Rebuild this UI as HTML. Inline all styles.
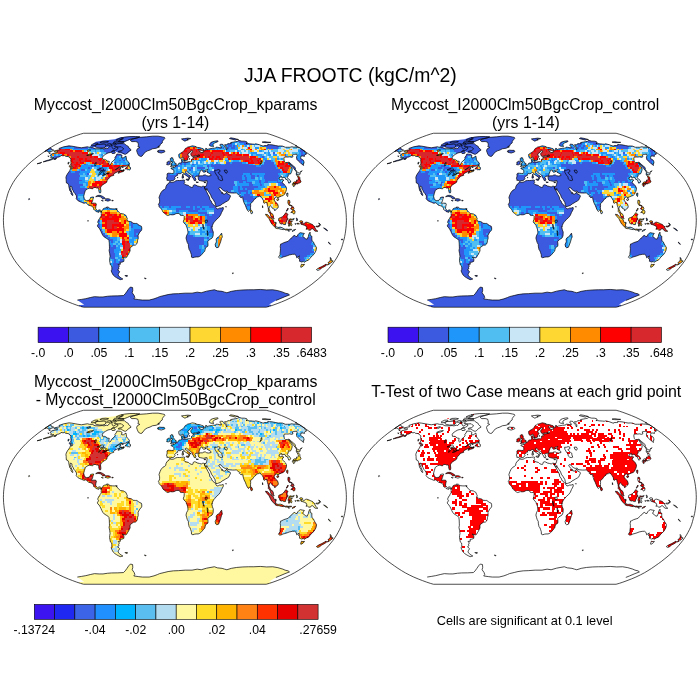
<!DOCTYPE html><html><head><meta charset="utf-8"><title>JJA FROOTC</title><style>html,body{margin:0;padding:0;background:#fff}svg{display:block}text{font-family:"Liberation Sans",Arial,Helvetica,sans-serif;fill:#000}</style></head><body><svg width="700" height="700" viewBox="0 0 700 700"><rect width="700" height="700" fill="#fff"/><defs><clipPath id="lc"><path clip-rule="nonzero" d="M-120.8,-69.3L-120.7,-68.4L-118.6,-68.3L-117.0,-68.4L-118.0,-67.6L-120.2,-67.0L-121.9,-66.8L-124.1,-65.7L-124.6,-64.7L-123.6,-63.9L-124.4,-62.9L-123.5,-62.7L-122.5,-62.6L-121.1,-62.6L-123.4,-61.4L-126.3,-60.2L-128.4,-59.7L-131.7,-58.4L-129.9,-58.7L-127.2,-59.4L-125.0,-59.9L-122.4,-60.9L-119.4,-61.9L-117.9,-62.9L-116.0,-63.2L-112.8,-65.1L-112.5,-64.4L-110.2,-64.7L-109.2,-63.9L-106.7,-63.7L-105.7,-63.2L-105.3,-62.4L-103.9,-61.4L-104.2,-59.4L-103.9,-58.4L-103.9,-56.3L-104.4,-55.1L-103.1,-54.0L-102.4,-53.0L-102.1,-52.5L-103.0,-51.1L-104.2,-52.0L-105.2,-49.5L-107.5,-46.3L-108.6,-44.2L-109.0,-42.6L-108.7,-40.8L-108.7,-39.4L-108.5,-37.3L-106.9,-36.7L-106.2,-35.1L-105.9,-32.9L-105.5,-31.3L-105.2,-29.7L-103.8,-28.0L-103.9,-26.6L-102.6,-24.8L-101.9,-25.0L-102.2,-25.9L-103.1,-28.0L-104.0,-30.2L-104.9,-32.4L-104.3,-34.2L-103.0,-33.4L-102.9,-31.3L-101.8,-29.7L-101.1,-28.0L-100.1,-27.0L-98.7,-24.8L-98.3,-23.2L-98.7,-21.6L-97.1,-19.7L-95.0,-18.6L-93.2,-17.9L-90.9,-16.9L-89.0,-17.5L-88.1,-16.7L-86.4,-15.1L-84.6,-14.6L-82.7,-14.0L-81.3,-12.1L-81.3,-10.8L-80.2,-10.2L-78.8,-8.8L-77.4,-8.3L-76.0,-7.9L-76.0,-9.2L-74.5,-9.0L-74.0,-7.8L-73.4,-9.3L-74.3,-10.0L-75.6,-10.4L-77.4,-9.6L-78.3,-10.2L-79.3,-11.9L-79.0,-14.0L-78.5,-16.1L-79.1,-17.0L-81.0,-17.1L-83.7,-17.0L-83.1,-17.8L-82.3,-19.4L-82.0,-21.0L-81.2,-23.2L-82.6,-23.2L-84.4,-22.7L-84.7,-21.4L-85.8,-20.0L-87.3,-19.8L-88.7,-19.6L-90.0,-20.5L-90.7,-21.9L-91.2,-24.1L-90.4,-27.0L-89.5,-29.9L-87.1,-31.5L-85.6,-32.0L-83.8,-31.8L-83.0,-31.5L-82.1,-31.5L-81.3,-32.7L-79.0,-32.8L-78.3,-32.1L-76.8,-32.4L-76.0,-31.3L-76.2,-30.2L-75.7,-28.0L-75.1,-27.2L-74.3,-27.5L-74.0,-29.1L-74.4,-32.4L-73.7,-34.0L-72.0,-35.6L-70.4,-36.6L-69.3,-37.2L-68.2,-38.0L-67.7,-39.9L-66.9,-41.0L-65.3,-42.6L-64.8,-43.8L-62.8,-44.4L-60.9,-45.1L-61.3,-45.9L-60.2,-47.1L-58.7,-47.7L-57.2,-48.5L-54.9,-49.0L-56.5,-47.9L-56.7,-46.9L-54.4,-47.9L-52.0,-48.7L-50.9,-49.5L-51.5,-50.6L-52.7,-49.3L-54.7,-49.7L-55.1,-51.1L-53.7,-52.2L-54.1,-52.7L-56.3,-52.5L-58.5,-50.9L-59.5,-50.6L-56.6,-52.7L-54.9,-53.9L-52.0,-53.9L-49.5,-54.0L-48.0,-54.8L-45.7,-55.6L-45.4,-56.6L-46.1,-57.9L-47.3,-58.9L-48.3,-60.4L-48.6,-62.4L-48.9,-64.2L-50.1,-63.4L-51.7,-62.3L-53.5,-62.7L-52.8,-64.9L-54.5,-65.9L-55.9,-66.1L-58.0,-66.2L-58.7,-64.4L-60.0,-62.7L-59.7,-61.9L-60.5,-60.4L-63.4,-57.9L-64.0,-56.3L-65.1,-55.1L-66.0,-55.8L-66.0,-57.3L-65.6,-58.9L-67.5,-59.2L-69.1,-60.4L-70.4,-60.9L-72.3,-60.9L-72.6,-62.9L-71.6,-64.4L-69.4,-65.9L-66.9,-67.3L-64.4,-67.8L-63.0,-68.7L-61.6,-69.7L-59.3,-70.0L-57.4,-71.1L-56.8,-72.5L-58.5,-72.9L-61.6,-71.1L-62.5,-72.3L-63.0,-73.4L-63.0,-75.0L-65.7,-73.4L-67.1,-71.7L-68.3,-72.0L-70.9,-71.4L-72.7,-71.7L-75.8,-71.4L-79.9,-71.5L-82.6,-72.9L-85.4,-72.9L-87.4,-73.5L-93.5,-72.5L-97.0,-73.0L-99.7,-73.5L-103.1,-74.1L-105.9,-74.4L-111.3,-73.4L-115.9,-71.8L-114.9,-70.5L-116.8,-70.2ZM-73.4,-9.3L-73.6,-7.0L-73.7,-5.9L-73.6,-4.3L-74.8,-2.7L-75.1,-1.6L-76.0,-1.1L-76.2,-0.3L-77.0,1.1L-77.0,2.5L-76.2,3.6L-77.4,4.9L-77.2,6.5L-75.8,7.8L-75.0,9.2L-73.9,11.3L-73.1,13.2L-72.1,15.1L-70.7,16.7L-68.7,17.9L-67.0,18.9L-66.0,20.0L-65.6,22.7L-65.5,25.9L-65.4,28.0L-65.8,30.2L-65.2,33.4L-64.8,36.1L-65.2,38.3L-65.3,40.4L-64.9,42.6L-64.5,44.7L-63.2,45.8L-63.1,47.4L-63.0,49.0L-63.7,50.6L-63.1,52.2L-61.7,54.8L-60.1,56.3L-58.6,57.3L-56.7,58.4L-54.7,59.4L-53.2,59.2L-52.0,58.7L-52.7,58.4L-55.2,56.8L-55.7,56.1L-56.8,54.8L-56.6,53.9L-56.3,53.2L-55.3,51.6L-55.5,51.1L-57.3,49.5L-55.9,48.5L-56.3,46.9L-55.4,45.8L-56.8,44.2L-54.5,44.0L-54.7,42.1L-53.0,41.9L-51.1,41.2L-50.9,39.4L-51.3,38.3L-52.6,36.7L-50.8,37.5L-49.4,37.6L-48.2,37.0L-47.5,35.6L-46.4,34.0L-45.7,32.4L-44.8,30.7L-44.9,28.6L-44.5,27.3L-42.7,25.9L-41.4,25.0L-39.4,24.8L-38.2,23.7L-37.4,21.6L-37.3,20.0L-36.7,18.3L-36.8,15.1L-36.2,13.8L-35.1,11.9L-33.2,9.7L-33.1,7.6L-33.6,5.9L-35.0,5.4L-36.6,4.3L-38.1,3.2L-39.5,3.2L-41.9,3.0L-42.9,1.9L-44.3,1.3L-46.2,1.1L-48.1,0.0L-47.6,-1.6L-48.1,-2.7L-49.0,-4.9L-50.0,-5.4L-51.4,-6.3L-52.8,-6.5L-54.7,-6.8L-55.6,-7.6L-57.0,-9.2L-57.9,-10.2L-58.8,-11.5L-60.7,-11.3L-62.6,-11.4L-64.9,-11.6L-66.3,-12.9L-67.8,-11.9L-67.6,-13.5L-69.1,-12.4L-70.3,-12.1L-71.6,-11.6L-72.1,-10.2ZM-5.4,-38.6L-6.1,-36.9L-7.7,-35.9L-8.9,-33.8L-9.2,-31.8L-10.6,-30.7L-12.0,-30.0L-13.7,-28.0L-14.9,-25.6L-15.9,-22.7L-15.3,-20.5L-15.3,-18.9L-15.5,-17.3L-16.5,-15.9L-15.9,-14.6L-15.8,-13.5L-14.2,-11.9L-13.1,-10.6L-12.5,-9.5L-11.9,-8.1L-10.9,-7.3L-10.0,-6.7L-8.6,-5.4L-7.1,-4.7L-5.7,-5.2L-4.3,-5.6L-2.7,-5.4L-1.0,-5.6L0.5,-6.3L1.9,-6.8L4.2,-6.8L4.8,-6.3L5.5,-4.9L6.7,-4.7L8.4,-4.9L9.3,-3.8L9.3,-2.2L9.1,-0.5L8.4,0.9L9.0,2.7L10.5,4.1L11.4,5.4L11.6,6.5L12.2,7.6L12.8,9.7L13.1,11.9L12.8,13.5L11.8,15.1L11.1,17.8L11.7,20.0L12.3,22.1L13.5,24.3L13.5,25.9L13.9,28.0L14.1,29.1L15.2,30.7L15.8,32.4L16.5,34.5L16.6,36.9L18.0,37.5L19.8,36.9L21.2,36.7L23.2,36.7L24.4,36.3L25.8,35.4L27.3,33.8L28.4,32.4L29.8,31.0L30.3,29.1L30.6,27.5L33.0,25.9L33.1,23.7L32.8,21.4L34.8,19.2L37.2,17.8L38.2,15.6L38.4,11.6L37.9,10.8L37.5,9.2L36.9,7.0L37.6,4.9L38.6,2.7L40.0,1.1L41.9,-1.1L43.8,-2.7L45.5,-4.9L46.6,-7.6L47.5,-9.2L48.5,-11.3L48.3,-12.8L46.4,-12.2L44.5,-12.1L43.6,-11.6L42.2,-11.3L41.0,-12.5L40.7,-13.5L39.2,-15.1L37.7,-16.2L37.0,-17.3L36.2,-19.4L35.0,-20.5L34.5,-23.2L34.0,-24.1L33.0,-25.9L31.4,-29.1L30.5,-30.5L29.7,-32.2L29.5,-33.7L28.7,-34.0L27.8,-34.0L26.4,-33.3L24.6,-33.8L22.7,-34.2L20.9,-35.2L19.5,-35.5L18.3,-34.8L18.2,-34.0L17.8,-32.9L16.4,-32.9L14.6,-33.8L13.6,-34.8L11.3,-35.4L9.9,-35.8L9.2,-36.9L9.9,-37.8L9.4,-38.8L9.8,-39.9L8.7,-40.2L6.7,-39.9L4.5,-39.7L2.7,-39.8L0.9,-39.4L-0.4,-38.6L-1.8,-38.0L-4.0,-38.0ZM-4.9,-38.8L-4.0,-39.6L-1.8,-39.7L-0.6,-40.5L0.2,-41.8L-0.3,-42.6L0.7,-44.0L2.9,-45.1L2.8,-45.8L3.4,-46.9L5.2,-46.4L6.4,-47.2L7.5,-47.8L8.8,-47.3L9.1,-46.3L10.7,-45.1L12.2,-44.1L13.6,-43.3L14.1,-42.1L13.9,-41.0L14.4,-41.0L14.6,-42.6L14.9,-43.7L16.2,-43.3L15.3,-44.2L13.7,-45.3L11.8,-46.9L10.7,-47.4L10.6,-48.8L11.7,-49.1L12.4,-48.7L13.8,-46.9L16.0,-45.8L16.9,-44.7L17.5,-42.9L18.8,-41.3L19.3,-39.8L20.5,-39.4L21.1,-41.2L20.1,-42.4L20.2,-43.4L21.0,-44.0L22.9,-44.0L24.4,-44.8L24.1,-46.0L24.6,-47.2L25.3,-48.8L26.0,-50.0L26.9,-50.2L28.4,-49.5L27.8,-48.9L28.7,-47.9L29.9,-48.2L31.1,-48.8L30.2,-48.9L29.7,-49.7L31.7,-50.4L33.0,-50.8L31.9,-49.3L32.1,-48.1L34.3,-46.9L36.0,-45.8L36.2,-44.7L33.6,-44.2L31.8,-44.5L30.6,-45.3L29.1,-45.3L27.5,-44.4L25.3,-44.4L23.6,-43.7L23.0,-43.1L23.6,-42.4L23.3,-41.3L24.3,-39.8L25.9,-39.5L27.2,-39.2L29.1,-38.9L30.8,-39.6L32.2,-39.5L32.2,-37.8L31.7,-35.4L31.1,-33.8L29.7,-33.7L29.8,-32.2L30.5,-30.8L31.5,-30.0L31.6,-30.2L31.9,-31.8L32.5,-30.2L34.4,-27.5L35.8,-25.3L36.6,-23.0L38.4,-20.5L40.0,-17.8L40.4,-16.0L41.1,-13.7L42.6,-13.8L44.0,-14.3L46.0,-15.1L47.2,-16.2L49.2,-17.3L50.8,-18.3L52.6,-19.3L54.1,-20.5L54.7,-22.0L55.7,-24.2L54.6,-25.5L52.4,-26.4L52.0,-28.3L50.1,-26.1L48.0,-26.4L47.4,-28.0L47.1,-26.6L46.6,-27.7L46.2,-28.8L44.7,-30.5L43.9,-32.1L44.6,-32.7L45.7,-32.6L46.6,-31.3L48.4,-29.8L50.3,-28.8L52.3,-29.2L53.2,-27.7L55.1,-27.4L57.5,-27.2L59.3,-27.2L61.6,-27.4L62.4,-26.6L63.7,-25.3L65.4,-24.8L64.5,-23.9L66.2,-22.4L67.5,-23.3L67.8,-22.7L68.2,-20.5L69.2,-17.3L70.4,-15.1L71.3,-12.7L72.4,-10.2L73.6,-8.7L74.2,-9.6L74.8,-9.9L75.7,-11.1L75.6,-12.7L75.8,-14.6L75.6,-16.7L77.4,-18.0L78.4,-19.4L79.6,-21.0L81.2,-22.1L81.2,-23.0L83.0,-23.5L84.1,-23.7L85.2,-24.5L85.9,-23.2L87.5,-21.6L88.6,-19.4L88.8,-17.3L90.0,-17.0L90.8,-17.8L91.9,-17.8L92.2,-16.2L92.6,-14.6L93.2,-12.9L93.5,-10.8L93.4,-8.8L94.8,-7.3L95.5,-5.9L95.5,-4.9L96.5,-3.0L98.5,-1.4L99.3,-1.5L98.6,-2.9L98.4,-4.9L97.3,-6.7L95.8,-7.3L95.1,-9.2L94.0,-11.3L94.3,-12.4L94.6,-13.5L95.4,-14.5L96.8,-13.3L97.6,-11.9L99.6,-11.0L99.9,-9.4L100.6,-10.2L101.4,-11.2L103.2,-12.4L103.4,-14.0L102.6,-16.5L100.7,-18.1L100.1,-18.9L99.1,-20.3L99.7,-21.6L100.8,-23.3L102.4,-23.2L103.2,-21.9L103.6,-23.1L105.0,-23.5L106.3,-24.1L108.4,-24.8L110.0,-26.4L110.2,-27.3L110.9,-28.6L111.6,-30.7L111.6,-32.4L111.1,-33.2L110.7,-34.3L109.6,-35.4L108.5,-36.7L107.2,-37.8L108.0,-39.4L109.0,-40.1L106.9,-40.8L105.6,-40.4L104.1,-41.5L104.0,-42.3L105.2,-42.6L106.2,-44.1L106.9,-43.7L107.0,-42.1L107.8,-42.4L109.1,-43.1L110.2,-42.6L110.8,-41.0L112.6,-40.4L113.2,-38.8L113.9,-37.1L114.7,-37.4L115.4,-37.8L115.9,-38.3L115.2,-39.9L113.7,-41.5L112.3,-42.4L112.4,-43.1L113.3,-44.2L113.4,-45.6L113.5,-46.5L115.0,-46.1L116.0,-46.7L116.5,-47.9L116.8,-48.8L117.2,-50.0L117.3,-51.1L117.2,-52.2L115.4,-54.8L114.1,-57.0L112.3,-57.9L110.6,-57.5L109.6,-58.7L109.3,-59.9L109.0,-61.4L109.2,-62.4L109.5,-63.2L111.8,-63.2L113.4,-63.2L114.7,-63.4L116.7,-62.9L118.1,-63.4L117.4,-65.4L118.3,-65.6L119.6,-65.7L121.7,-66.2L122.3,-64.4L121.6,-63.4L121.7,-61.9L122.0,-60.7L123.3,-59.4L125.0,-57.9L126.6,-56.3L128.7,-54.8L128.3,-56.7L129.2,-57.0L129.0,-58.4L128.9,-58.9L128.4,-60.1L125.8,-61.7L125.8,-62.7L126.1,-64.1L127.3,-64.3L129.7,-63.9L129.6,-64.9L130.1,-65.7L131.8,-66.3L130.9,-67.3L129.7,-68.4L130.3,-68.7L124.8,-72.4L120.9,-73.1L118.7,-73.2L116.7,-73.4L114.9,-73.0L112.8,-73.0L110.4,-73.0L107.8,-74.1L105.5,-74.3L103.3,-74.2L100.8,-74.7L97.2,-75.4L94.9,-75.6L92.8,-75.7L92.8,-74.7L91.4,-74.7L89.4,-74.7L89.2,-74.1L87.4,-74.4L84.3,-75.6L80.9,-76.4L79.5,-76.0L77.6,-76.2L74.4,-76.4L72.7,-76.7L71.1,-76.7L72.4,-77.3L71.7,-78.6L69.4,-79.1L66.9,-79.1L64.0,-79.9L62.7,-79.0L60.6,-78.6L58.5,-78.2L55.8,-77.7L56.3,-76.9L54.6,-76.6L52.7,-76.5L51.9,-75.4L49.8,-75.6L50.1,-74.7L52.0,-72.5L52.1,-71.1L51.6,-70.2L51.2,-72.0L49.6,-73.4L49.2,-74.3L48.0,-75.8L46.8,-76.0L45.5,-76.0L45.1,-75.6L45.0,-74.7L46.3,-73.8L46.5,-72.3L44.5,-72.7L42.6,-73.0L41.5,-73.2L41.0,-72.3L39.7,-72.1L37.6,-72.0L37.0,-71.8L35.0,-71.5L33.7,-71.3L32.7,-70.4L32.2,-71.5L30.7,-71.8L31.1,-70.0L30.0,-70.1L28.6,-69.7L29.0,-68.5L27.6,-68.3L27.5,-67.6L25.4,-68.1L25.2,-68.7L23.5,-70.3L24.5,-70.2L27.5,-69.8L29.1,-70.3L28.4,-71.4L26.5,-72.0L24.9,-72.6L22.8,-72.8L20.6,-73.1L21.1,-73.6L19.3,-74.1L17.4,-74.4L16.3,-74.1L15.0,-73.6L14.0,-73.4L12.7,-73.1L11.5,-72.2L10.5,-71.8L9.9,-70.9L9.3,-70.0L9.0,-69.5L8.0,-68.5L7.3,-67.8L6.2,-67.4L4.5,-66.3L3.9,-65.9L3.8,-64.9L4.2,-62.7L5.0,-62.1L6.2,-62.0L8.0,-63.2L8.6,-62.4L9.0,-61.4L9.8,-60.2L10.1,-59.4L11.3,-59.4L12.8,-60.2L12.8,-61.4L13.5,-62.7L14.3,-63.9L13.0,-64.9L13.0,-66.3L14.0,-67.1L15.3,-68.0L15.8,-69.2L17.2,-69.5L18.1,-68.7L17.2,-68.0L15.9,-66.8L15.9,-65.9L16.2,-64.7L17.4,-63.8L19.0,-64.1L20.4,-64.4L21.6,-64.5L23.0,-63.8L21.0,-63.4L19.5,-63.4L18.0,-63.1L18.8,-62.2L18.9,-61.4L18.4,-60.9L17.5,-61.6L16.6,-60.9L16.7,-59.2L15.8,-58.4L14.8,-58.6L13.2,-58.4L11.2,-57.9L10.0,-58.2L8.7,-57.9L8.0,-58.9L8.5,-60.2L8.2,-61.6L7.4,-61.1L6.4,-60.9L6.8,-59.1L7.0,-57.7L5.6,-57.3L4.0,-57.1L3.7,-56.3L2.9,-55.2L1.3,-54.6L0.2,-53.2L-0.8,-53.1L-1.5,-53.4L-1.3,-52.4L-2.5,-52.5L-3.8,-52.3L-3.9,-51.6L-1.9,-50.8L-1.0,-49.5L-1.0,-47.9L-1.6,-46.8L-3.4,-46.8L-5.2,-47.0L-6.9,-47.1L-7.9,-46.3L-7.7,-44.2L-8.4,-41.7L-7.8,-41.3L-8.0,-39.9L-6.7,-39.9L-5.6,-39.7ZM-124.8,-72.4L-130.3,-68.7L-128.5,-69.2L-127.0,-69.0L-126.5,-68.1L-125.2,-68.3L-121.5,-69.7L-121.4,-70.4L-123.3,-70.6L-123.6,-71.8ZM105.8,23.7L105.3,26.4L105.6,28.0L105.5,30.7L105.2,32.4L105.1,34.5L103.6,37.0L104.6,37.8L106.0,37.8L108.2,36.7L109.2,36.5L112.2,35.6L114.4,34.7L117.4,34.1L119.7,34.0L121.4,35.4L121.8,37.5L123.1,36.7L124.5,35.6L123.7,38.3L124.8,38.8L124.6,41.0L125.7,41.4L126.8,41.8L128.4,41.2L129.1,42.1L131.3,40.8L133.6,39.9L134.9,38.3L136.2,36.7L139.1,34.0L141.0,30.7L141.7,27.5L140.4,25.3L139.4,23.7L138.5,21.6L137.1,20.5L136.9,17.8L137.0,16.0L135.5,15.3L135.3,13.5L135.2,11.9L134.0,13.8L133.5,16.2L132.3,18.9L130.7,18.7L129.5,17.3L127.8,16.2L128.5,14.6L129.5,13.2L127.8,12.9L125.5,12.4L124.0,13.3L122.9,14.6L122.2,16.2L120.7,16.2L119.9,15.1L118.5,15.6L117.3,17.3L115.7,18.3L114.7,19.4L113.3,21.0L111.4,21.6L108.9,22.4L106.8,23.5ZM-98.1,84.9L-91.3,88.0L91.3,88.0L98.1,84.9L94.2,84.3L101.0,80.2L104.7,78.7L110.1,76.4L114.6,74.7L113.2,73.6L110.2,72.9L108.0,71.9L103.0,70.4L97.8,69.5L91.7,69.7L85.4,69.2L78.9,69.5L73.8,69.5L68.0,69.7L61.8,70.2L56.4,71.1L52.0,72.5L49.7,71.9L47.2,71.1L42.5,70.6L39.5,69.5L31.8,70.9L26.3,72.5L22.3,71.9L17.2,72.9L10.3,72.9L3.4,73.4L-1.6,73.6L-6.8,74.3L-10.0,75.1L-15.4,76.4L-17.4,77.3L-20.9,78.6L-25.7,79.8L-32.5,79.8L-36.1,79.4L-41.1,78.7L-40.1,77.3L-40.7,75.3L-42.7,72.5L-42.1,70.2L-42.3,67.3L-44.5,66.8L-46.3,68.7L-47.9,71.1L-49.7,73.6L-51.4,75.3L-57.1,75.6L-63.4,75.7L-67.3,76.0L-71.9,76.7L-75.7,76.7L-80.5,76.4L-84.6,77.3L-89.1,78.4L-93.6,79.2L-97.6,79.8L-90.7,84.6ZM-44.5,-80.3L-44.2,-79.4L-43.0,-78.6L-39.7,-78.7L-37.2,-78.1L-36.8,-76.9L-36.4,-75.1L-37.1,-73.8L-35.1,-72.9L-37.5,-71.5L-38.3,-69.7L-37.7,-67.8L-37.1,-66.3L-36.2,-64.7L-34.3,-63.8L-32.9,-64.1L-31.2,-66.3L-29.5,-68.3L-27.3,-69.4L-24.9,-70.2L-22.4,-71.5L-18.8,-72.0L-15.4,-73.4L-17.1,-73.6L-14.8,-74.7L-14.5,-76.0L-12.6,-77.3L-12.6,-78.6L-11.6,-80.2L-10.1,-81.7L-10.4,-82.8L-12.5,-83.3L-16.8,-84.1L-22.3,-84.1L-28.4,-83.4L-35.7,-82.9L-40.3,-81.7ZM-17.5,-69.2L-17.4,-68.6L-16.0,-68.6L-16.6,-67.8L-15.4,-67.6L-13.6,-67.2L-10.9,-68.1L-9.9,-68.7L-10.7,-69.9L-12.9,-69.9L-15.7,-70.1ZM-4.5,-53.7L-2.9,-54.0L-0.8,-54.4L1.1,-55.0L1.4,-56.5L0.2,-56.8L-0.2,-57.9L-1.2,-59.1L-1.7,-59.9L-1.6,-61.4L-2.7,-61.6L-2.3,-62.5L-3.9,-62.5L-4.7,-61.4L-4.3,-59.9L-4.0,-58.7L-2.6,-58.7L-2.4,-57.3L-3.6,-57.0L-3.5,-56.0L-4.2,-55.6L-2.7,-55.2L-3.7,-54.8ZM-8.2,-55.6L-6.5,-55.4L-5.1,-56.0L-4.8,-57.3L-4.5,-58.5L-5.2,-59.1L-6.5,-59.1L-6.8,-58.3L-8.0,-58.1L-7.7,-57.1L-8.1,-56.3ZM6.6,-81.3L8.6,-79.8L10.0,-79.1L11.7,-79.8L13.4,-80.4L12.0,-81.0L14.4,-81.2L16.0,-81.7L12.9,-82.1L9.5,-81.7ZM34.6,-74.7L35.9,-74.1L37.4,-73.9L39.0,-74.0L37.9,-74.9L38.3,-76.0L39.4,-77.3L42.0,-78.1L43.3,-78.9L42.9,-79.4L40.6,-79.2L37.9,-78.6L35.9,-77.7L35.2,-76.7L34.5,-75.6ZM57.2,-81.0L60.6,-80.2L62.0,-81.0L63.7,-80.6L59.0,-81.9L55.9,-82.4L54.5,-81.7ZM87.2,-78.1L90.1,-77.6L93.3,-77.6L95.9,-77.9L93.0,-78.1L89.7,-78.6ZM118.0,-36.7L119.1,-36.5L120.2,-37.0L121.5,-37.3L122.2,-36.1L123.2,-37.0L124.8,-37.3L125.7,-37.8L126.1,-38.5L125.0,-41.0L125.0,-42.6L123.4,-44.5L122.5,-44.2L123.2,-42.6L123.6,-41.2L122.5,-39.9L121.6,-40.2L121.8,-38.6L119.2,-38.3L117.9,-37.2ZM122.0,-44.7L122.2,-45.8L124.5,-45.3L125.5,-46.7L123.9,-47.4L121.0,-48.9L122.0,-46.9L121.1,-46.5ZM117.3,-35.9L117.9,-35.1L118.6,-33.7L119.3,-33.8L119.4,-35.4L118.2,-36.5ZM119.5,-36.1L120.3,-35.4L120.8,-35.6L121.5,-36.5L120.7,-37.0ZM113.6,-58.2L115.1,-56.3L117.0,-54.2L119.0,-51.6L120.3,-49.8L121.5,-49.5L120.6,-50.6L120.3,-52.7L117.2,-55.3L115.4,-57.1ZM112.1,-27.2L111.7,-26.2L111.8,-24.8L112.7,-23.7L112.9,-24.8L113.1,-27.0ZM101.8,-20.8L102.3,-19.7L103.5,-20.0L103.9,-21.2L102.9,-21.6ZM113.1,-20.0L113.0,-17.3L113.7,-15.6L114.3,-14.8L115.8,-14.6L117.3,-13.6L117.2,-14.6L115.2,-15.1L114.5,-16.7L115.1,-17.8L114.7,-19.8ZM116.0,-7.6L117.3,-8.1L117.9,-7.0L119.2,-6.1L119.8,-6.8L120.2,-8.6L119.1,-10.5L117.3,-9.2ZM115.7,-11.3L116.6,-11.3L117.2,-10.2L118.5,-10.8L119.1,-11.9L118.3,-13.5L116.5,-12.7ZM111.3,-9.2L111.9,-9.1L113.1,-10.8L113.2,-12.2ZM103.8,-1.6L103.8,0.5L104.8,1.6L104.9,3.0L106.4,3.8L107.6,3.5L109.0,4.3L110.6,4.3L110.9,2.5L111.9,0.9L112.2,-0.8L113.4,-1.1L112.4,-2.2L112.1,-3.2L112.3,-4.6L113.2,-5.7L112.0,-6.8L110.9,-7.6L109.4,-5.4L107.6,-3.6L106.0,-2.7L104.3,-2.2ZM90.6,-6.0L90.9,-5.2L92.4,-3.5L94.1,-1.6L95.3,0.9L96.2,2.7L97.3,4.3L99.4,6.3L100.6,6.3L100.9,3.2L99.5,2.2L98.9,1.1L98.6,0.0L97.0,-1.8L95.7,-2.4L94.0,-4.1L92.8,-5.6ZM100.0,7.3L101.2,8.0L102.6,8.4L104.0,8.4L106.4,9.1L108.6,9.4L108.8,8.3L107.1,7.4L105.3,6.9L103.1,7.2L101.3,6.5ZM109.2,8.8L110.1,9.6L111.0,9.8L113.0,9.6L114.9,9.6L116.6,9.5L116.8,9.0L114.4,9.0L113.2,9.2L112.1,8.8L110.6,9.0ZM117.1,11.1L117.6,11.1L118.6,10.6L120.0,9.9L120.8,9.1L118.6,9.7ZM114.1,-0.5L113.6,1.4L113.1,2.9L113.8,3.8L113.7,5.9L114.5,5.9L114.6,3.2L115.2,2.9L115.6,5.1L116.5,5.7L117.1,4.5L116.6,3.5L116.0,2.0L117.0,1.6L117.5,0.9L115.7,1.0L114.6,1.0L115.3,-0.4L117.2,-0.4L118.6,-0.4L119.3,-1.7L117.2,-1.0L115.1,-1.4ZM121.4,-2.2L121.7,-0.9L121.9,0.8L122.6,-0.3L122.4,-1.6ZM121.9,3.2L121.9,3.7L123.3,3.8L124.5,3.6L123.3,3.0ZM124.8,0.9L124.8,1.5L126.0,2.4L127.1,2.6L125.7,3.1L126.4,4.3L127.1,4.2L129.4,5.0L131.3,5.9L131.9,7.6L131.1,9.0L132.5,8.8L133.8,9.8L135.5,9.9L135.8,9.2L137.3,8.3L138.6,9.2L139.9,10.8L141.3,11.1L142.9,11.1L142.3,10.6L141.0,9.2L139.9,7.3L140.3,6.5L138.7,5.7L137.7,4.3L136.1,3.7L134.3,2.8L131.9,1.9L130.5,2.2L128.7,3.7L127.8,2.7L127.7,1.0L126.2,0.4ZM141.1,5.9L141.7,6.7L143.1,6.7L144.6,5.9L144.9,4.5L144.2,5.3L142.7,5.9ZM143.6,2.8L144.2,3.5L145.1,4.3L145.6,5.0L145.2,3.8ZM75.7,-10.5L75.7,-8.1L76.3,-6.5L77.3,-6.8L77.7,-8.1L76.7,-9.9ZM46.7,12.9L45.4,14.6L44.3,16.4L42.4,17.3L41.3,18.9L41.5,21.6L40.3,24.3L40.8,26.7L41.9,27.5L43.6,27.0L44.5,24.8L45.7,21.6L46.6,18.3L47.4,16.7ZM155.4,37.2L155.5,39.7L154.9,41.0L153.1,42.4L153.7,43.1L152.4,44.5L152.6,44.8L154.8,43.7L155.8,42.6L157.6,41.6L158.1,40.5L156.4,40.7L156.5,39.6L156.1,38.1ZM151.2,43.8L149.2,45.1L146.9,46.3L144.1,47.6L141.5,49.3L142.0,49.7L142.9,50.2L144.8,49.4L146.9,47.7L149.3,46.5L151.7,44.9ZM126.6,43.9L126.0,45.6L125.8,46.9L126.6,46.9L128.6,45.5L129.6,44.1L127.9,44.3ZM-79.2,-23.6L-77.4,-23.7L-76.0,-23.8L-73.7,-23.2L-72.9,-22.2L-72.5,-21.5L-70.7,-21.5L-69.4,-21.8L-70.5,-22.7L-72.7,-24.1L-74.9,-24.9L-77.3,-24.8ZM-69.8,-19.8L-68.1,-19.5L-67.0,-19.1L-65.2,-19.7L-64.2,-20.2L-65.5,-21.2L-66.9,-21.5L-68.6,-21.5ZM-73.5,-19.8L-72.5,-19.2L-71.6,-19.4L-72.2,-20.0ZM-63.0,-20.0L-63.1,-19.4L-61.8,-19.4L-61.6,-19.8ZM-49.8,-51.3L-48.3,-51.2L-47.3,-50.5L-46.4,-50.6L-45.2,-50.3L-44.4,-51.1L-44.5,-52.9L-45.9,-53.7L-45.6,-55.3L-47.4,-54.2ZM-105.5,-54.6L-105.6,-53.8L-104.6,-52.5L-103.5,-51.9L-103.0,-52.4L-104.0,-54.0ZM-52.6,-76.6L-55.5,-76.6L-57.6,-76.4L-59.8,-75.1L-60.6,-73.8L-58.1,-73.5L-56.1,-73.4L-53.6,-73.5L-52.6,-72.5L-51.1,-71.5L-53.0,-69.7L-56.3,-69.0L-56.5,-68.1L-53.8,-68.3L-52.6,-67.3L-50.9,-66.3L-49.6,-65.9L-48.0,-66.8L-46.3,-68.7L-43.9,-70.0L-43.9,-70.6L-46.3,-72.7L-46.6,-73.8L-48.8,-75.1L-50.4,-76.5ZM-79.8,-73.6L-78.0,-72.7L-75.1,-72.2L-72.2,-72.3L-69.9,-72.9L-69.0,-74.3L-69.4,-75.8L-71.0,-76.2L-74.8,-75.8L-77.7,-75.8L-80.0,-74.7ZM-83.8,-75.1L-83.0,-74.4L-80.7,-74.7L-76.9,-76.3L-77.1,-77.1L-80.0,-77.1L-82.4,-76.0ZM-56.4,-79.0L-53.5,-78.8L-50.4,-78.7L-47.5,-79.8L-45.1,-81.0L-41.4,-81.7L-37.1,-82.6L-35.2,-83.4L-39.4,-83.7L-45.0,-83.7L-50.4,-83.1L-53.6,-82.4L-52.5,-81.3L-55.1,-80.2ZM-61.6,-77.7L-59.4,-77.4L-55.6,-77.3L-51.5,-77.5L-50.8,-78.3L-54.5,-78.4L-57.7,-79.0L-60.2,-79.0ZM-58.8,-80.2L-56.9,-80.2L-53.4,-80.6L-51.5,-81.7L-53.0,-82.4L-56.2,-81.7ZM-75.0,-77.7L-72.4,-77.3L-68.2,-77.6L-66.3,-78.6L-69.0,-79.0L-73.0,-78.8ZM-68.5,-75.1L-67.0,-75.0L-64.8,-75.1L-63.5,-76.4L-65.6,-76.7L-67.6,-76.0ZM-63.6,-75.4L-62.1,-75.1L-58.7,-76.7L-60.3,-77.0L-62.5,-76.5ZM-62.6,-69.2L-63.6,-67.8L-62.8,-66.8L-60.6,-66.8L-59.5,-67.3L-60.6,-69.0ZM-120.5,-61.2L-120.5,-60.7L-118.8,-61.2L-118.3,-61.8ZM-106.7,-57.9L-106.9,-56.8L-106.6,-56.0L-105.7,-57.9ZM7.2,-42.1L8.6,-42.3L8.5,-44.2L7.3,-44.1ZM7.5,-44.7L8.3,-44.7L8.1,-46.3ZM11.1,-41.0L11.4,-40.4L13.5,-39.7L13.7,-41.2ZM21.1,-38.3L22.0,-37.6L23.5,-38.0ZM29.0,-37.8L30.4,-37.4L30.9,-38.4ZM8.9,-59.6L9.8,-58.9L9.9,-59.9ZM14.2,-61.1L14.7,-60.9L14.7,-61.8ZM-146.2,-20.6L-145.2,-21.1L-145.8,-21.8ZM153.4,21.8L154.4,23.5L155.7,24.1L155.3,23.5ZM166.6,18.9L166.5,19.5L167.6,19.6L167.7,18.9ZM148.7,7.6L149.6,8.6L151.8,10.2L152.7,10.6L151.5,9.0ZM-49.9,55.3L-49.2,56.0L-47.6,56.1L-47.5,55.2ZM-30.5,57.9L-29.1,58.7L-28.8,58.2ZM57.5,52.7L57.6,53.4L58.6,52.9ZM50.6,-13.6L50.9,-13.3L51.6,-13.5ZM-58.6,-11.5L-58.7,-10.9L-57.8,-10.9L-57.8,-11.6ZM-87.2,0.3L-86.9,1.1L-86.5,0.4ZM2.2,-42.6L2.8,-42.4L3.0,-43.0ZM37.3,6.3L37.4,6.9L37.6,6.7ZM100.3,1.9L100.9,3.2L101.6,2.7ZM120.0,3.5L120.4,4.1L121.1,3.6ZM112.9,10.2L113.8,11.1L114.6,10.7ZM87.6,-14.6L87.6,-12.4L88.0,-12.9ZM125.0,-47.9L126.4,-48.5L127.3,-49.5L126.4,-49.0ZM-137.8,-56.5L-134.7,-57.1L-133.2,-57.9L-135.5,-57.1ZM-126.1,-67.3L-125.6,-66.8L-124.5,-67.1ZM-127.1,-64.1L-126.5,-63.7L-125.8,-64.1ZM-54.4,-50.2L-53.5,-49.5L-52.5,-49.9ZM-53.4,-53.5L-52.8,-52.9L-51.5,-53.0ZM-52.2,-49.1L-50.8,-49.5L-50.9,-50.6ZM120.5,-74.4L121.9,-74.2L121.0,-74.7ZM-85.6,-73.4L-79.2,-72.9L-72.7,-72.5L-66.8,-72.9L-62.3,-72.5L-61.6,-70.6L-63.0,-68.7L-59.4,-68.7L-57.0,-67.8L-50.7,-65.9L-47.3,-66.8L-43.9,-70.6L-46.6,-73.4L-49.8,-75.6L-52.0,-76.9L-48.9,-79.0L-43.3,-81.0L-35.8,-82.8L-34.9,-83.7L-41.9,-84.1L-54.4,-83.1L-60.2,-81.0L-71.0,-79.8L-79.0,-78.6Z"/></clipPath><path id="cst" fill="none" stroke="#000" stroke-width="0.7" stroke-linejoin="round" d="M-120.8,-69.3L-116.8,-70.2L-114.9,-70.5L-115.9,-71.8L-111.3,-73.4L-105.9,-74.4L-103.1,-74.1L-99.7,-73.5L-97.0,-73.0L-93.5,-72.5L-87.4,-73.5L-85.4,-72.9L-82.6,-72.9L-79.9,-71.5L-75.8,-71.4L-72.7,-71.7L-70.9,-71.4L-68.3,-72.0L-67.1,-71.7L-65.7,-73.4L-63.0,-75.0L-63.0,-73.4L-62.5,-72.3L-61.6,-71.1L-58.5,-72.9L-56.8,-72.5L-57.4,-71.1L-59.3,-70.0L-61.6,-69.7L-63.0,-68.7L-64.4,-67.8L-66.9,-67.3L-69.4,-65.9L-71.6,-64.4L-72.6,-62.9L-72.3,-60.9L-70.4,-60.9L-69.1,-60.4L-67.5,-59.2L-65.6,-58.9L-66.0,-57.3L-66.0,-55.8L-65.1,-55.1L-64.0,-56.3L-63.4,-57.9L-60.5,-60.4L-59.7,-61.9L-60.0,-62.7L-58.7,-64.4L-58.0,-66.2L-55.9,-66.1L-54.5,-65.9L-52.8,-64.9L-53.5,-62.7L-51.7,-62.3L-50.1,-63.4L-48.9,-64.2L-48.6,-62.4L-48.3,-60.4L-47.3,-58.9L-46.1,-57.9L-45.4,-56.6L-45.7,-55.6L-48.0,-54.8L-49.5,-54.0L-52.0,-53.9L-54.9,-53.9L-56.6,-52.7L-59.5,-50.6L-58.5,-50.9L-56.3,-52.5L-54.1,-52.7L-53.7,-52.2L-55.1,-51.1L-54.7,-49.7L-52.7,-49.3L-51.5,-50.6L-50.9,-49.5L-52.0,-48.7L-54.4,-47.9L-56.7,-46.9L-56.5,-47.9L-54.9,-49.0L-57.2,-48.5L-58.7,-47.7L-60.2,-47.1L-61.3,-45.9L-60.9,-45.1L-62.8,-44.4L-64.8,-43.8L-65.3,-42.6L-66.9,-41.0L-67.7,-39.9L-68.2,-38.0L-69.3,-37.2L-70.4,-36.6L-72.0,-35.6L-73.7,-34.0L-74.4,-32.4L-74.0,-29.1L-74.3,-27.5L-75.1,-27.2L-75.7,-28.0L-76.2,-30.2L-76.0,-31.3L-76.8,-32.4L-78.3,-32.1L-79.0,-32.8L-81.3,-32.7L-82.1,-31.5L-83.0,-31.5L-83.8,-31.8L-85.6,-32.0L-87.1,-31.5L-89.5,-29.9L-90.4,-27.0L-91.2,-24.1L-90.7,-21.9L-90.0,-20.5L-88.7,-19.6L-87.3,-19.8L-85.8,-20.0L-84.7,-21.4L-84.4,-22.7L-82.6,-23.2L-81.2,-23.2L-82.0,-21.0L-82.3,-19.4L-83.1,-17.8L-83.7,-17.0L-81.0,-17.1L-79.1,-17.0L-78.5,-16.1L-79.0,-14.0L-79.3,-11.9L-78.3,-10.2L-77.4,-9.6L-75.6,-10.4L-74.3,-10.0L-73.4,-9.3L-74.0,-7.8L-74.5,-9.0L-76.0,-9.2L-76.0,-7.9L-77.4,-8.3L-78.8,-8.8L-80.2,-10.2L-81.3,-10.8L-81.3,-12.1L-82.7,-14.0L-84.6,-14.6L-86.4,-15.1L-88.1,-16.7L-89.0,-17.5L-90.9,-16.9L-93.2,-17.9L-95.0,-18.6L-97.1,-19.7L-98.7,-21.6L-98.3,-23.2L-98.7,-24.8L-100.1,-27.0L-101.1,-28.0L-101.8,-29.7L-102.9,-31.3L-103.0,-33.4L-104.3,-34.2L-104.9,-32.4L-104.0,-30.2L-103.1,-28.0L-102.2,-25.9L-101.9,-25.0L-102.6,-24.8L-103.9,-26.6L-103.8,-28.0L-105.2,-29.7L-105.5,-31.3L-105.9,-32.9L-106.2,-35.1L-106.9,-36.7L-108.5,-37.3L-108.7,-39.4L-108.7,-40.8L-109.0,-42.6L-108.6,-44.2L-107.5,-46.3L-105.2,-49.5L-104.2,-52.0L-103.0,-51.1L-102.1,-52.5L-102.4,-53.0L-103.1,-54.0L-104.4,-55.1L-103.9,-56.3L-103.9,-58.4L-104.2,-59.4L-103.9,-61.4L-105.3,-62.4L-105.7,-63.2L-106.7,-63.7L-109.2,-63.9L-110.2,-64.7L-112.5,-64.4L-112.8,-65.1L-116.0,-63.2L-117.9,-62.9L-119.4,-61.9L-122.4,-60.9L-125.0,-59.9L-127.2,-59.4L-129.9,-58.7L-131.7,-58.4L-128.4,-59.7L-126.3,-60.2L-123.4,-61.4L-121.1,-62.6L-122.5,-62.6L-123.5,-62.7L-124.4,-62.9L-123.6,-63.9L-124.6,-64.7L-124.1,-65.7L-121.9,-66.8L-120.2,-67.0L-118.0,-67.6L-117.0,-68.4L-118.6,-68.3L-120.7,-68.4L-120.8,-69.3ZM-73.4,-9.3L-72.1,-10.2L-71.6,-11.6L-70.3,-12.1L-69.1,-12.4L-67.6,-13.5L-67.8,-11.9L-66.3,-12.9L-64.9,-11.6L-62.6,-11.4L-60.7,-11.3L-58.8,-11.5L-57.9,-10.2L-57.0,-9.2L-55.6,-7.6L-54.7,-6.8L-52.8,-6.5L-51.4,-6.3L-50.0,-5.4L-49.0,-4.9L-48.1,-2.7L-47.6,-1.6L-48.1,0.0L-46.2,1.1L-44.3,1.3L-42.9,1.9L-41.9,3.0L-39.5,3.2L-38.1,3.2L-36.6,4.3L-35.0,5.4L-33.6,5.9L-33.1,7.6L-33.2,9.7L-35.1,11.9L-36.2,13.8L-36.8,15.1L-36.7,18.3L-37.3,20.0L-37.4,21.6L-38.2,23.7L-39.4,24.8L-41.4,25.0L-42.7,25.9L-44.5,27.3L-44.9,28.6L-44.8,30.7L-45.7,32.4L-46.4,34.0L-47.5,35.6L-48.2,37.0L-49.4,37.6L-50.8,37.5L-52.6,36.7L-51.3,38.3L-50.9,39.4L-51.1,41.2L-53.0,41.9L-54.7,42.1L-54.5,44.0L-56.8,44.2L-55.4,45.8L-56.3,46.9L-55.9,48.5L-57.3,49.5L-55.5,51.1L-55.3,51.6L-56.3,53.2L-56.6,53.9L-56.8,54.8L-55.7,56.1L-55.2,56.8L-52.7,58.4L-52.0,58.7L-53.2,59.2L-54.7,59.4L-56.7,58.4L-58.6,57.3L-60.1,56.3L-61.7,54.8L-63.1,52.2L-63.7,50.6L-63.0,49.0L-63.1,47.4L-63.2,45.8L-64.5,44.7L-64.9,42.6L-65.3,40.4L-65.2,38.3L-64.8,36.1L-65.2,33.4L-65.8,30.2L-65.4,28.0L-65.5,25.9L-65.6,22.7L-66.0,20.0L-67.0,18.9L-68.7,17.9L-70.7,16.7L-72.1,15.1L-73.1,13.2L-73.9,11.3L-75.0,9.2L-75.8,7.8L-77.2,6.5L-77.4,4.9L-76.2,3.6L-77.0,2.5L-77.0,1.1L-76.2,-0.3L-76.0,-1.1L-75.1,-1.6L-74.8,-2.7L-73.6,-4.3L-73.7,-5.9L-73.6,-7.0ZM-5.4,-38.6L-4.0,-38.0L-1.8,-38.0L-0.4,-38.6L0.9,-39.4L2.7,-39.8L4.5,-39.7L6.7,-39.9L8.7,-40.2L9.8,-39.9L9.4,-38.8L9.9,-37.8L9.2,-36.9L9.9,-35.8L11.3,-35.4L13.6,-34.8L14.6,-33.8L16.4,-32.9L17.8,-32.9L18.2,-34.0L18.3,-34.8L19.5,-35.5L20.9,-35.2L22.7,-34.2L24.6,-33.8L26.4,-33.3L27.8,-34.0L28.7,-34.0L29.5,-33.7L29.7,-32.2L30.5,-30.5L31.4,-29.1L33.0,-25.9L34.0,-24.1L34.5,-23.2L35.0,-20.5L36.2,-19.4L37.0,-17.3L37.7,-16.2L39.2,-15.1L40.7,-13.5L41.0,-12.5L42.2,-11.3L43.6,-11.6L44.5,-12.1L46.4,-12.2L48.3,-12.8L48.5,-11.3L47.5,-9.2L46.6,-7.6L45.5,-4.9L43.8,-2.7L41.9,-1.1L40.0,1.1L38.6,2.7L37.6,4.9L36.9,7.0L37.5,9.2L37.9,10.8L38.4,11.6L38.2,15.6L37.2,17.8L34.8,19.2L32.8,21.4L33.1,23.7L33.0,25.9L30.6,27.5L30.3,29.1L29.8,31.0L28.4,32.4L27.3,33.8L25.8,35.4L24.4,36.3L23.2,36.7L21.2,36.7L19.8,36.9L18.0,37.5L16.6,36.9L16.5,34.5L15.8,32.4L15.2,30.7L14.1,29.1L13.9,28.0L13.5,25.9L13.5,24.3L12.3,22.1L11.7,20.0L11.1,17.8L11.8,15.1L12.8,13.5L13.1,11.9L12.8,9.7L12.2,7.6L11.6,6.5L11.4,5.4L10.5,4.1L9.0,2.7L8.4,0.9L9.1,-0.5L9.3,-2.2L9.3,-3.8L8.4,-4.9L6.7,-4.7L5.5,-4.9L4.8,-6.3L4.2,-6.8L1.9,-6.8L0.5,-6.3L-1.0,-5.6L-2.7,-5.4L-4.3,-5.6L-5.7,-5.2L-7.1,-4.7L-8.6,-5.4L-10.0,-6.7L-10.9,-7.3L-11.9,-8.1L-12.5,-9.5L-13.1,-10.6L-14.2,-11.9L-15.8,-13.5L-15.9,-14.6L-16.5,-15.9L-15.5,-17.3L-15.3,-18.9L-15.3,-20.5L-15.9,-22.7L-14.9,-25.6L-13.7,-28.0L-12.0,-30.0L-10.6,-30.7L-9.2,-31.8L-8.9,-33.8L-7.7,-35.9L-6.1,-36.9ZM-4.9,-38.8L-5.6,-39.7L-6.7,-39.9L-8.0,-39.9L-7.8,-41.3L-8.4,-41.7L-7.7,-44.2L-7.9,-46.3L-6.9,-47.1L-5.2,-47.0L-3.4,-46.8L-1.6,-46.8L-1.0,-47.9L-1.0,-49.5L-1.9,-50.8L-3.9,-51.6L-3.8,-52.3L-2.5,-52.5L-1.3,-52.4L-1.5,-53.4L-0.8,-53.1L0.2,-53.2L1.3,-54.6L2.9,-55.2L3.7,-56.3L4.0,-57.1L5.6,-57.3L7.0,-57.7L6.8,-59.1L6.4,-60.9L7.4,-61.1L8.2,-61.6L8.5,-60.2L8.0,-58.9L8.7,-57.9L10.0,-58.2L11.2,-57.9L13.2,-58.4L14.8,-58.6L15.8,-58.4L16.7,-59.2L16.6,-60.9L17.5,-61.6L18.4,-60.9L18.9,-61.4L18.8,-62.2L18.0,-63.1L19.5,-63.4L21.0,-63.4L23.0,-63.8L21.6,-64.5L20.4,-64.4L19.0,-64.1L17.4,-63.8L16.2,-64.7L15.9,-65.9L15.9,-66.8L17.2,-68.0L18.1,-68.7L17.2,-69.5L15.8,-69.2L15.3,-68.0L14.0,-67.1L13.0,-66.3L13.0,-64.9L14.3,-63.9L13.5,-62.7L12.8,-61.4L12.8,-60.2L11.3,-59.4L10.1,-59.4L9.8,-60.2L9.0,-61.4L8.6,-62.4L8.0,-63.2L6.2,-62.0L5.0,-62.1L4.2,-62.7L3.8,-64.9L3.9,-65.9L4.5,-66.3L6.2,-67.4L7.3,-67.8L8.0,-68.5L9.0,-69.5L9.3,-70.0L9.9,-70.9L10.5,-71.8L11.5,-72.2L12.7,-73.1L14.0,-73.4L15.0,-73.6L16.3,-74.1L17.4,-74.4L19.3,-74.1L21.1,-73.6L20.6,-73.1L22.8,-72.8L24.9,-72.6L26.5,-72.0L28.4,-71.4L29.1,-70.3L27.5,-69.8L24.5,-70.2L23.5,-70.3L25.2,-68.7L25.4,-68.1L27.5,-67.6L27.6,-68.3L29.0,-68.5L28.6,-69.7L30.0,-70.1L31.1,-70.0L30.7,-71.8L32.2,-71.5L32.7,-70.4L33.7,-71.3L35.0,-71.5L37.0,-71.8L37.6,-72.0L39.7,-72.1L41.0,-72.3L41.5,-73.2L42.6,-73.0L44.5,-72.7L46.5,-72.3L46.3,-73.8L45.0,-74.7L45.1,-75.6L45.5,-76.0L46.8,-76.0L48.0,-75.8L49.2,-74.3L49.6,-73.4L51.2,-72.0L51.6,-70.2L52.1,-71.1L52.0,-72.5L50.1,-74.7L49.8,-75.6L51.9,-75.4L52.7,-76.5L54.6,-76.6L56.3,-76.9L55.8,-77.7L58.5,-78.2L60.6,-78.6L62.7,-79.0L64.0,-79.9L66.9,-79.1L69.4,-79.1L71.7,-78.6L72.4,-77.3L71.1,-76.7L72.7,-76.7L74.4,-76.4L77.6,-76.2L79.5,-76.0L80.9,-76.4L84.3,-75.6L87.4,-74.4L89.2,-74.1L89.4,-74.7L91.4,-74.7L92.8,-74.7L92.8,-75.7L94.9,-75.6L97.2,-75.4L100.8,-74.7L103.3,-74.2L105.5,-74.3L107.8,-74.1L110.4,-73.0L112.8,-73.0L114.9,-73.0L116.7,-73.4L118.7,-73.2L120.9,-73.1L124.8,-72.4L130.3,-68.7L129.7,-68.4L130.9,-67.3L131.8,-66.3L130.1,-65.7L129.6,-64.9L129.7,-63.9L127.3,-64.3L126.1,-64.1L125.8,-62.7L125.8,-61.7L128.4,-60.1L128.9,-58.9L129.0,-58.4L129.2,-57.0L128.3,-56.7L128.7,-54.8L126.6,-56.3L125.0,-57.9L123.3,-59.4L122.0,-60.7L121.7,-61.9L121.6,-63.4L122.3,-64.4L121.7,-66.2L119.6,-65.7L118.3,-65.6L117.4,-65.4L118.1,-63.4L116.7,-62.9L114.7,-63.4L113.4,-63.2L111.8,-63.2L109.5,-63.2L109.2,-62.4L109.0,-61.4L109.3,-59.9L109.6,-58.7L110.6,-57.5L112.3,-57.9L114.1,-57.0L115.4,-54.8L117.2,-52.2L117.3,-51.1L117.2,-50.0L116.8,-48.8L116.5,-47.9L116.0,-46.7L115.0,-46.1L113.5,-46.5L113.4,-45.6L113.3,-44.2L112.4,-43.1L112.3,-42.4L113.7,-41.5L115.2,-39.9L115.9,-38.3L115.4,-37.8L114.7,-37.4L113.9,-37.1L113.2,-38.8L112.6,-40.4L110.8,-41.0L110.2,-42.6L109.1,-43.1L107.8,-42.4L107.0,-42.1L106.9,-43.7L106.2,-44.1L105.2,-42.6L104.0,-42.3L104.1,-41.5L105.6,-40.4L106.9,-40.8L109.0,-40.1L108.0,-39.4L107.2,-37.8L108.5,-36.7L109.6,-35.4L110.7,-34.3L111.1,-33.2L111.6,-32.4L111.6,-30.7L110.9,-28.6L110.2,-27.3L110.0,-26.4L108.4,-24.8L106.3,-24.1L105.0,-23.5L103.6,-23.1L103.2,-21.9L102.4,-23.2L100.8,-23.3L99.7,-21.6L99.1,-20.3L100.1,-18.9L100.7,-18.1L102.6,-16.5L103.4,-14.0L103.2,-12.4L101.4,-11.2L100.6,-10.2L99.9,-9.4L99.6,-11.0L97.6,-11.9L96.8,-13.3L95.4,-14.5L94.6,-13.5L94.3,-12.4L94.0,-11.3L95.1,-9.2L95.8,-7.3L97.3,-6.7L98.4,-4.9L98.6,-2.9L99.3,-1.5L98.5,-1.4L96.5,-3.0L95.5,-4.9L95.5,-5.9L94.8,-7.3L93.4,-8.8L93.5,-10.8L93.2,-12.9L92.6,-14.6L92.2,-16.2L91.9,-17.8L90.8,-17.8L90.0,-17.0L88.8,-17.3L88.6,-19.4L87.5,-21.6L85.9,-23.2L85.2,-24.5L84.1,-23.7L83.0,-23.5L81.2,-23.0L81.2,-22.1L79.6,-21.0L78.4,-19.4L77.4,-18.0L75.6,-16.7L75.8,-14.6L75.6,-12.7L75.7,-11.1L74.8,-9.9L74.2,-9.6L73.6,-8.7L72.4,-10.2L71.3,-12.7L70.4,-15.1L69.2,-17.3L68.2,-20.5L67.8,-22.7L67.5,-23.3L66.2,-22.4L64.5,-23.9L65.4,-24.8L63.7,-25.3L62.4,-26.6L61.6,-27.4L59.3,-27.2L57.5,-27.2L55.1,-27.4L53.2,-27.7L52.3,-29.2L50.3,-28.8L48.4,-29.8L46.6,-31.3L45.7,-32.6L44.6,-32.7L43.9,-32.1L44.7,-30.5L46.2,-28.8L46.6,-27.7L47.1,-26.6L47.4,-28.0L48.0,-26.4L50.1,-26.1L52.0,-28.3L52.4,-26.4L54.6,-25.5L55.7,-24.2L54.7,-22.0L54.1,-20.5L52.6,-19.3L50.8,-18.3L49.2,-17.3L47.2,-16.2L46.0,-15.1L44.0,-14.3L42.6,-13.8L41.1,-13.7L40.4,-16.0L40.0,-17.8L38.4,-20.5L36.6,-23.0L35.8,-25.3L34.4,-27.5L32.5,-30.2L31.9,-31.8L31.6,-30.2L31.5,-30.0L30.5,-30.8L29.8,-32.2L29.7,-33.7L31.1,-33.8L31.7,-35.4L32.2,-37.8L32.2,-39.5L30.8,-39.6L29.1,-38.9L27.2,-39.2L25.9,-39.5L24.3,-39.8L23.3,-41.3L23.6,-42.4L23.0,-43.1L23.6,-43.7L25.3,-44.4L27.5,-44.4L29.1,-45.3L30.6,-45.3L31.8,-44.5L33.6,-44.2L36.2,-44.7L36.0,-45.8L34.3,-46.9L32.1,-48.1L31.9,-49.3L33.0,-50.8L31.7,-50.4L29.7,-49.7L30.2,-48.9L31.1,-48.8L29.9,-48.2L28.7,-47.9L27.8,-48.9L28.4,-49.5L26.9,-50.2L26.0,-50.0L25.3,-48.8L24.6,-47.2L24.1,-46.0L24.4,-44.8L22.9,-44.0L21.0,-44.0L20.2,-43.4L20.1,-42.4L21.1,-41.2L20.5,-39.4L19.3,-39.8L18.8,-41.3L17.5,-42.9L16.9,-44.7L16.0,-45.8L13.8,-46.9L12.4,-48.7L11.7,-49.1L10.6,-48.8L10.7,-47.4L11.8,-46.9L13.7,-45.3L15.3,-44.2L16.2,-43.3L14.9,-43.7L14.6,-42.6L14.4,-41.0L13.9,-41.0L14.1,-42.1L13.6,-43.3L12.2,-44.1L10.7,-45.1L9.1,-46.3L8.8,-47.3L7.5,-47.8L6.4,-47.2L5.2,-46.4L3.4,-46.9L2.8,-45.8L2.9,-45.1L0.7,-44.0L-0.3,-42.6L0.2,-41.8L-0.6,-40.5L-1.8,-39.7L-4.0,-39.6ZM-124.8,-72.4L-123.6,-71.8L-123.3,-70.6L-121.4,-70.4L-121.5,-69.7L-125.2,-68.3L-126.5,-68.1L-127.0,-69.0L-128.5,-69.2L-130.3,-68.7ZM105.8,23.7L105.3,26.4L105.6,28.0L105.5,30.7L105.2,32.4L105.1,34.5L103.6,37.0L104.6,37.8L106.0,37.8L108.2,36.7L109.2,36.5L112.2,35.6L114.4,34.7L117.4,34.1L119.7,34.0L121.4,35.4L121.8,37.5L123.1,36.7L124.5,35.6L123.7,38.3L124.8,38.8L124.6,41.0L125.7,41.4L126.8,41.8L128.4,41.2L129.1,42.1L131.3,40.8L133.6,39.9L134.9,38.3L136.2,36.7L139.1,34.0L141.0,30.7L141.7,27.5L140.4,25.3L139.4,23.7L138.5,21.6L137.1,20.5L136.9,17.8L137.0,16.0L135.5,15.3L135.3,13.5L135.2,11.9L134.0,13.8L133.5,16.2L132.3,18.9L130.7,18.7L129.5,17.3L127.8,16.2L128.5,14.6L129.5,13.2L127.8,12.9L125.5,12.4L124.0,13.3L122.9,14.6L122.2,16.2L120.7,16.2L119.9,15.1L118.5,15.6L117.3,17.3L115.7,18.3L114.7,19.4L113.3,21.0L111.4,21.6L108.9,22.4L106.8,23.5ZM-97.6,79.8L-93.6,79.2L-89.1,78.4L-84.6,77.3L-80.5,76.4L-75.7,76.7L-71.9,76.7L-67.3,76.0L-63.4,75.7L-57.1,75.6L-51.4,75.3L-49.7,73.6L-47.9,71.1L-46.3,68.7L-44.5,66.8L-42.3,67.3L-42.1,70.2L-42.7,72.5L-40.7,75.3L-40.1,77.3L-41.1,78.7L-36.1,79.4L-32.5,79.8L-25.7,79.8L-20.9,78.6L-17.4,77.3L-15.4,76.4L-10.0,75.1L-6.8,74.3L-1.6,73.6L3.4,73.4L10.3,72.9L17.2,72.9L22.3,71.9L26.3,72.5L31.8,70.9L39.5,69.5L42.5,70.6L47.2,71.1L49.7,71.9L52.0,72.5L56.4,71.1L61.8,70.2L68.0,69.7L73.8,69.5L78.9,69.5L85.4,69.2L91.7,69.7L97.8,69.5L103.0,70.4L108.0,71.9L110.2,72.9L113.2,73.6L114.6,74.7L110.1,76.4L104.7,78.7L101.0,80.2M-44.5,-80.3L-40.3,-81.7L-35.7,-82.9L-28.4,-83.4L-22.3,-84.1L-16.8,-84.1L-12.5,-83.3L-10.4,-82.8L-10.1,-81.7L-11.6,-80.2L-12.6,-78.6L-12.6,-77.3L-14.5,-76.0L-14.8,-74.7L-17.1,-73.6L-15.4,-73.4L-18.8,-72.0L-22.4,-71.5L-24.9,-70.2L-27.3,-69.4L-29.5,-68.3L-31.2,-66.3L-32.9,-64.1L-34.3,-63.8L-36.2,-64.7L-37.1,-66.3L-37.7,-67.8L-38.3,-69.7L-37.5,-71.5L-35.1,-72.9L-37.1,-73.8L-36.4,-75.1L-36.8,-76.9L-37.2,-78.1L-39.7,-78.7L-43.0,-78.6L-44.2,-79.4ZM-17.5,-69.2L-15.7,-70.1L-12.9,-69.9L-10.7,-69.9L-9.9,-68.7L-10.9,-68.1L-13.6,-67.2L-15.4,-67.6L-16.6,-67.8L-16.0,-68.6L-17.4,-68.6ZM-4.5,-53.7L-2.9,-54.0L-0.8,-54.4L1.1,-55.0L1.4,-56.5L0.2,-56.8L-0.2,-57.9L-1.2,-59.1L-1.7,-59.9L-1.6,-61.4L-2.7,-61.6L-2.3,-62.5L-3.9,-62.5L-4.7,-61.4L-4.3,-59.9L-4.0,-58.7L-2.6,-58.7L-2.4,-57.3L-3.6,-57.0L-3.5,-56.0L-4.2,-55.6L-2.7,-55.2L-3.7,-54.8ZM-8.2,-55.6L-6.5,-55.4L-5.1,-56.0L-4.8,-57.3L-4.5,-58.5L-5.2,-59.1L-6.5,-59.1L-6.8,-58.3L-8.0,-58.1L-7.7,-57.1L-8.1,-56.3ZM6.6,-81.3L8.6,-79.8L10.0,-79.1L11.7,-79.8L13.4,-80.4L12.0,-81.0L14.4,-81.2L16.0,-81.7L12.9,-82.1L9.5,-81.7ZM34.6,-74.7L34.5,-75.6L35.2,-76.7L35.9,-77.7L37.9,-78.6L40.6,-79.2L42.9,-79.4L43.3,-78.9L42.0,-78.1L39.4,-77.3L38.3,-76.0L37.9,-74.9L39.0,-74.0L37.4,-73.9L35.9,-74.1ZM57.2,-81.0L60.6,-80.2L62.0,-81.0L63.7,-80.6L59.0,-81.9L55.9,-82.4L54.5,-81.7ZM87.2,-78.1L89.7,-78.6L93.0,-78.1L95.9,-77.9L93.3,-77.6L90.1,-77.6ZM118.0,-36.7L119.1,-36.5L120.2,-37.0L121.5,-37.3L122.2,-36.1L123.2,-37.0L124.8,-37.3L125.7,-37.8L126.1,-38.5L125.0,-41.0L125.0,-42.6L123.4,-44.5L122.5,-44.2L123.2,-42.6L123.6,-41.2L122.5,-39.9L121.6,-40.2L121.8,-38.6L119.2,-38.3L117.9,-37.2ZM122.0,-44.7L122.2,-45.8L124.5,-45.3L125.5,-46.7L123.9,-47.4L121.0,-48.9L122.0,-46.9L121.1,-46.5ZM117.3,-35.9L118.2,-36.5L119.4,-35.4L119.3,-33.8L118.6,-33.7L117.9,-35.1ZM119.5,-36.1L120.7,-37.0L121.5,-36.5L120.8,-35.6L120.3,-35.4ZM113.6,-58.2L115.4,-57.1L117.2,-55.3L120.3,-52.7L120.6,-50.6L121.5,-49.5L120.3,-49.8L119.0,-51.6L117.0,-54.2L115.1,-56.3ZM112.1,-27.2L113.1,-27.0L112.9,-24.8L112.7,-23.7L111.8,-24.8L111.7,-26.2ZM101.8,-20.8L102.9,-21.6L103.9,-21.2L103.5,-20.0L102.3,-19.7ZM113.1,-20.0L114.7,-19.8L115.1,-17.8L114.5,-16.7L115.2,-15.1L117.2,-14.6L117.3,-13.6L115.8,-14.6L114.3,-14.8L113.7,-15.6L113.0,-17.3ZM116.0,-7.6L117.3,-9.2L119.1,-10.5L120.2,-8.6L119.8,-6.8L119.2,-6.1L117.9,-7.0L117.3,-8.1ZM115.7,-11.3L116.5,-12.7L118.3,-13.5L119.1,-11.9L118.5,-10.8L117.2,-10.2L116.6,-11.3ZM111.3,-9.2L113.2,-12.2L113.1,-10.8L111.9,-9.1ZM103.8,-1.6L104.3,-2.2L106.0,-2.7L107.6,-3.6L109.4,-5.4L110.9,-7.6L112.0,-6.8L113.2,-5.7L112.3,-4.6L112.1,-3.2L112.4,-2.2L113.4,-1.1L112.2,-0.8L111.9,0.9L110.9,2.5L110.6,4.3L109.0,4.3L107.6,3.5L106.4,3.8L104.9,3.0L104.8,1.6L103.8,0.5ZM90.6,-6.0L92.8,-5.6L94.0,-4.1L95.7,-2.4L97.0,-1.8L98.6,0.0L98.9,1.1L99.5,2.2L100.9,3.2L100.6,6.3L99.4,6.3L97.3,4.3L96.2,2.7L95.3,0.9L94.1,-1.6L92.4,-3.5L90.9,-5.2ZM100.0,7.3L101.3,6.5L103.1,7.2L105.3,6.9L107.1,7.4L108.8,8.3L108.6,9.4L106.4,9.1L104.0,8.4L102.6,8.4L101.2,8.0ZM109.2,8.8L110.6,9.0L112.1,8.8L113.2,9.2L114.4,9.0L116.8,9.0L116.6,9.5L114.9,9.6L113.0,9.6L111.0,9.8L110.1,9.6ZM117.1,11.1L118.6,9.7L120.8,9.1L120.0,9.9L118.6,10.6L117.6,11.1ZM114.1,-0.5L115.1,-1.4L117.2,-1.0L119.3,-1.7L118.6,-0.4L117.2,-0.4L115.3,-0.4L114.6,1.0L115.7,1.0L117.5,0.9L117.0,1.6L116.0,2.0L116.6,3.5L117.1,4.5L116.5,5.7L115.6,5.1L115.2,2.9L114.6,3.2L114.5,5.9L113.7,5.9L113.8,3.8L113.1,2.9L113.6,1.4ZM121.4,-2.2L122.4,-1.6L122.6,-0.3L121.9,0.8L121.7,-0.9ZM121.9,3.2L123.3,3.0L124.5,3.6L123.3,3.8L121.9,3.7ZM124.8,0.9L126.2,0.4L127.7,1.0L127.8,2.7L128.7,3.7L130.5,2.2L131.9,1.9L134.3,2.8L136.1,3.7L137.7,4.3L138.7,5.7L140.3,6.5L139.9,7.3L141.0,9.2L142.3,10.6L142.9,11.1L141.3,11.1L139.9,10.8L138.6,9.2L137.3,8.3L135.8,9.2L135.5,9.9L133.8,9.8L132.5,8.8L131.1,9.0L131.9,7.6L131.3,5.9L129.4,5.0L127.1,4.2L126.4,4.3L125.7,3.1L127.1,2.6L126.0,2.4L124.8,1.5ZM141.1,5.9L142.7,5.9L144.2,5.3L144.9,4.5L144.6,5.9L143.1,6.7L141.7,6.7ZM143.6,2.8L145.2,3.8L145.6,5.0L145.1,4.3L144.2,3.5ZM75.7,-10.5L76.7,-9.9L77.7,-8.1L77.3,-6.8L76.3,-6.5L75.7,-8.1ZM46.7,12.9L47.4,16.7L46.6,18.3L45.7,21.6L44.5,24.8L43.6,27.0L41.9,27.5L40.8,26.7L40.3,24.3L41.5,21.6L41.3,18.9L42.4,17.3L44.3,16.4L45.4,14.6ZM155.4,37.2L156.1,38.1L156.5,39.6L156.4,40.7L158.1,40.5L157.6,41.6L155.8,42.6L154.8,43.7L152.6,44.8L152.4,44.5L153.7,43.1L153.1,42.4L154.9,41.0L155.5,39.7ZM151.2,43.8L151.7,44.9L149.3,46.5L146.9,47.7L144.8,49.4L142.9,50.2L142.0,49.7L141.5,49.3L144.1,47.6L146.9,46.3L149.2,45.1ZM126.6,43.9L127.9,44.3L129.6,44.1L128.6,45.5L126.6,46.9L125.8,46.9L126.0,45.6ZM-79.2,-23.6L-77.3,-24.8L-74.9,-24.9L-72.7,-24.1L-70.5,-22.7L-69.4,-21.8L-70.7,-21.5L-72.5,-21.5L-72.9,-22.2L-73.7,-23.2L-76.0,-23.8L-77.4,-23.7ZM-69.8,-19.8L-68.6,-21.5L-66.9,-21.5L-65.5,-21.2L-64.2,-20.2L-65.2,-19.7L-67.0,-19.1L-68.1,-19.5ZM-73.5,-19.8L-72.2,-20.0L-71.6,-19.4L-72.5,-19.2ZM-63.0,-20.0L-61.6,-19.8L-61.8,-19.4L-63.1,-19.4ZM-49.8,-51.3L-47.4,-54.2L-45.6,-55.3L-45.9,-53.7L-44.5,-52.9L-44.4,-51.1L-45.2,-50.3L-46.4,-50.6L-47.3,-50.5L-48.3,-51.2ZM-105.5,-54.6L-104.0,-54.0L-103.0,-52.4L-103.5,-51.9L-104.6,-52.5L-105.6,-53.8ZM-52.6,-76.6L-50.4,-76.5L-48.8,-75.1L-46.6,-73.8L-46.3,-72.7L-43.9,-70.6L-43.9,-70.0L-46.3,-68.7L-48.0,-66.8L-49.6,-65.9L-50.9,-66.3L-52.6,-67.3L-53.8,-68.3L-56.5,-68.1L-56.3,-69.0L-53.0,-69.7L-51.1,-71.5L-52.6,-72.5L-53.6,-73.5L-56.1,-73.4L-58.1,-73.5L-60.6,-73.8L-59.8,-75.1L-57.6,-76.4L-55.5,-76.6ZM-79.8,-73.6L-78.0,-72.7L-75.1,-72.2L-72.2,-72.3L-69.9,-72.9L-69.0,-74.3L-69.4,-75.8L-71.0,-76.2L-74.8,-75.8L-77.7,-75.8L-80.0,-74.7ZM-83.8,-75.1L-83.0,-74.4L-80.7,-74.7L-76.9,-76.3L-77.1,-77.1L-80.0,-77.1L-82.4,-76.0ZM-56.4,-79.0L-53.5,-78.8L-50.4,-78.7L-47.5,-79.8L-45.1,-81.0L-41.4,-81.7L-37.1,-82.6L-35.2,-83.4L-39.4,-83.7L-45.0,-83.7L-50.4,-83.1L-53.6,-82.4L-52.5,-81.3L-55.1,-80.2ZM-61.6,-77.7L-59.4,-77.4L-55.6,-77.3L-51.5,-77.5L-50.8,-78.3L-54.5,-78.4L-57.7,-79.0L-60.2,-79.0ZM-58.8,-80.2L-56.9,-80.2L-53.4,-80.6L-51.5,-81.7L-53.0,-82.4L-56.2,-81.7ZM-75.0,-77.7L-72.4,-77.3L-68.2,-77.6L-66.3,-78.6L-69.0,-79.0L-73.0,-78.8ZM-68.5,-75.1L-67.0,-75.0L-64.8,-75.1L-63.5,-76.4L-65.6,-76.7L-67.6,-76.0ZM-63.6,-75.4L-62.1,-75.1L-58.7,-76.7L-60.3,-77.0L-62.5,-76.5ZM-62.6,-69.2L-60.6,-69.0L-59.5,-67.3L-60.6,-66.8L-62.8,-66.8L-63.6,-67.8ZM-120.5,-61.2L-118.3,-61.8L-118.8,-61.2L-120.5,-60.7ZM-106.7,-57.9L-105.7,-57.9L-106.6,-56.0L-106.9,-56.8ZM7.2,-42.1L7.3,-44.1L8.5,-44.2L8.6,-42.3ZM7.5,-44.7L8.1,-46.3L8.3,-44.7ZM11.1,-41.0L13.7,-41.2L13.5,-39.7L11.4,-40.4ZM21.1,-38.3L23.5,-38.0L22.0,-37.6ZM29.0,-37.8L30.9,-38.4L30.4,-37.4ZM8.9,-59.6L9.9,-59.9L9.8,-58.9ZM14.2,-61.1L14.7,-61.8L14.7,-60.9ZM-146.2,-20.6L-145.2,-21.1L-145.8,-21.8ZM153.4,21.8L155.3,23.5L155.7,24.1L154.4,23.5ZM166.6,18.9L167.7,18.9L167.6,19.6L166.5,19.5ZM148.7,7.6L151.5,9.0L152.7,10.6L151.8,10.2L149.6,8.6ZM-49.9,55.3L-47.5,55.2L-47.6,56.1L-49.2,56.0ZM-30.5,57.9L-28.8,58.2L-29.1,58.7ZM57.5,52.7L58.6,52.9L57.6,53.4ZM50.6,-13.6L51.6,-13.5L50.9,-13.3ZM-58.6,-11.5L-57.8,-11.6L-57.8,-10.9L-58.7,-10.9ZM-87.2,0.3L-86.5,0.4L-86.9,1.1ZM2.2,-42.6L3.0,-43.0L2.8,-42.4ZM37.3,6.3L37.6,6.7L37.4,6.9ZM100.3,1.9L101.6,2.7L100.9,3.2ZM120.0,3.5L121.1,3.6L120.4,4.1ZM112.9,10.2L114.6,10.7L113.8,11.1ZM87.6,-14.6L88.0,-12.9L87.6,-12.4ZM125.0,-47.9L126.4,-49.0L127.3,-49.5L126.4,-48.5ZM-137.8,-56.5L-135.5,-57.1L-133.2,-57.9L-134.7,-57.1ZM-126.1,-67.3L-124.5,-67.1L-125.6,-66.8ZM-127.1,-64.1L-125.8,-64.1L-126.5,-63.7ZM-54.4,-50.2L-52.5,-49.9L-53.5,-49.5ZM-53.4,-53.5L-51.5,-53.0L-52.8,-52.9ZM-52.2,-49.1L-50.9,-50.6L-50.8,-49.5ZM120.5,-74.4L121.0,-74.7L121.9,-74.2ZM39.8,-50.0L41.5,-50.0L43.4,-50.6L44.8,-50.3L45.2,-48.8L43.9,-48.0L43.1,-47.7L44.0,-46.5L45.9,-44.7L47.0,-44.0L47.1,-42.4L47.9,-40.1L46.4,-39.6L44.5,-40.3L43.4,-41.4L43.2,-43.4L41.7,-45.1L41.0,-46.3L40.1,-47.9ZM49.3,-50.0L51.6,-50.2L52.5,-48.5L51.7,-47.0L50.1,-47.9ZM84.8,-55.4L85.8,-56.1L86.9,-57.4L86.9,-59.6L86.3,-59.5L86.0,-57.7L85.4,-56.1ZM30.3,0.2L32.2,-0.3L32.4,1.6L31.4,2.9L30.3,2.2ZM27.9,3.8L28.4,4.9L29.2,9.0L28.9,9.0L27.9,6.5ZM32.3,10.4L33.0,12.4L33.0,15.3L32.7,15.3L32.4,12.9ZM-77.7,-50.4L-75.0,-51.6L-72.6,-52.4L-71.3,-51.4L-71.6,-50.0L-73.6,-50.0L-75.2,-50.4L-76.5,-50.2ZM-76.3,-44.9L-75.5,-45.1L-74.3,-46.9L-72.3,-49.2L-73.5,-49.3L-75.2,-47.9L-75.9,-46.3ZM-71.7,-49.5L-69.6,-49.5L-68.4,-48.1L-70.5,-46.5L-71.2,-46.5L-71.9,-47.4L-71.0,-48.7ZM-72.5,-44.9L-71.0,-44.8L-68.4,-46.0L-68.7,-46.2L-71.1,-45.6ZM-68.7,-46.7L-66.4,-46.7L-65.5,-47.4L-67.0,-47.4ZM-79.7,-57.3L-78.6,-57.7L-79.2,-54.8L-80.0,-54.1L-80.3,-55.8ZM-88.1,-69.7L-85.0,-70.6L-84.1,-70.2L-86.9,-68.7ZM-88.2,-64.9L-84.7,-66.3L-81.4,-66.6L-84.2,-65.2L-86.8,-64.7ZM23.2,-63.9L24.7,-64.1L24.4,-65.4L22.9,-65.2Z"/><path id="frm" fill="none" stroke="#000" stroke-width="0.7" d="M91.3,87.0L94.5,86.1L98.1,84.9L102.2,83.4L106.6,81.7L111.1,79.8L115.5,77.7L119.5,75.6L123.2,73.4L126.8,71.1L130.3,68.7L133.7,66.3L137.0,63.9L140.1,61.4L143.2,58.9L146.1,56.3L148.8,53.7L151.3,51.1L153.7,48.5L155.9,45.8L158.1,43.1L160.0,40.4L161.7,37.8L163.2,35.1L164.6,32.4L165.9,29.7L166.9,27.0L167.7,24.3L168.4,21.6L169.2,18.9L169.8,16.2L170.3,13.5L170.7,10.8L171.0,8.1L171.3,5.4L171.4,2.7L171.5,0.0L171.4,-2.7L171.3,-5.4L171.0,-8.1L170.7,-10.8L170.3,-13.5L169.8,-16.2L169.2,-18.9L168.4,-21.6L167.7,-24.3L166.9,-27.0L165.9,-29.7L164.6,-32.4L163.2,-35.1L161.7,-37.8L160.0,-40.4L158.1,-43.1L155.9,-45.8L153.7,-48.5L151.3,-51.1L148.8,-53.7L146.1,-56.3L143.2,-58.9L140.1,-61.4L137.0,-63.9L133.7,-66.3L130.3,-68.7L126.8,-71.1L123.2,-73.4L119.5,-75.6L115.5,-77.7L111.1,-79.8L106.6,-81.7L102.2,-83.4L98.1,-84.9L94.5,-86.1L91.3,-87.0L-91.3,-87.0L-94.5,-86.1L-98.1,-84.9L-102.2,-83.4L-106.6,-81.7L-111.1,-79.8L-115.5,-77.7L-119.5,-75.6L-123.2,-73.4L-126.8,-71.1L-130.3,-68.7L-133.7,-66.3L-137.0,-63.9L-140.1,-61.4L-143.2,-58.9L-146.1,-56.3L-148.8,-53.7L-151.3,-51.1L-153.7,-48.5L-155.9,-45.8L-158.1,-43.1L-160.0,-40.4L-161.7,-37.8L-163.2,-35.1L-164.6,-32.4L-165.9,-29.7L-166.9,-27.0L-167.7,-24.3L-168.4,-21.6L-169.2,-18.9L-169.8,-16.2L-170.3,-13.5L-170.7,-10.8L-171.0,-8.1L-171.3,-5.4L-171.4,-2.7L-171.5,0.0L-171.4,2.7L-171.3,5.4L-171.0,8.1L-170.7,10.8L-170.3,13.5L-169.8,16.2L-169.2,18.9L-168.4,21.6L-167.7,24.3L-166.9,27.0L-165.9,29.7L-164.6,32.4L-163.2,35.1L-161.7,37.8L-160.0,40.4L-158.1,43.1L-155.9,45.8L-153.7,48.5L-151.3,51.1L-148.8,53.7L-146.1,56.3L-143.2,58.9L-140.1,61.4L-137.0,63.9L-133.7,66.3L-130.3,68.7L-126.8,71.1L-123.2,73.4L-119.5,75.6L-115.5,77.7L-111.1,79.8L-106.6,81.7L-102.2,83.4L-98.1,84.9L-94.5,86.1L-91.3,87.0Z"/></defs><g transform="translate(174.9,220.25)"><g clip-path="url(#lc)" shape-rendering="crispEdges"><path fill="#3c5ae0" d="M-91.8,86.7H92.0V87.1H-91.8ZM-93.6,86.0H93.8V86.8H-93.6ZM-96.3,85.0H96.4V86.1H-96.3ZM-99.2,84.0H99.4V85.2H-99.2ZM-102.3,82.8H102.5V84.1H-102.3ZM-99.0,81.4H103.6V82.9H-99.0ZM-100.7,79.9H105.4V81.6H-100.7ZM-103.8,78.4H108.7V80.1H-103.8ZM-105.3,76.8H111.9V78.5H-105.3ZM-101.5,75.1H-37.0V76.9H-101.5ZM-27.2,75.1H116.5V76.9H-27.2ZM-92.1,73.5H-37.9V75.3H-92.1ZM-21.1,73.5H119.3V75.3H-21.1ZM-73.5,71.7H-37.0V73.6H-73.5ZM-16.4,71.7H122.0V73.6H-16.4ZM-55.6,70.0H-37.8V71.9H-55.6ZM-9.7,70.0H121.1V71.9H-9.7ZM-53.2,68.2H-38.6V70.1H-53.2ZM17.1,68.2H116.4V70.1H17.1ZM-52.4,66.4H-39.4V68.3H-52.4ZM30.3,66.4H48.9V68.3H30.3ZM57.9,66.4H111.4V68.3H57.9ZM-51.5,64.5H-40.1V66.5H-51.5ZM-48.7,62.6H-40.9V64.7H-48.7ZM-57.3,60.7H-49.4V62.8H-57.3ZM-60.2,58.8H-48.2V60.9H-60.2ZM-32.6,58.8H-26.5V60.9H-32.6ZM-63.2,56.9H-43.0V59.0H-63.2ZM-33.1,56.9H-26.9V59.0H-33.1ZM-64.1,54.9H-43.6V57.0H-64.1ZM-33.6,54.9H-27.3V57.0H-33.6ZM-65.0,53.0H-44.2V55.1H-65.0ZM-65.9,51.0H-53.2V53.1H-65.9ZM137.0,51.0H139.2V53.1H137.0ZM143.2,51.0H145.5V53.1H143.2ZM-66.7,49.0H-51.7V51.1H-66.7ZM147.1,49.0H149.4V51.1H147.1ZM-67.4,46.9H-65.1V49.1H-67.4ZM-63.2,46.9H-52.3V49.1H-63.2ZM121.0,46.9H123.2V49.1H121.0ZM127.4,46.9H129.7V49.1H127.4ZM-61.7,44.9H-50.7V47.1H-61.7ZM154.8,44.9H156.0V47.1H154.8ZM-62.3,42.9H-46.9V45.1H-62.3ZM121.4,42.9H123.7V45.1H121.4ZM156.4,42.9H157.6V45.1H156.4ZM-60.7,40.9H-58.4V43.1H-60.7ZM-56.3,40.9H-47.3V43.1H-56.3ZM120.3,40.9H127.1V43.1H120.3ZM-61.2,38.8H-58.9V41.0H-61.2ZM-54.6,38.8H-52.2V41.0H-54.6ZM-50.1,38.8H-45.5V41.0H-50.1ZM14.5,38.8H21.3V41.0H14.5ZM99.1,38.8H101.5V41.0H99.1ZM105.8,38.8H108.2V41.0H105.8ZM116.9,38.8H130.4V41.0H116.9ZM150.3,38.8H152.7V41.0H150.3ZM-68.5,36.8H-66.1V39.0H-68.5ZM-64.0,36.8H-59.3V39.0H-64.0ZM-46.0,36.8H-43.6V39.0H-46.0ZM12.3,36.8H28.2V39.0H12.3ZM108.9,36.8H115.8V39.0H108.9ZM117.9,36.8H129.2V39.0H117.9ZM151.5,36.8H156.2V39.0H151.5ZM-69.0,34.7H-59.8V36.9H-69.0ZM-44.1,34.7H-41.7V36.9H-44.1ZM12.4,34.7H30.7V36.9H12.4ZM107.4,34.7H132.5V36.9H107.4ZM152.7,34.7H161.9V36.9H152.7ZM-69.5,32.7H-60.2V34.9H-69.5ZM-44.4,32.7H-42.0V34.9H-44.4ZM12.5,32.7H26.3V34.9H12.5ZM28.5,32.7H30.9V34.9H28.5ZM101.3,32.7H103.8V34.9H101.3ZM105.9,32.7H135.6V34.9H105.9ZM-67.6,30.7H-60.6V32.8H-67.6ZM10.3,30.7H26.5V32.8H10.3ZM30.9,30.7H33.4V32.8H30.9ZM102.0,30.7H138.8V32.8H102.0ZM-68.0,28.6H-60.9V30.8H-68.0ZM-42.6,28.6H-40.2V30.8H-42.6ZM10.4,28.6H26.6V30.8H10.4ZM38.0,28.6H47.4V30.8H38.0ZM102.5,28.6H137.2V30.8H102.5ZM-68.3,26.6H-58.9V28.8H-68.3ZM-40.5,26.6H-35.7V28.8H-40.5ZM10.4,26.6H24.5V28.8H10.4ZM31.2,26.6H36.0V28.8H31.2ZM38.2,26.6H43.0V28.8H38.2ZM103.0,26.6H137.9V28.8H103.0ZM-68.6,24.5H-63.8V26.7H-68.6ZM-61.6,24.5H-59.1V26.7H-61.6ZM-38.3,24.5H-33.5V26.7H-38.3ZM10.5,24.5H24.6V26.7H10.5ZM29.1,24.5H31.5V26.7H29.1ZM33.7,24.5H36.2V26.7H33.7ZM38.3,24.5H40.8V26.7H38.3ZM103.4,24.5H138.4V26.7H103.4ZM149.9,24.5H157.0V26.7H149.9ZM-68.8,22.5H-66.3V24.7H-68.8ZM-36.2,22.5H-33.7V24.7H-36.2ZM8.2,22.5H29.3V24.7H8.2ZM103.8,22.5H136.6V24.7H103.8ZM143.4,22.5H145.9V24.7H143.4ZM150.4,22.5H157.6V24.7H150.4ZM-69.0,20.4H-66.5V22.6H-69.0ZM-64.3,20.4H-61.9V22.6H-64.3ZM8.2,20.4H29.4V22.6H8.2ZM38.6,20.4H41.1V22.6H38.6ZM104.1,20.4H137.0V22.6H104.1ZM150.9,20.4H158.1V22.6H150.9ZM162.6,20.4H168.6V22.6H162.6ZM-73.9,18.4H-62.1V20.6H-73.9ZM8.2,18.4H29.5V20.6H8.2ZM34.0,18.4H36.5V20.6H34.0ZM38.7,18.4H41.2V20.6H38.7ZM106.8,18.4H137.5V20.6H106.8ZM163.1,18.4H169.2V20.6H163.1ZM-74.2,16.3H-69.3V18.5H-74.2ZM-67.1,16.3H-64.6V18.5H-67.1ZM-36.5,16.3H-34.0V18.5H-36.5ZM8.2,16.3H29.6V18.5H8.2ZM31.8,16.3H34.3V18.5H31.8ZM38.8,16.3H41.4V18.5H38.8ZM111.8,16.3H137.9V18.5H111.8ZM163.6,16.3H169.7V18.5H163.6ZM-76.7,14.3H-67.1V16.5H-76.7ZM-41.3,14.3H-31.7V16.5H-41.3ZM8.3,14.3H17.9V16.5H8.3ZM38.9,14.3H41.5V16.5H38.9ZM114.5,14.3H124.1V16.5H114.5ZM135.7,14.3H140.6V16.5H135.7ZM-76.9,12.3H-69.6V14.5H-76.9ZM-41.4,12.3H-38.9V14.5H-41.4ZM-36.7,12.3H-29.4V14.5H-36.7ZM8.3,12.3H13.2V14.5H8.3ZM39.0,12.3H43.9V14.5H39.0ZM48.5,12.3H51.0V14.5H48.5ZM110.0,12.3H122.0V14.5H110.0ZM-79.4,10.2H-72.1V12.4H-79.4ZM-41.5,10.2H-29.5V12.4H-41.5ZM8.3,10.2H10.8V12.4H8.3ZM34.4,10.2H41.6V12.4H34.4ZM43.8,10.2H51.1V12.4H43.8ZM122.1,10.2H124.6V12.4H122.1ZM148.1,10.2H155.4V12.4H148.1ZM-79.5,8.2H-72.2V10.4H-79.5ZM-41.5,8.2H-34.3V10.4H-41.5ZM-32.0,8.2H-29.5V10.4H-32.0ZM8.3,8.2H10.8V10.4H8.3ZM34.4,8.2H41.7V10.4H34.4ZM96.1,8.2H98.7V10.4H96.1ZM148.4,8.2H155.6V10.4H148.4ZM-79.6,6.1H-74.7V8.3H-79.6ZM-44.0,6.1H-41.4V8.3H-44.0ZM-34.5,6.1H-29.6V8.3H-34.5ZM8.3,6.1H10.8V8.3H8.3ZM34.5,6.1H41.7V8.3H34.5ZM93.9,6.1H96.4V8.3H93.9ZM148.5,6.1H155.8V8.3H148.5ZM-79.7,4.1H-74.8V6.3H-79.7ZM-44.0,4.1H-41.5V6.3H-44.0ZM-36.9,4.1H-29.6V6.3H-36.9ZM5.9,4.1H8.5V6.3H5.9ZM32.1,4.1H41.8V6.3H32.1ZM146.3,4.1H148.8V6.3H146.3ZM-79.7,2.0H-77.2V4.2H-79.7ZM-44.0,2.0H-29.6V4.2H-44.0ZM6.0,2.0H8.5V4.2H6.0ZM32.1,2.0H44.2V4.2H32.1ZM146.4,2.0H148.9V4.2H146.4ZM-79.8,0.0H-74.9V2.2H-79.8ZM-44.1,0.0H-34.4V2.2H-44.1ZM32.2,0.0H46.6V2.2H32.2ZM-79.8,-2.0H-77.3V0.1H-79.8ZM-44.1,-2.0H-39.1V0.1H-44.1ZM32.2,-2.0H49.0V0.1H32.2ZM120.3,-2.0H122.8V0.1H120.3ZM-46.4,-4.1H-43.9V-1.9H-46.4ZM-6.0,-4.1H6.1V-1.9H-6.0ZM32.1,-4.1H49.0V-1.9H32.1ZM86.9,-4.1H89.4V-1.9H86.9ZM117.8,-4.1H125.1V-1.9H117.8ZM-48.8,-6.1H-43.9V-3.9H-48.8ZM-3.6,-6.1H3.7V-3.9H-3.6ZM29.7,-6.1H34.6V-3.9H29.7ZM36.9,-6.1H48.9V-3.9H36.9ZM77.3,-6.1H82.2V-3.9H77.3ZM120.1,-6.1H122.7V-3.9H120.1ZM-82.0,-8.2H-77.1V-6.0H-82.0ZM-51.1,-8.2H-46.2V-6.0H-51.1ZM22.6,-8.2H32.2V-6.0H22.6ZM39.2,-8.2H51.2V-6.0H39.2ZM79.6,-8.2H82.1V-6.0H79.6ZM86.7,-8.2H89.3V-6.0H86.7ZM-84.3,-10.2H-81.7V-8.0H-84.3ZM-53.4,-10.2H-48.5V-8.0H-53.4ZM1.2,-10.2H3.7V-8.0H1.2ZM13.1,-10.2H22.7V-8.0H13.1ZM39.2,-10.2H51.2V-8.0H39.2ZM67.7,-10.2H70.2V-8.0H67.7ZM79.5,-10.2H82.0V-8.0H79.5ZM-86.5,-12.3H-84.0V-10.1H-86.5ZM-58.1,-12.3H-53.2V-10.1H-58.1ZM-20.1,-12.3H-15.3V-10.1H-20.1ZM1.2,-12.3H17.9V-10.1H1.2ZM20.1,-12.3H25.0V-10.1H20.1ZM27.3,-12.3H29.8V-10.1H27.3ZM39.1,-12.3H51.1V-10.1H39.1ZM67.5,-12.3H72.4V-10.1H67.5ZM77.0,-12.3H79.5V-10.1H77.0ZM105.5,-12.3H110.4V-10.1H105.5ZM-91.1,-14.3H-86.2V-12.1H-91.1ZM-72.2,-14.3H-55.4V-12.1H-72.2ZM-20.1,-14.3H-15.2V-12.1H-20.1ZM-13.0,-14.3H-10.5V-12.1H-13.0ZM-5.9,-14.3H-3.4V-12.1H-5.9ZM5.9,-14.3H10.8V-12.1H5.9ZM15.4,-14.3H17.9V-12.1H15.4ZM20.1,-14.3H22.6V-12.1H20.1ZM24.8,-14.3H27.4V-12.1H24.8ZM34.3,-14.3H51.0V-12.1H34.3ZM67.4,-14.3H72.3V-12.1H67.4ZM74.5,-14.3H79.4V-12.1H74.5ZM107.6,-14.3H110.2V-12.1H107.6ZM-98.0,-16.3H-88.4V-14.2H-98.0ZM-72.0,-16.3H-62.4V-14.2H-72.0ZM-20.1,-16.3H53.3V-14.2H-20.1ZM67.3,-16.3H69.8V-14.2H67.3ZM72.0,-16.3H81.6V-14.2H72.0ZM-100.1,-18.4H-90.5V-16.2H-100.1ZM-74.2,-18.4H-62.2V-16.2H-74.2ZM-20.0,-18.4H55.5V-16.2H-20.0ZM64.7,-18.4H69.6V-16.2H64.7ZM76.5,-18.4H81.4V-16.2H76.5ZM-149.1,-20.4H-141.9V-18.2H-149.1ZM-102.1,-20.4H-94.9V-18.2H-102.1ZM-76.3,-20.4H-62.1V-18.2H-76.3ZM-20.0,-20.4H55.3V-18.2H-20.0ZM64.6,-20.4H69.4V-18.2H64.6ZM71.6,-20.4H85.8V-18.2H71.6ZM-148.6,-22.5H-141.4V-20.3H-148.6ZM-101.8,-22.5H-97.0V-20.3H-101.8ZM-78.4,-22.5H-61.9V-20.3H-78.4ZM-19.9,-22.5H59.8V-20.3H-19.9ZM64.3,-22.5H85.6V-20.3H64.3ZM108.8,-22.5H111.3V-20.3H108.8ZM-148.1,-24.5H-141.0V-22.3H-148.1ZM-106.1,-24.5H-96.6V-22.3H-106.1ZM-89.8,-24.5H-87.3V-22.3H-89.8ZM-80.5,-24.5H-61.7V-22.3H-80.5ZM-19.8,-24.5H55.0V-22.3H-19.8ZM64.1,-24.5H78.3V-22.3H64.1ZM113.1,-24.5H117.9V-22.3H113.1ZM-108.1,-26.6H-96.3V-24.4H-108.1ZM-89.5,-26.6H-75.4V-24.4H-89.5ZM-68.6,-26.6H-66.1V-24.4H-68.6ZM-19.8,-26.6H54.8V-24.4H-19.8ZM56.9,-26.6H59.4V-24.4H56.9ZM68.6,-26.6H75.7V-24.4H68.6ZM115.0,-26.6H117.5V-24.4H115.0ZM-109.9,-28.6H-86.6V-26.4H-109.9ZM-79.9,-28.6H-75.1V-26.4H-79.9ZM-17.4,-28.6H59.2V-26.4H-17.4ZM63.7,-28.6H66.1V-26.4H63.7ZM70.6,-28.6H73.1V-26.4H70.6ZM75.2,-28.6H77.7V-26.4H75.2ZM114.6,-28.6H117.0V-26.4H114.6ZM-109.4,-30.7H-86.2V-28.5H-109.4ZM-17.3,-30.7H56.6V-28.5H-17.3ZM63.4,-30.7H72.7V-28.5H63.4ZM114.0,-30.7H116.5V-28.5H114.0ZM-111.1,-32.7H-88.1V-30.5H-111.1ZM-14.9,-32.7H58.6V-30.5H-14.9ZM63.0,-32.7H65.4V-30.5H63.0ZM67.6,-32.7H70.0V-30.5H67.6ZM72.2,-32.7H79.2V-30.5H72.2ZM115.7,-32.7H122.7V-30.5H115.7ZM-110.4,-34.7H-94.4V-32.5H-110.4ZM-12.5,-34.7H58.2V-32.5H-12.5ZM62.6,-34.7H65.0V-32.5H62.6ZM67.2,-34.7H83.3V-32.5H67.2ZM112.7,-34.7H117.4V-32.5H112.7ZM-112.0,-36.8H-91.4V-34.6H-112.0ZM-12.4,-36.8H60.1V-34.6H-12.4ZM73.5,-36.8H78.2V-34.6H73.5ZM84.8,-36.8H87.2V-34.6H84.8ZM105.2,-36.8H114.4V-34.6H105.2ZM127.8,-36.8H130.2V-34.6H127.8ZM-113.4,-38.8H-95.3V-36.6H-113.4ZM-10.1,-38.8H59.6V-36.6H-10.1ZM64.0,-38.8H68.6V-36.6H64.0ZM70.7,-38.8H77.6V-36.6H70.7ZM84.2,-38.8H86.6V-36.6H84.2ZM88.7,-38.8H93.3V-36.6H88.7ZM102.1,-38.8H113.5V-36.6H102.1ZM-112.5,-40.9H-92.3V-38.7H-112.5ZM-12.2,-40.9H72.5V-38.7H-12.2ZM83.5,-40.9H85.9V-38.7H83.5ZM90.2,-40.9H103.7V-38.7H90.2ZM128.1,-40.9H130.4V-38.7H128.1ZM-113.7,-42.9H-95.9V-40.7H-113.7ZM-12.1,-42.9H67.5V-40.7H-12.1ZM69.5,-42.9H71.9V-40.7H69.5ZM76.2,-42.9H80.7V-40.7H76.2ZM89.4,-42.9H102.8V-40.7H89.4ZM-112.6,-44.9H-95.0V-42.8H-112.6ZM-12.0,-44.9H18.7V-42.8H-12.0ZM20.8,-44.9H66.8V-42.8H20.8ZM68.9,-44.9H71.2V-42.8H68.9ZM75.4,-44.9H80.0V-42.8H75.4ZM82.0,-44.9H84.3V-42.8H82.0ZM88.6,-44.9H104.0V-42.8H88.6ZM114.8,-44.9H119.3V-42.8H114.8ZM-111.5,-46.9H-96.2V-44.8H-111.5ZM-87.7,-46.9H-85.3V-44.8H-87.7ZM-9.7,-46.9H-5.3V-44.8H-9.7ZM1.1,-46.9H3.4V-44.8H1.1ZM9.7,-46.9H12.1V-44.8H9.7ZM24.9,-46.9H68.3V-44.8H24.9ZM74.7,-46.9H77.0V-44.8H74.7ZM89.8,-46.9H103.0V-44.8H89.8ZM115.8,-46.9H120.3V-44.8H115.8ZM-110.2,-49.0H-103.7V-46.8H-110.2ZM-99.5,-49.0H-95.1V-46.8H-99.5ZM-48.2,-49.0H-41.6V-46.8H-48.2ZM-9.6,-49.0H-7.3V-46.8H-9.6ZM-5.4,-49.0H-3.1V-46.8H-5.4ZM24.6,-49.0H29.0V-46.8H24.6ZM31.0,-49.0H33.3V-46.8H31.0ZM35.3,-49.0H106.1V-46.8H35.3ZM116.7,-49.0H119.0V-46.8H116.7ZM-109.0,-51.0H-106.7V-48.8H-109.0ZM-94.2,-51.0H-89.8V-48.8H-94.2ZM-77.2,-51.0H-68.6V-48.8H-77.2ZM-45.5,-51.0H-41.1V-48.8H-45.5ZM-5.3,-51.0H-0.9V-48.8H-5.3ZM13.8,-51.0H16.0V-48.8H13.8ZM39.2,-51.0H104.9V-48.8H39.2ZM117.5,-51.0H119.7V-48.8H117.5ZM-109.8,-53.0H-107.5V-50.8H-109.8ZM-86.8,-53.0H-84.5V-50.8H-86.8ZM-76.3,-53.0H-74.1V-50.8H-76.3ZM-42.9,-53.0H-40.6V-50.8H-42.9ZM-7.3,-53.0H-5.1V-50.8H-7.3ZM15.7,-53.0H17.9V-50.8H15.7ZM22.0,-53.0H30.5V-50.8H22.0ZM32.4,-53.0H34.7V-50.8H32.4ZM38.7,-53.0H101.6V-50.8H38.7ZM118.1,-53.0H124.6V-50.8H118.1ZM-112.5,-54.9H-108.2V-52.8H-112.5ZM-83.6,-54.9H-81.4V-52.8H-83.6ZM-44.4,-54.9H-40.1V-52.8H-44.4ZM-11.4,-54.9H-5.0V-52.8H-11.4ZM-1.0,-54.9H3.2V-52.8H-1.0ZM32.0,-54.9H34.2V-52.8H32.0ZM36.1,-54.9H81.7V-52.8H36.1ZM85.7,-54.9H100.3V-52.8H85.7ZM116.6,-54.9H123.0V-52.8H116.6ZM126.9,-54.9H133.3V-52.8H126.9ZM-139.4,-56.9H-131.1V-54.8H-139.4ZM-110.9,-56.9H-108.8V-54.8H-110.9ZM-90.6,-56.9H-88.4V-54.8H-90.6ZM-45.8,-56.9H-41.6V-54.8H-45.8ZM-11.2,-56.9H-4.9V-54.8H-11.2ZM1.0,-56.9H3.2V-54.8H1.0ZM5.1,-56.9H7.3V-54.8H5.1ZM9.2,-56.9H11.3V-54.8H9.2ZM17.3,-56.9H19.5V-54.8H17.3ZM35.6,-56.9H37.8V-54.8H35.6ZM39.7,-56.9H46.0V-54.8H39.7ZM49.9,-56.9H74.4V-54.8H49.9ZM88.5,-56.9H98.9V-54.8H88.5ZM115.0,-56.9H121.3V-54.8H115.0ZM123.2,-56.9H133.5V-54.8H123.2ZM-137.4,-58.8H-123.2V-56.7H-137.4ZM-109.3,-58.8H-107.1V-56.7H-109.3ZM-61.2,-58.8H-59.0V-56.7H-61.2ZM-45.1,-58.8H-41.0V-56.7H-45.1ZM-11.0,-58.8H-4.9V-56.7H-11.0ZM3.0,-58.8H13.2V-56.7H3.0ZM51.1,-58.8H55.3V-56.7H51.1ZM57.2,-58.8H67.3V-56.7H57.2ZM89.2,-58.8H99.4V-56.7H89.2ZM113.3,-58.8H117.5V-56.7H113.3ZM121.3,-58.8H127.5V-56.7H121.3ZM129.3,-58.8H133.5V-56.7H129.3ZM-135.2,-60.7H-117.3V-58.7H-135.2ZM-109.6,-60.7H-107.4V-58.7H-109.6ZM-56.3,-60.7H-54.1V-58.7H-56.3ZM-52.3,-60.7H-50.2V-58.7H-52.3ZM-46.4,-60.7H-42.3V-58.7H-46.4ZM-10.9,-60.7H-4.8V-58.7H-10.9ZM1.0,-60.7H7.1V-58.7H1.0ZM89.8,-60.7H95.9V-58.7H89.8ZM113.5,-60.7H115.6V-58.7H113.5ZM119.4,-60.7H131.4V-58.7H119.4ZM-129.1,-62.6H-127.0V-60.6H-129.1ZM-123.3,-62.6H-107.6V-60.6H-123.3ZM-53.4,-62.6H-51.3V-60.6H-53.4ZM-45.6,-62.6H-43.5V-60.6H-45.6ZM-37.9,-62.6H-29.9V-60.6H-37.9ZM-6.8,-62.6H-4.7V-60.6H-6.8ZM1.0,-62.6H5.0V-60.6H1.0ZM121.3,-62.6H123.4V-60.6H121.3ZM125.2,-62.6H127.3V-60.6H125.2ZM129.1,-62.6H135.1V-60.6H129.1ZM-121.2,-64.5H-115.3V-62.5H-121.2ZM-62.0,-64.5H-58.0V-62.5H-62.0ZM-41.0,-64.5H-29.4V-62.5H-41.0ZM-6.7,-64.5H3.0V-62.5H-6.7ZM86.8,-64.5H88.9V-62.5H86.8ZM126.9,-64.5H136.6V-62.5H126.9ZM-66.5,-66.4H-45.8V-64.4H-66.5ZM-40.3,-66.4H-27.0V-64.4H-40.3ZM-19.7,-66.4H-8.3V-64.4H-19.7ZM0.9,-66.4H3.0V-64.4H0.9ZM109.6,-66.4H111.6V-64.4H109.6ZM126.5,-66.4H130.4V-64.4H126.5ZM132.1,-66.4H135.0V-64.4H132.1ZM-132.4,-68.2H-129.5V-66.2H-132.4ZM-68.9,-68.2H-43.1V-66.2H-68.9ZM-41.4,-68.2H-24.7V-66.2H-41.4ZM-21.1,-68.2H-8.1V-66.2H-21.1ZM0.9,-68.2H4.7V-66.2H0.9ZM98.4,-68.2H100.3V-66.2H98.4ZM125.9,-68.2H127.9V-66.2H125.9ZM129.6,-68.2H132.5V-66.2H129.6ZM-129.8,-70.0H-126.9V-68.0H-129.8ZM-71.2,-70.0H-42.2V-68.0H-71.2ZM-40.6,-70.0H-8.0V-68.0H-40.6ZM2.7,-70.0H6.5V-68.0H2.7ZM125.3,-70.0H129.9V-68.0H125.3ZM-127.2,-71.7H-120.8V-69.8H-127.2ZM-71.5,-71.7H-41.4V-69.8H-71.5ZM-39.7,-71.7H-7.8V-69.8H-39.7ZM6.2,-71.7H8.1V-69.8H6.2ZM126.3,-71.7H127.3V-69.8H126.3ZM-124.5,-73.5H-113.1V-71.6H-124.5ZM-101.1,-73.5H-87.1V-71.6H-101.1ZM-83.8,-73.5H-12.8V-71.6H-83.8ZM26.8,-73.5H37.3V-71.6H26.8ZM44.1,-73.5H46.0V-71.6H44.1ZM47.5,-73.5H49.4V-71.6H47.5ZM51.0,-73.5H54.6V-71.6H51.0ZM56.2,-73.5H59.8V-71.6H56.2ZM92.5,-73.5H103.0V-71.6H92.5ZM123.6,-73.5H124.6V-71.6H123.6ZM-121.7,-75.1H-117.3V-73.3H-121.7ZM-114.1,-75.1H-41.3V-73.3H-114.1ZM-39.7,-75.1H-12.5V-73.3H-39.7ZM21.1,-75.1H28.0V-73.3H21.1ZM33.0,-75.1H36.5V-73.3H33.0ZM49.9,-75.1H51.7V-73.3H49.9ZM53.2,-75.1H56.8V-73.3H53.2ZM58.3,-75.1H60.1V-73.3H58.3ZM88.7,-75.1H104.1V-73.3H88.7ZM105.6,-75.1H107.5V-73.3H105.6ZM109.0,-75.1H114.2V-73.3H109.0ZM115.8,-75.1H121.8V-73.3H115.8ZM-108.1,-76.8H-94.7V-75.0H-108.1ZM-85.0,-76.8H-43.6V-75.0H-85.0ZM-40.4,-76.8H-10.6V-75.0H-40.4ZM12.4,-76.8H22.4V-75.0H12.4ZM32.2,-76.8H37.3V-75.0H32.2ZM45.4,-76.8H47.2V-75.0H45.4ZM52.0,-76.8H57.1V-75.0H52.0ZM68.5,-76.8H73.6V-75.0H68.5ZM75.1,-76.8H76.9V-75.0H75.1ZM83.3,-76.8H108.2V-75.0H83.3ZM116.3,-76.8H118.9V-75.0H116.3ZM-82.8,-78.4H-10.3V-76.6H-82.8ZM7.2,-78.4H13.8V-76.6H7.2ZM31.3,-78.4H37.9V-76.6H31.3ZM45.8,-78.4H49.2V-76.6H45.8ZM55.4,-78.4H57.2V-76.6H55.4ZM63.5,-78.4H84.5V-76.6H63.5ZM86.0,-78.4H95.8V-76.6H86.0ZM-80.4,-79.9H-8.4V-78.2H-80.4ZM5.5,-79.9H16.5V-78.2H5.5ZM32.0,-79.9H38.4V-78.2H32.0ZM41.4,-79.9H43.1V-78.2H41.4ZM55.4,-79.9H58.7V-78.2H55.4ZM61.7,-79.9H72.8V-78.2H61.7ZM83.5,-79.9H93.1V-78.2H83.5ZM-78.0,-81.4H-8.2V-79.8H-78.0ZM5.3,-81.4H17.6V-79.8H5.3ZM34.1,-81.4H43.3V-79.8H34.1ZM53.8,-81.4H70.6V-79.8H53.8ZM-66.7,-82.8H-7.9V-81.3H-66.7ZM5.1,-82.8H17.0V-81.3H5.1ZM52.1,-82.8H62.5V-81.3H52.1ZM-57.6,-84.0H-7.7V-82.6H-57.6ZM6.4,-84.0H16.5V-82.6H6.4ZM50.5,-84.0H59.1V-82.6H50.5ZM-54.4,-85.0H-8.8V-83.8H-54.4Z"/><path fill="#1e96fa" d="M139.1,51.0H143.4V53.1H139.1ZM138.6,49.0H140.9V51.1H138.6ZM145.0,49.0H147.2V51.1H145.0ZM-65.3,46.9H-63.0V49.1H-65.3ZM123.1,46.9H127.5V49.1H123.1ZM-63.8,44.9H-61.5V47.1H-63.8ZM122.3,44.9H124.6V47.1H122.3ZM128.8,44.9H131.1V47.1H128.8ZM152.6,44.9H154.9V47.1H152.6ZM-64.5,42.9H-62.2V45.1H-64.5ZM123.6,42.9H125.9V45.1H123.6ZM154.2,42.9H156.5V45.1H154.2ZM-62.9,40.9H-60.6V43.1H-62.9ZM-58.5,40.9H-56.1V43.1H-58.5ZM126.9,40.9H129.3V43.1H126.9ZM157.9,40.9H159.1V43.1H157.9ZM-67.9,38.8H-65.5V41.0H-67.9ZM-63.5,38.8H-61.1V41.0H-63.5ZM-59.0,38.8H-56.6V41.0H-59.0ZM-52.3,38.8H-50.0V41.0H-52.3ZM101.3,38.8H105.9V41.0H101.3ZM152.6,38.8H154.9V41.0H152.6ZM159.2,38.8H160.5V41.0H159.2ZM-66.2,36.8H-63.8V39.0H-66.2ZM-57.2,36.8H-52.6V39.0H-57.2ZM-48.3,36.8H-45.9V39.0H-48.3ZM99.9,36.8H102.3V39.0H99.9ZM106.6,36.8H109.0V39.0H106.6ZM129.1,36.8H131.5V39.0H129.1ZM156.0,36.8H160.7V39.0H156.0ZM-59.9,34.7H-55.3V36.9H-59.9ZM-46.4,34.7H-44.0V36.9H-46.4ZM100.6,34.7H103.1V36.9H100.6ZM105.2,34.7H107.6V36.9H105.2ZM132.3,34.7H134.7V36.9H132.3ZM-60.3,32.7H-55.6V34.9H-60.3ZM26.2,32.7H28.6V34.9H26.2ZM30.7,32.7H33.2V34.9H30.7ZM103.6,32.7H106.0V34.9H103.6ZM135.5,32.7H137.9V34.9H135.5ZM-60.7,30.7H-56.0V32.8H-60.7ZM-44.7,30.7H-42.2V32.8H-44.7ZM26.3,30.7H28.8V32.8H26.3ZM-61.0,28.6H-54.0V30.8H-61.0ZM26.5,28.6H28.9V30.8H26.5ZM31.1,28.6H33.6V30.8H31.1ZM137.1,28.6H139.5V30.8H137.1ZM-59.0,26.6H-54.2V28.8H-59.0ZM-42.8,26.6H-40.4V28.8H-42.8ZM24.3,26.6H26.8V28.8H24.3ZM28.9,26.6H31.4V28.8H28.9ZM42.8,26.6H47.6V28.8H42.8ZM142.3,26.6H144.8V28.8H142.3ZM-63.9,24.5H-61.4V26.7H-63.9ZM-56.9,24.5H-54.5V26.7H-56.9ZM-43.0,24.5H-38.2V26.7H-43.0ZM24.4,24.5H26.9V26.7H24.4ZM31.4,24.5H33.8V26.7H31.4ZM142.9,24.5H145.4V26.7H142.9ZM-66.5,22.5H-61.7V24.7H-66.5ZM-59.5,22.5H-57.0V24.7H-59.5ZM-54.8,22.5H-52.3V24.7H-54.8ZM-43.1,22.5H-40.7V24.7H-43.1ZM-38.5,22.5H-36.0V24.7H-38.5ZM29.2,22.5H36.3V24.7H29.2ZM38.5,22.5H41.0V24.7H38.5ZM136.4,22.5H138.9V24.7H136.4ZM-66.7,20.4H-64.2V22.6H-66.7ZM-62.0,20.4H-59.5V22.6H-62.0ZM-57.3,20.4H-54.8V22.6H-57.3ZM-45.6,20.4H-40.8V22.6H-45.6ZM-36.3,20.4H-33.8V22.6H-36.3ZM29.2,20.4H38.8V22.6H29.2ZM139.2,20.4H144.1V22.6H139.2ZM-62.2,18.4H-57.4V20.6H-62.2ZM-45.8,18.4H-40.9V20.6H-45.8ZM-36.4,18.4H-33.9V20.6H-36.4ZM31.7,18.4H34.2V20.6H31.7ZM48.1,18.4H50.6V20.6H48.1ZM-69.5,16.3H-67.0V18.5H-69.5ZM-64.7,16.3H-57.5V18.5H-64.7ZM-43.6,16.3H-36.3V18.5H-43.6ZM29.4,16.3H31.9V18.5H29.4ZM36.5,16.3H39.0V18.5H36.5ZM41.2,16.3H43.7V18.5H41.2ZM48.3,16.3H50.8V18.5H48.3ZM-46.0,14.3H-41.2V16.5H-46.0ZM17.7,14.3H20.2V16.5H17.7ZM34.2,14.3H39.1V16.5H34.2ZM41.3,14.3H43.8V16.5H41.3ZM48.4,14.3H50.9V16.5H48.4ZM123.9,14.3H126.4V16.5H123.9ZM128.7,14.3H135.9V16.5H128.7ZM-46.1,12.3H-41.3V14.5H-46.1ZM-39.0,12.3H-36.5V14.5H-39.0ZM13.0,12.3H15.5V14.5H13.0ZM24.8,12.3H27.4V14.5H24.8ZM29.6,12.3H39.2V14.5H29.6ZM43.8,12.3H48.6V14.5H43.8ZM121.8,12.3H133.8V14.5H121.8ZM138.4,12.3H145.6V14.5H138.4ZM-46.2,10.2H-41.3V12.4H-46.2ZM10.7,10.2H15.6V12.4H10.7ZM24.9,10.2H29.8V12.4H24.9ZM32.0,10.2H34.5V12.4H32.0ZM100.7,10.2H122.2V12.4H100.7ZM124.4,10.2H131.7V12.4H124.4ZM145.8,10.2H148.3V12.4H145.8ZM-43.9,8.2H-41.4V10.4H-43.9ZM-34.4,8.2H-31.9V10.4H-34.4ZM22.6,8.2H27.4V10.4H22.6ZM32.0,8.2H34.6V10.4H32.0ZM146.0,8.2H148.5V10.4H146.0ZM-74.9,6.1H-72.3V8.3H-74.9ZM-41.6,6.1H-34.3V8.3H-41.6ZM25.0,6.1H29.9V8.3H25.0ZM32.1,6.1H34.6V8.3H32.1ZM103.4,6.1H113.0V8.3H103.4ZM117.6,6.1H122.5V8.3H117.6ZM146.2,6.1H148.7V8.3H146.2ZM-74.9,4.1H-72.4V6.3H-74.9ZM-46.4,4.1H-43.9V6.3H-46.4ZM-41.6,4.1H-36.7V6.3H-41.6ZM8.3,4.1H10.9V6.3H8.3ZM29.7,4.1H32.3V6.3H29.7ZM103.5,4.1H110.8V6.3H103.5ZM117.8,4.1H122.7V6.3H117.8ZM-77.4,2.0H-74.8V4.2H-77.4ZM-46.4,2.0H-43.9V4.2H-46.4ZM29.8,2.0H32.3V4.2H29.8ZM91.7,2.0H94.2V4.2H91.7ZM117.8,2.0H122.7V4.2H117.8ZM144.0,2.0H146.6V4.2H144.0ZM-46.4,0.0H-43.9V2.2H-46.4ZM6.0,0.0H8.5V2.2H6.0ZM29.8,0.0H32.3V2.2H29.8ZM117.9,0.0H122.8V2.2H117.9ZM-46.4,-2.0H-43.9V0.1H-46.4ZM6.0,-2.0H8.5V0.1H6.0ZM29.8,-2.0H32.3V0.1H29.8ZM89.3,-2.0H91.8V0.1H89.3ZM117.9,-2.0H120.4V0.1H117.9ZM122.7,-2.0H129.9V0.1H122.7ZM-79.7,-4.1H-77.2V-1.9H-79.7ZM-48.8,-4.1H-46.3V-1.9H-48.8ZM-13.1,-4.1H-5.8V-1.9H-13.1ZM6.0,-4.1H8.5V-1.9H6.0ZM29.8,-4.1H32.3V-1.9H29.8ZM98.8,-4.1H103.7V-1.9H98.8ZM115.5,-4.1H118.0V-1.9H115.5ZM-51.1,-6.1H-48.6V-3.9H-51.1ZM-5.9,-6.1H-3.4V-3.9H-5.9ZM3.6,-6.1H6.1V-3.9H3.6ZM25.0,-6.1H29.9V-3.9H25.0ZM34.5,-6.1H37.0V-3.9H34.5ZM72.6,-6.1H77.5V-3.9H72.6ZM86.8,-6.1H89.4V-3.9H86.8ZM98.7,-6.1H103.6V-3.9H98.7ZM117.8,-6.1H120.3V-3.9H117.8ZM-77.2,-8.2H-74.7V-6.0H-77.2ZM-3.6,-8.2H3.7V-6.0H-3.6ZM10.7,-8.2H22.7V-6.0H10.7ZM70.1,-8.2H72.6V-6.0H70.1ZM77.2,-8.2H79.8V-6.0H77.2ZM98.6,-8.2H101.2V-6.0H98.6ZM120.0,-8.2H122.5V-6.0H120.0ZM-81.9,-10.2H-74.6V-8.0H-81.9ZM-58.2,-10.2H-53.3V-8.0H-58.2ZM-17.8,-10.2H-15.3V-8.0H-17.8ZM3.6,-10.2H13.2V-8.0H3.6ZM22.6,-10.2H32.2V-8.0H22.6ZM70.0,-10.2H72.5V-8.0H70.0ZM77.1,-10.2H79.7V-8.0H77.1ZM100.9,-10.2H105.8V-8.0H100.9ZM108.0,-10.2H110.5V-8.0H108.0ZM119.9,-10.2H122.4V-8.0H119.9ZM-74.7,-12.3H-57.9V-10.1H-74.7ZM-15.4,-12.3H-12.9V-10.1H-15.4ZM-8.3,-12.3H1.3V-10.1H-8.3ZM17.8,-12.3H20.3V-10.1H17.8ZM24.9,-12.3H27.4V-10.1H24.9ZM29.6,-12.3H39.3V-10.1H29.6ZM72.3,-12.3H77.2V-10.1H72.3ZM110.2,-12.3H112.7V-10.1H110.2ZM119.7,-12.3H122.2V-10.1H119.7ZM-74.5,-14.3H-72.0V-12.1H-74.5ZM-15.4,-14.3H-12.9V-12.1H-15.4ZM-10.6,-14.3H-5.8V-12.1H-10.6ZM-3.5,-14.3H6.1V-12.1H-3.5ZM10.6,-14.3H15.5V-12.1H10.6ZM17.7,-14.3H20.3V-12.1H17.7ZM22.5,-14.3H25.0V-12.1H22.5ZM27.2,-14.3H34.5V-12.1H27.2ZM72.2,-14.3H74.7V-12.1H72.2ZM105.3,-14.3H107.8V-12.1H105.3ZM110.0,-14.3H112.5V-12.1H110.0ZM119.5,-14.3H122.0V-12.1H119.5ZM-88.5,-16.3H-86.0V-14.2H-88.5ZM69.6,-16.3H72.1V-14.2H69.6ZM86.2,-16.3H88.7V-14.2H86.2ZM105.0,-16.3H107.6V-14.2H105.0ZM109.8,-16.3H112.3V-14.2H109.8ZM119.2,-16.3H121.7V-14.2H119.2ZM-90.6,-18.4H-88.1V-16.2H-90.6ZM-76.5,-18.4H-74.0V-16.2H-76.5ZM55.3,-18.4H57.8V-16.2H55.3ZM71.8,-18.4H76.7V-16.2H71.8ZM85.9,-18.4H88.4V-16.2H85.9ZM109.5,-18.4H112.0V-16.2H109.5ZM-95.1,-20.4H-92.6V-18.2H-95.1ZM-78.6,-20.4H-76.1V-18.2H-78.6ZM55.2,-20.4H57.7V-18.2H55.2ZM69.2,-20.4H71.7V-18.2H69.2ZM85.7,-20.4H88.2V-18.2H85.7ZM109.2,-20.4H111.7V-18.2H109.2ZM-97.1,-22.5H-94.6V-20.3H-97.1ZM-92.4,-22.5H-87.6V-20.3H-92.4ZM-80.7,-22.5H-78.2V-20.3H-80.7ZM62.0,-22.5H64.5V-20.3H62.0ZM85.4,-22.5H87.9V-20.3H85.4ZM106.5,-22.5H109.0V-20.3H106.5ZM111.1,-22.5H118.3V-20.3H111.1ZM-92.1,-24.5H-89.6V-22.3H-92.1ZM-87.5,-24.5H-80.3V-22.3H-87.5ZM54.8,-24.5H64.3V-22.3H54.8ZM78.1,-24.5H85.3V-22.3H78.1ZM108.5,-24.5H113.3V-22.3H108.5ZM-96.4,-26.6H-89.3V-24.4H-96.4ZM-75.5,-26.6H-73.1V-24.4H-75.5ZM-70.9,-26.6H-68.4V-24.4H-70.9ZM54.6,-26.6H57.1V-24.4H54.6ZM59.3,-26.6H64.1V-24.4H59.3ZM66.2,-26.6H68.7V-24.4H66.2ZM75.5,-26.6H78.0V-24.4H75.5ZM112.7,-26.6H115.2V-24.4H112.7ZM-75.2,-28.6H-72.8V-26.4H-75.2ZM59.0,-28.6H63.8V-26.4H59.0ZM66.0,-28.6H70.7V-26.4H66.0ZM72.9,-28.6H75.4V-26.4H72.9ZM112.3,-28.6H114.7V-26.4H112.3ZM-86.4,-30.7H-77.0V-28.5H-86.4ZM-72.6,-30.7H-70.1V-28.5H-72.6ZM58.7,-30.7H63.5V-28.5H58.7ZM72.6,-30.7H77.3V-28.5H72.6ZM111.7,-30.7H114.2V-28.5H111.7ZM-72.2,-32.7H-69.7V-30.5H-72.2ZM58.4,-32.7H63.2V-30.5H58.4ZM65.3,-32.7H67.7V-30.5H65.3ZM69.9,-32.7H72.3V-30.5H69.9ZM79.0,-32.7H86.1V-30.5H79.0ZM113.4,-32.7H115.9V-30.5H113.4ZM-94.5,-34.7H-89.8V-32.5H-94.5ZM58.1,-34.7H62.8V-32.5H58.1ZM64.9,-34.7H67.3V-32.5H64.9ZM83.1,-34.7H90.1V-32.5H83.1ZM105.9,-34.7H112.9V-32.5H105.9ZM117.3,-34.7H126.5V-32.5H117.3ZM-89.3,-36.8H-86.9V-34.6H-89.3ZM62.2,-36.8H73.7V-34.6H62.2ZM78.0,-36.8H85.0V-34.6H78.0ZM87.1,-36.8H89.5V-34.6H87.1ZM102.9,-36.8H105.3V-34.6H102.9ZM114.2,-36.8H116.6V-34.6H114.2ZM-95.4,-38.8H-86.3V-36.6H-95.4ZM61.7,-38.8H64.1V-36.6H61.7ZM68.5,-38.8H70.9V-36.6H68.5ZM79.7,-38.8H84.3V-36.6H79.7ZM86.4,-38.8H88.8V-36.6H86.4ZM93.2,-38.8H102.3V-36.6H93.2ZM113.4,-38.8H115.8V-36.6H113.4ZM126.8,-38.8H129.2V-36.6H126.8ZM-92.4,-40.9H-90.0V-38.7H-92.4ZM72.4,-40.9H83.7V-38.7H72.4ZM85.7,-40.9H90.3V-38.7H85.7ZM103.6,-40.9H105.9V-38.7H103.6ZM108.0,-40.9H112.6V-38.7H108.0ZM-96.0,-42.9H-89.3V-40.7H-96.0ZM67.3,-42.9H69.7V-40.7H67.3ZM71.8,-42.9H76.3V-40.7H71.8ZM82.8,-42.9H85.1V-40.7H82.8ZM87.2,-42.9H89.6V-40.7H87.2ZM102.7,-42.9H105.0V-40.7H102.7ZM-88.6,-44.9H-86.2V-42.8H-88.6ZM18.6,-44.9H20.9V-42.8H18.6ZM66.7,-44.9H69.0V-42.8H66.7ZM71.1,-44.9H75.6V-42.8H71.1ZM79.8,-44.9H82.2V-42.8H79.8ZM84.2,-44.9H88.7V-42.8H84.2ZM103.9,-44.9H106.2V-42.8H103.9ZM110.4,-44.9H115.0V-42.8H110.4ZM127.9,-44.9H130.3V-42.8H127.9ZM-96.3,-46.9H-91.8V-44.8H-96.3ZM-89.8,-46.9H-87.5V-44.8H-89.8ZM-74.7,-46.9H-70.2V-44.8H-74.7ZM-5.4,-46.9H1.2V-44.8H-5.4ZM3.2,-46.9H7.7V-44.8H3.2ZM11.9,-46.9H14.2V-44.8H11.9ZM18.4,-46.9H25.0V-44.8H18.4ZM68.2,-46.9H74.8V-44.8H68.2ZM76.8,-46.9H90.0V-44.8H76.8ZM102.8,-46.9H105.1V-44.8H102.8ZM111.5,-46.9H115.9V-44.8H111.5ZM120.1,-46.9H122.4V-44.8H120.1ZM-103.8,-49.0H-99.4V-46.8H-103.8ZM-95.3,-49.0H-84.4V-46.8H-95.3ZM-76.0,-49.0H-69.4V-46.8H-76.0ZM-7.5,-49.0H-5.2V-46.8H-7.5ZM-3.2,-49.0H-0.9V-46.8H-3.2ZM1.1,-49.0H7.6V-46.8H1.1ZM11.8,-49.0H14.1V-46.8H11.8ZM16.1,-49.0H18.3V-46.8H16.1ZM20.3,-49.0H22.6V-46.8H20.3ZM28.9,-49.0H31.2V-46.8H28.9ZM33.2,-49.0H35.5V-46.8H33.2ZM106.0,-49.0H108.3V-46.8H106.0ZM118.8,-49.0H121.1V-46.8H118.8ZM-106.9,-51.0H-104.6V-48.8H-106.9ZM-96.3,-51.0H-94.0V-48.8H-96.3ZM-87.8,-51.0H-83.4V-48.8H-87.8ZM-7.4,-51.0H-5.1V-48.8H-7.4ZM1.1,-51.0H3.3V-48.8H1.1ZM5.3,-51.0H7.6V-48.8H5.3ZM15.9,-51.0H18.1V-48.8H15.9ZM22.2,-51.0H28.7V-48.8H22.2ZM32.8,-51.0H35.1V-48.8H32.8ZM119.6,-51.0H126.1V-48.8H119.6ZM-95.1,-53.0H-86.6V-50.8H-95.1ZM-84.7,-53.0H-82.4V-50.8H-84.7ZM-78.4,-53.0H-76.2V-50.8H-78.4ZM-74.2,-53.0H-67.8V-50.8H-74.2ZM-45.0,-53.0H-42.7V-50.8H-45.0ZM-5.2,-53.0H-3.0V-50.8H-5.2ZM-1.0,-53.0H3.3V-50.8H-1.0ZM5.2,-53.0H7.5V-50.8H5.2ZM11.5,-53.0H15.8V-50.8H11.5ZM36.6,-53.0H38.8V-50.8H36.6ZM101.4,-53.0H103.7V-50.8H101.4ZM116.1,-53.0H118.3V-50.8H116.1ZM-93.9,-54.9H-83.5V-52.8H-93.9ZM-81.5,-54.9H-75.2V-52.8H-81.5ZM3.1,-54.9H7.4V-52.8H3.1ZM9.3,-54.9H11.5V-52.8H9.3ZM15.5,-54.9H19.8V-52.8H15.5ZM21.7,-54.9H28.0V-52.8H21.7ZM34.1,-54.9H36.3V-52.8H34.1ZM81.5,-54.9H85.8V-52.8H81.5ZM100.1,-54.9H102.3V-52.8H100.1ZM114.6,-54.9H116.8V-52.8H114.6ZM-108.9,-56.9H-106.7V-54.8H-108.9ZM-88.5,-56.9H-86.4V-54.8H-88.5ZM-60.1,-56.9H-57.9V-54.8H-60.1ZM-56.0,-56.9H-53.8V-54.8H-56.0ZM-51.9,-56.9H-45.7V-54.8H-51.9ZM-5.1,-56.9H1.2V-54.8H-5.1ZM7.1,-56.9H9.3V-54.8H7.1ZM11.2,-56.9H15.4V-54.8H11.2ZM19.3,-56.9H23.6V-54.8H19.3ZM27.5,-56.9H35.8V-54.8H27.5ZM37.7,-56.9H39.8V-54.8H37.7ZM45.8,-56.9H50.0V-54.8H45.8ZM74.3,-56.9H78.5V-54.8H74.3ZM86.5,-56.9H88.7V-54.8H86.5ZM98.7,-56.9H100.9V-54.8H98.7ZM113.0,-56.9H115.2V-54.8H113.0ZM-59.2,-58.8H-49.0V-56.7H-59.2ZM-47.1,-58.8H-45.0V-56.7H-47.1ZM-1.0,-58.8H3.2V-56.7H-1.0ZM13.0,-58.8H15.2V-56.7H13.0ZM21.1,-58.8H23.2V-56.7H21.1ZM25.1,-58.8H27.2V-56.7H25.1ZM37.1,-58.8H39.3V-56.7H37.1ZM41.1,-58.8H43.3V-56.7H41.1ZM55.1,-58.8H57.3V-56.7H55.1ZM67.2,-58.8H71.3V-56.7H67.2ZM111.3,-58.8H113.5V-56.7H111.3ZM127.3,-58.8H129.5V-56.7H127.3ZM-107.6,-60.7H-105.5V-58.7H-107.6ZM-66.1,-60.7H-64.0V-58.7H-66.1ZM-60.2,-60.7H-56.1V-58.7H-60.2ZM-54.3,-60.7H-52.2V-58.7H-54.3ZM-4.9,-60.7H-0.8V-58.7H-4.9ZM6.9,-60.7H11.0V-58.7H6.9ZM22.7,-60.7H30.7V-58.7H22.7ZM50.3,-60.7H54.4V-58.7H50.3ZM58.2,-60.7H64.3V-58.7H58.2ZM95.7,-60.7H97.9V-58.7H95.7ZM-127.2,-62.6H-123.1V-60.6H-127.2ZM-107.7,-62.6H-105.7V-60.6H-107.7ZM-63.1,-62.6H-53.2V-60.6H-63.1ZM-51.4,-62.6H-45.5V-60.6H-51.4ZM-4.9,-62.6H-2.8V-60.6H-4.9ZM-1.0,-62.6H1.1V-60.6H-1.0ZM26.2,-62.6H32.2V-60.6H26.2ZM88.3,-62.6H92.4V-60.6H88.3ZM101.9,-62.6H104.0V-60.6H101.9ZM105.8,-62.6H107.9V-60.6H105.8ZM117.5,-62.6H121.5V-60.6H117.5ZM123.3,-62.6H125.4V-60.6H123.3ZM127.2,-62.6H129.3V-60.6H127.2ZM-128.8,-64.5H-124.8V-62.5H-128.8ZM-115.4,-64.5H-107.6V-62.5H-115.4ZM-69.6,-64.5H-67.6V-62.5H-69.6ZM-58.2,-64.5H-56.1V-62.5H-58.2ZM-54.4,-64.5H-44.7V-62.5H-54.4ZM2.9,-64.5H4.9V-62.5H2.9ZM84.9,-64.5H87.0V-62.5H84.9ZM88.7,-64.5H90.8V-62.5H88.7ZM115.4,-64.5H117.5V-62.5H115.4ZM121.2,-64.5H127.0V-62.5H121.2ZM-124.6,-66.4H-122.6V-64.4H-124.6ZM-120.8,-66.4H-118.8V-64.4H-120.8ZM-117.1,-66.4H-115.1V-64.4H-117.1ZM-74.0,-66.4H-72.0V-64.4H-74.0ZM2.8,-66.4H4.8V-64.4H2.8ZM75.9,-66.4H77.9V-64.4H75.9ZM81.5,-66.4H87.3V-64.4H81.5ZM92.7,-66.4H96.6V-64.4H92.7ZM98.4,-66.4H102.3V-64.4H98.4ZM122.7,-66.4H126.6V-64.4H122.7ZM130.2,-66.4H132.2V-64.4H130.2ZM-129.6,-68.2H-127.6V-66.2H-129.6ZM76.3,-68.2H82.0V-66.2H76.3ZM89.2,-68.2H91.1V-66.2H89.2ZM92.8,-68.2H94.8V-66.2H92.8ZM124.1,-68.2H126.1V-66.2H124.1ZM127.8,-68.2H129.8V-66.2H127.8ZM-127.1,-70.0H-125.1V-68.0H-127.1ZM-80.2,-70.0H-78.3V-68.0H-80.2ZM-74.8,-70.0H-71.1V-68.0H-74.8ZM51.4,-70.0H55.1V-68.0H51.4ZM62.2,-70.0H64.1V-68.0H62.2ZM83.8,-70.0H87.6V-68.0H83.8ZM92.8,-70.0H94.8V-68.0H92.8ZM123.5,-70.0H125.4V-68.0H123.5ZM-121.0,-71.7H-117.3V-69.8H-121.0ZM-101.5,-71.7H-85.5V-69.8H-101.5ZM-83.9,-71.7H-78.4V-69.8H-83.9ZM-75.1,-71.7H-71.4V-69.8H-75.1ZM29.1,-71.7H39.9V-69.8H29.1ZM41.5,-71.7H43.4V-69.8H41.5ZM48.6,-71.7H50.5V-69.8H48.6ZM52.1,-71.7H62.8V-69.8H52.1ZM66.2,-71.7H68.1V-69.8H66.2ZM124.5,-71.7H126.4V-69.8H124.5ZM-113.2,-73.5H-101.0V-71.6H-113.2ZM-85.6,-73.5H-83.7V-71.6H-85.6ZM7.8,-73.5H9.7V-71.6H7.8ZM23.3,-73.5H26.9V-71.6H23.3ZM37.2,-73.5H39.0V-71.6H37.2ZM40.6,-73.5H44.2V-71.6H40.6ZM45.8,-73.5H47.7V-71.6H45.8ZM54.5,-73.5H56.3V-71.6H54.5ZM59.6,-73.5H63.2V-71.6H59.6ZM80.4,-73.5H84.0V-71.6H80.4ZM90.8,-73.5H92.6V-71.6H90.8ZM102.9,-73.5H104.7V-71.6H102.9ZM9.3,-75.1H21.3V-73.3H9.3ZM36.3,-75.1H44.9V-73.3H36.3ZM46.5,-75.1H48.3V-73.3H46.5ZM51.5,-75.1H53.4V-73.3H51.5ZM56.6,-75.1H58.5V-73.3H56.6ZM60.0,-75.1H61.8V-73.3H60.0ZM70.1,-75.1H72.0V-73.3H70.1ZM87.0,-75.1H88.9V-73.3H87.0ZM103.9,-75.1H105.8V-73.3H103.9ZM107.3,-75.1H109.2V-73.3H107.3ZM114.1,-75.1H115.9V-73.3H114.1ZM37.1,-76.8H40.6V-75.0H37.1ZM43.7,-76.8H45.5V-75.0H43.7ZM47.0,-76.8H52.1V-75.0H47.0ZM56.9,-76.8H60.4V-75.0H56.9ZM61.9,-76.8H63.7V-75.0H61.9ZM65.2,-76.8H68.6V-75.0H65.2ZM73.4,-76.8H75.2V-75.0H73.4ZM76.7,-76.8H83.5V-75.0H76.7ZM37.8,-78.4H39.5V-76.6H37.8ZM42.6,-78.4H46.0V-76.6H42.6ZM49.0,-78.4H54.0V-76.6H49.0ZM57.1,-78.4H62.0V-76.6H57.1ZM38.3,-79.9H41.5V-78.2H38.3ZM42.9,-79.9H44.7V-78.2H42.9ZM52.3,-79.9H54.0V-78.2H52.3ZM58.6,-79.9H61.8V-78.2H58.6Z"/><path fill="#50bef0" d="M148.8,46.9H151.1V49.1H148.8ZM130.1,42.9H132.5V45.1H130.1ZM145.4,42.9H147.8V45.1H145.4ZM-67.3,40.9H-65.0V43.1H-67.3ZM129.2,40.9H131.5V43.1H129.2ZM133.6,40.9H135.9V43.1H133.6ZM149.0,40.9H151.4V43.1H149.0ZM-65.7,38.8H-63.3V41.0H-65.7ZM-56.8,38.8H-54.4V41.0H-56.8ZM130.3,38.8H132.7V41.0H130.3ZM-59.5,36.8H-57.1V39.0H-59.5ZM-50.5,36.8H-48.1V39.0H-50.5ZM131.3,36.8H133.7V39.0H131.3ZM-55.4,34.7H-53.0V36.9H-55.4ZM134.6,34.7H137.0V36.9H134.6ZM-46.7,32.7H-44.3V34.9H-46.7ZM137.8,32.7H140.2V34.9H137.8ZM-56.1,30.7H-53.7V32.8H-56.1ZM28.6,30.7H31.1V32.8H28.6ZM-44.9,28.6H-42.5V30.8H-44.9ZM28.8,28.6H31.2V30.8H28.8ZM26.6,26.6H29.1V28.8H26.6ZM-59.3,24.5H-56.8V26.7H-59.3ZM-54.6,24.5H-52.1V26.7H-54.6ZM26.7,24.5H29.2V26.7H26.7ZM40.7,24.5H43.1V26.7H40.7ZM138.3,24.5H140.8V26.7H138.3ZM-61.8,22.5H-59.3V24.7H-61.8ZM-57.1,22.5H-54.7V24.7H-57.1ZM-45.5,22.5H-43.0V24.7H-45.5ZM40.8,22.5H43.3V24.7H40.8ZM138.8,22.5H143.6V24.7H138.8ZM-59.7,20.4H-57.2V22.6H-59.7ZM40.9,20.4H43.4V22.6H40.9ZM48.0,20.4H50.5V22.6H48.0ZM136.9,20.4H139.4V22.6H136.9ZM-57.5,18.4H-55.0V20.6H-57.5ZM-41.1,18.4H-38.6V20.6H-41.1ZM29.3,18.4H31.8V20.6H29.3ZM36.4,18.4H38.9V20.6H36.4ZM41.1,18.4H43.6V20.6H41.1ZM137.3,18.4H142.2V20.6H137.3ZM-57.7,16.3H-55.2V18.5H-57.7ZM-45.9,16.3H-43.4V18.5H-45.9ZM34.1,16.3H36.6V18.5H34.1ZM137.7,16.3H140.2V18.5H137.7ZM-67.3,14.3H-64.8V16.5H-67.3ZM20.1,14.3H34.4V16.5H20.1ZM126.3,14.3H128.8V16.5H126.3ZM-69.8,12.3H-67.3V14.5H-69.8ZM-48.5,12.3H-46.0V14.5H-48.5ZM15.4,12.3H20.3V14.5H15.4ZM27.2,12.3H29.7V14.5H27.2ZM133.7,12.3H138.5V14.5H133.7ZM-72.3,10.2H-69.8V12.4H-72.3ZM-48.6,10.2H-46.1V12.4H-48.6ZM15.4,10.2H25.0V12.4H15.4ZM29.6,10.2H32.1V12.4H29.6ZM131.5,10.2H134.1V12.4H131.5ZM-72.4,8.2H-69.9V10.4H-72.4ZM-46.3,8.2H-43.8V10.4H-46.3ZM10.7,8.2H13.2V10.4H10.7ZM15.4,8.2H18.0V10.4H15.4ZM27.3,8.2H32.2V10.4H27.3ZM98.5,8.2H101.0V10.4H98.5ZM-46.3,6.1H-43.8V8.3H-46.3ZM10.7,6.1H15.6V8.3H10.7ZM29.7,6.1H32.2V8.3H29.7ZM96.3,6.1H98.8V8.3H96.3ZM112.9,6.1H117.8V8.3H112.9ZM10.7,4.1H13.2V6.3H10.7ZM22.6,4.1H25.1V6.3H22.6ZM94.0,4.1H96.5V6.3H94.0ZM101.1,4.1H103.6V6.3H101.1ZM110.6,4.1H113.1V6.3H110.6ZM143.9,4.1H146.5V6.3H143.9ZM-75.0,2.0H-72.5V4.2H-75.0ZM8.3,2.0H10.9V4.2H8.3ZM101.2,2.0H103.7V4.2H101.2ZM-75.0,0.0H-72.5V2.2H-75.0ZM91.7,0.0H94.2V2.2H91.7ZM101.2,0.0H103.8V2.2H101.2ZM134.6,0.0H139.5V2.2H134.6ZM-77.4,-2.0H-74.9V0.1H-77.4ZM98.8,-2.0H103.8V0.1H98.8ZM89.3,-4.1H91.8V-1.9H89.3ZM-15.5,-6.1H-12.9V-3.9H-15.5ZM5.9,-6.1H8.5V-3.9H5.9ZM22.6,-6.1H25.1V-3.9H22.6ZM115.4,-6.1H117.9V-3.9H115.4ZM-53.5,-8.2H-50.9V-6.0H-53.5ZM-5.9,-8.2H-3.4V-6.0H-5.9ZM3.6,-8.2H8.5V-6.0H3.6ZM32.1,-8.2H34.6V-6.0H32.1ZM89.1,-8.2H91.7V-6.0H89.1ZM-3.6,-10.2H1.3V-8.0H-3.6ZM32.0,-10.2H39.3V-8.0H32.0ZM98.5,-10.2H101.0V-8.0H98.5ZM110.4,-10.2H112.9V-8.0H110.4ZM-84.1,-12.3H-81.6V-10.1H-84.1ZM-77.0,-12.3H-74.5V-10.1H-77.0ZM-13.0,-12.3H-8.1V-10.1H-13.0ZM-86.4,-14.3H-83.8V-12.1H-86.4ZM69.5,-18.4H72.0V-16.2H69.5ZM104.8,-18.4H107.3V-16.2H104.8ZM-92.7,-20.4H-90.2V-18.2H-92.7ZM-94.8,-22.5H-92.3V-20.3H-94.8ZM-96.8,-24.5H-92.0V-22.3H-96.8ZM85.1,-24.5H87.6V-22.3H85.1ZM-73.2,-26.6H-70.7V-24.4H-73.2ZM63.9,-26.6H66.4V-24.4H63.9ZM89.5,-26.6H96.6V-24.4H89.5ZM-72.9,-28.6H-70.4V-26.4H-72.9ZM89.1,-28.6H91.6V-26.4H89.1ZM-77.2,-30.7H-72.4V-28.5H-77.2ZM56.4,-30.7H58.9V-28.5H56.4ZM-88.2,-32.7H-85.8V-30.5H-88.2ZM85.9,-32.7H88.4V-30.5H85.9ZM-89.9,-34.7H-87.5V-32.5H-89.9ZM89.9,-34.7H92.4V-32.5H89.9ZM-91.6,-36.8H-89.2V-34.6H-91.6ZM59.9,-36.8H62.3V-34.6H59.9ZM89.3,-36.8H94.0V-34.6H89.3ZM125.5,-36.8H127.9V-34.6H125.5ZM59.5,-38.8H61.9V-36.6H59.5ZM77.5,-38.8H79.8V-36.6H77.5ZM115.6,-38.8H118.0V-36.6H115.6ZM-90.2,-40.9H-85.6V-38.7H-90.2ZM-81.3,-40.9H-78.9V-38.7H-81.3ZM-76.8,-40.9H-74.5V-38.7H-76.8ZM105.8,-40.9H108.2V-38.7H105.8ZM114.7,-40.9H117.1V-38.7H114.7ZM125.8,-40.9H128.2V-38.7H125.8ZM-87.2,-42.9H-84.8V-40.7H-87.2ZM-80.6,-42.9H-78.2V-40.7H-80.6ZM-74.0,-42.9H-71.6V-40.7H-74.0ZM80.6,-42.9H82.9V-40.7H80.6ZM85.0,-42.9H87.4V-40.7H85.0ZM104.9,-42.9H111.6V-40.7H104.9ZM115.9,-42.9H120.5V-40.7H115.9ZM126.9,-42.9H129.3V-40.7H126.9ZM-95.1,-44.9H-88.4V-42.8H-95.1ZM-86.4,-44.9H-84.0V-42.8H-86.4ZM-77.6,-44.9H-75.3V-42.8H-77.6ZM-73.3,-44.9H-70.9V-42.8H-73.3ZM108.2,-44.9H110.6V-42.8H108.2ZM119.2,-44.9H121.5V-42.8H119.2ZM-92.0,-46.9H-89.7V-44.8H-92.0ZM-79.0,-46.9H-74.5V-44.8H-79.0ZM-53.0,-46.9H-50.7V-44.8H-53.0ZM7.6,-46.9H9.9V-44.8H7.6ZM14.1,-46.9H18.5V-44.8H14.1ZM105.0,-46.9H111.6V-44.8H105.0ZM126.6,-46.9H128.9V-44.8H126.6ZM-80.3,-49.0H-75.8V-46.8H-80.3ZM-50.3,-49.0H-48.0V-46.8H-50.3ZM-1.1,-49.0H1.2V-46.8H-1.1ZM13.9,-49.0H16.2V-46.8H13.9ZM18.2,-49.0H20.5V-46.8H18.2ZM22.5,-49.0H24.8V-46.8H22.5ZM114.5,-49.0H116.8V-46.8H114.5ZM-104.8,-51.0H-102.5V-48.8H-104.8ZM-98.4,-51.0H-96.1V-48.8H-98.4ZM-89.9,-51.0H-87.7V-48.8H-89.9ZM-79.4,-51.0H-77.1V-48.8H-79.4ZM-68.8,-51.0H-66.5V-48.8H-68.8ZM-47.6,-51.0H-45.4V-48.8H-47.6ZM-1.1,-51.0H1.2V-48.8H-1.1ZM3.2,-51.0H5.4V-48.8H3.2ZM11.6,-51.0H13.9V-48.8H11.6ZM20.1,-51.0H22.4V-48.8H20.1ZM28.6,-51.0H33.0V-48.8H28.6ZM34.9,-51.0H37.2V-48.8H34.9ZM104.8,-51.0H107.0V-48.8H104.8ZM115.3,-51.0H117.6V-48.8H115.3ZM-107.7,-53.0H-105.4V-50.8H-107.7ZM-80.5,-53.0H-78.3V-50.8H-80.5ZM-68.0,-53.0H-65.7V-50.8H-68.0ZM-3.1,-53.0H-0.9V-50.8H-3.1ZM7.3,-53.0H9.6V-50.8H7.3ZM19.9,-53.0H22.1V-50.8H19.9ZM30.3,-53.0H32.6V-50.8H30.3ZM34.5,-53.0H36.7V-50.8H34.5ZM-108.4,-54.9H-106.2V-52.8H-108.4ZM-75.3,-54.9H-73.1V-52.8H-75.3ZM-46.4,-54.9H-44.2V-52.8H-46.4ZM-5.2,-54.9H-0.9V-52.8H-5.2ZM7.2,-54.9H9.4V-52.8H7.2ZM11.4,-54.9H15.6V-52.8H11.4ZM19.6,-54.9H21.8V-52.8H19.6ZM27.9,-54.9H32.1V-52.8H27.9ZM-92.6,-56.9H-90.4V-54.8H-92.6ZM-86.5,-56.9H-78.2V-54.8H-86.5ZM-62.1,-56.9H-59.9V-54.8H-62.1ZM-58.0,-56.9H-55.8V-54.8H-58.0ZM-53.9,-56.9H-51.8V-54.8H-53.9ZM3.1,-56.9H5.2V-54.8H3.1ZM15.3,-56.9H17.5V-54.8H15.3ZM23.4,-56.9H27.6V-54.8H23.4ZM78.4,-56.9H80.6V-54.8H78.4ZM84.5,-56.9H86.7V-54.8H84.5ZM-107.3,-58.8H-105.1V-56.7H-107.3ZM-89.2,-58.8H-85.1V-56.7H-89.2ZM-49.1,-58.8H-47.0V-56.7H-49.1ZM-5.0,-58.8H-0.9V-56.7H-5.0ZM17.0,-58.8H19.2V-56.7H17.0ZM27.1,-58.8H29.2V-56.7H27.1ZM31.1,-58.8H33.2V-56.7H31.1ZM35.1,-58.8H37.2V-56.7H35.1ZM43.1,-58.8H45.3V-56.7H43.1ZM71.2,-58.8H73.3V-56.7H71.2ZM87.2,-58.8H89.4V-56.7H87.2ZM99.3,-58.8H101.4V-56.7H99.3ZM-64.2,-60.7H-60.1V-58.7H-64.2ZM-50.3,-60.7H-46.2V-58.7H-50.3ZM-1.0,-60.7H1.1V-58.7H-1.0ZM10.9,-60.7H13.0V-58.7H10.9ZM16.8,-60.7H22.9V-58.7H16.8ZM42.4,-60.7H44.6V-58.7H42.4ZM56.3,-60.7H58.4V-58.7H56.3ZM64.2,-60.7H66.3V-58.7H64.2ZM87.8,-60.7H90.0V-58.7H87.8ZM97.7,-60.7H99.8V-58.7H97.7ZM107.6,-60.7H109.7V-58.7H107.6ZM-105.8,-62.6H-103.7V-60.6H-105.8ZM-67.0,-62.6H-64.9V-60.6H-67.0ZM-2.9,-62.6H-0.8V-60.6H-2.9ZM4.9,-62.6H6.9V-60.6H4.9ZM24.3,-62.6H26.4V-60.6H24.3ZM49.5,-62.6H53.5V-60.6H49.5ZM96.1,-62.6H100.1V-60.6H96.1ZM103.9,-62.6H106.0V-60.6H103.9ZM111.6,-62.6H113.7V-60.6H111.6ZM115.5,-62.6H117.6V-60.6H115.5ZM-125.0,-64.5H-121.0V-62.5H-125.0ZM-107.8,-64.5H-105.7V-62.5H-107.8ZM-75.4,-64.5H-69.5V-62.5H-75.4ZM-56.3,-64.5H-54.2V-62.5H-56.3ZM83.0,-64.5H85.1V-62.5H83.0ZM90.6,-64.5H92.7V-62.5H90.6ZM94.4,-64.5H98.4V-62.5H94.4ZM102.1,-64.5H104.1V-62.5H102.1ZM111.6,-64.5H115.6V-62.5H111.6ZM119.2,-64.5H121.3V-62.5H119.2ZM-119.0,-66.4H-116.9V-64.4H-119.0ZM-115.2,-66.4H-113.2V-64.4H-115.2ZM-75.9,-66.4H-73.9V-64.4H-75.9ZM-70.3,-66.4H-66.4V-64.4H-70.3ZM77.8,-66.4H81.6V-64.4H77.8ZM87.1,-66.4H89.1V-64.4H87.1ZM90.9,-66.4H92.9V-64.4H90.9ZM111.5,-66.4H113.5V-64.4H111.5ZM120.8,-66.4H122.9V-64.4H120.8ZM-127.8,-68.2H-125.8V-66.2H-127.8ZM-83.6,-68.2H-81.7V-66.2H-83.6ZM-80.0,-68.2H-78.0V-66.2H-80.0ZM-74.5,-68.2H-68.8V-66.2H-74.5ZM4.6,-68.2H6.6V-66.2H4.6ZM65.3,-68.2H67.3V-66.2H65.3ZM72.6,-68.2H76.4V-66.2H72.6ZM91.0,-68.2H93.0V-66.2H91.0ZM107.5,-68.2H109.5V-66.2H107.5ZM116.7,-68.2H124.2V-66.2H116.7ZM-125.3,-70.0H-123.3V-68.0H-125.3ZM-91.0,-70.0H-89.1V-68.0H-91.0ZM-85.6,-70.0H-80.1V-68.0H-85.6ZM-78.4,-70.0H-74.7V-68.0H-78.4ZM6.3,-70.0H8.3V-68.0H6.3ZM55.0,-70.0H60.5V-68.0H55.0ZM64.0,-70.0H65.9V-68.0H64.0ZM69.4,-70.0H71.4V-68.0H69.4ZM73.0,-70.0H75.0V-68.0H73.0ZM87.4,-70.0H89.4V-68.0H87.4ZM96.4,-70.0H103.8V-68.0H96.4ZM109.1,-70.0H111.0V-68.0H109.1ZM-117.4,-71.7H-115.5V-69.8H-117.4ZM-103.3,-71.7H-101.4V-69.8H-103.3ZM-85.7,-71.7H-83.7V-69.8H-85.7ZM-78.6,-71.7H-74.9V-69.8H-78.6ZM7.9,-71.7H9.9V-69.8H7.9ZM27.4,-71.7H29.3V-69.8H27.4ZM39.7,-71.7H41.7V-69.8H39.7ZM43.3,-71.7H48.7V-69.8H43.3ZM50.3,-71.7H52.2V-69.8H50.3ZM68.0,-71.7H69.9V-69.8H68.0ZM91.0,-71.7H92.9V-69.8H91.0ZM94.5,-71.7H96.4V-69.8H94.5ZM98.0,-71.7H103.5V-69.8H98.0ZM122.7,-71.7H124.7V-69.8H122.7ZM-87.3,-73.5H-85.4V-71.6H-87.3ZM21.6,-73.5H23.5V-71.6H21.6ZM38.9,-73.5H40.8V-71.6H38.9ZM49.3,-73.5H51.1V-71.6H49.3ZM71.7,-73.5H73.6V-71.6H71.7ZM104.6,-73.5H106.5V-71.6H104.6ZM111.5,-73.5H115.1V-71.6H111.5ZM118.4,-73.5H122.0V-71.6H118.4ZM44.8,-75.1H46.6V-73.3H44.8ZM48.2,-75.1H50.0V-73.3H48.2ZM63.4,-75.1H65.2V-73.3H63.4ZM68.4,-75.1H70.3V-73.3H68.4ZM73.5,-75.1H75.4V-73.3H73.5ZM78.6,-75.1H80.4V-73.3H78.6ZM85.4,-75.1H87.2V-73.3H85.4ZM40.4,-76.8H43.9V-75.0H40.4ZM63.5,-76.8H65.3V-75.0H63.5ZM39.4,-78.4H42.7V-76.6H39.4ZM53.8,-78.4H55.6V-76.6H53.8ZM61.9,-78.4H63.6V-76.6H61.9ZM53.9,-79.9H55.6V-78.2H53.9Z"/><path fill="#c8e6f5" d="M140.7,49.0H145.1V51.1H140.7ZM-66.0,44.9H-63.7V47.1H-66.0ZM150.4,44.9H152.7V47.1H150.4ZM-65.1,40.9H-62.8V43.1H-65.1ZM102.1,36.8H106.8V39.0H102.1ZM133.6,36.8H136.0V39.0H133.6ZM138.1,36.8H140.5V39.0H138.1ZM102.9,34.7H105.3V36.9H102.9ZM136.8,34.7H141.5V36.9H136.8ZM-55.8,32.7H-53.4V34.9H-55.8ZM138.6,30.7H141.1V32.8H138.6ZM-54.4,26.6H-51.9V28.8H-54.4ZM137.7,26.6H140.2V28.8H137.7ZM140.6,24.5H143.1V26.7H140.6ZM-40.8,22.5H-38.3V24.7H-40.8ZM-55.0,20.4H-52.5V22.6H-55.0ZM-55.2,18.4H-52.7V20.6H-55.2ZM20.1,12.3H25.0V14.5H20.1ZM13.1,8.2H15.6V10.4H13.1ZM20.2,8.2H22.7V10.4H20.2ZM103.3,8.2H110.5V10.4H103.3ZM112.8,8.2H122.4V10.4H112.8ZM15.4,6.1H18.0V8.3H15.4ZM20.2,6.1H25.1V8.3H20.2ZM101.0,6.1H103.5V8.3H101.0ZM17.8,4.1H20.4V6.3H17.8ZM25.0,4.1H29.9V6.3H25.0ZM113.1,-4.1H115.6V-1.9H113.1ZM8.3,-6.1H10.9V-3.9H8.3ZM-74.9,-8.2H-72.3V-6.0H-74.9ZM8.3,-8.2H10.8V-6.0H8.3ZM34.5,-8.2H39.4V-6.0H34.5ZM74.9,-8.2H77.4V-6.0H74.9ZM-5.9,-10.2H-3.4V-8.0H-5.9ZM72.4,-10.2H74.9V-8.0H72.4ZM98.4,-12.3H105.6V-10.1H98.4ZM93.4,-14.3H98.3V-12.1H93.4ZM102.9,-14.3H105.4V-12.1H102.9ZM95.6,-16.3H98.1V-14.2H95.6ZM87.7,-22.5H90.2V-20.3H87.7ZM99.1,-24.5H101.6V-22.3H99.1ZM106.1,-24.5H108.6V-22.3H106.1ZM77.9,-26.6H80.3V-24.4H77.9ZM110.4,-26.6H112.9V-24.4H110.4ZM105.3,-28.6H107.8V-26.4H105.3ZM111.1,-32.7H113.6V-30.5H111.1ZM93.9,-36.8H96.3V-34.6H93.9ZM100.6,-36.8H103.1V-34.6H100.6ZM-79.1,-40.9H-76.7V-38.7H-79.1ZM112.5,-40.9H114.8V-38.7H112.5ZM-89.4,-42.9H-87.1V-40.7H-89.4ZM-82.8,-42.9H-80.4V-40.7H-82.8ZM-78.4,-42.9H-73.8V-40.7H-78.4ZM111.5,-42.9H116.1V-40.7H111.5ZM-79.8,-44.9H-77.5V-42.8H-79.8ZM-75.4,-44.9H-73.1V-42.8H-75.4ZM-71.1,-44.9H-68.7V-42.8H-71.1ZM106.1,-44.9H108.4V-42.8H106.1ZM125.7,-44.9H128.1V-42.8H125.7ZM-85.5,-46.9H-83.2V-44.8H-85.5ZM-70.3,-46.9H-68.0V-44.8H-70.3ZM122.3,-46.9H126.8V-44.8H122.3ZM-69.6,-49.0H-67.3V-46.8H-69.6ZM9.6,-49.0H11.9V-46.8H9.6ZM121.0,-49.0H127.5V-46.8H121.0ZM-81.5,-51.0H-79.2V-48.8H-81.5ZM-66.7,-51.0H-64.4V-48.8H-66.7ZM18.0,-51.0H20.3V-48.8H18.0ZM37.0,-51.0H39.3V-48.8H37.0ZM-82.6,-53.0H-80.4V-50.8H-82.6ZM3.1,-53.0H5.4V-50.8H3.1ZM9.4,-53.0H11.7V-50.8H9.4ZM17.8,-53.0H20.0V-50.8H17.8ZM-67.2,-58.8H-61.0V-56.7H-67.2ZM15.0,-58.8H17.2V-56.7H15.0ZM19.1,-58.8H21.2V-56.7H19.1ZM23.1,-58.8H25.2V-56.7H23.1ZM29.1,-58.8H31.2V-56.7H29.1ZM33.1,-58.8H35.2V-56.7H33.1ZM39.1,-58.8H41.3V-56.7H39.1ZM45.1,-58.8H49.3V-56.7H45.1ZM-68.1,-60.7H-66.0V-58.7H-68.1ZM32.6,-60.7H36.7V-58.7H32.6ZM38.5,-60.7H42.6V-58.7H38.5ZM48.4,-60.7H50.5V-58.7H48.4ZM103.6,-60.7H107.7V-58.7H103.6ZM109.6,-60.7H113.7V-58.7H109.6ZM-70.9,-62.6H-66.8V-60.6H-70.9ZM-65.0,-62.6H-62.9V-60.6H-65.0ZM32.0,-62.6H34.1V-60.6H32.0ZM94.2,-62.6H96.2V-60.6H94.2ZM109.7,-62.6H111.8V-60.6H109.7ZM-77.3,-64.5H-75.2V-62.5H-77.3ZM92.5,-64.5H94.6V-62.5H92.5ZM104.0,-64.5H109.9V-62.5H104.0ZM117.3,-64.5H119.4V-62.5H117.3ZM-126.5,-66.4H-124.4V-64.4H-126.5ZM-83.4,-66.4H-75.7V-64.4H-83.4ZM-72.1,-66.4H-70.1V-64.4H-72.1ZM74.0,-66.4H76.0V-64.4H74.0ZM89.0,-66.4H91.0V-64.4H89.0ZM96.5,-66.4H98.5V-64.4H96.5ZM102.1,-66.4H104.1V-64.4H102.1ZM117.1,-66.4H121.0V-64.4H117.1ZM-125.9,-68.2H-123.9V-66.2H-125.9ZM-87.3,-68.2H-85.3V-66.2H-87.3ZM-81.8,-68.2H-79.8V-66.2H-81.8ZM-76.3,-68.2H-74.3V-66.2H-76.3ZM54.2,-68.2H56.2V-66.2H54.2ZM63.4,-68.2H65.4V-66.2H63.4ZM67.1,-68.2H72.8V-66.2H67.1ZM81.8,-68.2H89.3V-66.2H81.8ZM94.7,-68.2H98.5V-66.2H94.7ZM100.2,-68.2H102.2V-66.2H100.2ZM105.7,-68.2H107.7V-66.2H105.7ZM111.2,-68.2H113.2V-66.2H111.2ZM114.9,-68.2H116.9V-66.2H114.9ZM-123.5,-70.0H-119.7V-68.0H-123.5ZM-89.2,-70.0H-87.3V-68.0H-89.2ZM49.6,-70.0H51.5V-68.0H49.6ZM60.4,-70.0H62.3V-68.0H60.4ZM65.8,-70.0H69.5V-68.0H65.8ZM71.2,-70.0H73.2V-68.0H71.2ZM78.4,-70.0H82.2V-68.0H78.4ZM89.2,-70.0H93.0V-68.0H89.2ZM94.6,-70.0H96.6V-68.0H94.6ZM103.6,-70.0H109.2V-68.0H103.6ZM114.5,-70.0H123.6V-68.0H114.5ZM62.7,-71.7H66.4V-69.8H62.7ZM69.8,-71.7H71.7V-69.8H69.8ZM76.8,-71.7H80.5V-69.8H76.8ZM82.1,-71.7H84.0V-69.8H82.1ZM103.3,-71.7H108.8V-69.8H103.3ZM110.4,-71.7H114.1V-69.8H110.4ZM117.4,-71.7H122.9V-69.8H117.4ZM64.8,-73.5H66.7V-71.6H64.8ZM68.3,-73.5H71.9V-71.6H68.3ZM76.9,-73.5H80.5V-71.6H76.9ZM106.3,-73.5H111.6V-71.6H106.3ZM115.0,-73.5H118.6V-71.6H115.0ZM121.9,-73.5H123.7V-71.6H121.9ZM65.1,-75.1H66.9V-73.3H65.1ZM71.8,-75.1H73.7V-73.3H71.8ZM76.9,-75.1H78.7V-73.3H76.9ZM80.3,-75.1H85.5V-73.3H80.3ZM60.2,-76.8H62.0V-75.0H60.2Z"/><path fill="#ffd732" d="M146.6,46.9H148.9V49.1H146.6ZM124.5,44.9H128.9V47.1H124.5ZM141.8,44.9H144.1V47.1H141.8ZM-66.7,42.9H-64.4V45.1H-66.7ZM125.7,42.9H128.1V45.1H125.7ZM131.4,40.9H133.7V43.1H131.4ZM151.2,40.9H153.6V43.1H151.2ZM155.6,40.9H158.0V43.1H155.6ZM132.5,38.8H137.1V41.0H132.5ZM154.8,38.8H159.4V41.0H154.8ZM135.8,36.8H138.2V39.0H135.8ZM140.0,32.7H142.5V34.9H140.0ZM-54.1,28.6H-51.7V30.8H-54.1ZM139.4,28.6H144.1V30.8H139.4ZM140.0,26.6H142.5V28.8H140.0ZM-40.9,20.4H-36.1V22.6H-40.9ZM-38.7,18.4H-36.2V20.6H-38.7ZM45.8,18.4H48.3V20.6H45.8ZM-55.3,16.3H-52.8V18.5H-55.3ZM45.9,16.3H48.4V18.5H45.9ZM-64.9,14.3H-62.4V16.5H-64.9ZM-57.8,14.3H-55.3V16.5H-57.8ZM-48.4,14.3H-45.9V16.5H-48.4ZM43.7,14.3H48.5V16.5H43.7ZM-67.4,12.3H-62.5V14.5H-67.4ZM-51.0,10.2H-48.4V12.4H-51.0ZM143.4,10.2H145.9V12.4H143.4ZM-48.7,8.2H-46.1V10.4H-48.7ZM17.8,8.2H20.3V10.4H17.8ZM100.9,8.2H103.4V10.4H100.9ZM110.4,8.2H112.9V10.4H110.4ZM-72.5,6.1H-70.0V8.3H-72.5ZM17.8,6.1H20.4V8.3H17.8ZM98.6,6.1H101.2V8.3H98.6ZM-51.1,4.1H-48.6V6.3H-51.1ZM13.1,4.1H18.0V6.3H13.1ZM20.2,4.1H22.7V6.3H20.2ZM113.0,4.1H117.9V6.3H113.0ZM-48.8,2.0H-46.3V4.2H-48.8ZM10.7,2.0H13.2V4.2H10.7ZM27.4,2.0H29.9V4.2H27.4ZM-56.0,0.0H-53.4V2.2H-56.0ZM8.3,0.0H10.9V2.2H8.3ZM122.7,0.0H125.2V2.2H122.7ZM-48.8,-2.0H-46.3V0.1H-48.8ZM115.5,-2.0H118.0V0.1H115.5ZM-51.2,-4.1H-48.7V-1.9H-51.2ZM8.3,-4.1H10.9V-1.9H8.3ZM20.2,-4.1H22.8V-1.9H20.2ZM-53.5,-6.1H-51.0V-3.9H-53.5ZM-8.3,-6.1H-5.8V-3.9H-8.3ZM89.2,-6.1H91.7V-3.9H89.2ZM-58.2,-8.2H-53.3V-6.0H-58.2ZM72.5,-8.2H75.0V-6.0H72.5ZM115.3,-8.2H120.2V-6.0H115.3ZM-74.8,-10.2H-67.5V-8.0H-74.8ZM-65.3,-10.2H-58.0V-8.0H-65.3ZM-15.4,-10.2H-10.5V-8.0H-15.4ZM-8.3,-10.2H-5.8V-8.0H-8.3ZM74.8,-10.2H77.3V-8.0H74.8ZM93.8,-10.2H98.7V-8.0H93.8ZM-81.8,-12.3H-76.9V-10.1H-81.8ZM88.9,-12.3H91.4V-10.1H88.9ZM93.6,-12.3H98.5V-10.1H93.6ZM-84.0,-14.3H-81.5V-12.1H-84.0ZM-76.9,-14.3H-74.4V-12.1H-76.9ZM91.1,-14.3H93.6V-12.1H91.1ZM98.2,-14.3H103.1V-12.1H98.2ZM88.5,-16.3H91.0V-14.2H88.5ZM93.2,-16.3H95.8V-14.2H93.2ZM98.0,-16.3H100.5V-14.2H98.0ZM102.7,-16.3H105.2V-14.2H102.7ZM-88.3,-18.4H-85.8V-16.2H-88.3ZM88.3,-18.4H90.8V-16.2H88.3ZM93.0,-18.4H95.5V-16.2H93.0ZM97.7,-18.4H100.2V-16.2H97.7ZM102.4,-18.4H104.9V-16.2H102.4ZM-90.4,-20.4H-87.9V-18.2H-90.4ZM-81.0,-20.4H-78.5V-18.2H-81.0ZM90.4,-20.4H92.9V-18.2H90.4ZM97.4,-20.4H99.9V-18.2H97.4ZM104.5,-20.4H107.0V-18.2H104.5ZM116.2,-20.4H118.7V-18.2H116.2ZM-87.7,-22.5H-80.6V-20.3H-87.7ZM101.8,-22.5H106.6V-20.3H101.8ZM87.5,-24.5H94.6V-22.3H87.5ZM101.5,-24.5H103.9V-22.3H101.5ZM80.2,-26.6H82.7V-24.4H80.2ZM105.7,-26.6H110.5V-24.4H105.7ZM91.4,-28.6H93.9V-26.4H91.4ZM96.1,-28.6H98.5V-26.4H96.1ZM77.2,-30.7H79.6V-28.5H77.2ZM84.1,-30.7H88.8V-28.5H84.1ZM102.5,-30.7H105.0V-28.5H102.5ZM109.4,-30.7H111.9V-28.5H109.4ZM88.2,-32.7H90.7V-30.5H88.2ZM106.5,-32.7H111.3V-30.5H106.5ZM92.2,-34.7H94.7V-32.5H92.2ZM103.6,-34.7H106.0V-32.5H103.6ZM-84.8,-36.8H-82.4V-34.6H-84.8ZM96.1,-36.8H100.8V-34.6H96.1ZM116.5,-36.8H118.9V-34.6H116.5ZM-84.2,-38.8H-81.8V-36.6H-84.2ZM-85.7,-40.9H-81.1V-38.7H-85.7ZM-74.6,-40.9H-72.2V-38.7H-74.6ZM-85.0,-42.9H-82.6V-40.7H-85.0ZM-71.8,-42.9H-69.4V-40.7H-71.8ZM-84.2,-44.9H-79.7V-42.8H-84.2ZM121.4,-44.9H123.7V-42.8H121.4ZM-83.3,-46.9H-78.8V-44.8H-83.3ZM-84.6,-49.0H-80.1V-46.8H-84.6ZM7.5,-49.0H9.8V-46.8H7.5ZM-83.6,-51.0H-81.3V-48.8H-83.6ZM7.4,-51.0H9.7V-48.8H7.4ZM-105.6,-53.0H-103.4V-50.8H-105.6ZM-47.0,-53.0H-44.8V-50.8H-47.0ZM49.1,-58.8H51.3V-56.7H49.1ZM-70.1,-60.7H-68.0V-58.7H-70.1ZM30.6,-60.7H32.7V-58.7H30.6ZM44.4,-60.7H48.5V-58.7H44.4ZM54.3,-60.7H56.4V-58.7H54.3ZM101.7,-60.7H103.8V-58.7H101.7ZM-72.8,-62.6H-70.7V-60.6H-72.8ZM6.8,-62.6H8.9V-60.6H6.8ZM47.6,-62.6H49.7V-60.6H47.6ZM86.4,-62.6H88.5V-60.6H86.4ZM92.2,-62.6H94.3V-60.6H92.2ZM107.7,-62.6H109.8V-60.6H107.7ZM113.6,-62.6H115.7V-60.6H113.6ZM98.3,-64.5H102.2V-62.5H98.3ZM104.0,-66.4H106.0V-64.4H104.0ZM113.3,-66.4H117.2V-64.4H113.3ZM-124.1,-68.2H-122.1V-66.2H-124.1ZM-85.5,-68.2H-83.5V-66.2H-85.5ZM-78.1,-68.2H-76.1V-66.2H-78.1ZM102.0,-68.2H104.0V-66.2H102.0ZM109.4,-68.2H111.4V-66.2H109.4ZM113.1,-68.2H115.0V-66.2H113.1ZM-119.9,-70.0H-117.9V-68.0H-119.9ZM-87.4,-70.0H-85.5V-68.0H-87.4ZM76.6,-70.0H78.6V-68.0H76.6ZM82.0,-70.0H84.0V-68.0H82.0ZM110.9,-70.0H114.6V-68.0H110.9ZM83.9,-71.7H85.8V-69.8H83.9ZM92.7,-71.7H94.6V-69.8H92.7ZM108.6,-71.7H110.5V-69.8H108.6ZM113.9,-71.7H115.8V-69.8H113.9ZM63.1,-73.5H65.0V-71.6H63.1ZM66.6,-73.5H68.4V-71.6H66.6ZM75.2,-73.5H77.1V-71.6H75.2ZM83.8,-73.5H85.7V-71.6H83.8ZM87.3,-73.5H90.9V-71.6H87.3ZM75.2,-75.1H77.0V-73.3H75.2Z"/><path fill="#ff8c00" d="M140.2,46.9H144.6V49.1H140.2ZM143.9,44.9H146.2V47.1H143.9ZM127.9,42.9H130.3V45.1H127.9ZM147.6,42.9H149.9V45.1H147.6ZM152.0,42.9H154.3V45.1H152.0ZM153.4,40.9H155.8V43.1H153.4ZM-52.8,36.8H-50.4V39.0H-52.8ZM-48.6,34.7H-46.2V36.9H-48.6ZM-47.0,30.7H-44.5V32.8H-47.0ZM140.9,30.7H143.3V32.8H140.9ZM-45.1,26.6H-42.7V28.8H-45.1ZM-45.3,24.5H-42.8V26.7H-45.3ZM43.0,24.5H47.8V26.7H43.0ZM43.1,22.5H45.6V24.7H43.1ZM43.3,20.4H48.1V22.6H43.3ZM-50.5,18.4H-45.6V20.6H-50.5ZM43.4,18.4H45.9V20.6H43.4ZM-50.6,16.3H-48.1V18.5H-50.6ZM43.6,16.3H46.1V18.5H43.6ZM-62.6,14.3H-57.7V16.5H-62.6ZM-62.7,12.3H-55.4V14.5H-62.7ZM-69.9,10.2H-67.4V12.4H-69.9ZM-62.8,10.2H-57.9V12.4H-62.8ZM-55.7,10.2H-53.2V12.4H-55.7ZM141.0,10.2H143.5V12.4H141.0ZM-70.0,8.2H-67.5V10.4H-70.0ZM-51.0,8.2H-48.5V10.4H-51.0ZM127.0,8.2H129.5V10.4H127.0ZM131.7,8.2H134.3V10.4H131.7ZM143.6,8.2H146.1V10.4H143.6ZM-58.2,6.1H-55.7V8.3H-58.2ZM-53.5,6.1H-46.2V8.3H-53.5ZM-48.8,4.1H-46.2V6.3H-48.8ZM96.3,4.1H98.9V6.3H96.3ZM122.5,4.1H125.0V6.3H122.5ZM-72.6,2.0H-70.1V4.2H-72.6ZM-53.6,2.0H-51.0V4.2H-53.6ZM13.1,2.0H15.6V4.2H13.1ZM20.2,2.0H22.8V4.2H20.2ZM94.0,2.0H96.6V4.2H94.0ZM98.8,2.0H101.3V4.2H98.8ZM103.6,2.0H106.1V4.2H103.6ZM108.3,2.0H113.2V4.2H108.3ZM115.5,2.0H118.0V4.2H115.5ZM122.6,2.0H125.1V4.2H122.6ZM132.1,2.0H139.4V4.2H132.1ZM141.6,2.0H144.2V4.2H141.6ZM-53.6,0.0H-51.1V2.2H-53.6ZM-48.8,0.0H-46.3V2.2H-48.8ZM13.1,0.0H15.6V2.2H13.1ZM27.4,0.0H29.9V2.2H27.4ZM98.8,0.0H101.4V2.2H98.8ZM115.5,0.0H118.0V2.2H115.5ZM125.0,0.0H127.6V2.2H125.0ZM132.2,0.0H134.7V2.2H132.2ZM-75.0,-2.0H-72.5V0.1H-75.0ZM-56.0,-2.0H-48.7V0.1H-56.0ZM8.3,-2.0H10.9V0.1H8.3ZM17.9,-2.0H20.4V0.1H17.9ZM22.6,-2.0H25.2V0.1H22.6ZM27.4,-2.0H29.9V0.1H27.4ZM91.7,-2.0H99.0V0.1H91.7ZM103.6,-2.0H106.1V0.1H103.6ZM113.1,-2.0H115.7V0.1H113.1ZM-77.4,-4.1H-74.8V-1.9H-77.4ZM-53.6,-4.1H-51.0V-1.9H-53.6ZM17.9,-4.1H20.4V-1.9H17.9ZM22.6,-4.1H25.1V-1.9H22.6ZM27.4,-4.1H29.9V-1.9H27.4ZM91.7,-4.1H94.2V-1.9H91.7ZM103.6,-4.1H106.1V-1.9H103.6ZM-77.3,-6.1H-74.8V-3.9H-77.3ZM-70.2,-6.1H-67.6V-3.9H-70.2ZM-58.3,-6.1H-55.8V-3.9H-58.3ZM-13.1,-6.1H-8.2V-3.9H-13.1ZM13.1,-6.1H22.7V-3.9H13.1ZM91.6,-6.1H94.1V-3.9H91.6ZM96.3,-6.1H98.9V-3.9H96.3ZM103.5,-6.1H106.0V-3.9H103.5ZM113.0,-6.1H115.5V-3.9H113.0ZM-72.5,-8.2H-70.0V-6.0H-72.5ZM-65.4,-8.2H-58.1V-6.0H-65.4ZM-13.1,-8.2H-10.5V-6.0H-13.1ZM-8.3,-8.2H-5.8V-6.0H-8.3ZM91.5,-8.2H94.0V-6.0H91.5ZM96.3,-8.2H98.8V-6.0H96.3ZM108.1,-8.2H110.7V-6.0H108.1ZM-67.7,-10.2H-65.1V-8.0H-67.7ZM-10.7,-10.2H-8.2V-8.0H-10.7ZM91.4,-10.2H93.9V-8.0H91.4ZM112.8,-10.2H120.0V-8.0H112.8ZM91.2,-12.3H93.8V-10.1H91.2ZM117.3,-12.3H119.8V-10.1H117.3ZM-81.6,-14.3H-76.7V-12.1H-81.6ZM88.7,-14.3H91.2V-12.1H88.7ZM112.4,-14.3H114.9V-12.1H112.4ZM-86.2,-16.3H-81.3V-14.2H-86.2ZM-79.1,-16.3H-74.2V-14.2H-79.1ZM90.9,-16.3H93.4V-14.2H90.9ZM100.3,-16.3H102.8V-14.2H100.3ZM112.1,-16.3H119.4V-14.2H112.1ZM-85.9,-18.4H-83.4V-16.2H-85.9ZM-81.2,-18.4H-76.4V-16.2H-81.2ZM90.6,-18.4H93.1V-16.2H90.6ZM95.4,-18.4H97.9V-16.2H95.4ZM111.8,-18.4H114.3V-16.2H111.8ZM-88.0,-20.4H-85.5V-18.2H-88.0ZM-83.3,-20.4H-80.8V-18.2H-83.3ZM88.0,-20.4H90.5V-18.2H88.0ZM95.1,-20.4H97.6V-18.2H95.1ZM99.8,-20.4H104.6V-18.2H99.8ZM111.5,-20.4H116.3V-18.2H111.5ZM97.1,-22.5H99.6V-20.3H97.1ZM96.8,-24.5H99.3V-22.3H96.8ZM103.8,-24.5H106.3V-22.3H103.8ZM84.8,-26.6H89.6V-24.4H84.8ZM96.4,-26.6H98.9V-24.4H96.4ZM101.1,-26.6H105.9V-24.4H101.1ZM77.5,-28.6H89.3V-26.4H77.5ZM93.7,-28.6H96.2V-26.4H93.7ZM103.0,-28.6H105.5V-26.4H103.0ZM107.6,-28.6H112.4V-26.4H107.6ZM79.5,-30.7H84.2V-28.5H79.5ZM88.7,-30.7H93.4V-28.5H88.7ZM100.2,-30.7H102.7V-28.5H100.2ZM104.8,-30.7H109.6V-28.5H104.8ZM-85.9,-32.7H-83.5V-30.5H-85.9ZM-79.0,-32.7H-72.0V-30.5H-79.0ZM90.5,-32.7H92.9V-30.5H90.5ZM95.1,-32.7H106.7V-30.5H95.1ZM-87.7,-34.7H-85.2V-32.5H-87.7ZM-74.0,-34.7H-67.0V-32.5H-74.0ZM94.5,-34.7H99.2V-32.5H94.5ZM101.3,-34.7H103.8V-32.5H101.3ZM-87.1,-36.8H-84.7V-34.6H-87.1ZM-78.0,-36.8H-75.6V-34.6H-78.0ZM121.0,-36.8H125.7V-34.6H121.0ZM-86.4,-38.8H-84.0V-36.6H-86.4ZM-81.9,-38.8H-79.5V-36.6H-81.9ZM-66.2,-38.8H-63.8V-36.6H-66.2ZM117.9,-38.8H120.3V-36.6H117.9ZM124.6,-38.8H127.0V-36.6H124.6ZM-72.4,-40.9H-67.8V-38.7H-72.4ZM116.9,-40.9H119.3V-38.7H116.9ZM120.3,-42.9H122.7V-40.7H120.3ZM124.7,-42.9H127.1V-40.7H124.7ZM-68.9,-44.9H-66.5V-42.8H-68.9ZM123.6,-44.9H125.9V-42.8H123.6ZM-67.4,-49.0H-63.0V-46.8H-67.4ZM-52.4,-49.0H-50.2V-46.8H-52.4ZM112.4,-49.0H114.7V-46.8H112.4ZM-102.6,-51.0H-98.3V-48.8H-102.6ZM-64.5,-51.0H-62.3V-48.8H-64.5ZM-49.7,-51.0H-47.5V-48.8H-49.7ZM9.5,-51.0H11.8V-48.8H9.5ZM113.2,-51.0H115.5V-48.8H113.2ZM-103.5,-53.0H-101.3V-50.8H-103.5ZM-97.2,-53.0H-95.0V-50.8H-97.2ZM103.5,-53.0H105.7V-50.8H103.5ZM114.0,-53.0H116.2V-50.8H114.0ZM-106.3,-54.9H-104.1V-52.8H-106.3ZM-54.7,-54.9H-52.5V-52.8H-54.7ZM-48.5,-54.9H-46.3V-52.8H-48.5ZM-106.9,-56.9H-104.7V-54.8H-106.9ZM-94.7,-56.9H-92.5V-54.8H-94.7ZM-78.4,-56.9H-76.2V-54.8H-78.4ZM-74.3,-56.9H-72.1V-54.8H-74.3ZM-64.1,-56.9H-61.9V-54.8H-64.1ZM80.4,-56.9H84.6V-54.8H80.4ZM100.8,-56.9H102.9V-54.8H100.8ZM-105.3,-58.8H-103.1V-56.7H-105.3ZM-91.2,-58.8H-89.1V-56.7H-91.2ZM-85.2,-58.8H-83.1V-56.7H-85.2ZM-69.2,-58.8H-67.0V-56.7H-69.2ZM85.2,-58.8H87.4V-56.7H85.2ZM101.3,-58.8H103.4V-56.7H101.3ZM105.3,-58.8H107.4V-56.7H105.3ZM109.3,-58.8H111.4V-56.7H109.3ZM-105.6,-60.7H-103.5V-58.7H-105.6ZM12.8,-60.7H16.9V-58.7H12.8ZM36.5,-60.7H38.6V-58.7H36.5ZM66.1,-60.7H68.3V-58.7H66.1ZM85.9,-60.7H88.0V-58.7H85.9ZM99.7,-60.7H101.8V-58.7H99.7ZM18.4,-62.6H20.5V-60.6H18.4ZM22.3,-62.6H24.4V-60.6H22.3ZM100.0,-62.6H102.1V-60.6H100.0ZM-105.9,-64.5H-103.8V-62.5H-105.9ZM4.8,-64.5H6.8V-62.5H4.8ZM27.7,-64.5H29.7V-62.5H27.7ZM48.7,-64.5H52.6V-62.5H48.7ZM73.5,-64.5H75.5V-62.5H73.5ZM81.1,-64.5H83.1V-62.5H81.1ZM109.7,-64.5H111.8V-62.5H109.7ZM-122.7,-66.4H-120.7V-64.4H-122.7ZM-111.5,-66.4H-107.6V-64.4H-111.5ZM-87.1,-66.4H-85.1V-64.4H-87.1ZM4.7,-66.4H6.7V-64.4H4.7ZM66.5,-66.4H68.5V-64.4H66.5ZM105.9,-66.4H109.8V-64.4H105.9ZM-122.3,-68.2H-116.6V-66.2H-122.3ZM56.1,-68.2H58.1V-66.2H56.1ZM59.7,-68.2H61.7V-66.2H59.7ZM103.9,-68.2H105.9V-66.2H103.9ZM-101.8,-70.0H-99.9V-68.0H-101.8ZM-92.8,-70.0H-90.9V-68.0H-92.8ZM35.1,-70.0H37.1V-68.0H35.1ZM47.8,-70.0H49.7V-68.0H47.8ZM74.8,-70.0H76.8V-68.0H74.8ZM-105.1,-71.7H-103.2V-69.8H-105.1ZM25.6,-71.7H27.5V-69.8H25.6ZM71.5,-71.7H75.2V-69.8H71.5ZM80.4,-71.7H82.3V-69.8H80.4ZM85.7,-71.7H89.3V-69.8H85.7ZM96.2,-71.7H98.2V-69.8H96.2ZM115.7,-71.7H117.6V-69.8H115.7ZM14.7,-73.5H18.3V-71.6H14.7ZM19.9,-73.5H21.8V-71.6H19.9ZM85.6,-73.5H87.4V-71.6H85.6ZM61.7,-75.1H63.5V-73.3H61.7ZM66.8,-75.1H68.6V-73.3H66.8Z"/><path fill="#ff0000" d="M144.5,46.9H146.8V49.1H144.5ZM146.1,44.9H150.6V47.1H146.1ZM149.8,42.9H152.1V45.1H149.8ZM-53.2,34.7H-50.7V36.9H-53.2ZM-49.0,32.7H-46.5V34.9H-49.0ZM-53.8,30.7H-51.4V32.8H-53.8ZM-47.2,28.6H-44.8V30.8H-47.2ZM-52.1,26.6H-49.6V28.8H-52.1ZM-52.3,24.5H-49.8V26.7H-52.3ZM-52.5,22.5H-50.0V24.7H-52.5ZM45.5,22.5H48.0V24.7H45.5ZM-52.6,20.4H-50.2V22.6H-52.6ZM-48.0,20.4H-45.5V22.6H-48.0ZM-53.0,16.3H-50.5V18.5H-53.0ZM-48.3,16.3H-45.8V18.5H-48.3ZM-55.5,14.3H-48.2V16.5H-55.5ZM-55.6,12.3H-48.3V14.5H-55.6ZM-67.5,10.2H-62.7V12.4H-67.5ZM-58.1,10.2H-55.5V12.4H-58.1ZM-53.3,10.2H-50.8V12.4H-53.3ZM133.9,10.2H138.8V12.4H133.9ZM-67.7,8.2H-50.9V10.4H-67.7ZM129.4,8.2H131.9V10.4H129.4ZM-70.1,6.1H-67.6V8.3H-70.1ZM-63.0,6.1H-60.5V8.3H-63.0ZM-55.9,6.1H-53.3V8.3H-55.9ZM124.8,6.1H139.2V8.3H124.8ZM143.8,6.1H146.3V8.3H143.8ZM-72.6,4.1H-67.6V6.3H-72.6ZM-63.0,4.1H-51.0V6.3H-63.0ZM98.7,4.1H101.3V6.3H98.7ZM129.6,4.1H139.3V6.3H129.6ZM-70.2,2.0H-67.7V4.2H-70.2ZM-55.9,2.0H-53.4V4.2H-55.9ZM-51.2,2.0H-48.7V4.2H-51.2ZM15.5,2.0H20.4V4.2H15.5ZM22.6,2.0H27.5V4.2H22.6ZM96.4,2.0H98.9V4.2H96.4ZM113.1,2.0H115.6V4.2H113.1ZM129.7,2.0H132.3V4.2H129.7ZM139.3,2.0H141.8V4.2H139.3ZM-72.6,0.0H-67.7V2.2H-72.6ZM-60.7,0.0H-55.8V2.2H-60.7ZM-51.2,0.0H-48.7V2.2H-51.2ZM10.7,0.0H13.2V2.2H10.7ZM17.9,0.0H22.8V2.2H17.9ZM94.1,0.0H99.0V2.2H94.1ZM103.6,0.0H108.5V2.2H103.6ZM113.1,0.0H115.7V2.2H113.1ZM127.4,0.0H132.3V2.2H127.4ZM-72.6,-2.0H-55.8V0.1H-72.6ZM10.7,-2.0H13.2V0.1H10.7ZM20.2,-2.0H22.8V0.1H20.2ZM25.0,-2.0H27.5V0.1H25.0ZM-75.0,-4.1H-72.5V-1.9H-75.0ZM-70.2,-4.1H-65.3V-1.9H-70.2ZM-63.1,-4.1H-53.4V-1.9H-63.1ZM15.5,-4.1H18.0V-1.9H15.5ZM25.0,-4.1H27.5V-1.9H25.0ZM94.0,-4.1H98.9V-1.9H94.0ZM108.3,-4.1H113.2V-1.9H108.3ZM-72.6,-6.1H-70.0V-3.9H-72.6ZM-67.8,-6.1H-62.9V-3.9H-67.8ZM-60.7,-6.1H-58.1V-3.9H-60.7ZM-55.9,-6.1H-53.4V-3.9H-55.9ZM10.7,-6.1H13.2V-3.9H10.7ZM94.0,-6.1H96.5V-3.9H94.0ZM108.2,-6.1H110.8V-3.9H108.2ZM-70.1,-8.2H-65.2V-6.0H-70.1ZM-15.4,-8.2H-12.9V-6.0H-15.4ZM-10.7,-8.2H-8.2V-6.0H-10.7ZM93.9,-8.2H96.4V-6.0H93.9ZM105.8,-8.2H108.3V-6.0H105.8ZM110.5,-8.2H115.4V-6.0H110.5ZM112.6,-12.3H115.1V-10.1H112.6ZM114.7,-14.3H119.6V-12.1H114.7ZM-81.4,-16.3H-78.9V-14.2H-81.4ZM-83.6,-18.4H-81.1V-16.2H-83.6ZM100.1,-18.4H102.6V-16.2H100.1ZM114.2,-18.4H119.0V-16.2H114.2ZM-85.7,-20.4H-83.2V-18.2H-85.7ZM92.7,-20.4H95.2V-18.2H92.7ZM90.1,-22.5H97.3V-20.3H90.1ZM99.4,-22.5H101.9V-20.3H99.4ZM94.5,-24.5H96.9V-22.3H94.5ZM82.5,-26.6H85.0V-24.4H82.5ZM98.8,-26.6H101.2V-24.4H98.8ZM98.4,-28.6H103.1V-26.4H98.4ZM93.3,-30.7H100.4V-28.5H93.3ZM-83.6,-32.7H-78.9V-30.5H-83.6ZM92.8,-32.7H95.2V-30.5H92.8ZM-80.8,-34.7H-78.4V-32.5H-80.8ZM99.1,-34.7H101.5V-32.5H99.1ZM-82.6,-36.8H-77.9V-34.6H-82.6ZM-75.8,-36.8H-68.8V-34.6H-75.8ZM118.7,-36.8H121.2V-34.6H118.7ZM-79.7,-38.8H-72.8V-36.6H-79.7ZM-70.7,-38.8H-66.1V-36.6H-70.7ZM120.1,-38.8H122.5V-36.6H120.1ZM-65.7,-40.9H-63.3V-38.7H-65.7ZM119.1,-40.9H121.5V-38.7H119.1ZM123.6,-40.9H126.0V-38.7H123.6ZM-65.1,-42.9H-62.8V-40.7H-65.1ZM122.5,-42.9H124.9V-40.7H122.5ZM-66.7,-44.9H-62.2V-42.8H-66.7ZM-68.2,-46.9H-65.9V-44.8H-68.2ZM-55.2,-46.9H-52.9V-44.8H-55.2ZM-54.6,-49.0H-52.3V-46.8H-54.6ZM108.1,-49.0H112.5V-46.8H108.1ZM-62.4,-51.0H-60.2V-48.8H-62.4ZM-51.9,-51.0H-49.6V-48.8H-51.9ZM106.9,-51.0H109.1V-48.8H106.9ZM-101.4,-53.0H-99.2V-50.8H-101.4ZM-65.9,-53.0H-61.5V-50.8H-65.9ZM105.6,-53.0H107.8V-50.8H105.6ZM-100.1,-54.9H-97.9V-52.8H-100.1ZM-96.0,-54.9H-93.8V-52.8H-96.0ZM-73.3,-54.9H-62.8V-52.8H-73.3ZM-60.9,-54.9H-54.6V-52.8H-60.9ZM-52.6,-54.9H-50.4V-52.8H-52.6ZM102.2,-54.9H104.4V-52.8H102.2ZM110.4,-54.9H114.7V-52.8H110.4ZM-100.8,-56.9H-94.5V-54.8H-100.8ZM-76.3,-56.9H-74.1V-54.8H-76.3ZM-68.2,-56.9H-66.0V-54.8H-68.2ZM102.8,-56.9H109.1V-54.8H102.8ZM110.9,-56.9H113.1V-54.8H110.9ZM-103.3,-58.8H-101.1V-56.7H-103.3ZM-99.3,-58.8H-97.1V-56.7H-99.3ZM-95.3,-58.8H-91.1V-56.7H-95.3ZM-83.2,-58.8H-81.1V-56.7H-83.2ZM-73.2,-58.8H-71.0V-56.7H-73.2ZM73.2,-58.8H79.4V-56.7H73.2ZM83.2,-58.8H85.4V-56.7H83.2ZM103.3,-58.8H105.4V-56.7H103.3ZM107.3,-58.8H109.4V-56.7H107.3ZM-103.6,-60.7H-101.5V-58.7H-103.6ZM-95.7,-60.7H-93.6V-58.7H-95.7ZM-89.8,-60.7H-83.7V-58.7H-89.8ZM-76.0,-60.7H-73.9V-58.7H-76.0ZM-72.0,-60.7H-69.9V-58.7H-72.0ZM70.1,-60.7H74.2V-58.7H70.1ZM76.0,-60.7H78.1V-58.7H76.0ZM81.9,-60.7H84.0V-58.7H81.9ZM-103.9,-62.6H-99.8V-60.6H-103.9ZM-96.1,-62.6H-92.1V-60.6H-96.1ZM-90.3,-62.6H-88.2V-60.6H-90.3ZM-76.7,-62.6H-72.7V-60.6H-76.7ZM8.7,-62.6H12.8V-60.6H8.7ZM16.5,-62.6H18.6V-60.6H16.5ZM20.4,-62.6H22.5V-60.6H20.4ZM34.0,-62.6H38.0V-60.6H34.0ZM39.8,-62.6H41.9V-60.6H39.8ZM43.7,-62.6H45.8V-60.6H43.7ZM53.4,-62.6H55.5V-60.6H53.4ZM57.3,-62.6H65.2V-60.6H57.3ZM74.7,-62.6H76.8V-60.6H74.7ZM84.5,-62.6H86.5V-60.6H84.5ZM-98.3,-64.5H-96.2V-62.5H-98.3ZM-84.9,-64.5H-82.8V-62.5H-84.9ZM-81.1,-64.5H-77.1V-62.5H-81.1ZM10.5,-64.5H12.6V-62.5H10.5ZM23.8,-64.5H27.8V-62.5H23.8ZM29.6,-64.5H31.6V-62.5H29.6ZM33.4,-64.5H35.4V-62.5H33.4ZM37.2,-64.5H39.3V-62.5H37.2ZM41.0,-64.5H45.0V-62.5H41.0ZM75.4,-64.5H81.2V-62.5H75.4ZM-113.3,-66.4H-111.3V-64.4H-113.3ZM-107.7,-66.4H-105.7V-64.4H-107.7ZM-85.2,-66.4H-83.2V-64.4H-85.2ZM14.1,-66.4H16.1V-64.4H14.1ZM19.7,-66.4H21.7V-64.4H19.7ZM25.3,-66.4H29.2V-64.4H25.3ZM34.7,-66.4H36.7V-64.4H34.7ZM47.8,-66.4H49.8V-64.4H47.8ZM53.4,-66.4H57.3V-64.4H53.4ZM60.9,-66.4H66.7V-64.4H60.9ZM68.4,-66.4H74.2V-64.4H68.4ZM-114.9,-68.2H-109.2V-66.2H-114.9ZM-92.8,-68.2H-87.2V-66.2H-92.8ZM6.4,-68.2H8.4V-66.2H6.4ZM13.8,-68.2H15.8V-66.2H13.8ZM35.8,-68.2H37.8V-66.2H35.8ZM46.9,-68.2H48.9V-66.2H46.9ZM50.6,-68.2H54.4V-66.2H50.6ZM57.9,-68.2H59.9V-66.2H57.9ZM61.6,-68.2H63.6V-66.2H61.6ZM-105.4,-70.0H-101.7V-68.0H-105.4ZM-100.0,-70.0H-92.7V-68.0H-100.0ZM8.1,-70.0H11.9V-68.0H8.1ZM20.7,-70.0H22.7V-68.0H20.7ZM27.9,-70.0H35.3V-68.0H27.9ZM37.0,-70.0H47.9V-68.0H37.0ZM-115.7,-71.7H-113.8V-69.8H-115.7ZM-110.4,-71.7H-104.9V-69.8H-110.4ZM9.7,-71.7H11.6V-69.8H9.7ZM15.0,-71.7H16.9V-69.8H15.0ZM22.1,-71.7H25.8V-69.8H22.1ZM75.1,-71.7H77.0V-69.8H75.1ZM89.2,-71.7H91.1V-69.8H89.2ZM9.5,-73.5H14.8V-71.6H9.5ZM18.2,-73.5H20.0V-71.6H18.2ZM73.5,-73.5H75.3V-71.6H73.5Z"/><path fill="#d7282d" d="M-50.9,34.7H-48.5V36.9H-50.9ZM-53.5,32.7H-48.8V34.9H-53.5ZM-51.6,30.7H-46.8V32.8H-51.6ZM-51.8,28.6H-47.1V30.8H-51.8ZM-49.8,26.6H-45.0V28.8H-49.8ZM-50.0,24.5H-45.2V26.7H-50.0ZM-50.1,22.5H-45.3V24.7H-50.1ZM-50.3,20.4H-47.8V22.6H-50.3ZM-52.8,18.4H-50.3V20.6H-52.8ZM138.7,10.2H141.2V12.4H138.7ZM134.1,8.2H143.8V10.4H134.1ZM-67.7,6.1H-62.8V8.3H-67.7ZM-60.6,6.1H-58.1V8.3H-60.6ZM139.0,6.1H143.9V8.3H139.0ZM-67.8,4.1H-62.9V6.3H-67.8ZM124.9,4.1H129.8V6.3H124.9ZM139.2,4.1H144.1V6.3H139.2ZM-67.8,2.0H-55.8V4.2H-67.8ZM105.9,2.0H108.5V4.2H105.9ZM125.0,2.0H129.9V4.2H125.0ZM-67.9,0.0H-60.6V2.2H-67.9ZM15.5,0.0H18.0V2.2H15.5ZM22.6,0.0H27.5V2.2H22.6ZM108.4,0.0H113.3V2.2H108.4ZM13.1,-2.0H18.0V0.1H13.1ZM106.0,-2.0H113.3V0.1H106.0ZM-72.6,-4.1H-70.1V-1.9H-72.6ZM-65.5,-4.1H-62.9V-1.9H-65.5ZM10.7,-4.1H15.6V-1.9H10.7ZM105.9,-4.1H108.5V-1.9H105.9ZM-74.9,-6.1H-72.4V-3.9H-74.9ZM-63.0,-6.1H-60.5V-3.9H-63.0ZM105.9,-6.1H108.4V-3.9H105.9ZM110.6,-6.1H113.1V-3.9H110.6ZM115.0,-12.3H117.5V-10.1H115.0ZM-85.4,-34.7H-80.7V-32.5H-85.4ZM-78.6,-34.7H-73.9V-32.5H-78.6ZM-69.0,-36.8H-66.6V-34.6H-69.0ZM-73.0,-38.8H-70.6V-36.6H-73.0ZM122.4,-38.8H124.7V-36.6H122.4ZM-67.9,-40.9H-65.5V-38.7H-67.9ZM121.4,-40.9H123.8V-38.7H121.4ZM-69.5,-42.9H-65.0V-40.7H-69.5ZM-62.9,-42.9H-60.6V-40.7H-62.9ZM-62.3,-44.9H-57.8V-42.8H-62.3ZM-66.0,-46.9H-55.0V-44.8H-66.0ZM-63.2,-49.0H-54.4V-46.8H-63.2ZM-60.3,-51.0H-51.7V-48.8H-60.3ZM109.0,-51.0H113.4V-48.8H109.0ZM-99.3,-53.0H-97.1V-50.8H-99.3ZM-61.7,-53.0H-46.9V-50.8H-61.7ZM107.7,-53.0H114.1V-50.8H107.7ZM-104.2,-54.9H-100.0V-52.8H-104.2ZM-98.1,-54.9H-95.8V-52.8H-98.1ZM-63.0,-54.9H-60.7V-52.8H-63.0ZM-50.6,-54.9H-48.4V-52.8H-50.6ZM104.2,-54.9H110.6V-52.8H104.2ZM-104.8,-56.9H-100.6V-54.8H-104.8ZM-72.3,-56.9H-68.0V-54.8H-72.3ZM-66.2,-56.9H-64.0V-54.8H-66.2ZM108.9,-56.9H111.1V-54.8H108.9ZM-101.3,-58.8H-99.1V-56.7H-101.3ZM-97.3,-58.8H-95.1V-56.7H-97.3ZM-81.2,-58.8H-73.0V-56.7H-81.2ZM-71.2,-58.8H-69.0V-56.7H-71.2ZM79.2,-58.8H83.4V-56.7H79.2ZM-101.7,-60.7H-95.6V-58.7H-101.7ZM-93.8,-60.7H-89.7V-58.7H-93.8ZM-83.9,-60.7H-75.8V-58.7H-83.9ZM-74.0,-60.7H-71.9V-58.7H-74.0ZM68.1,-60.7H70.2V-58.7H68.1ZM74.0,-60.7H76.1V-58.7H74.0ZM78.0,-60.7H82.1V-58.7H78.0ZM83.9,-60.7H86.0V-58.7H83.9ZM-100.0,-62.6H-95.9V-60.6H-100.0ZM-92.2,-62.6H-90.1V-60.6H-92.2ZM-88.3,-62.6H-76.5V-60.6H-88.3ZM12.6,-62.6H16.7V-60.6H12.6ZM37.9,-62.6H39.9V-60.6H37.9ZM41.7,-62.6H43.8V-60.6H41.7ZM45.6,-62.6H47.7V-60.6H45.6ZM55.3,-62.6H57.4V-60.6H55.3ZM65.0,-62.6H74.9V-60.6H65.0ZM76.7,-62.6H84.6V-60.6H76.7ZM-104.0,-64.5H-98.1V-62.5H-104.0ZM-96.3,-64.5H-84.8V-62.5H-96.3ZM-83.0,-64.5H-80.9V-62.5H-83.0ZM6.7,-64.5H10.6V-62.5H6.7ZM12.4,-64.5H24.0V-62.5H12.4ZM31.5,-64.5H33.5V-62.5H31.5ZM35.3,-64.5H37.4V-62.5H35.3ZM39.1,-64.5H41.2V-62.5H39.1ZM44.8,-64.5H48.8V-62.5H44.8ZM52.5,-64.5H73.6V-62.5H52.5ZM-105.9,-66.4H-87.0V-64.4H-105.9ZM6.6,-66.4H14.2V-64.4H6.6ZM15.9,-66.4H19.8V-64.4H15.9ZM21.5,-66.4H25.4V-64.4H21.5ZM29.0,-66.4H34.8V-64.4H29.0ZM36.5,-66.4H47.9V-64.4H36.5ZM49.6,-66.4H53.5V-64.4H49.6ZM57.1,-66.4H61.0V-64.4H57.1ZM-116.7,-68.2H-114.7V-66.2H-116.7ZM-109.4,-68.2H-92.7V-66.2H-109.4ZM8.3,-68.2H13.9V-66.2H8.3ZM15.6,-68.2H36.0V-66.2H15.6ZM37.7,-68.2H47.0V-66.2H37.7ZM48.7,-68.2H50.7V-66.2H48.7ZM-118.1,-70.0H-105.3V-68.0H-118.1ZM11.7,-70.0H20.9V-68.0H11.7ZM22.5,-70.0H28.1V-68.0H22.5ZM-113.9,-71.7H-110.2V-69.8H-113.9ZM11.5,-71.7H15.2V-69.8H11.5ZM16.8,-71.7H22.2V-69.8H16.8Z"/></g><use href="#cst"/><use href="#frm"/></g><g transform="translate(524.8,220.25)"><g clip-path="url(#lc)" shape-rendering="crispEdges"><path fill="#3c5ae0" d="M-91.8,86.7H92.0V87.1H-91.8ZM-93.6,86.0H93.8V86.8H-93.6ZM-96.3,85.0H96.4V86.1H-96.3ZM-99.2,84.0H99.4V85.2H-99.2ZM-102.3,82.8H102.5V84.1H-102.3ZM-99.0,81.4H103.6V82.9H-99.0ZM-100.7,79.9H105.4V81.6H-100.7ZM-103.8,78.4H108.7V80.1H-103.8ZM-105.3,76.8H111.9V78.5H-105.3ZM-101.5,75.1H-37.0V76.9H-101.5ZM-27.2,75.1H116.5V76.9H-27.2ZM-92.1,73.5H-37.9V75.3H-92.1ZM-21.1,73.5H119.3V75.3H-21.1ZM-73.5,71.7H-37.0V73.6H-73.5ZM-16.4,71.7H122.0V73.6H-16.4ZM-55.6,70.0H-37.8V71.9H-55.6ZM-9.7,70.0H121.1V71.9H-9.7ZM-53.2,68.2H-38.6V70.1H-53.2ZM17.1,68.2H116.4V70.1H17.1ZM-52.4,66.4H-39.4V68.3H-52.4ZM30.3,66.4H48.9V68.3H30.3ZM57.9,66.4H111.4V68.3H57.9ZM-51.5,64.5H-40.1V66.5H-51.5ZM-48.7,62.6H-40.9V64.7H-48.7ZM-57.3,60.7H-49.4V62.8H-57.3ZM-60.2,58.8H-48.2V60.9H-60.2ZM-32.6,58.8H-26.5V60.9H-32.6ZM-63.2,56.9H-43.0V59.0H-63.2ZM-33.1,56.9H-26.9V59.0H-33.1ZM-64.1,54.9H-43.6V57.0H-64.1ZM-33.6,54.9H-27.3V57.0H-33.6ZM-65.0,53.0H-44.2V55.1H-65.0ZM-65.9,51.0H-53.2V53.1H-65.9ZM137.0,51.0H139.2V53.1H137.0ZM143.2,51.0H145.5V53.1H143.2ZM-66.7,49.0H-51.7V51.1H-66.7ZM147.1,49.0H149.4V51.1H147.1ZM-67.4,46.9H-65.1V49.1H-67.4ZM-63.2,46.9H-52.3V49.1H-63.2ZM121.0,46.9H123.2V49.1H121.0ZM127.4,46.9H129.7V49.1H127.4ZM-61.7,44.9H-50.7V47.1H-61.7ZM154.8,44.9H156.0V47.1H154.8ZM-62.3,42.9H-46.9V45.1H-62.3ZM121.4,42.9H123.7V45.1H121.4ZM156.4,42.9H157.6V45.1H156.4ZM-60.7,40.9H-58.4V43.1H-60.7ZM-56.3,40.9H-47.3V43.1H-56.3ZM120.3,40.9H127.1V43.1H120.3ZM-61.2,38.8H-58.9V41.0H-61.2ZM-54.6,38.8H-45.5V41.0H-54.6ZM14.5,38.8H21.3V41.0H14.5ZM99.1,38.8H101.5V41.0H99.1ZM105.8,38.8H108.2V41.0H105.8ZM116.9,38.8H130.4V41.0H116.9ZM150.3,38.8H152.7V41.0H150.3ZM-68.5,36.8H-66.1V39.0H-68.5ZM-64.0,36.8H-59.3V39.0H-64.0ZM-57.2,36.8H-54.9V39.0H-57.2ZM-50.5,36.8H-43.6V39.0H-50.5ZM12.3,36.8H28.2V39.0H12.3ZM108.9,36.8H115.8V39.0H108.9ZM117.9,36.8H129.2V39.0H117.9ZM151.5,36.8H156.2V39.0H151.5ZM-69.0,34.7H-59.8V36.9H-69.0ZM-46.4,34.7H-41.7V36.9H-46.4ZM12.4,34.7H30.7V36.9H12.4ZM107.4,34.7H132.5V36.9H107.4ZM152.7,34.7H161.9V36.9H152.7ZM-69.5,32.7H-60.2V34.9H-69.5ZM-44.4,32.7H-42.0V34.9H-44.4ZM12.5,32.7H26.3V34.9H12.5ZM28.5,32.7H30.9V34.9H28.5ZM101.3,32.7H103.8V34.9H101.3ZM105.9,32.7H135.6V34.9H105.9ZM-67.6,30.7H-60.6V32.8H-67.6ZM10.3,30.7H26.5V32.8H10.3ZM30.9,30.7H33.4V32.8H30.9ZM102.0,30.7H138.8V32.8H102.0ZM-68.0,28.6H-60.9V30.8H-68.0ZM-42.6,28.6H-40.2V30.8H-42.6ZM10.4,28.6H26.6V30.8H10.4ZM38.0,28.6H47.4V30.8H38.0ZM102.5,28.6H137.2V30.8H102.5ZM-68.3,26.6H-58.9V28.8H-68.3ZM-40.5,26.6H-35.7V28.8H-40.5ZM10.4,26.6H24.5V28.8H10.4ZM31.2,26.6H36.0V28.8H31.2ZM38.2,26.6H47.6V28.8H38.2ZM103.0,26.6H137.9V28.8H103.0ZM-68.6,24.5H-63.8V26.7H-68.6ZM-61.6,24.5H-59.1V26.7H-61.6ZM-40.7,24.5H-33.5V26.7H-40.7ZM10.5,24.5H24.6V26.7H10.5ZM29.1,24.5H31.5V26.7H29.1ZM33.7,24.5H36.2V26.7H33.7ZM38.3,24.5H40.8V26.7H38.3ZM103.4,24.5H138.4V26.7H103.4ZM149.9,24.5H157.0V26.7H149.9ZM-68.8,22.5H-66.3V24.7H-68.8ZM-43.1,22.5H-40.7V24.7H-43.1ZM-36.2,22.5H-33.7V24.7H-36.2ZM8.2,22.5H36.3V24.7H8.2ZM38.5,22.5H41.0V24.7H38.5ZM103.8,22.5H136.6V24.7H103.8ZM143.4,22.5H145.9V24.7H143.4ZM150.4,22.5H157.6V24.7H150.4ZM-69.0,20.4H-66.5V22.6H-69.0ZM-64.3,20.4H-61.9V22.6H-64.3ZM-45.6,20.4H-40.8V22.6H-45.6ZM-36.3,20.4H-33.8V22.6H-36.3ZM8.2,20.4H41.1V22.6H8.2ZM104.1,20.4H137.0V22.6H104.1ZM150.9,20.4H158.1V22.6H150.9ZM162.6,20.4H168.6V22.6H162.6ZM-73.9,18.4H-62.1V20.6H-73.9ZM8.2,18.4H29.5V20.6H8.2ZM31.7,18.4H36.5V20.6H31.7ZM38.7,18.4H41.2V20.6H38.7ZM48.1,18.4H50.6V20.6H48.1ZM106.8,18.4H137.5V20.6H106.8ZM163.1,18.4H169.2V20.6H163.1ZM-74.2,16.3H-69.3V18.5H-74.2ZM-67.1,16.3H-64.6V18.5H-67.1ZM-36.5,16.3H-34.0V18.5H-36.5ZM8.2,16.3H34.3V18.5H8.2ZM38.8,16.3H41.4V18.5H38.8ZM111.8,16.3H137.9V18.5H111.8ZM163.6,16.3H169.7V18.5H163.6ZM-76.7,14.3H-67.1V16.5H-76.7ZM-41.3,14.3H-31.7V16.5H-41.3ZM8.3,14.3H17.9V16.5H8.3ZM36.6,14.3H41.5V16.5H36.6ZM48.4,14.3H50.9V16.5H48.4ZM114.5,14.3H124.1V16.5H114.5ZM135.7,14.3H140.6V16.5H135.7ZM-76.9,12.3H-69.6V14.5H-76.9ZM-41.4,12.3H-38.9V14.5H-41.4ZM-36.7,12.3H-29.4V14.5H-36.7ZM8.3,12.3H13.2V14.5H8.3ZM34.3,12.3H51.0V14.5H34.3ZM110.0,12.3H122.0V14.5H110.0ZM-79.4,10.2H-72.1V12.4H-79.4ZM-41.5,10.2H-29.5V12.4H-41.5ZM8.3,10.2H10.8V12.4H8.3ZM34.4,10.2H41.6V12.4H34.4ZM43.8,10.2H51.1V12.4H43.8ZM122.1,10.2H124.6V12.4H122.1ZM148.1,10.2H155.4V12.4H148.1ZM-79.5,8.2H-72.2V10.4H-79.5ZM-41.5,8.2H-34.3V10.4H-41.5ZM-32.0,8.2H-29.5V10.4H-32.0ZM8.3,8.2H10.8V10.4H8.3ZM34.4,8.2H41.7V10.4H34.4ZM96.1,8.2H98.7V10.4H96.1ZM148.4,8.2H155.6V10.4H148.4ZM-79.6,6.1H-74.7V8.3H-79.6ZM-44.0,6.1H-41.4V8.3H-44.0ZM-34.5,6.1H-29.6V8.3H-34.5ZM8.3,6.1H10.8V8.3H8.3ZM34.5,6.1H41.7V8.3H34.5ZM93.9,6.1H96.4V8.3H93.9ZM148.5,6.1H155.8V8.3H148.5ZM-79.7,4.1H-74.8V6.3H-79.7ZM-44.0,4.1H-41.5V6.3H-44.0ZM-36.9,4.1H-29.6V6.3H-36.9ZM5.9,4.1H8.5V6.3H5.9ZM32.1,4.1H41.8V6.3H32.1ZM146.3,4.1H148.8V6.3H146.3ZM-79.7,2.0H-77.2V4.2H-79.7ZM-44.0,2.0H-29.6V4.2H-44.0ZM6.0,2.0H8.5V4.2H6.0ZM32.1,2.0H44.2V4.2H32.1ZM146.4,2.0H148.9V4.2H146.4ZM-79.8,0.0H-74.9V2.2H-79.8ZM-44.1,0.0H-34.4V2.2H-44.1ZM32.2,0.0H46.6V2.2H32.2ZM-79.8,-2.0H-77.3V0.1H-79.8ZM-44.1,-2.0H-39.1V0.1H-44.1ZM32.2,-2.0H49.0V0.1H32.2ZM120.3,-2.0H122.8V0.1H120.3ZM-46.4,-4.1H-43.9V-1.9H-46.4ZM-6.0,-4.1H6.1V-1.9H-6.0ZM32.1,-4.1H49.0V-1.9H32.1ZM86.9,-4.1H89.4V-1.9H86.9ZM117.8,-4.1H125.1V-1.9H117.8ZM-48.8,-6.1H-43.9V-3.9H-48.8ZM-3.6,-6.1H6.1V-3.9H-3.6ZM29.7,-6.1H34.6V-3.9H29.7ZM36.9,-6.1H48.9V-3.9H36.9ZM77.3,-6.1H82.2V-3.9H77.3ZM120.1,-6.1H122.7V-3.9H120.1ZM-82.0,-8.2H-77.1V-6.0H-82.0ZM-51.1,-8.2H-46.2V-6.0H-51.1ZM-3.6,-8.2H-1.0V-6.0H-3.6ZM1.2,-8.2H3.7V-6.0H1.2ZM22.6,-8.2H32.2V-6.0H22.6ZM39.2,-8.2H51.2V-6.0H39.2ZM79.6,-8.2H82.1V-6.0H79.6ZM86.7,-8.2H89.3V-6.0H86.7ZM-84.3,-10.2H-77.0V-8.0H-84.3ZM-53.4,-10.2H-48.5V-8.0H-53.4ZM1.2,-10.2H3.7V-8.0H1.2ZM13.1,-10.2H22.7V-8.0H13.1ZM39.2,-10.2H51.2V-8.0H39.2ZM67.7,-10.2H70.2V-8.0H67.7ZM79.5,-10.2H82.0V-8.0H79.5ZM-86.5,-12.3H-84.0V-10.1H-86.5ZM-58.1,-12.3H-53.2V-10.1H-58.1ZM-20.1,-12.3H-15.3V-10.1H-20.1ZM1.2,-12.3H17.9V-10.1H1.2ZM20.1,-12.3H25.0V-10.1H20.1ZM27.3,-12.3H29.8V-10.1H27.3ZM39.1,-12.3H51.1V-10.1H39.1ZM67.5,-12.3H72.4V-10.1H67.5ZM77.0,-12.3H79.5V-10.1H77.0ZM105.5,-12.3H110.4V-10.1H105.5ZM-91.1,-14.3H-86.2V-12.1H-91.1ZM-74.5,-14.3H-55.4V-12.1H-74.5ZM-20.1,-14.3H-15.2V-12.1H-20.1ZM-13.0,-14.3H-10.5V-12.1H-13.0ZM-5.9,-14.3H-3.4V-12.1H-5.9ZM5.9,-14.3H10.8V-12.1H5.9ZM15.4,-14.3H17.9V-12.1H15.4ZM20.1,-14.3H22.6V-12.1H20.1ZM24.8,-14.3H27.4V-12.1H24.8ZM34.3,-14.3H51.0V-12.1H34.3ZM67.4,-14.3H72.3V-12.1H67.4ZM74.5,-14.3H79.4V-12.1H74.5ZM105.3,-14.3H110.2V-12.1H105.3ZM-98.0,-16.3H-88.4V-14.2H-98.0ZM-72.0,-16.3H-62.4V-14.2H-72.0ZM-20.1,-16.3H53.3V-14.2H-20.1ZM67.3,-16.3H69.8V-14.2H67.3ZM72.0,-16.3H81.6V-14.2H72.0ZM-100.1,-18.4H-90.5V-16.2H-100.1ZM-74.2,-18.4H-62.2V-16.2H-74.2ZM-20.0,-18.4H55.5V-16.2H-20.0ZM64.7,-18.4H69.6V-16.2H64.7ZM76.5,-18.4H81.4V-16.2H76.5ZM-149.1,-20.4H-141.9V-18.2H-149.1ZM-102.1,-20.4H-94.9V-18.2H-102.1ZM-76.3,-20.4H-62.1V-18.2H-76.3ZM-20.0,-20.4H55.3V-18.2H-20.0ZM64.6,-20.4H69.4V-18.2H64.6ZM71.6,-20.4H85.8V-18.2H71.6ZM-148.6,-22.5H-141.4V-20.3H-148.6ZM-101.8,-22.5H-97.0V-20.3H-101.8ZM-78.4,-22.5H-61.9V-20.3H-78.4ZM-19.9,-22.5H59.8V-20.3H-19.9ZM64.3,-22.5H85.6V-20.3H64.3ZM108.8,-22.5H111.3V-20.3H108.8ZM-148.1,-24.5H-141.0V-22.3H-148.1ZM-106.1,-24.5H-96.6V-22.3H-106.1ZM-89.8,-24.5H-87.3V-22.3H-89.8ZM-82.8,-24.5H-61.7V-22.3H-82.8ZM-19.8,-24.5H55.0V-22.3H-19.8ZM64.1,-24.5H78.3V-22.3H64.1ZM113.1,-24.5H117.9V-22.3H113.1ZM-108.1,-26.6H-96.3V-24.4H-108.1ZM-89.5,-26.6H-75.4V-24.4H-89.5ZM-68.6,-26.6H-66.1V-24.4H-68.6ZM-19.8,-26.6H54.8V-24.4H-19.8ZM56.9,-26.6H59.4V-24.4H56.9ZM68.6,-26.6H78.0V-24.4H68.6ZM115.0,-26.6H117.5V-24.4H115.0ZM-109.9,-28.6H-86.6V-26.4H-109.9ZM-79.9,-28.6H-75.1V-26.4H-79.9ZM-17.4,-28.6H59.2V-26.4H-17.4ZM63.7,-28.6H66.1V-26.4H63.7ZM70.6,-28.6H73.1V-26.4H70.6ZM75.2,-28.6H77.7V-26.4H75.2ZM114.6,-28.6H117.0V-26.4H114.6ZM-109.4,-30.7H-81.6V-28.5H-109.4ZM-17.3,-30.7H56.6V-28.5H-17.3ZM63.4,-30.7H72.7V-28.5H63.4ZM114.0,-30.7H116.5V-28.5H114.0ZM-111.1,-32.7H-83.5V-30.5H-111.1ZM-14.9,-32.7H58.6V-30.5H-14.9ZM63.0,-32.7H65.4V-30.5H63.0ZM67.6,-32.7H70.0V-30.5H67.6ZM72.2,-32.7H79.2V-30.5H72.2ZM115.7,-32.7H122.7V-30.5H115.7ZM-110.4,-34.7H-94.4V-32.5H-110.4ZM-12.5,-34.7H58.2V-32.5H-12.5ZM62.6,-34.7H65.0V-32.5H62.6ZM67.2,-34.7H83.3V-32.5H67.2ZM110.4,-34.7H117.4V-32.5H110.4ZM-112.0,-36.8H-91.4V-34.6H-112.0ZM-84.8,-36.8H-82.4V-34.6H-84.8ZM-12.4,-36.8H60.1V-34.6H-12.4ZM73.5,-36.8H78.2V-34.6H73.5ZM84.8,-36.8H87.2V-34.6H84.8ZM105.2,-36.8H114.4V-34.6H105.2ZM127.8,-36.8H130.2V-34.6H127.8ZM-113.4,-38.8H-95.3V-36.6H-113.4ZM-88.7,-38.8H-86.3V-36.6H-88.7ZM-84.2,-38.8H-81.8V-36.6H-84.2ZM-10.1,-38.8H59.6V-36.6H-10.1ZM64.0,-38.8H68.6V-36.6H64.0ZM70.7,-38.8H77.6V-36.6H70.7ZM84.2,-38.8H86.6V-36.6H84.2ZM88.7,-38.8H93.3V-36.6H88.7ZM95.4,-38.8H97.8V-36.6H95.4ZM99.9,-38.8H113.5V-36.6H99.9ZM-112.5,-40.9H-92.3V-38.7H-112.5ZM-12.2,-40.9H72.5V-38.7H-12.2ZM83.5,-40.9H85.9V-38.7H83.5ZM90.2,-40.9H103.7V-38.7H90.2ZM128.1,-40.9H130.4V-38.7H128.1ZM-113.7,-42.9H-95.9V-40.7H-113.7ZM-12.1,-42.9H67.5V-40.7H-12.1ZM69.5,-42.9H71.9V-40.7H69.5ZM76.2,-42.9H80.7V-40.7H76.2ZM89.4,-42.9H102.8V-40.7H89.4ZM-112.6,-44.9H-95.0V-42.8H-112.6ZM-12.0,-44.9H18.7V-42.8H-12.0ZM20.8,-44.9H66.8V-42.8H20.8ZM68.9,-44.9H71.2V-42.8H68.9ZM75.4,-44.9H80.0V-42.8H75.4ZM82.0,-44.9H84.3V-42.8H82.0ZM88.6,-44.9H104.0V-42.8H88.6ZM114.8,-44.9H119.3V-42.8H114.8ZM-111.5,-46.9H-96.2V-44.8H-111.5ZM-87.7,-46.9H-85.3V-44.8H-87.7ZM-9.7,-46.9H-5.3V-44.8H-9.7ZM24.9,-46.9H68.3V-44.8H24.9ZM74.7,-46.9H77.0V-44.8H74.7ZM89.8,-46.9H103.0V-44.8H89.8ZM115.8,-46.9H120.3V-44.8H115.8ZM-110.2,-49.0H-103.7V-46.8H-110.2ZM-99.5,-49.0H-95.1V-46.8H-99.5ZM-80.3,-49.0H-78.0V-46.8H-80.3ZM-48.2,-49.0H-41.6V-46.8H-48.2ZM-9.6,-49.0H-7.3V-46.8H-9.6ZM-5.4,-49.0H-3.1V-46.8H-5.4ZM24.6,-49.0H26.9V-46.8H24.6ZM37.5,-49.0H106.1V-46.8H37.5ZM116.7,-49.0H119.0V-46.8H116.7ZM-109.0,-51.0H-106.7V-48.8H-109.0ZM-94.2,-51.0H-89.8V-48.8H-94.2ZM-81.5,-51.0H-79.2V-48.8H-81.5ZM-77.2,-51.0H-68.6V-48.8H-77.2ZM-45.5,-51.0H-41.1V-48.8H-45.5ZM39.2,-51.0H104.9V-48.8H39.2ZM117.5,-51.0H119.7V-48.8H117.5ZM-109.8,-53.0H-107.5V-50.8H-109.8ZM-86.8,-53.0H-82.4V-50.8H-86.8ZM-80.5,-53.0H-74.1V-50.8H-80.5ZM-42.9,-53.0H-40.6V-50.8H-42.9ZM-7.3,-53.0H-5.1V-50.8H-7.3ZM28.2,-53.0H30.5V-50.8H28.2ZM40.8,-53.0H101.6V-50.8H40.8ZM118.1,-53.0H124.6V-50.8H118.1ZM-112.5,-54.9H-108.2V-52.8H-112.5ZM-83.6,-54.9H-79.3V-52.8H-83.6ZM-44.4,-54.9H-40.1V-52.8H-44.4ZM-11.4,-54.9H-5.0V-52.8H-11.4ZM36.1,-54.9H81.7V-52.8H36.1ZM85.7,-54.9H100.3V-52.8H85.7ZM116.6,-54.9H123.0V-52.8H116.6ZM126.9,-54.9H133.3V-52.8H126.9ZM-139.4,-56.9H-131.1V-54.8H-139.4ZM-110.9,-56.9H-108.8V-54.8H-110.9ZM-90.6,-56.9H-88.4V-54.8H-90.6ZM-45.8,-56.9H-41.6V-54.8H-45.8ZM-11.2,-56.9H-4.9V-54.8H-11.2ZM9.2,-56.9H11.3V-54.8H9.2ZM35.6,-56.9H46.0V-54.8H35.6ZM47.8,-56.9H74.4V-54.8H47.8ZM88.5,-56.9H98.9V-54.8H88.5ZM115.0,-56.9H121.3V-54.8H115.0ZM123.2,-56.9H133.5V-54.8H123.2ZM-137.4,-58.8H-123.2V-56.7H-137.4ZM-109.3,-58.8H-107.1V-56.7H-109.3ZM-61.2,-58.8H-59.0V-56.7H-61.2ZM-45.1,-58.8H-41.0V-56.7H-45.1ZM-11.0,-58.8H-4.9V-56.7H-11.0ZM3.0,-58.8H13.2V-56.7H3.0ZM41.1,-58.8H43.3V-56.7H41.1ZM51.1,-58.8H55.3V-56.7H51.1ZM57.2,-58.8H67.3V-56.7H57.2ZM89.2,-58.8H99.4V-56.7H89.2ZM113.3,-58.8H117.5V-56.7H113.3ZM121.3,-58.8H127.5V-56.7H121.3ZM129.3,-58.8H133.5V-56.7H129.3ZM-135.2,-60.7H-117.3V-58.7H-135.2ZM-109.6,-60.7H-107.4V-58.7H-109.6ZM-56.3,-60.7H-54.1V-58.7H-56.3ZM-52.3,-60.7H-50.2V-58.7H-52.3ZM-46.4,-60.7H-42.3V-58.7H-46.4ZM-10.9,-60.7H-4.8V-58.7H-10.9ZM1.0,-60.7H7.1V-58.7H1.0ZM26.6,-60.7H28.8V-58.7H26.6ZM89.8,-60.7H95.9V-58.7H89.8ZM113.5,-60.7H115.6V-58.7H113.5ZM119.4,-60.7H131.4V-58.7H119.4ZM-129.1,-62.6H-127.0V-60.6H-129.1ZM-123.3,-62.6H-107.6V-60.6H-123.3ZM-53.4,-62.6H-51.3V-60.6H-53.4ZM-45.6,-62.6H-43.5V-60.6H-45.6ZM-37.9,-62.6H-29.9V-60.6H-37.9ZM-6.8,-62.6H-4.7V-60.6H-6.8ZM1.0,-62.6H5.0V-60.6H1.0ZM121.3,-62.6H123.4V-60.6H121.3ZM125.2,-62.6H127.3V-60.6H125.2ZM129.1,-62.6H135.1V-60.6H129.1ZM-121.2,-64.5H-115.3V-62.5H-121.2ZM-62.0,-64.5H-58.0V-62.5H-62.0ZM-41.0,-64.5H-29.4V-62.5H-41.0ZM-6.7,-64.5H3.0V-62.5H-6.7ZM86.8,-64.5H88.9V-62.5H86.8ZM126.9,-64.5H136.6V-62.5H126.9ZM-66.5,-66.4H-45.8V-64.4H-66.5ZM-40.3,-66.4H-27.0V-64.4H-40.3ZM-19.7,-66.4H-8.3V-64.4H-19.7ZM0.9,-66.4H3.0V-64.4H0.9ZM109.6,-66.4H111.6V-64.4H109.6ZM126.5,-66.4H130.4V-64.4H126.5ZM132.1,-66.4H135.0V-64.4H132.1ZM-132.4,-68.2H-129.5V-66.2H-132.4ZM-68.9,-68.2H-43.1V-66.2H-68.9ZM-41.4,-68.2H-24.7V-66.2H-41.4ZM-21.1,-68.2H-8.1V-66.2H-21.1ZM0.9,-68.2H4.7V-66.2H0.9ZM98.4,-68.2H100.3V-66.2H98.4ZM125.9,-68.2H127.9V-66.2H125.9ZM129.6,-68.2H132.5V-66.2H129.6ZM-129.8,-70.0H-126.9V-68.0H-129.8ZM-71.2,-70.0H-42.2V-68.0H-71.2ZM-40.6,-70.0H-8.0V-68.0H-40.6ZM2.7,-70.0H6.5V-68.0H2.7ZM125.3,-70.0H129.9V-68.0H125.3ZM-127.2,-71.7H-120.8V-69.8H-127.2ZM-71.5,-71.7H-41.4V-69.8H-71.5ZM-39.7,-71.7H-7.8V-69.8H-39.7ZM6.2,-71.7H8.1V-69.8H6.2ZM126.3,-71.7H127.3V-69.8H126.3ZM-124.5,-73.5H-113.1V-71.6H-124.5ZM-101.1,-73.5H-87.1V-71.6H-101.1ZM-83.8,-73.5H-12.8V-71.6H-83.8ZM26.8,-73.5H37.3V-71.6H26.8ZM44.1,-73.5H46.0V-71.6H44.1ZM47.5,-73.5H49.4V-71.6H47.5ZM51.0,-73.5H54.6V-71.6H51.0ZM56.2,-73.5H59.8V-71.6H56.2ZM92.5,-73.5H103.0V-71.6H92.5ZM123.6,-73.5H124.6V-71.6H123.6ZM-121.7,-75.1H-117.3V-73.3H-121.7ZM-114.1,-75.1H-41.3V-73.3H-114.1ZM-39.7,-75.1H-12.5V-73.3H-39.7ZM21.1,-75.1H28.0V-73.3H21.1ZM33.0,-75.1H36.5V-73.3H33.0ZM49.9,-75.1H51.7V-73.3H49.9ZM53.2,-75.1H56.8V-73.3H53.2ZM58.3,-75.1H60.1V-73.3H58.3ZM88.7,-75.1H104.1V-73.3H88.7ZM105.6,-75.1H107.5V-73.3H105.6ZM109.0,-75.1H114.2V-73.3H109.0ZM115.8,-75.1H121.8V-73.3H115.8ZM-108.1,-76.8H-94.7V-75.0H-108.1ZM-85.0,-76.8H-43.6V-75.0H-85.0ZM-40.4,-76.8H-10.6V-75.0H-40.4ZM12.4,-76.8H22.4V-75.0H12.4ZM32.2,-76.8H37.3V-75.0H32.2ZM45.4,-76.8H47.2V-75.0H45.4ZM52.0,-76.8H57.1V-75.0H52.0ZM68.5,-76.8H73.6V-75.0H68.5ZM75.1,-76.8H76.9V-75.0H75.1ZM83.3,-76.8H108.2V-75.0H83.3ZM116.3,-76.8H118.9V-75.0H116.3ZM-82.8,-78.4H-10.3V-76.6H-82.8ZM7.2,-78.4H13.8V-76.6H7.2ZM31.3,-78.4H37.9V-76.6H31.3ZM45.8,-78.4H49.2V-76.6H45.8ZM55.4,-78.4H57.2V-76.6H55.4ZM63.5,-78.4H84.5V-76.6H63.5ZM86.0,-78.4H95.8V-76.6H86.0ZM-80.4,-79.9H-8.4V-78.2H-80.4ZM5.5,-79.9H16.5V-78.2H5.5ZM32.0,-79.9H38.4V-78.2H32.0ZM41.4,-79.9H43.1V-78.2H41.4ZM55.4,-79.9H58.7V-78.2H55.4ZM61.7,-79.9H72.8V-78.2H61.7ZM83.5,-79.9H93.1V-78.2H83.5ZM-78.0,-81.4H-8.2V-79.8H-78.0ZM5.3,-81.4H17.6V-79.8H5.3ZM34.1,-81.4H43.3V-79.8H34.1ZM53.8,-81.4H70.6V-79.8H53.8ZM-66.7,-82.8H-7.9V-81.3H-66.7ZM5.1,-82.8H17.0V-81.3H5.1ZM52.1,-82.8H62.5V-81.3H52.1ZM-57.6,-84.0H-7.7V-82.6H-57.6ZM6.4,-84.0H16.5V-82.6H6.4ZM50.5,-84.0H59.1V-82.6H50.5ZM-54.4,-85.0H-8.8V-83.8H-54.4Z"/><path fill="#1e96fa" d="M139.1,51.0H143.4V53.1H139.1ZM138.6,49.0H140.9V51.1H138.6ZM145.0,49.0H147.2V51.1H145.0ZM-65.3,46.9H-63.0V49.1H-65.3ZM123.1,46.9H127.5V49.1H123.1ZM-63.8,44.9H-61.5V47.1H-63.8ZM122.3,44.9H124.6V47.1H122.3ZM128.8,44.9H131.1V47.1H128.8ZM152.6,44.9H154.9V47.1H152.6ZM-64.5,42.9H-62.2V45.1H-64.5ZM123.6,42.9H125.9V45.1H123.6ZM154.2,42.9H156.5V45.1H154.2ZM-62.9,40.9H-60.6V43.1H-62.9ZM-58.5,40.9H-56.1V43.1H-58.5ZM126.9,40.9H129.3V43.1H126.9ZM157.9,40.9H159.1V43.1H157.9ZM-67.9,38.8H-65.5V41.0H-67.9ZM-63.5,38.8H-61.1V41.0H-63.5ZM-59.0,38.8H-56.6V41.0H-59.0ZM101.3,38.8H105.9V41.0H101.3ZM152.6,38.8H154.9V41.0H152.6ZM159.2,38.8H160.5V41.0H159.2ZM-66.2,36.8H-63.8V39.0H-66.2ZM-55.0,36.8H-52.6V39.0H-55.0ZM99.9,36.8H102.3V39.0H99.9ZM106.6,36.8H109.0V39.0H106.6ZM129.1,36.8H131.5V39.0H129.1ZM156.0,36.8H160.7V39.0H156.0ZM-59.9,34.7H-53.0V36.9H-59.9ZM-48.6,34.7H-46.2V36.9H-48.6ZM100.6,34.7H103.1V36.9H100.6ZM105.2,34.7H107.6V36.9H105.2ZM132.3,34.7H134.7V36.9H132.3ZM-60.3,32.7H-55.6V34.9H-60.3ZM-46.7,32.7H-44.3V34.9H-46.7ZM26.2,32.7H28.6V34.9H26.2ZM30.7,32.7H33.2V34.9H30.7ZM103.6,32.7H106.0V34.9H103.6ZM135.5,32.7H137.9V34.9H135.5ZM-60.7,30.7H-56.0V32.8H-60.7ZM-44.7,30.7H-42.2V32.8H-44.7ZM26.3,30.7H28.8V32.8H26.3ZM-61.0,28.6H-51.7V30.8H-61.0ZM26.5,28.6H28.9V30.8H26.5ZM31.1,28.6H33.6V30.8H31.1ZM137.1,28.6H139.5V30.8H137.1ZM-59.0,26.6H-54.2V28.8H-59.0ZM-52.1,26.6H-49.6V28.8H-52.1ZM-42.8,26.6H-40.4V28.8H-42.8ZM24.3,26.6H26.8V28.8H24.3ZM28.9,26.6H31.4V28.8H28.9ZM142.3,26.6H144.8V28.8H142.3ZM-63.9,24.5H-61.4V26.7H-63.9ZM-56.9,24.5H-52.1V26.7H-56.9ZM-43.0,24.5H-40.5V26.7H-43.0ZM24.4,24.5H26.9V26.7H24.4ZM31.4,24.5H33.8V26.7H31.4ZM40.7,24.5H43.1V26.7H40.7ZM142.9,24.5H145.4V26.7H142.9ZM-66.5,22.5H-61.7V24.7H-66.5ZM-59.5,22.5H-57.0V24.7H-59.5ZM-54.8,22.5H-52.3V24.7H-54.8ZM-45.5,22.5H-43.0V24.7H-45.5ZM-40.8,22.5H-36.0V24.7H-40.8ZM40.8,22.5H43.3V24.7H40.8ZM136.4,22.5H138.9V24.7H136.4ZM-66.7,20.4H-64.2V22.6H-66.7ZM-62.0,20.4H-59.5V22.6H-62.0ZM-57.3,20.4H-54.8V22.6H-57.3ZM40.9,20.4H43.4V22.6H40.9ZM48.0,20.4H50.5V22.6H48.0ZM139.2,20.4H144.1V22.6H139.2ZM-62.2,18.4H-57.4V20.6H-62.2ZM-50.5,18.4H-48.0V20.6H-50.5ZM-45.8,18.4H-40.9V20.6H-45.8ZM-36.4,18.4H-33.9V20.6H-36.4ZM29.3,18.4H31.8V20.6H29.3ZM36.4,18.4H38.9V20.6H36.4ZM41.1,18.4H43.6V20.6H41.1ZM45.8,18.4H48.3V20.6H45.8ZM-69.5,16.3H-67.0V18.5H-69.5ZM-64.7,16.3H-57.5V18.5H-64.7ZM-45.9,16.3H-36.3V18.5H-45.9ZM34.1,16.3H39.0V18.5H34.1ZM41.2,16.3H43.7V18.5H41.2ZM45.9,16.3H50.8V18.5H45.9ZM-46.0,14.3H-41.2V16.5H-46.0ZM17.7,14.3H20.2V16.5H17.7ZM29.5,14.3H36.7V16.5H29.5ZM41.3,14.3H48.5V16.5H41.3ZM123.9,14.3H126.4V16.5H123.9ZM128.7,14.3H135.9V16.5H128.7ZM-46.1,12.3H-41.3V14.5H-46.1ZM-39.0,12.3H-36.5V14.5H-39.0ZM13.0,12.3H15.5V14.5H13.0ZM24.8,12.3H27.4V14.5H24.8ZM29.6,12.3H34.5V14.5H29.6ZM121.8,12.3H133.8V14.5H121.8ZM138.4,12.3H145.6V14.5H138.4ZM-46.2,10.2H-41.3V12.4H-46.2ZM10.7,10.2H15.6V12.4H10.7ZM24.9,10.2H29.8V12.4H24.9ZM32.0,10.2H34.5V12.4H32.0ZM100.7,10.2H122.2V12.4H100.7ZM124.4,10.2H131.7V12.4H124.4ZM145.8,10.2H148.3V12.4H145.8ZM-43.9,8.2H-41.4V10.4H-43.9ZM-34.4,8.2H-31.9V10.4H-34.4ZM22.6,8.2H27.4V10.4H22.6ZM32.0,8.2H34.6V10.4H32.0ZM98.5,8.2H101.0V10.4H98.5ZM146.0,8.2H148.5V10.4H146.0ZM-74.9,6.1H-72.3V8.3H-74.9ZM-41.6,6.1H-34.3V8.3H-41.6ZM25.0,6.1H29.9V8.3H25.0ZM32.1,6.1H34.6V8.3H32.1ZM103.4,6.1H113.0V8.3H103.4ZM117.6,6.1H122.5V8.3H117.6ZM146.2,6.1H148.7V8.3H146.2ZM-74.9,4.1H-72.4V6.3H-74.9ZM-46.4,4.1H-43.9V6.3H-46.4ZM-41.6,4.1H-36.7V6.3H-41.6ZM8.3,4.1H10.9V6.3H8.3ZM29.7,4.1H32.3V6.3H29.7ZM101.1,4.1H110.8V6.3H101.1ZM117.8,4.1H122.7V6.3H117.8ZM-77.4,2.0H-74.8V4.2H-77.4ZM-46.4,2.0H-43.9V4.2H-46.4ZM29.8,2.0H32.3V4.2H29.8ZM91.7,2.0H94.2V4.2H91.7ZM117.8,2.0H122.7V4.2H117.8ZM144.0,2.0H146.6V4.2H144.0ZM-46.4,0.0H-43.9V2.2H-46.4ZM6.0,0.0H8.5V2.2H6.0ZM29.8,0.0H32.3V2.2H29.8ZM117.9,0.0H122.8V2.2H117.9ZM-46.4,-2.0H-43.9V0.1H-46.4ZM6.0,-2.0H8.5V0.1H6.0ZM29.8,-2.0H32.3V0.1H29.8ZM89.3,-2.0H91.8V0.1H89.3ZM101.2,-2.0H103.8V0.1H101.2ZM117.9,-2.0H120.4V0.1H117.9ZM122.7,-2.0H129.9V0.1H122.7ZM-79.7,-4.1H-77.2V-1.9H-79.7ZM-48.8,-4.1H-46.3V-1.9H-48.8ZM-13.1,-4.1H-5.8V-1.9H-13.1ZM6.0,-4.1H8.5V-1.9H6.0ZM29.8,-4.1H32.3V-1.9H29.8ZM98.8,-4.1H103.7V-1.9H98.8ZM115.5,-4.1H118.0V-1.9H115.5ZM-51.1,-6.1H-48.6V-3.9H-51.1ZM-5.9,-6.1H-3.4V-3.9H-5.9ZM5.9,-6.1H8.5V-3.9H5.9ZM25.0,-6.1H29.9V-3.9H25.0ZM34.5,-6.1H37.0V-3.9H34.5ZM72.6,-6.1H77.5V-3.9H72.6ZM86.8,-6.1H89.4V-3.9H86.8ZM98.7,-6.1H103.6V-3.9H98.7ZM117.8,-6.1H120.3V-3.9H117.8ZM-77.2,-8.2H-74.7V-6.0H-77.2ZM-5.9,-8.2H-3.4V-6.0H-5.9ZM-1.2,-8.2H1.3V-6.0H-1.2ZM3.6,-8.2H8.5V-6.0H3.6ZM10.7,-8.2H22.7V-6.0H10.7ZM70.1,-8.2H72.6V-6.0H70.1ZM77.2,-8.2H79.8V-6.0H77.2ZM98.6,-8.2H101.2V-6.0H98.6ZM120.0,-8.2H122.5V-6.0H120.0ZM-77.1,-10.2H-74.6V-8.0H-77.1ZM-58.2,-10.2H-53.3V-8.0H-58.2ZM-17.8,-10.2H-15.3V-8.0H-17.8ZM-3.6,-10.2H1.3V-8.0H-3.6ZM3.6,-10.2H13.2V-8.0H3.6ZM22.6,-10.2H32.2V-8.0H22.6ZM70.0,-10.2H72.5V-8.0H70.0ZM77.1,-10.2H79.7V-8.0H77.1ZM98.5,-10.2H105.8V-8.0H98.5ZM108.0,-10.2H112.9V-8.0H108.0ZM119.9,-10.2H122.4V-8.0H119.9ZM-84.1,-12.3H-81.6V-10.1H-84.1ZM-77.0,-12.3H-57.9V-10.1H-77.0ZM-15.4,-12.3H-10.5V-10.1H-15.4ZM-8.3,-12.3H1.3V-10.1H-8.3ZM17.8,-12.3H20.3V-10.1H17.8ZM24.9,-12.3H27.4V-10.1H24.9ZM29.6,-12.3H39.3V-10.1H29.6ZM72.3,-12.3H77.2V-10.1H72.3ZM110.2,-12.3H112.7V-10.1H110.2ZM119.7,-12.3H122.2V-10.1H119.7ZM-86.4,-14.3H-83.8V-12.1H-86.4ZM-15.4,-14.3H-12.9V-12.1H-15.4ZM-10.6,-14.3H-5.8V-12.1H-10.6ZM-3.5,-14.3H6.1V-12.1H-3.5ZM10.6,-14.3H15.5V-12.1H10.6ZM17.7,-14.3H20.3V-12.1H17.7ZM22.5,-14.3H25.0V-12.1H22.5ZM27.2,-14.3H34.5V-12.1H27.2ZM72.2,-14.3H74.7V-12.1H72.2ZM110.0,-14.3H112.5V-12.1H110.0ZM119.5,-14.3H122.0V-12.1H119.5ZM-88.5,-16.3H-86.0V-14.2H-88.5ZM69.6,-16.3H72.1V-14.2H69.6ZM86.2,-16.3H88.7V-14.2H86.2ZM105.0,-16.3H107.6V-14.2H105.0ZM109.8,-16.3H112.3V-14.2H109.8ZM119.2,-16.3H121.7V-14.2H119.2ZM-90.6,-18.4H-88.1V-16.2H-90.6ZM-76.5,-18.4H-74.0V-16.2H-76.5ZM55.3,-18.4H57.8V-16.2H55.3ZM71.8,-18.4H76.7V-16.2H71.8ZM85.9,-18.4H88.4V-16.2H85.9ZM104.8,-18.4H107.3V-16.2H104.8ZM109.5,-18.4H112.0V-16.2H109.5ZM-95.1,-20.4H-92.6V-18.2H-95.1ZM-78.6,-20.4H-76.1V-18.2H-78.6ZM55.2,-20.4H57.7V-18.2H55.2ZM69.2,-20.4H71.7V-18.2H69.2ZM85.7,-20.4H88.2V-18.2H85.7ZM109.2,-20.4H111.7V-18.2H109.2ZM-97.1,-22.5H-94.6V-20.3H-97.1ZM-92.4,-22.5H-87.6V-20.3H-92.4ZM-80.7,-22.5H-78.2V-20.3H-80.7ZM62.0,-22.5H64.5V-20.3H62.0ZM85.4,-22.5H87.9V-20.3H85.4ZM106.5,-22.5H109.0V-20.3H106.5ZM111.1,-22.5H118.3V-20.3H111.1ZM-92.1,-24.5H-89.6V-22.3H-92.1ZM-87.5,-24.5H-82.6V-22.3H-87.5ZM54.8,-24.5H64.3V-22.3H54.8ZM78.1,-24.5H87.6V-22.3H78.1ZM108.5,-24.5H113.3V-22.3H108.5ZM-96.4,-26.6H-89.3V-24.4H-96.4ZM-75.5,-26.6H-73.1V-24.4H-75.5ZM-70.9,-26.6H-68.4V-24.4H-70.9ZM54.6,-26.6H57.1V-24.4H54.6ZM59.3,-26.6H64.1V-24.4H59.3ZM66.2,-26.6H68.7V-24.4H66.2ZM91.8,-26.6H94.3V-24.4H91.8ZM112.7,-26.6H115.2V-24.4H112.7ZM-75.2,-28.6H-72.8V-26.4H-75.2ZM59.0,-28.6H63.8V-26.4H59.0ZM66.0,-28.6H70.7V-26.4H66.0ZM72.9,-28.6H75.4V-26.4H72.9ZM89.1,-28.6H91.6V-26.4H89.1ZM105.3,-28.6H107.8V-26.4H105.3ZM112.3,-28.6H114.7V-26.4H112.3ZM-81.8,-30.7H-74.7V-28.5H-81.8ZM-72.6,-30.7H-70.1V-28.5H-72.6ZM58.7,-30.7H63.5V-28.5H58.7ZM72.6,-30.7H77.3V-28.5H72.6ZM102.5,-30.7H105.0V-28.5H102.5ZM111.7,-30.7H114.2V-28.5H111.7ZM-72.2,-32.7H-69.7V-30.5H-72.2ZM58.4,-32.7H63.2V-30.5H58.4ZM65.3,-32.7H67.7V-30.5H65.3ZM69.9,-32.7H72.3V-30.5H69.9ZM79.0,-32.7H88.4V-30.5H79.0ZM113.4,-32.7H115.9V-30.5H113.4ZM-94.5,-34.7H-83.0V-32.5H-94.5ZM58.1,-34.7H62.8V-32.5H58.1ZM64.9,-34.7H67.3V-32.5H64.9ZM83.1,-34.7H90.1V-32.5H83.1ZM105.9,-34.7H110.6V-32.5H105.9ZM117.3,-34.7H126.5V-32.5H117.3ZM-89.3,-36.8H-84.7V-34.6H-89.3ZM62.2,-36.8H73.7V-34.6H62.2ZM78.0,-36.8H85.0V-34.6H78.0ZM87.1,-36.8H89.5V-34.6H87.1ZM102.9,-36.8H105.3V-34.6H102.9ZM114.2,-36.8H116.6V-34.6H114.2ZM-95.4,-38.8H-88.5V-36.6H-95.4ZM-81.9,-38.8H-79.5V-36.6H-81.9ZM61.7,-38.8H64.1V-36.6H61.7ZM68.5,-38.8H70.9V-36.6H68.5ZM79.7,-38.8H84.3V-36.6H79.7ZM86.4,-38.8H88.8V-36.6H86.4ZM93.2,-38.8H95.6V-36.6H93.2ZM97.7,-38.8H100.1V-36.6H97.7ZM113.4,-38.8H115.8V-36.6H113.4ZM126.8,-38.8H129.2V-36.6H126.8ZM-92.4,-40.9H-90.0V-38.7H-92.4ZM-85.7,-40.9H-78.9V-38.7H-85.7ZM72.4,-40.9H83.7V-38.7H72.4ZM85.7,-40.9H90.3V-38.7H85.7ZM103.6,-40.9H105.9V-38.7H103.6ZM108.0,-40.9H112.6V-38.7H108.0ZM-96.0,-42.9H-89.3V-40.7H-96.0ZM-87.2,-42.9H-78.2V-40.7H-87.2ZM-71.8,-42.9H-69.4V-40.7H-71.8ZM67.3,-42.9H69.7V-40.7H67.3ZM71.8,-42.9H76.3V-40.7H71.8ZM82.8,-42.9H85.1V-40.7H82.8ZM87.2,-42.9H89.6V-40.7H87.2ZM102.7,-42.9H105.0V-40.7H102.7ZM-88.6,-44.9H-79.7V-42.8H-88.6ZM-77.6,-44.9H-75.3V-42.8H-77.6ZM-73.3,-44.9H-70.9V-42.8H-73.3ZM18.6,-44.9H20.9V-42.8H18.6ZM66.7,-44.9H69.0V-42.8H66.7ZM71.1,-44.9H75.6V-42.8H71.1ZM79.8,-44.9H82.2V-42.8H79.8ZM84.2,-44.9H88.7V-42.8H84.2ZM103.9,-44.9H106.2V-42.8H103.9ZM110.4,-44.9H115.0V-42.8H110.4ZM127.9,-44.9H130.3V-42.8H127.9ZM-96.3,-46.9H-91.8V-44.8H-96.3ZM-89.8,-46.9H-87.5V-44.8H-89.8ZM-79.0,-46.9H-76.7V-44.8H-79.0ZM-74.7,-46.9H-70.2V-44.8H-74.7ZM-53.0,-46.9H-50.7V-44.8H-53.0ZM-1.1,-46.9H3.4V-44.8H-1.1ZM9.7,-46.9H12.1V-44.8H9.7ZM20.6,-46.9H25.0V-44.8H20.6ZM68.2,-46.9H74.8V-44.8H68.2ZM76.8,-46.9H90.0V-44.8H76.8ZM102.8,-46.9H105.1V-44.8H102.8ZM111.5,-46.9H115.9V-44.8H111.5ZM120.1,-46.9H122.4V-44.8H120.1ZM-103.8,-49.0H-99.4V-46.8H-103.8ZM-95.3,-49.0H-84.4V-46.8H-95.3ZM-82.4,-49.0H-80.1V-46.8H-82.4ZM-78.1,-49.0H-69.4V-46.8H-78.1ZM-3.2,-49.0H-0.9V-46.8H-3.2ZM1.1,-49.0H3.4V-46.8H1.1ZM26.8,-49.0H29.0V-46.8H26.8ZM31.0,-49.0H37.6V-46.8H31.0ZM106.0,-49.0H108.3V-46.8H106.0ZM118.8,-49.0H121.1V-46.8H118.8ZM-106.9,-51.0H-104.6V-48.8H-106.9ZM-96.3,-51.0H-94.0V-48.8H-96.3ZM-87.8,-51.0H-83.4V-48.8H-87.8ZM-79.4,-51.0H-77.1V-48.8H-79.4ZM-68.8,-51.0H-64.4V-48.8H-68.8ZM-47.6,-51.0H-45.4V-48.8H-47.6ZM-5.3,-51.0H-0.9V-48.8H-5.3ZM13.8,-51.0H18.1V-48.8H13.8ZM24.3,-51.0H26.6V-48.8H24.3ZM32.8,-51.0H35.1V-48.8H32.8ZM119.6,-51.0H126.1V-48.8H119.6ZM-95.1,-53.0H-86.6V-50.8H-95.1ZM-82.6,-53.0H-80.4V-50.8H-82.6ZM-74.2,-53.0H-67.8V-50.8H-74.2ZM-45.0,-53.0H-42.7V-50.8H-45.0ZM-5.2,-53.0H-3.0V-50.8H-5.2ZM-1.0,-53.0H3.3V-50.8H-1.0ZM5.2,-53.0H7.5V-50.8H5.2ZM11.5,-53.0H13.7V-50.8H11.5ZM15.7,-53.0H17.9V-50.8H15.7ZM22.0,-53.0H28.4V-50.8H22.0ZM32.4,-53.0H34.7V-50.8H32.4ZM36.6,-53.0H40.9V-50.8H36.6ZM101.4,-53.0H103.7V-50.8H101.4ZM116.1,-53.0H118.3V-50.8H116.1ZM-93.9,-54.9H-83.5V-52.8H-93.9ZM-79.5,-54.9H-75.2V-52.8H-79.5ZM-1.0,-54.9H3.2V-52.8H-1.0ZM15.5,-54.9H17.7V-52.8H15.5ZM32.0,-54.9H36.3V-52.8H32.0ZM81.5,-54.9H85.8V-52.8H81.5ZM100.1,-54.9H102.3V-52.8H100.1ZM114.6,-54.9H116.8V-52.8H114.6ZM-108.9,-56.9H-106.7V-54.8H-108.9ZM-88.5,-56.9H-86.4V-54.8H-88.5ZM-60.1,-56.9H-57.9V-54.8H-60.1ZM-56.0,-56.9H-53.8V-54.8H-56.0ZM-51.9,-56.9H-45.7V-54.8H-51.9ZM-5.1,-56.9H3.2V-54.8H-5.1ZM5.1,-56.9H9.3V-54.8H5.1ZM13.2,-56.9H15.4V-54.8H13.2ZM17.3,-56.9H19.5V-54.8H17.3ZM21.4,-56.9H23.6V-54.8H21.4ZM27.5,-56.9H35.8V-54.8H27.5ZM45.8,-56.9H48.0V-54.8H45.8ZM74.3,-56.9H78.5V-54.8H74.3ZM86.5,-56.9H88.7V-54.8H86.5ZM98.7,-56.9H100.9V-54.8H98.7ZM113.0,-56.9H115.2V-54.8H113.0ZM-59.2,-58.8H-49.0V-56.7H-59.2ZM-47.1,-58.8H-45.0V-56.7H-47.1ZM-1.0,-58.8H3.2V-56.7H-1.0ZM13.0,-58.8H15.2V-56.7H13.0ZM21.1,-58.8H23.2V-56.7H21.1ZM25.1,-58.8H29.2V-56.7H25.1ZM35.1,-58.8H39.3V-56.7H35.1ZM55.1,-58.8H57.3V-56.7H55.1ZM67.2,-58.8H71.3V-56.7H67.2ZM111.3,-58.8H113.5V-56.7H111.3ZM127.3,-58.8H129.5V-56.7H127.3ZM-107.6,-60.7H-105.5V-58.7H-107.6ZM-66.1,-60.7H-64.0V-58.7H-66.1ZM-60.2,-60.7H-56.1V-58.7H-60.2ZM-54.3,-60.7H-52.2V-58.7H-54.3ZM-4.9,-60.7H-0.8V-58.7H-4.9ZM6.9,-60.7H11.0V-58.7H6.9ZM18.8,-60.7H20.9V-58.7H18.8ZM22.7,-60.7H26.8V-58.7H22.7ZM28.6,-60.7H30.7V-58.7H28.6ZM42.4,-60.7H44.6V-58.7H42.4ZM50.3,-60.7H54.4V-58.7H50.3ZM58.2,-60.7H64.3V-58.7H58.2ZM95.7,-60.7H97.9V-58.7H95.7ZM-127.2,-62.6H-123.1V-60.6H-127.2ZM-107.7,-62.6H-105.7V-60.6H-107.7ZM-63.1,-62.6H-53.2V-60.6H-63.1ZM-51.4,-62.6H-45.5V-60.6H-51.4ZM-4.9,-62.6H-2.8V-60.6H-4.9ZM-1.0,-62.6H1.1V-60.6H-1.0ZM26.2,-62.6H32.2V-60.6H26.2ZM88.3,-62.6H92.4V-60.6H88.3ZM101.9,-62.6H104.0V-60.6H101.9ZM105.8,-62.6H107.9V-60.6H105.8ZM117.5,-62.6H121.5V-60.6H117.5ZM123.3,-62.6H125.4V-60.6H123.3ZM127.2,-62.6H129.3V-60.6H127.2ZM-128.8,-64.5H-124.8V-62.5H-128.8ZM-115.4,-64.5H-107.6V-62.5H-115.4ZM-69.6,-64.5H-67.6V-62.5H-69.6ZM-58.2,-64.5H-56.1V-62.5H-58.2ZM-54.4,-64.5H-44.7V-62.5H-54.4ZM2.9,-64.5H4.9V-62.5H2.9ZM84.9,-64.5H87.0V-62.5H84.9ZM88.7,-64.5H90.8V-62.5H88.7ZM115.4,-64.5H117.5V-62.5H115.4ZM121.2,-64.5H127.0V-62.5H121.2ZM-124.6,-66.4H-122.6V-64.4H-124.6ZM-120.8,-66.4H-118.8V-64.4H-120.8ZM-117.1,-66.4H-115.1V-64.4H-117.1ZM-74.0,-66.4H-72.0V-64.4H-74.0ZM2.8,-66.4H4.8V-64.4H2.8ZM75.9,-66.4H77.9V-64.4H75.9ZM81.5,-66.4H87.3V-64.4H81.5ZM92.7,-66.4H96.6V-64.4H92.7ZM98.4,-66.4H102.3V-64.4H98.4ZM122.7,-66.4H126.6V-64.4H122.7ZM130.2,-66.4H132.2V-64.4H130.2ZM-129.6,-68.2H-127.6V-66.2H-129.6ZM76.3,-68.2H82.0V-66.2H76.3ZM89.2,-68.2H91.1V-66.2H89.2ZM92.8,-68.2H94.8V-66.2H92.8ZM124.1,-68.2H126.1V-66.2H124.1ZM127.8,-68.2H129.8V-66.2H127.8ZM-127.1,-70.0H-125.1V-68.0H-127.1ZM-80.2,-70.0H-78.3V-68.0H-80.2ZM-74.8,-70.0H-71.1V-68.0H-74.8ZM51.4,-70.0H55.1V-68.0H51.4ZM62.2,-70.0H64.1V-68.0H62.2ZM83.8,-70.0H87.6V-68.0H83.8ZM92.8,-70.0H94.8V-68.0H92.8ZM123.5,-70.0H125.4V-68.0H123.5ZM-121.0,-71.7H-117.3V-69.8H-121.0ZM-101.5,-71.7H-85.5V-69.8H-101.5ZM-83.9,-71.7H-78.4V-69.8H-83.9ZM-75.1,-71.7H-71.4V-69.8H-75.1ZM29.1,-71.7H39.9V-69.8H29.1ZM41.5,-71.7H43.4V-69.8H41.5ZM48.6,-71.7H50.5V-69.8H48.6ZM52.1,-71.7H62.8V-69.8H52.1ZM66.2,-71.7H68.1V-69.8H66.2ZM124.5,-71.7H126.4V-69.8H124.5ZM-113.2,-73.5H-101.0V-71.6H-113.2ZM-85.6,-73.5H-83.7V-71.6H-85.6ZM7.8,-73.5H9.7V-71.6H7.8ZM23.3,-73.5H26.9V-71.6H23.3ZM37.2,-73.5H39.0V-71.6H37.2ZM40.6,-73.5H44.2V-71.6H40.6ZM45.8,-73.5H47.7V-71.6H45.8ZM54.5,-73.5H56.3V-71.6H54.5ZM59.6,-73.5H63.2V-71.6H59.6ZM80.4,-73.5H84.0V-71.6H80.4ZM90.8,-73.5H92.6V-71.6H90.8ZM102.9,-73.5H104.7V-71.6H102.9ZM9.3,-75.1H21.3V-73.3H9.3ZM36.3,-75.1H44.9V-73.3H36.3ZM46.5,-75.1H48.3V-73.3H46.5ZM51.5,-75.1H53.4V-73.3H51.5ZM56.6,-75.1H58.5V-73.3H56.6ZM60.0,-75.1H61.8V-73.3H60.0ZM70.1,-75.1H72.0V-73.3H70.1ZM87.0,-75.1H88.9V-73.3H87.0ZM103.9,-75.1H105.8V-73.3H103.9ZM107.3,-75.1H109.2V-73.3H107.3ZM114.1,-75.1H115.9V-73.3H114.1ZM37.1,-76.8H40.6V-75.0H37.1ZM43.7,-76.8H45.5V-75.0H43.7ZM47.0,-76.8H52.1V-75.0H47.0ZM56.9,-76.8H60.4V-75.0H56.9ZM61.9,-76.8H63.7V-75.0H61.9ZM65.2,-76.8H68.6V-75.0H65.2ZM73.4,-76.8H75.2V-75.0H73.4ZM76.7,-76.8H83.5V-75.0H76.7ZM37.8,-78.4H39.5V-76.6H37.8ZM42.6,-78.4H46.0V-76.6H42.6ZM49.0,-78.4H54.0V-76.6H49.0ZM57.1,-78.4H62.0V-76.6H57.1ZM38.3,-79.9H41.5V-78.2H38.3ZM42.9,-79.9H44.7V-78.2H42.9ZM52.3,-79.9H54.0V-78.2H52.3ZM58.6,-79.9H61.8V-78.2H58.6Z"/><path fill="#50bef0" d="M148.8,46.9H151.1V49.1H148.8ZM130.1,42.9H132.5V45.1H130.1ZM145.4,42.9H147.8V45.1H145.4ZM-67.3,40.9H-65.0V43.1H-67.3ZM129.2,40.9H131.5V43.1H129.2ZM133.6,40.9H135.9V43.1H133.6ZM149.0,40.9H151.4V43.1H149.0ZM-65.7,38.8H-63.3V41.0H-65.7ZM-56.8,38.8H-54.4V41.0H-56.8ZM130.3,38.8H132.7V41.0H130.3ZM-59.5,36.8H-57.1V39.0H-59.5ZM-52.8,36.8H-50.4V39.0H-52.8ZM131.3,36.8H133.7V39.0H131.3ZM-53.2,34.7H-50.7V36.9H-53.2ZM134.6,34.7H137.0V36.9H134.6ZM-55.8,32.7H-53.4V34.9H-55.8ZM-51.2,32.7H-46.5V34.9H-51.2ZM137.8,32.7H140.2V34.9H137.8ZM-56.1,30.7H-46.8V32.8H-56.1ZM28.6,30.7H31.1V32.8H28.6ZM-44.9,28.6H-42.5V30.8H-44.9ZM28.8,28.6H31.2V30.8H28.8ZM-54.4,26.6H-51.9V28.8H-54.4ZM-49.8,26.6H-47.3V28.8H-49.8ZM26.6,26.6H29.1V28.8H26.6ZM-59.3,24.5H-56.8V26.7H-59.3ZM-52.3,24.5H-47.5V26.7H-52.3ZM-45.3,24.5H-42.8V26.7H-45.3ZM26.7,24.5H29.2V26.7H26.7ZM43.0,24.5H47.8V26.7H43.0ZM138.3,24.5H140.8V26.7H138.3ZM-61.8,22.5H-59.3V24.7H-61.8ZM-57.1,22.5H-54.7V24.7H-57.1ZM-52.5,22.5H-45.3V24.7H-52.5ZM43.1,22.5H45.6V24.7H43.1ZM138.8,22.5H143.6V24.7H138.8ZM-59.7,20.4H-57.2V22.6H-59.7ZM-55.0,20.4H-45.5V22.6H-55.0ZM-40.9,20.4H-36.1V22.6H-40.9ZM43.3,20.4H48.1V22.6H43.3ZM136.9,20.4H139.4V22.6H136.9ZM-57.5,18.4H-52.7V20.6H-57.5ZM-48.1,18.4H-45.6V20.6H-48.1ZM-41.1,18.4H-36.2V20.6H-41.1ZM43.4,18.4H45.9V20.6H43.4ZM137.3,18.4H142.2V20.6H137.3ZM-57.7,16.3H-55.2V18.5H-57.7ZM-50.6,16.3H-48.1V18.5H-50.6ZM43.6,16.3H46.1V18.5H43.6ZM137.7,16.3H140.2V18.5H137.7ZM-67.3,14.3H-64.8V16.5H-67.3ZM-48.4,14.3H-45.9V16.5H-48.4ZM20.1,14.3H29.7V16.5H20.1ZM126.3,14.3H128.8V16.5H126.3ZM-69.8,12.3H-67.3V14.5H-69.8ZM-48.5,12.3H-46.0V14.5H-48.5ZM15.4,12.3H20.3V14.5H15.4ZM27.2,12.3H29.7V14.5H27.2ZM133.7,12.3H138.5V14.5H133.7ZM-72.3,10.2H-69.8V12.4H-72.3ZM-48.6,10.2H-46.1V12.4H-48.6ZM15.4,10.2H25.0V12.4H15.4ZM29.6,10.2H32.1V12.4H29.6ZM131.5,10.2H134.1V12.4H131.5ZM-72.4,8.2H-69.9V10.4H-72.4ZM-46.3,8.2H-43.8V10.4H-46.3ZM10.7,8.2H13.2V10.4H10.7ZM15.4,8.2H18.0V10.4H15.4ZM27.3,8.2H32.2V10.4H27.3ZM-46.3,6.1H-43.8V8.3H-46.3ZM10.7,6.1H15.6V8.3H10.7ZM29.7,6.1H32.2V8.3H29.7ZM96.3,6.1H98.8V8.3H96.3ZM112.9,6.1H117.8V8.3H112.9ZM10.7,4.1H13.2V6.3H10.7ZM22.6,4.1H25.1V6.3H22.6ZM94.0,4.1H96.5V6.3H94.0ZM110.6,4.1H113.1V6.3H110.6ZM143.9,4.1H146.5V6.3H143.9ZM-75.0,2.0H-72.5V4.2H-75.0ZM8.3,2.0H10.9V4.2H8.3ZM101.2,2.0H103.7V4.2H101.2ZM-75.0,0.0H-72.5V2.2H-75.0ZM91.7,0.0H94.2V2.2H91.7ZM101.2,0.0H103.8V2.2H101.2ZM134.6,0.0H139.5V2.2H134.6ZM-77.4,-2.0H-74.9V0.1H-77.4ZM98.8,-2.0H101.4V0.1H98.8ZM89.3,-4.1H91.8V-1.9H89.3ZM-15.5,-6.1H-12.9V-3.9H-15.5ZM-8.3,-6.1H-5.8V-3.9H-8.3ZM22.6,-6.1H25.1V-3.9H22.6ZM115.4,-6.1H117.9V-3.9H115.4ZM-53.5,-8.2H-50.9V-6.0H-53.5ZM8.3,-8.2H10.8V-6.0H8.3ZM32.1,-8.2H34.6V-6.0H32.1ZM89.1,-8.2H91.7V-6.0H89.1ZM-15.4,-10.2H-10.5V-8.0H-15.4ZM-5.9,-10.2H-3.4V-8.0H-5.9ZM32.0,-10.2H39.3V-8.0H32.0ZM-79.4,-12.3H-76.9V-10.1H-79.4ZM-10.7,-12.3H-8.1V-10.1H-10.7ZM-84.0,-14.3H-79.1V-12.1H-84.0ZM95.8,-14.3H98.3V-12.1H95.8ZM-83.8,-16.3H-81.3V-14.2H-83.8ZM-88.3,-18.4H-83.4V-16.2H-88.3ZM-81.2,-18.4H-78.7V-16.2H-81.2ZM69.5,-18.4H72.0V-16.2H69.5ZM-92.7,-20.4H-85.5V-18.2H-92.7ZM-81.0,-20.4H-78.5V-18.2H-81.0ZM-94.8,-22.5H-92.3V-20.3H-94.8ZM-87.7,-22.5H-82.9V-20.3H-87.7ZM87.7,-22.5H90.2V-20.3H87.7ZM-96.8,-24.5H-92.0V-22.3H-96.8ZM99.1,-24.5H101.6V-22.3H99.1ZM106.1,-24.5H108.6V-22.3H106.1ZM-73.2,-26.6H-70.7V-24.4H-73.2ZM63.9,-26.6H66.4V-24.4H63.9ZM77.9,-26.6H80.3V-24.4H77.9ZM89.5,-26.6H91.9V-24.4H89.5ZM94.1,-26.6H96.6V-24.4H94.1ZM105.7,-26.6H108.2V-24.4H105.7ZM110.4,-26.6H112.9V-24.4H110.4ZM-72.9,-28.6H-70.4V-26.4H-72.9ZM-74.9,-30.7H-72.4V-28.5H-74.9ZM56.4,-30.7H58.9V-28.5H56.4ZM109.4,-30.7H111.9V-28.5H109.4ZM-83.6,-32.7H-81.2V-30.5H-83.6ZM108.8,-32.7H113.6V-30.5H108.8ZM-69.5,-34.7H-67.0V-32.5H-69.5ZM89.9,-34.7H92.4V-32.5H89.9ZM-91.6,-36.8H-89.2V-34.6H-91.6ZM-82.6,-36.8H-80.1V-34.6H-82.6ZM59.9,-36.8H62.3V-34.6H59.9ZM89.3,-36.8H94.0V-34.6H89.3ZM96.1,-36.8H98.5V-34.6H96.1ZM125.5,-36.8H127.9V-34.6H125.5ZM-86.4,-38.8H-84.0V-36.6H-86.4ZM59.5,-38.8H61.9V-36.6H59.5ZM77.5,-38.8H79.8V-36.6H77.5ZM115.6,-38.8H118.0V-36.6H115.6ZM-90.2,-40.9H-85.6V-38.7H-90.2ZM-79.1,-40.9H-74.5V-38.7H-79.1ZM105.8,-40.9H108.2V-38.7H105.8ZM114.7,-40.9H117.1V-38.7H114.7ZM125.8,-40.9H128.2V-38.7H125.8ZM-76.2,-42.9H-71.6V-40.7H-76.2ZM80.6,-42.9H82.9V-40.7H80.6ZM85.0,-42.9H87.4V-40.7H85.0ZM104.9,-42.9H111.6V-40.7H104.9ZM115.9,-42.9H120.5V-40.7H115.9ZM126.9,-42.9H129.3V-40.7H126.9ZM-95.1,-44.9H-88.4V-42.8H-95.1ZM-79.8,-44.9H-77.5V-42.8H-79.8ZM-75.4,-44.9H-73.1V-42.8H-75.4ZM-71.1,-44.9H-68.7V-42.8H-71.1ZM108.2,-44.9H110.6V-42.8H108.2ZM119.2,-44.9H121.5V-42.8H119.2ZM-92.0,-46.9H-89.7V-44.8H-92.0ZM-83.3,-46.9H-78.8V-44.8H-83.3ZM-76.8,-46.9H-74.5V-44.8H-76.8ZM-70.3,-46.9H-68.0V-44.8H-70.3ZM-55.2,-46.9H-52.9V-44.8H-55.2ZM-5.4,-46.9H-0.9V-44.8H-5.4ZM3.2,-46.9H7.7V-44.8H3.2ZM11.9,-46.9H14.2V-44.8H11.9ZM16.2,-46.9H20.7V-44.8H16.2ZM105.0,-46.9H111.6V-44.8H105.0ZM126.6,-46.9H128.9V-44.8H126.6ZM-84.6,-49.0H-82.3V-46.8H-84.6ZM-69.6,-49.0H-65.1V-46.8H-69.6ZM-50.3,-49.0H-48.0V-46.8H-50.3ZM-7.5,-49.0H-5.2V-46.8H-7.5ZM-1.1,-49.0H1.2V-46.8H-1.1ZM3.2,-49.0H7.6V-46.8H3.2ZM11.8,-49.0H14.1V-46.8H11.8ZM16.1,-49.0H24.8V-46.8H16.1ZM28.9,-49.0H31.2V-46.8H28.9ZM114.5,-49.0H116.8V-46.8H114.5ZM-104.8,-51.0H-102.5V-48.8H-104.8ZM-98.4,-51.0H-96.1V-48.8H-98.4ZM-89.9,-51.0H-87.7V-48.8H-89.9ZM-83.6,-51.0H-81.3V-48.8H-83.6ZM-7.4,-51.0H-5.1V-48.8H-7.4ZM-1.1,-51.0H7.6V-48.8H-1.1ZM11.6,-51.0H13.9V-48.8H11.6ZM20.1,-51.0H24.5V-48.8H20.1ZM26.5,-51.0H30.8V-48.8H26.5ZM104.8,-51.0H107.0V-48.8H104.8ZM115.3,-51.0H117.6V-48.8H115.3ZM-107.7,-53.0H-105.4V-50.8H-107.7ZM-68.0,-53.0H-65.7V-50.8H-68.0ZM-3.1,-53.0H-0.9V-50.8H-3.1ZM7.3,-53.0H9.6V-50.8H7.3ZM13.6,-53.0H15.8V-50.8H13.6ZM19.9,-53.0H22.1V-50.8H19.9ZM30.3,-53.0H32.6V-50.8H30.3ZM-108.4,-54.9H-106.2V-52.8H-108.4ZM-75.3,-54.9H-73.1V-52.8H-75.3ZM-46.4,-54.9H-44.2V-52.8H-46.4ZM-5.2,-54.9H-0.9V-52.8H-5.2ZM3.1,-54.9H11.5V-52.8H3.1ZM13.4,-54.9H15.6V-52.8H13.4ZM17.5,-54.9H19.8V-52.8H17.5ZM21.7,-54.9H32.1V-52.8H21.7ZM-92.6,-56.9H-90.4V-54.8H-92.6ZM-86.5,-56.9H-78.2V-54.8H-86.5ZM-62.1,-56.9H-59.9V-54.8H-62.1ZM-58.0,-56.9H-55.8V-54.8H-58.0ZM-53.9,-56.9H-51.8V-54.8H-53.9ZM3.1,-56.9H5.2V-54.8H3.1ZM11.2,-56.9H13.4V-54.8H11.2ZM15.3,-56.9H17.5V-54.8H15.3ZM19.3,-56.9H21.5V-54.8H19.3ZM25.4,-56.9H27.6V-54.8H25.4ZM78.4,-56.9H80.6V-54.8H78.4ZM84.5,-56.9H86.7V-54.8H84.5ZM-107.3,-58.8H-105.1V-56.7H-107.3ZM-89.2,-58.8H-85.1V-56.7H-89.2ZM-49.1,-58.8H-47.0V-56.7H-49.1ZM-5.0,-58.8H-0.9V-56.7H-5.0ZM15.0,-58.8H21.2V-56.7H15.0ZM31.1,-58.8H35.2V-56.7H31.1ZM39.1,-58.8H41.3V-56.7H39.1ZM43.1,-58.8H47.3V-56.7H43.1ZM71.2,-58.8H73.3V-56.7H71.2ZM87.2,-58.8H89.4V-56.7H87.2ZM99.3,-58.8H101.4V-56.7H99.3ZM-64.2,-60.7H-60.1V-58.7H-64.2ZM-50.3,-60.7H-46.2V-58.7H-50.3ZM-1.0,-60.7H1.1V-58.7H-1.0ZM10.9,-60.7H13.0V-58.7H10.9ZM16.8,-60.7H18.9V-58.7H16.8ZM20.7,-60.7H22.9V-58.7H20.7ZM32.6,-60.7H34.7V-58.7H32.6ZM38.5,-60.7H42.6V-58.7H38.5ZM56.3,-60.7H58.4V-58.7H56.3ZM64.2,-60.7H66.3V-58.7H64.2ZM87.8,-60.7H90.0V-58.7H87.8ZM97.7,-60.7H99.8V-58.7H97.7ZM107.6,-60.7H109.7V-58.7H107.6ZM-105.8,-62.6H-103.7V-60.6H-105.8ZM-67.0,-62.6H-64.9V-60.6H-67.0ZM-2.9,-62.6H-0.8V-60.6H-2.9ZM4.9,-62.6H6.9V-60.6H4.9ZM24.3,-62.6H26.4V-60.6H24.3ZM49.5,-62.6H53.5V-60.6H49.5ZM96.1,-62.6H100.1V-60.6H96.1ZM103.9,-62.6H106.0V-60.6H103.9ZM111.6,-62.6H113.7V-60.6H111.6ZM115.5,-62.6H117.6V-60.6H115.5ZM-125.0,-64.5H-121.0V-62.5H-125.0ZM-107.8,-64.5H-105.7V-62.5H-107.8ZM-75.4,-64.5H-69.5V-62.5H-75.4ZM-56.3,-64.5H-54.2V-62.5H-56.3ZM83.0,-64.5H85.1V-62.5H83.0ZM90.6,-64.5H92.7V-62.5H90.6ZM94.4,-64.5H98.4V-62.5H94.4ZM102.1,-64.5H104.1V-62.5H102.1ZM111.6,-64.5H115.6V-62.5H111.6ZM119.2,-64.5H121.3V-62.5H119.2ZM-119.0,-66.4H-116.9V-64.4H-119.0ZM-115.2,-66.4H-113.2V-64.4H-115.2ZM-75.9,-66.4H-73.9V-64.4H-75.9ZM-70.3,-66.4H-66.4V-64.4H-70.3ZM77.8,-66.4H81.6V-64.4H77.8ZM87.1,-66.4H89.1V-64.4H87.1ZM90.9,-66.4H92.9V-64.4H90.9ZM111.5,-66.4H113.5V-64.4H111.5ZM120.8,-66.4H122.9V-64.4H120.8ZM-127.8,-68.2H-125.8V-66.2H-127.8ZM-83.6,-68.2H-81.7V-66.2H-83.6ZM-80.0,-68.2H-78.0V-66.2H-80.0ZM-74.5,-68.2H-68.8V-66.2H-74.5ZM4.6,-68.2H6.6V-66.2H4.6ZM65.3,-68.2H67.3V-66.2H65.3ZM72.6,-68.2H76.4V-66.2H72.6ZM91.0,-68.2H93.0V-66.2H91.0ZM107.5,-68.2H109.5V-66.2H107.5ZM116.7,-68.2H124.2V-66.2H116.7ZM-125.3,-70.0H-123.3V-68.0H-125.3ZM-91.0,-70.0H-89.1V-68.0H-91.0ZM-85.6,-70.0H-80.1V-68.0H-85.6ZM-78.4,-70.0H-74.7V-68.0H-78.4ZM6.3,-70.0H8.3V-68.0H6.3ZM55.0,-70.0H60.5V-68.0H55.0ZM64.0,-70.0H65.9V-68.0H64.0ZM69.4,-70.0H71.4V-68.0H69.4ZM73.0,-70.0H75.0V-68.0H73.0ZM87.4,-70.0H89.4V-68.0H87.4ZM96.4,-70.0H103.8V-68.0H96.4ZM109.1,-70.0H111.0V-68.0H109.1ZM-117.4,-71.7H-115.5V-69.8H-117.4ZM-103.3,-71.7H-101.4V-69.8H-103.3ZM-85.7,-71.7H-83.7V-69.8H-85.7ZM-78.6,-71.7H-74.9V-69.8H-78.6ZM7.9,-71.7H9.9V-69.8H7.9ZM27.4,-71.7H29.3V-69.8H27.4ZM39.7,-71.7H41.7V-69.8H39.7ZM43.3,-71.7H48.7V-69.8H43.3ZM50.3,-71.7H52.2V-69.8H50.3ZM68.0,-71.7H69.9V-69.8H68.0ZM91.0,-71.7H92.9V-69.8H91.0ZM94.5,-71.7H96.4V-69.8H94.5ZM98.0,-71.7H103.5V-69.8H98.0ZM122.7,-71.7H124.7V-69.8H122.7ZM-87.3,-73.5H-85.4V-71.6H-87.3ZM21.6,-73.5H23.5V-71.6H21.6ZM38.9,-73.5H40.8V-71.6H38.9ZM49.3,-73.5H51.1V-71.6H49.3ZM71.7,-73.5H73.6V-71.6H71.7ZM104.6,-73.5H106.5V-71.6H104.6ZM111.5,-73.5H115.1V-71.6H111.5ZM118.4,-73.5H122.0V-71.6H118.4ZM44.8,-75.1H46.6V-73.3H44.8ZM48.2,-75.1H50.0V-73.3H48.2ZM63.4,-75.1H65.2V-73.3H63.4ZM68.4,-75.1H70.3V-73.3H68.4ZM73.5,-75.1H75.4V-73.3H73.5ZM78.6,-75.1H80.4V-73.3H78.6ZM85.4,-75.1H87.2V-73.3H85.4ZM40.4,-76.8H43.9V-75.0H40.4ZM63.5,-76.8H65.3V-75.0H63.5ZM39.4,-78.4H42.7V-76.6H39.4ZM53.8,-78.4H55.6V-76.6H53.8ZM61.9,-78.4H63.6V-76.6H61.9ZM53.9,-79.9H55.6V-78.2H53.9Z"/><path fill="#c8e6f5" d="M140.7,49.0H145.1V51.1H140.7ZM-66.0,44.9H-63.7V47.1H-66.0ZM150.4,44.9H152.7V47.1H150.4ZM-65.1,40.9H-62.8V43.1H-65.1ZM102.1,36.8H106.8V39.0H102.1ZM133.6,36.8H136.0V39.0H133.6ZM138.1,36.8H140.5V39.0H138.1ZM-50.9,34.7H-48.5V36.9H-50.9ZM102.9,34.7H105.3V36.9H102.9ZM136.8,34.7H141.5V36.9H136.8ZM-53.5,32.7H-51.1V34.9H-53.5ZM-47.0,30.7H-44.5V32.8H-47.0ZM138.6,30.7H141.1V32.8H138.6ZM-51.8,28.6H-47.1V30.8H-51.8ZM-45.1,26.6H-42.7V28.8H-45.1ZM137.7,26.6H140.2V28.8H137.7ZM-47.6,24.5H-45.2V26.7H-47.6ZM140.6,24.5H143.1V26.7H140.6ZM45.5,22.5H48.0V24.7H45.5ZM-53.0,16.3H-50.5V18.5H-53.0ZM-48.3,16.3H-45.8V18.5H-48.3ZM-53.1,14.3H-48.2V16.5H-53.1ZM20.1,12.3H25.0V14.5H20.1ZM13.1,8.2H15.6V10.4H13.1ZM20.2,8.2H22.7V10.4H20.2ZM103.3,8.2H110.5V10.4H103.3ZM112.8,8.2H122.4V10.4H112.8ZM15.4,6.1H18.0V8.3H15.4ZM20.2,6.1H25.1V8.3H20.2ZM101.0,6.1H103.5V8.3H101.0ZM17.8,4.1H20.4V6.3H17.8ZM25.0,4.1H29.9V6.3H25.0ZM113.1,-4.1H115.6V-1.9H113.1ZM-10.7,-6.1H-8.2V-3.9H-10.7ZM8.3,-6.1H10.9V-3.9H8.3ZM89.2,-6.1H91.7V-3.9H89.2ZM-74.9,-8.2H-72.3V-6.0H-74.9ZM-13.1,-8.2H-10.5V-6.0H-13.1ZM-8.3,-8.2H-5.8V-6.0H-8.3ZM34.5,-8.2H39.4V-6.0H34.5ZM74.9,-8.2H77.4V-6.0H74.9ZM-10.7,-10.2H-5.8V-8.0H-10.7ZM72.4,-10.2H74.9V-8.0H72.4ZM-81.8,-12.3H-79.2V-10.1H-81.8ZM98.4,-12.3H105.6V-10.1H98.4ZM-79.3,-14.3H-74.4V-12.1H-79.3ZM93.4,-14.3H96.0V-12.1H93.4ZM98.2,-14.3H105.4V-12.1H98.2ZM-86.2,-16.3H-83.7V-14.2H-86.2ZM-81.4,-16.3H-74.2V-14.2H-81.4ZM88.5,-16.3H91.0V-14.2H88.5ZM95.6,-16.3H100.5V-14.2H95.6ZM102.7,-16.3H105.2V-14.2H102.7ZM-83.6,-18.4H-81.1V-16.2H-83.6ZM-78.9,-18.4H-76.4V-16.2H-78.9ZM93.0,-18.4H95.5V-16.2H93.0ZM97.7,-18.4H100.2V-16.2H97.7ZM-85.7,-20.4H-80.8V-18.2H-85.7ZM97.4,-20.4H99.9V-18.2H97.4ZM104.5,-20.4H107.0V-18.2H104.5ZM-83.1,-22.5H-80.6V-20.3H-83.1ZM101.8,-22.5H106.6V-20.3H101.8ZM87.5,-24.5H92.3V-22.3H87.5ZM80.2,-26.6H82.7V-24.4H80.2ZM108.1,-26.6H110.5V-24.4H108.1ZM96.1,-28.6H98.5V-26.4H96.1ZM103.0,-28.6H105.5V-26.4H103.0ZM77.2,-30.7H79.6V-28.5H77.2ZM84.1,-30.7H88.8V-28.5H84.1ZM104.8,-30.7H107.3V-28.5H104.8ZM99.7,-32.7H102.1V-30.5H99.7ZM106.5,-32.7H109.0V-30.5H106.5ZM94.5,-34.7H96.9V-32.5H94.5ZM103.6,-34.7H106.0V-32.5H103.6ZM93.9,-36.8H96.3V-34.6H93.9ZM98.4,-36.8H103.1V-34.6H98.4ZM112.5,-40.9H114.8V-38.7H112.5ZM-89.4,-42.9H-87.1V-40.7H-89.4ZM-78.4,-42.9H-76.0V-40.7H-78.4ZM111.5,-42.9H116.1V-40.7H111.5ZM106.1,-44.9H108.4V-42.8H106.1ZM125.7,-44.9H128.1V-42.8H125.7ZM-85.5,-46.9H-83.2V-44.8H-85.5ZM-68.2,-46.9H-65.9V-44.8H-68.2ZM7.6,-46.9H9.9V-44.8H7.6ZM14.1,-46.9H16.4V-44.8H14.1ZM122.3,-46.9H126.8V-44.8H122.3ZM9.6,-49.0H11.9V-46.8H9.6ZM13.9,-49.0H16.2V-46.8H13.9ZM121.0,-49.0H127.5V-46.8H121.0ZM-64.5,-51.0H-62.3V-48.8H-64.5ZM30.7,-51.0H33.0V-48.8H30.7ZM34.9,-51.0H39.3V-48.8H34.9ZM3.1,-53.0H5.4V-50.8H3.1ZM17.8,-53.0H20.0V-50.8H17.8ZM34.5,-53.0H36.7V-50.8H34.5ZM11.4,-54.9H13.6V-52.8H11.4ZM19.6,-54.9H21.8V-52.8H19.6ZM23.4,-56.9H25.6V-54.8H23.4ZM-67.2,-58.8H-61.0V-56.7H-67.2ZM23.1,-58.8H25.2V-56.7H23.1ZM29.1,-58.8H31.2V-56.7H29.1ZM47.1,-58.8H51.3V-56.7H47.1ZM-68.1,-60.7H-66.0V-58.7H-68.1ZM30.6,-60.7H32.7V-58.7H30.6ZM34.5,-60.7H36.7V-58.7H34.5ZM44.4,-60.7H50.5V-58.7H44.4ZM103.6,-60.7H107.7V-58.7H103.6ZM109.6,-60.7H113.7V-58.7H109.6ZM-70.9,-62.6H-66.8V-60.6H-70.9ZM-65.0,-62.6H-62.9V-60.6H-65.0ZM32.0,-62.6H34.1V-60.6H32.0ZM94.2,-62.6H96.2V-60.6H94.2ZM109.7,-62.6H111.8V-60.6H109.7ZM-77.3,-64.5H-75.2V-62.5H-77.3ZM92.5,-64.5H94.6V-62.5H92.5ZM104.0,-64.5H109.9V-62.5H104.0ZM117.3,-64.5H119.4V-62.5H117.3ZM-126.5,-66.4H-124.4V-64.4H-126.5ZM-83.4,-66.4H-75.7V-64.4H-83.4ZM-72.1,-66.4H-70.1V-64.4H-72.1ZM74.0,-66.4H76.0V-64.4H74.0ZM89.0,-66.4H91.0V-64.4H89.0ZM96.5,-66.4H98.5V-64.4H96.5ZM102.1,-66.4H104.1V-64.4H102.1ZM117.1,-66.4H121.0V-64.4H117.1ZM-125.9,-68.2H-123.9V-66.2H-125.9ZM-87.3,-68.2H-85.3V-66.2H-87.3ZM-81.8,-68.2H-79.8V-66.2H-81.8ZM-76.3,-68.2H-74.3V-66.2H-76.3ZM54.2,-68.2H56.2V-66.2H54.2ZM63.4,-68.2H65.4V-66.2H63.4ZM67.1,-68.2H72.8V-66.2H67.1ZM81.8,-68.2H89.3V-66.2H81.8ZM94.7,-68.2H98.5V-66.2H94.7ZM100.2,-68.2H102.2V-66.2H100.2ZM105.7,-68.2H107.7V-66.2H105.7ZM111.2,-68.2H113.2V-66.2H111.2ZM114.9,-68.2H116.9V-66.2H114.9ZM-123.5,-70.0H-119.7V-68.0H-123.5ZM-89.2,-70.0H-87.3V-68.0H-89.2ZM49.6,-70.0H51.5V-68.0H49.6ZM60.4,-70.0H62.3V-68.0H60.4ZM65.8,-70.0H69.5V-68.0H65.8ZM71.2,-70.0H73.2V-68.0H71.2ZM78.4,-70.0H82.2V-68.0H78.4ZM89.2,-70.0H93.0V-68.0H89.2ZM94.6,-70.0H96.6V-68.0H94.6ZM103.6,-70.0H109.2V-68.0H103.6ZM114.5,-70.0H123.6V-68.0H114.5ZM62.7,-71.7H66.4V-69.8H62.7ZM69.8,-71.7H71.7V-69.8H69.8ZM76.8,-71.7H80.5V-69.8H76.8ZM82.1,-71.7H84.0V-69.8H82.1ZM103.3,-71.7H108.8V-69.8H103.3ZM110.4,-71.7H114.1V-69.8H110.4ZM117.4,-71.7H122.9V-69.8H117.4ZM64.8,-73.5H66.7V-71.6H64.8ZM68.3,-73.5H71.9V-71.6H68.3ZM76.9,-73.5H80.5V-71.6H76.9ZM106.3,-73.5H111.6V-71.6H106.3ZM115.0,-73.5H118.6V-71.6H115.0ZM121.9,-73.5H123.7V-71.6H121.9ZM65.1,-75.1H66.9V-73.3H65.1ZM71.8,-75.1H73.7V-73.3H71.8ZM76.9,-75.1H78.7V-73.3H76.9ZM80.3,-75.1H85.5V-73.3H80.3ZM60.2,-76.8H62.0V-75.0H60.2Z"/><path fill="#ffd732" d="M146.6,46.9H148.9V49.1H146.6ZM124.5,44.9H128.9V47.1H124.5ZM141.8,44.9H144.1V47.1H141.8ZM-66.7,42.9H-64.4V45.1H-66.7ZM125.7,42.9H128.1V45.1H125.7ZM131.4,40.9H133.7V43.1H131.4ZM151.2,40.9H153.6V43.1H151.2ZM155.6,40.9H158.0V43.1H155.6ZM132.5,38.8H137.1V41.0H132.5ZM154.8,38.8H159.4V41.0H154.8ZM135.8,36.8H138.2V39.0H135.8ZM140.0,32.7H142.5V34.9H140.0ZM-47.2,28.6H-44.8V30.8H-47.2ZM139.4,28.6H144.1V30.8H139.4ZM140.0,26.6H142.5V28.8H140.0ZM-52.8,18.4H-50.3V20.6H-52.8ZM-55.3,16.3H-52.8V18.5H-55.3ZM-64.9,14.3H-62.4V16.5H-64.9ZM-57.8,14.3H-55.3V16.5H-57.8ZM-67.4,12.3H-62.5V14.5H-67.4ZM-51.0,10.2H-48.4V12.4H-51.0ZM143.4,10.2H145.9V12.4H143.4ZM-48.7,8.2H-46.1V10.4H-48.7ZM17.8,8.2H20.3V10.4H17.8ZM100.9,8.2H103.4V10.4H100.9ZM110.4,8.2H112.9V10.4H110.4ZM-72.5,6.1H-70.0V8.3H-72.5ZM17.8,6.1H20.4V8.3H17.8ZM98.6,6.1H101.2V8.3H98.6ZM-51.1,4.1H-48.6V6.3H-51.1ZM13.1,4.1H18.0V6.3H13.1ZM20.2,4.1H22.7V6.3H20.2ZM96.3,4.1H98.9V6.3H96.3ZM113.0,4.1H117.9V6.3H113.0ZM-48.8,2.0H-46.3V4.2H-48.8ZM10.7,2.0H13.2V4.2H10.7ZM27.4,2.0H29.9V4.2H27.4ZM94.0,2.0H96.6V4.2H94.0ZM98.8,2.0H101.3V4.2H98.8ZM103.6,2.0H106.1V4.2H103.6ZM108.3,2.0H113.2V4.2H108.3ZM-56.0,0.0H-53.4V2.2H-56.0ZM8.3,0.0H10.9V2.2H8.3ZM98.8,0.0H101.4V2.2H98.8ZM122.7,0.0H125.2V2.2H122.7ZM-48.8,-2.0H-46.3V0.1H-48.8ZM91.7,-2.0H99.0V0.1H91.7ZM103.6,-2.0H106.1V0.1H103.6ZM115.5,-2.0H118.0V0.1H115.5ZM-51.2,-4.1H-48.7V-1.9H-51.2ZM8.3,-4.1H10.9V-1.9H8.3ZM20.2,-4.1H22.8V-1.9H20.2ZM91.7,-4.1H94.2V-1.9H91.7ZM-53.5,-6.1H-51.0V-3.9H-53.5ZM-13.1,-6.1H-10.6V-3.9H-13.1ZM96.3,-6.1H98.9V-3.9H96.3ZM103.5,-6.1H106.0V-3.9H103.5ZM113.0,-6.1H115.5V-3.9H113.0ZM-58.2,-8.2H-53.3V-6.0H-58.2ZM-15.4,-8.2H-12.9V-6.0H-15.4ZM-10.7,-8.2H-8.2V-6.0H-10.7ZM72.5,-8.2H75.0V-6.0H72.5ZM91.5,-8.2H94.0V-6.0H91.5ZM96.3,-8.2H98.8V-6.0H96.3ZM108.1,-8.2H110.7V-6.0H108.1ZM115.3,-8.2H120.2V-6.0H115.3ZM-74.8,-10.2H-67.5V-8.0H-74.8ZM-65.3,-10.2H-58.0V-8.0H-65.3ZM74.8,-10.2H77.3V-8.0H74.8ZM91.4,-10.2H98.7V-8.0H91.4ZM112.8,-10.2H120.0V-8.0H112.8ZM88.9,-12.3H98.5V-10.1H88.9ZM117.3,-12.3H119.8V-10.1H117.3ZM88.7,-14.3H93.6V-12.1H88.7ZM112.4,-14.3H114.9V-12.1H112.4ZM90.9,-16.3H95.8V-14.2H90.9ZM100.3,-16.3H102.8V-14.2H100.3ZM112.1,-16.3H114.6V-14.2H112.1ZM116.8,-16.3H119.4V-14.2H116.8ZM88.3,-18.4H90.8V-16.2H88.3ZM95.4,-18.4H97.9V-16.2H95.4ZM102.4,-18.4H104.9V-16.2H102.4ZM111.8,-18.4H114.3V-16.2H111.8ZM90.4,-20.4H92.9V-18.2H90.4ZM95.1,-20.4H97.6V-18.2H95.1ZM99.8,-20.4H104.6V-18.2H99.8ZM111.5,-20.4H118.7V-18.2H111.5ZM97.1,-22.5H99.6V-20.3H97.1ZM92.1,-24.5H94.6V-22.3H92.1ZM96.8,-24.5H99.3V-22.3H96.8ZM101.5,-24.5H106.3V-22.3H101.5ZM84.8,-26.6H89.6V-24.4H84.8ZM96.4,-26.6H98.9V-24.4H96.4ZM101.1,-26.6H105.9V-24.4H101.1ZM77.5,-28.6H89.3V-26.4H77.5ZM91.4,-28.6H93.9V-26.4H91.4ZM109.9,-28.6H112.4V-26.4H109.9ZM79.5,-30.7H84.2V-28.5H79.5ZM88.7,-30.7H93.4V-28.5H88.7ZM100.2,-30.7H102.7V-28.5H100.2ZM107.1,-30.7H109.6V-28.5H107.1ZM-81.3,-32.7H-78.9V-30.5H-81.3ZM-76.8,-32.7H-74.3V-30.5H-76.8ZM88.2,-32.7H92.9V-30.5H88.2ZM97.4,-32.7H99.8V-30.5H97.4ZM-83.1,-34.7H-80.7V-32.5H-83.1ZM-74.0,-34.7H-69.3V-32.5H-74.0ZM92.2,-34.7H94.7V-32.5H92.2ZM101.3,-34.7H103.8V-32.5H101.3ZM-78.0,-36.8H-75.6V-34.6H-78.0ZM116.5,-36.8H118.9V-34.6H116.5ZM-79.7,-38.8H-77.3V-36.6H-79.7ZM-72.4,-40.9H-70.0V-38.7H-72.4ZM-68.9,-44.9H-66.5V-42.8H-68.9ZM121.4,-44.9H123.7V-42.8H121.4ZM-65.3,-49.0H-63.0V-46.8H-65.3ZM-52.4,-49.0H-50.2V-46.8H-52.4ZM7.5,-49.0H9.8V-46.8H7.5ZM7.4,-51.0H9.7V-48.8H7.4ZM18.0,-51.0H20.3V-48.8H18.0ZM-105.6,-53.0H-103.4V-50.8H-105.6ZM-47.0,-53.0H-44.8V-50.8H-47.0ZM9.4,-53.0H11.7V-50.8H9.4ZM-70.1,-60.7H-68.0V-58.7H-70.1ZM36.5,-60.7H38.6V-58.7H36.5ZM54.3,-60.7H56.4V-58.7H54.3ZM101.7,-60.7H103.8V-58.7H101.7ZM-72.8,-62.6H-70.7V-60.6H-72.8ZM6.8,-62.6H8.9V-60.6H6.8ZM47.6,-62.6H49.7V-60.6H47.6ZM86.4,-62.6H88.5V-60.6H86.4ZM92.2,-62.6H94.3V-60.6H92.2ZM107.7,-62.6H109.8V-60.6H107.7ZM113.6,-62.6H115.7V-60.6H113.6ZM98.3,-64.5H102.2V-62.5H98.3ZM104.0,-66.4H106.0V-64.4H104.0ZM113.3,-66.4H117.2V-64.4H113.3ZM-124.1,-68.2H-122.1V-66.2H-124.1ZM-85.5,-68.2H-83.5V-66.2H-85.5ZM-78.1,-68.2H-76.1V-66.2H-78.1ZM102.0,-68.2H104.0V-66.2H102.0ZM109.4,-68.2H111.4V-66.2H109.4ZM113.1,-68.2H115.0V-66.2H113.1ZM-119.9,-70.0H-117.9V-68.0H-119.9ZM-87.4,-70.0H-85.5V-68.0H-87.4ZM76.6,-70.0H78.6V-68.0H76.6ZM82.0,-70.0H84.0V-68.0H82.0ZM110.9,-70.0H114.6V-68.0H110.9ZM83.9,-71.7H85.8V-69.8H83.9ZM92.7,-71.7H94.6V-69.8H92.7ZM108.6,-71.7H110.5V-69.8H108.6ZM113.9,-71.7H115.8V-69.8H113.9ZM63.1,-73.5H65.0V-71.6H63.1ZM66.6,-73.5H68.4V-71.6H66.6ZM75.2,-73.5H77.1V-71.6H75.2ZM83.8,-73.5H85.7V-71.6H83.8ZM87.3,-73.5H90.9V-71.6H87.3ZM75.2,-75.1H77.0V-73.3H75.2Z"/><path fill="#ff8c00" d="M140.2,46.9H144.6V49.1H140.2ZM143.9,44.9H146.2V47.1H143.9ZM127.9,42.9H130.3V45.1H127.9ZM147.6,42.9H149.9V45.1H147.6ZM152.0,42.9H154.3V45.1H152.0ZM153.4,40.9H155.8V43.1H153.4ZM140.9,30.7H143.3V32.8H140.9ZM-47.4,26.6H-45.0V28.8H-47.4ZM-62.6,14.3H-57.7V16.5H-62.6ZM-62.7,12.3H-55.4V14.5H-62.7ZM-53.2,12.3H-48.3V14.5H-53.2ZM-69.9,10.2H-67.4V12.4H-69.9ZM-62.8,10.2H-57.9V12.4H-62.8ZM-55.7,10.2H-53.2V12.4H-55.7ZM141.0,10.2H143.5V12.4H141.0ZM-70.0,8.2H-67.5V10.4H-70.0ZM-51.0,8.2H-48.5V10.4H-51.0ZM127.0,8.2H129.5V10.4H127.0ZM131.7,8.2H134.3V10.4H131.7ZM143.6,8.2H146.1V10.4H143.6ZM-58.2,6.1H-55.7V8.3H-58.2ZM-53.5,6.1H-46.2V8.3H-53.5ZM-48.8,4.1H-46.2V6.3H-48.8ZM98.7,4.1H101.3V6.3H98.7ZM122.5,4.1H125.0V6.3H122.5ZM-72.6,2.0H-70.1V4.2H-72.6ZM-53.6,2.0H-51.0V4.2H-53.6ZM13.1,2.0H15.6V4.2H13.1ZM20.2,2.0H22.8V4.2H20.2ZM96.4,2.0H98.9V4.2H96.4ZM115.5,2.0H118.0V4.2H115.5ZM122.6,2.0H125.1V4.2H122.6ZM132.1,2.0H139.4V4.2H132.1ZM141.6,2.0H144.2V4.2H141.6ZM-53.6,0.0H-51.1V2.2H-53.6ZM-48.8,0.0H-46.3V2.2H-48.8ZM13.1,0.0H15.6V2.2H13.1ZM27.4,0.0H29.9V2.2H27.4ZM94.1,0.0H99.0V2.2H94.1ZM103.6,0.0H108.5V2.2H103.6ZM115.5,0.0H118.0V2.2H115.5ZM125.0,0.0H127.6V2.2H125.0ZM132.2,0.0H134.7V2.2H132.2ZM-75.0,-2.0H-72.5V0.1H-75.0ZM-56.0,-2.0H-48.7V0.1H-56.0ZM8.3,-2.0H10.9V0.1H8.3ZM17.9,-2.0H20.4V0.1H17.9ZM22.6,-2.0H25.2V0.1H22.6ZM27.4,-2.0H29.9V0.1H27.4ZM113.1,-2.0H115.7V0.1H113.1ZM-77.4,-4.1H-74.8V-1.9H-77.4ZM-53.6,-4.1H-51.0V-1.9H-53.6ZM17.9,-4.1H20.4V-1.9H17.9ZM22.6,-4.1H25.1V-1.9H22.6ZM27.4,-4.1H29.9V-1.9H27.4ZM94.0,-4.1H96.6V-1.9H94.0ZM103.6,-4.1H106.1V-1.9H103.6ZM108.3,-4.1H113.2V-1.9H108.3ZM-77.3,-6.1H-74.8V-3.9H-77.3ZM-70.2,-6.1H-67.6V-3.9H-70.2ZM-58.3,-6.1H-55.8V-3.9H-58.3ZM13.1,-6.1H22.7V-3.9H13.1ZM91.6,-6.1H94.1V-3.9H91.6ZM108.2,-6.1H110.8V-3.9H108.2ZM-72.5,-8.2H-70.0V-6.0H-72.5ZM-65.4,-8.2H-58.1V-6.0H-65.4ZM93.9,-8.2H96.4V-6.0H93.9ZM105.8,-8.2H108.3V-6.0H105.8ZM110.5,-8.2H115.4V-6.0H110.5ZM-67.7,-10.2H-65.1V-8.0H-67.7ZM112.6,-12.3H115.1V-10.1H112.6ZM117.1,-14.3H119.6V-12.1H117.1ZM114.5,-16.3H117.0V-14.2H114.5ZM90.6,-18.4H93.1V-16.2H90.6ZM114.2,-18.4H119.0V-16.2H114.2ZM88.0,-20.4H90.5V-18.2H88.0ZM90.1,-22.5H92.6V-20.3H90.1ZM94.8,-22.5H97.3V-20.3H94.8ZM94.5,-24.5H96.9V-22.3H94.5ZM82.5,-26.6H85.0V-24.4H82.5ZM93.7,-28.6H96.2V-26.4H93.7ZM98.4,-28.6H103.1V-26.4H98.4ZM107.6,-28.6H110.1V-26.4H107.6ZM97.9,-30.7H100.4V-28.5H97.9ZM-79.0,-32.7H-76.6V-30.5H-79.0ZM-74.5,-32.7H-72.0V-30.5H-74.5ZM95.1,-32.7H97.5V-30.5H95.1ZM102.0,-32.7H106.7V-30.5H102.0ZM-80.8,-34.7H-78.4V-32.5H-80.8ZM96.8,-34.7H99.2V-32.5H96.8ZM-80.3,-36.8H-77.9V-34.6H-80.3ZM-75.8,-36.8H-73.4V-34.6H-75.8ZM-71.2,-36.8H-68.8V-34.6H-71.2ZM121.0,-36.8H125.7V-34.6H121.0ZM-66.2,-38.8H-63.8V-36.6H-66.2ZM117.9,-38.8H120.3V-36.6H117.9ZM124.6,-38.8H127.0V-36.6H124.6ZM-74.6,-40.9H-72.2V-38.7H-74.6ZM-70.2,-40.9H-67.8V-38.7H-70.2ZM-65.7,-40.9H-63.3V-38.7H-65.7ZM116.9,-40.9H119.3V-38.7H116.9ZM-69.5,-42.9H-67.2V-40.7H-69.5ZM120.3,-42.9H122.7V-40.7H120.3ZM124.7,-42.9H127.1V-40.7H124.7ZM123.6,-44.9H125.9V-42.8H123.6ZM-57.4,-46.9H-55.0V-44.8H-57.4ZM-54.6,-49.0H-52.3V-46.8H-54.6ZM112.4,-49.0H114.7V-46.8H112.4ZM-102.6,-51.0H-98.3V-48.8H-102.6ZM-62.4,-51.0H-60.2V-48.8H-62.4ZM-51.9,-51.0H-47.5V-48.8H-51.9ZM9.5,-51.0H11.8V-48.8H9.5ZM113.2,-51.0H115.5V-48.8H113.2ZM-103.5,-53.0H-101.3V-50.8H-103.5ZM-97.2,-53.0H-95.0V-50.8H-97.2ZM-65.9,-53.0H-61.5V-50.8H-65.9ZM103.5,-53.0H105.7V-50.8H103.5ZM114.0,-53.0H116.2V-50.8H114.0ZM-106.3,-54.9H-104.1V-52.8H-106.3ZM-54.7,-54.9H-52.5V-52.8H-54.7ZM-48.5,-54.9H-46.3V-52.8H-48.5ZM-106.9,-56.9H-104.7V-54.8H-106.9ZM-94.7,-56.9H-92.5V-54.8H-94.7ZM-78.4,-56.9H-76.2V-54.8H-78.4ZM-74.3,-56.9H-72.1V-54.8H-74.3ZM-64.1,-56.9H-61.9V-54.8H-64.1ZM80.4,-56.9H84.6V-54.8H80.4ZM100.8,-56.9H102.9V-54.8H100.8ZM-105.3,-58.8H-103.1V-56.7H-105.3ZM-91.2,-58.8H-89.1V-56.7H-91.2ZM-85.2,-58.8H-83.1V-56.7H-85.2ZM-69.2,-58.8H-67.0V-56.7H-69.2ZM85.2,-58.8H87.4V-56.7H85.2ZM101.3,-58.8H103.4V-56.7H101.3ZM105.3,-58.8H107.4V-56.7H105.3ZM109.3,-58.8H111.4V-56.7H109.3ZM-105.6,-60.7H-103.5V-58.7H-105.6ZM12.8,-60.7H16.9V-58.7H12.8ZM66.1,-60.7H68.3V-58.7H66.1ZM85.9,-60.7H88.0V-58.7H85.9ZM99.7,-60.7H101.8V-58.7H99.7ZM18.4,-62.6H20.5V-60.6H18.4ZM22.3,-62.6H24.4V-60.6H22.3ZM34.0,-62.6H36.1V-60.6H34.0ZM100.0,-62.6H102.1V-60.6H100.0ZM-105.9,-64.5H-103.8V-62.5H-105.9ZM4.8,-64.5H6.8V-62.5H4.8ZM27.7,-64.5H29.7V-62.5H27.7ZM48.7,-64.5H52.6V-62.5H48.7ZM73.5,-64.5H75.5V-62.5H73.5ZM81.1,-64.5H83.1V-62.5H81.1ZM109.7,-64.5H111.8V-62.5H109.7ZM-122.7,-66.4H-120.7V-64.4H-122.7ZM-111.5,-66.4H-107.6V-64.4H-111.5ZM-87.1,-66.4H-85.1V-64.4H-87.1ZM4.7,-66.4H6.7V-64.4H4.7ZM66.5,-66.4H68.5V-64.4H66.5ZM105.9,-66.4H109.8V-64.4H105.9ZM-122.3,-68.2H-116.6V-66.2H-122.3ZM56.1,-68.2H58.1V-66.2H56.1ZM59.7,-68.2H61.7V-66.2H59.7ZM103.9,-68.2H105.9V-66.2H103.9ZM-101.8,-70.0H-99.9V-68.0H-101.8ZM-92.8,-70.0H-90.9V-68.0H-92.8ZM35.1,-70.0H37.1V-68.0H35.1ZM47.8,-70.0H49.7V-68.0H47.8ZM74.8,-70.0H76.8V-68.0H74.8ZM-105.1,-71.7H-103.2V-69.8H-105.1ZM25.6,-71.7H27.5V-69.8H25.6ZM71.5,-71.7H75.2V-69.8H71.5ZM80.4,-71.7H82.3V-69.8H80.4ZM85.7,-71.7H89.3V-69.8H85.7ZM96.2,-71.7H98.2V-69.8H96.2ZM115.7,-71.7H117.6V-69.8H115.7ZM14.7,-73.5H18.3V-71.6H14.7ZM19.9,-73.5H21.8V-71.6H19.9ZM85.6,-73.5H87.4V-71.6H85.6ZM61.7,-75.1H63.5V-73.3H61.7ZM66.8,-75.1H68.6V-73.3H66.8Z"/><path fill="#ff0000" d="M144.5,46.9H146.8V49.1H144.5ZM146.1,44.9H150.6V47.1H146.1ZM149.8,42.9H152.1V45.1H149.8ZM-55.5,14.3H-53.0V16.5H-55.5ZM-55.6,12.3H-53.1V14.5H-55.6ZM-67.5,10.2H-62.7V12.4H-67.5ZM-58.1,10.2H-55.5V12.4H-58.1ZM-53.3,10.2H-50.8V12.4H-53.3ZM133.9,10.2H138.8V12.4H133.9ZM-67.7,8.2H-50.9V10.4H-67.7ZM129.4,8.2H131.9V10.4H129.4ZM-70.1,6.1H-67.6V8.3H-70.1ZM-63.0,6.1H-60.5V8.3H-63.0ZM-55.9,6.1H-53.3V8.3H-55.9ZM124.8,6.1H139.2V8.3H124.8ZM143.8,6.1H146.3V8.3H143.8ZM-72.6,4.1H-67.6V6.3H-72.6ZM-63.0,4.1H-51.0V6.3H-63.0ZM129.6,4.1H139.3V6.3H129.6ZM-70.2,2.0H-67.7V4.2H-70.2ZM-55.9,2.0H-53.4V4.2H-55.9ZM-51.2,2.0H-48.7V4.2H-51.2ZM15.5,2.0H20.4V4.2H15.5ZM22.6,2.0H27.5V4.2H22.6ZM105.9,2.0H108.5V4.2H105.9ZM113.1,2.0H115.6V4.2H113.1ZM129.7,2.0H132.3V4.2H129.7ZM139.3,2.0H141.8V4.2H139.3ZM-72.6,0.0H-67.7V2.2H-72.6ZM-60.7,0.0H-55.8V2.2H-60.7ZM-51.2,0.0H-48.7V2.2H-51.2ZM10.7,0.0H13.2V2.2H10.7ZM17.9,0.0H22.8V2.2H17.9ZM108.4,0.0H115.7V2.2H108.4ZM127.4,0.0H132.3V2.2H127.4ZM-72.6,-2.0H-55.8V0.1H-72.6ZM10.7,-2.0H13.2V0.1H10.7ZM20.2,-2.0H22.8V0.1H20.2ZM25.0,-2.0H27.5V0.1H25.0ZM106.0,-2.0H113.3V0.1H106.0ZM-75.0,-4.1H-72.5V-1.9H-75.0ZM-70.2,-4.1H-65.3V-1.9H-70.2ZM-63.1,-4.1H-53.4V-1.9H-63.1ZM15.5,-4.1H18.0V-1.9H15.5ZM25.0,-4.1H27.5V-1.9H25.0ZM96.4,-4.1H98.9V-1.9H96.4ZM105.9,-4.1H108.5V-1.9H105.9ZM-72.6,-6.1H-70.0V-3.9H-72.6ZM-67.8,-6.1H-62.9V-3.9H-67.8ZM-60.7,-6.1H-58.1V-3.9H-60.7ZM-55.9,-6.1H-53.4V-3.9H-55.9ZM10.7,-6.1H13.2V-3.9H10.7ZM94.0,-6.1H96.5V-3.9H94.0ZM110.6,-6.1H113.1V-3.9H110.6ZM-70.1,-8.2H-65.2V-6.0H-70.1ZM115.0,-12.3H117.5V-10.1H115.0ZM114.7,-14.3H117.3V-12.1H114.7ZM100.1,-18.4H102.6V-16.2H100.1ZM92.7,-20.4H95.2V-18.2H92.7ZM92.4,-22.5H94.9V-20.3H92.4ZM99.4,-22.5H101.9V-20.3H99.4ZM98.8,-26.6H101.2V-24.4H98.8ZM93.3,-30.7H98.1V-28.5H93.3ZM92.8,-32.7H95.2V-30.5H92.8ZM-78.6,-34.7H-73.9V-32.5H-78.6ZM99.1,-34.7H101.5V-32.5H99.1ZM-73.5,-36.8H-71.1V-34.6H-73.5ZM-69.0,-36.8H-66.6V-34.6H-69.0ZM118.7,-36.8H121.2V-34.6H118.7ZM-77.5,-38.8H-66.1V-36.6H-77.5ZM120.1,-38.8H122.5V-36.6H120.1ZM119.1,-40.9H121.5V-38.7H119.1ZM123.6,-40.9H126.0V-38.7H123.6ZM-65.1,-42.9H-60.6V-40.7H-65.1ZM122.5,-42.9H124.9V-40.7H122.5ZM-66.7,-44.9H-62.2V-42.8H-66.7ZM-60.1,-44.9H-57.8V-42.8H-60.1ZM-66.0,-46.9H-63.7V-44.8H-66.0ZM-61.7,-46.9H-57.2V-44.8H-61.7ZM-63.2,-49.0H-56.6V-46.8H-63.2ZM108.1,-49.0H112.5V-46.8H108.1ZM-56.1,-51.0H-53.8V-48.8H-56.1ZM106.9,-51.0H109.1V-48.8H106.9ZM-101.4,-53.0H-99.2V-50.8H-101.4ZM105.6,-53.0H107.8V-50.8H105.6ZM-100.1,-54.9H-97.9V-52.8H-100.1ZM-96.0,-54.9H-93.8V-52.8H-96.0ZM-73.3,-54.9H-62.8V-52.8H-73.3ZM-60.9,-54.9H-54.6V-52.8H-60.9ZM-52.6,-54.9H-50.4V-52.8H-52.6ZM102.2,-54.9H104.4V-52.8H102.2ZM110.4,-54.9H114.7V-52.8H110.4ZM-100.8,-56.9H-94.5V-54.8H-100.8ZM-76.3,-56.9H-74.1V-54.8H-76.3ZM-68.2,-56.9H-66.0V-54.8H-68.2ZM102.8,-56.9H109.1V-54.8H102.8ZM110.9,-56.9H113.1V-54.8H110.9ZM-103.3,-58.8H-101.1V-56.7H-103.3ZM-99.3,-58.8H-97.1V-56.7H-99.3ZM-95.3,-58.8H-91.1V-56.7H-95.3ZM-83.2,-58.8H-81.1V-56.7H-83.2ZM-73.2,-58.8H-71.0V-56.7H-73.2ZM73.2,-58.8H79.4V-56.7H73.2ZM83.2,-58.8H85.4V-56.7H83.2ZM103.3,-58.8H105.4V-56.7H103.3ZM107.3,-58.8H109.4V-56.7H107.3ZM-103.6,-60.7H-101.5V-58.7H-103.6ZM-95.7,-60.7H-93.6V-58.7H-95.7ZM-89.8,-60.7H-83.7V-58.7H-89.8ZM-76.0,-60.7H-73.9V-58.7H-76.0ZM-72.0,-60.7H-69.9V-58.7H-72.0ZM70.1,-60.7H74.2V-58.7H70.1ZM76.0,-60.7H78.1V-58.7H76.0ZM81.9,-60.7H84.0V-58.7H81.9ZM-103.9,-62.6H-99.8V-60.6H-103.9ZM-96.1,-62.6H-92.1V-60.6H-96.1ZM-90.3,-62.6H-88.2V-60.6H-90.3ZM-76.7,-62.6H-72.7V-60.6H-76.7ZM8.7,-62.6H12.8V-60.6H8.7ZM16.5,-62.6H18.6V-60.6H16.5ZM20.4,-62.6H22.5V-60.6H20.4ZM35.9,-62.6H38.0V-60.6H35.9ZM39.8,-62.6H41.9V-60.6H39.8ZM43.7,-62.6H45.8V-60.6H43.7ZM53.4,-62.6H55.5V-60.6H53.4ZM57.3,-62.6H65.2V-60.6H57.3ZM74.7,-62.6H76.8V-60.6H74.7ZM84.5,-62.6H86.5V-60.6H84.5ZM-98.3,-64.5H-96.2V-62.5H-98.3ZM-84.9,-64.5H-82.8V-62.5H-84.9ZM-81.1,-64.5H-77.1V-62.5H-81.1ZM10.5,-64.5H12.6V-62.5H10.5ZM23.8,-64.5H27.8V-62.5H23.8ZM29.6,-64.5H31.6V-62.5H29.6ZM33.4,-64.5H35.4V-62.5H33.4ZM37.2,-64.5H39.3V-62.5H37.2ZM41.0,-64.5H45.0V-62.5H41.0ZM75.4,-64.5H81.2V-62.5H75.4ZM-113.3,-66.4H-111.3V-64.4H-113.3ZM-107.7,-66.4H-105.7V-64.4H-107.7ZM-85.2,-66.4H-83.2V-64.4H-85.2ZM14.1,-66.4H16.1V-64.4H14.1ZM19.7,-66.4H21.7V-64.4H19.7ZM25.3,-66.4H29.2V-64.4H25.3ZM34.7,-66.4H36.7V-64.4H34.7ZM47.8,-66.4H49.8V-64.4H47.8ZM53.4,-66.4H57.3V-64.4H53.4ZM60.9,-66.4H66.7V-64.4H60.9ZM68.4,-66.4H74.2V-64.4H68.4ZM-114.9,-68.2H-109.2V-66.2H-114.9ZM-92.8,-68.2H-87.2V-66.2H-92.8ZM6.4,-68.2H8.4V-66.2H6.4ZM13.8,-68.2H15.8V-66.2H13.8ZM35.8,-68.2H37.8V-66.2H35.8ZM46.9,-68.2H48.9V-66.2H46.9ZM50.6,-68.2H54.4V-66.2H50.6ZM57.9,-68.2H59.9V-66.2H57.9ZM61.6,-68.2H63.6V-66.2H61.6ZM-105.4,-70.0H-101.7V-68.0H-105.4ZM-100.0,-70.0H-92.7V-68.0H-100.0ZM8.1,-70.0H11.9V-68.0H8.1ZM20.7,-70.0H22.7V-68.0H20.7ZM27.9,-70.0H35.3V-68.0H27.9ZM37.0,-70.0H47.9V-68.0H37.0ZM-115.7,-71.7H-113.8V-69.8H-115.7ZM-110.4,-71.7H-104.9V-69.8H-110.4ZM9.7,-71.7H11.6V-69.8H9.7ZM15.0,-71.7H16.9V-69.8H15.0ZM22.1,-71.7H25.8V-69.8H22.1ZM75.1,-71.7H77.0V-69.8H75.1ZM89.2,-71.7H91.1V-69.8H89.2ZM9.5,-73.5H14.8V-71.6H9.5ZM18.2,-73.5H20.0V-71.6H18.2ZM73.5,-73.5H75.3V-71.6H73.5Z"/><path fill="#d7282d" d="M138.7,10.2H141.2V12.4H138.7ZM134.1,8.2H143.8V10.4H134.1ZM-67.7,6.1H-62.8V8.3H-67.7ZM-60.6,6.1H-58.1V8.3H-60.6ZM139.0,6.1H143.9V8.3H139.0ZM-67.8,4.1H-62.9V6.3H-67.8ZM124.9,4.1H129.8V6.3H124.9ZM139.2,4.1H144.1V6.3H139.2ZM-67.8,2.0H-55.8V4.2H-67.8ZM125.0,2.0H129.9V4.2H125.0ZM-67.9,0.0H-60.6V2.2H-67.9ZM15.5,0.0H18.0V2.2H15.5ZM22.6,0.0H27.5V2.2H22.6ZM13.1,-2.0H18.0V0.1H13.1ZM-72.6,-4.1H-70.1V-1.9H-72.6ZM-65.5,-4.1H-62.9V-1.9H-65.5ZM10.7,-4.1H15.6V-1.9H10.7ZM-74.9,-6.1H-72.4V-3.9H-74.9ZM-63.0,-6.1H-60.5V-3.9H-63.0ZM105.9,-6.1H108.4V-3.9H105.9ZM122.4,-38.8H124.7V-36.6H122.4ZM-67.9,-40.9H-65.5V-38.7H-67.9ZM121.4,-40.9H123.8V-38.7H121.4ZM-67.3,-42.9H-65.0V-40.7H-67.3ZM-62.3,-44.9H-60.0V-42.8H-62.3ZM-63.8,-46.9H-61.5V-44.8H-63.8ZM-56.7,-49.0H-54.4V-46.8H-56.7ZM-60.3,-51.0H-55.9V-48.8H-60.3ZM-54.0,-51.0H-51.7V-48.8H-54.0ZM109.0,-51.0H113.4V-48.8H109.0ZM-99.3,-53.0H-97.1V-50.8H-99.3ZM-61.7,-53.0H-46.9V-50.8H-61.7ZM107.7,-53.0H114.1V-50.8H107.7ZM-104.2,-54.9H-100.0V-52.8H-104.2ZM-98.1,-54.9H-95.8V-52.8H-98.1ZM-63.0,-54.9H-60.7V-52.8H-63.0ZM-50.6,-54.9H-48.4V-52.8H-50.6ZM104.2,-54.9H110.6V-52.8H104.2ZM-104.8,-56.9H-100.6V-54.8H-104.8ZM-72.3,-56.9H-68.0V-54.8H-72.3ZM-66.2,-56.9H-64.0V-54.8H-66.2ZM108.9,-56.9H111.1V-54.8H108.9ZM-101.3,-58.8H-99.1V-56.7H-101.3ZM-97.3,-58.8H-95.1V-56.7H-97.3ZM-81.2,-58.8H-73.0V-56.7H-81.2ZM-71.2,-58.8H-69.0V-56.7H-71.2ZM79.2,-58.8H83.4V-56.7H79.2ZM-101.7,-60.7H-95.6V-58.7H-101.7ZM-93.8,-60.7H-89.7V-58.7H-93.8ZM-83.9,-60.7H-75.8V-58.7H-83.9ZM-74.0,-60.7H-71.9V-58.7H-74.0ZM68.1,-60.7H70.2V-58.7H68.1ZM74.0,-60.7H76.1V-58.7H74.0ZM78.0,-60.7H82.1V-58.7H78.0ZM83.9,-60.7H86.0V-58.7H83.9ZM-100.0,-62.6H-95.9V-60.6H-100.0ZM-92.2,-62.6H-90.1V-60.6H-92.2ZM-88.3,-62.6H-76.5V-60.6H-88.3ZM12.6,-62.6H16.7V-60.6H12.6ZM37.9,-62.6H39.9V-60.6H37.9ZM41.7,-62.6H43.8V-60.6H41.7ZM45.6,-62.6H47.7V-60.6H45.6ZM55.3,-62.6H57.4V-60.6H55.3ZM65.0,-62.6H74.9V-60.6H65.0ZM76.7,-62.6H84.6V-60.6H76.7ZM-104.0,-64.5H-98.1V-62.5H-104.0ZM-96.3,-64.5H-84.8V-62.5H-96.3ZM-83.0,-64.5H-80.9V-62.5H-83.0ZM6.7,-64.5H10.6V-62.5H6.7ZM12.4,-64.5H24.0V-62.5H12.4ZM31.5,-64.5H33.5V-62.5H31.5ZM35.3,-64.5H37.4V-62.5H35.3ZM39.1,-64.5H41.2V-62.5H39.1ZM44.8,-64.5H48.8V-62.5H44.8ZM52.5,-64.5H73.6V-62.5H52.5ZM-105.9,-66.4H-87.0V-64.4H-105.9ZM6.6,-66.4H14.2V-64.4H6.6ZM15.9,-66.4H19.8V-64.4H15.9ZM21.5,-66.4H25.4V-64.4H21.5ZM29.0,-66.4H34.8V-64.4H29.0ZM36.5,-66.4H47.9V-64.4H36.5ZM49.6,-66.4H53.5V-64.4H49.6ZM57.1,-66.4H61.0V-64.4H57.1ZM-116.7,-68.2H-114.7V-66.2H-116.7ZM-109.4,-68.2H-92.7V-66.2H-109.4ZM8.3,-68.2H13.9V-66.2H8.3ZM15.6,-68.2H36.0V-66.2H15.6ZM37.7,-68.2H47.0V-66.2H37.7ZM48.7,-68.2H50.7V-66.2H48.7ZM-118.1,-70.0H-105.3V-68.0H-118.1ZM11.7,-70.0H20.9V-68.0H11.7ZM22.5,-70.0H28.1V-68.0H22.5ZM-113.9,-71.7H-110.2V-69.8H-113.9ZM11.5,-71.7H15.2V-69.8H11.5ZM16.8,-71.7H22.2V-69.8H16.8Z"/></g><use href="#cst"/><use href="#frm"/></g><g transform="translate(174.9,497.25)"><g clip-path="url(#lc)" shape-rendering="crispEdges"><path fill="#3c64e6" d="M1.1,-51.0H5.4V-48.8H1.1ZM3.1,-53.0H7.5V-50.8H3.1ZM-106.3,-54.9H-104.1V-52.8H-106.3ZM1.0,-54.9H3.2V-52.8H1.0ZM5.2,-54.9H7.4V-52.8H5.2ZM-105.3,-58.8H-103.1V-56.7H-105.3ZM7.0,-58.8H9.2V-56.7H7.0ZM18.9,-70.0H22.7V-68.0H18.9Z"/><path fill="#2090ff" d="M-63.2,-49.0H-58.7V-46.8H-63.2ZM3.2,-49.0H5.5V-46.8H3.2ZM5.3,-51.0H7.6V-48.8H5.3ZM-107.7,-53.0H-103.4V-50.8H-107.7ZM-3.1,-54.9H-0.9V-52.8H-3.1ZM3.1,-54.9H5.3V-52.8H3.1ZM-104.8,-56.9H-102.6V-54.8H-104.8ZM-3.1,-56.9H-0.9V-54.8H-3.1ZM7.1,-56.9H11.3V-54.8H7.1ZM-107.3,-58.8H-105.1V-56.7H-107.3ZM-5.0,-58.8H-2.9V-56.7H-5.0ZM9.0,-58.8H11.2V-56.7H9.0ZM-107.6,-60.7H-103.5V-58.7H-107.6ZM8.9,-60.7H13.0V-58.7H8.9ZM-107.7,-62.6H-103.7V-60.6H-107.7ZM-88.3,-62.6H-86.2V-60.6H-88.3ZM8.7,-62.6H12.8V-60.6H8.7ZM123.3,-62.6H125.4V-60.6H123.3ZM12.4,-64.5H14.5V-62.5H12.4ZM16.2,-64.5H18.3V-62.5H16.2ZM21.5,-66.4H25.4V-64.4H21.5ZM6.4,-68.2H12.1V-66.2H6.4ZM19.3,-68.2H23.1V-66.2H19.3ZM-15.3,-70.0H-11.6V-68.0H-15.3ZM17.1,-70.0H19.1V-68.0H17.1ZM37.0,-70.0H38.9V-68.0H37.0ZM9.7,-71.7H11.6V-69.8H9.7ZM16.8,-71.7H22.2V-69.8H16.8ZM27.4,-71.7H29.3V-69.8H27.4Z"/><path fill="#00b4ff" d="M-63.8,-46.9H-61.5V-44.8H-63.8ZM-65.3,-49.0H-63.0V-46.8H-65.3ZM1.1,-49.0H3.4V-46.8H1.1ZM5.4,-49.0H7.6V-46.8H5.4ZM-62.4,-51.0H-60.2V-48.8H-62.4ZM-1.1,-51.0H1.2V-48.8H-1.1ZM-55.4,-53.0H-53.2V-50.8H-55.4ZM-49.1,-53.0H-46.9V-50.8H-49.1ZM-3.1,-53.0H3.3V-50.8H-3.1ZM7.3,-53.0H9.6V-50.8H7.3ZM-104.2,-54.9H-102.0V-52.8H-104.2ZM-54.7,-54.9H-52.5V-52.8H-54.7ZM-48.5,-54.9H-46.3V-52.8H-48.5ZM-7.2,-54.9H-5.0V-52.8H-7.2ZM-1.0,-54.9H1.2V-52.8H-1.0ZM7.2,-54.9H9.4V-52.8H7.2ZM-106.9,-56.9H-104.7V-54.8H-106.9ZM-9.2,-56.9H-7.0V-54.8H-9.2ZM-5.1,-56.9H-2.9V-54.8H-5.1ZM-1.0,-56.9H7.3V-54.8H-1.0ZM11.2,-56.9H13.4V-54.8H11.2ZM-9.0,-58.8H-4.9V-56.7H-9.0ZM-3.0,-58.8H-0.9V-56.7H-3.0ZM3.0,-58.8H7.2V-56.7H3.0ZM11.0,-58.8H13.2V-56.7H11.0ZM-103.6,-60.7H-101.5V-58.7H-103.6ZM-8.9,-60.7H-2.8V-58.7H-8.9ZM4.9,-60.7H9.0V-58.7H4.9ZM14.8,-60.7H16.9V-58.7H14.8ZM-103.9,-62.6H-101.8V-60.6H-103.9ZM-92.2,-62.6H-90.1V-60.6H-92.2ZM-86.4,-62.6H-84.3V-60.6H-86.4ZM-68.9,-62.6H-66.8V-60.6H-68.9ZM-6.8,-62.6H-4.7V-60.6H-6.8ZM-2.9,-62.6H-0.8V-60.6H-2.9ZM4.9,-62.6H8.9V-60.6H4.9ZM12.6,-62.6H16.7V-60.6H12.6ZM109.7,-62.6H111.8V-60.6H109.7ZM-102.1,-64.5H-98.1V-62.5H-102.1ZM-83.0,-64.5H-79.0V-62.5H-83.0ZM8.6,-64.5H10.6V-62.5H8.6ZM14.3,-64.5H16.4V-62.5H14.3ZM18.1,-64.5H20.2V-62.5H18.1ZM21.9,-64.5H24.0V-62.5H21.9ZM84.9,-64.5H87.0V-62.5H84.9ZM121.2,-64.5H123.2V-62.5H121.2ZM128.8,-64.5H130.8V-62.5H128.8ZM-100.2,-66.4H-98.2V-64.4H-100.2ZM-81.5,-66.4H-75.7V-64.4H-81.5ZM8.4,-66.4H21.7V-64.4H8.4ZM25.3,-66.4H27.3V-64.4H25.3ZM40.3,-66.4H42.3V-64.4H40.3ZM94.6,-66.4H96.6V-64.4H94.6ZM-107.5,-68.2H-105.6V-66.2H-107.5ZM11.9,-68.2H19.5V-66.2H11.9ZM23.0,-68.2H26.8V-66.2H23.0ZM34.0,-68.2H37.8V-66.2H34.0ZM41.4,-68.2H45.2V-66.2H41.4ZM59.7,-68.2H61.7V-66.2H59.7ZM98.4,-68.2H100.3V-66.2H98.4ZM-92.8,-70.0H-90.9V-68.0H-92.8ZM-89.2,-70.0H-87.3V-68.0H-89.2ZM-17.1,-70.0H-15.2V-68.0H-17.1ZM-11.7,-70.0H-8.0V-68.0H-11.7ZM6.3,-70.0H10.1V-68.0H6.3ZM11.7,-70.0H15.5V-68.0H11.7ZM24.3,-70.0H28.1V-68.0H24.3ZM29.7,-70.0H31.7V-68.0H29.7ZM105.4,-70.0H107.4V-68.0H105.4ZM-108.6,-71.7H-106.7V-69.8H-108.6ZM7.9,-71.7H9.9V-69.8H7.9ZM11.5,-71.7H16.9V-69.8H11.5ZM22.1,-71.7H27.5V-69.8H22.1ZM29.1,-71.7H31.1V-69.8H29.1ZM34.4,-71.7H38.1V-69.8H34.4ZM108.6,-71.7H110.5V-69.8H108.6ZM-116.7,-73.5H-114.8V-71.6H-116.7ZM11.2,-73.5H16.6V-71.6H11.2ZM21.6,-73.5H25.2V-71.6H21.6ZM38.9,-73.5H40.8V-71.6H38.9ZM104.6,-73.5H106.5V-71.6H104.6ZM113.2,-73.5H115.1V-71.6H113.2ZM82.0,-75.1H83.8V-73.3H82.0ZM90.4,-75.1H92.3V-73.3H90.4ZM98.9,-75.1H100.7V-73.3H98.9ZM102.3,-75.1H107.5V-73.3H102.3ZM115.8,-75.1H117.6V-73.3H115.8ZM101.5,-76.8H104.9V-75.0H101.5ZM76.3,-78.4H78.1V-76.6H76.3Z"/><path fill="#5abef0" d="M109.7,34.7H112.1V36.9H109.7ZM117.3,32.7H122.0V34.9H117.3ZM122.6,30.7H125.0V32.8H122.6ZM123.2,28.6H125.7V30.8H123.2ZM110.8,22.5H113.3V24.7H110.8ZM113.8,18.4H116.3V20.6H113.8ZM137.7,16.3H140.2V18.5H137.7ZM-39.1,10.2H-36.6V12.4H-39.1ZM27.4,4.1H29.9V6.3H27.4ZM32.1,-6.1H34.6V-3.9H32.1ZM50.0,-26.6H54.8V-24.4H50.0ZM78.6,-34.7H83.3V-32.5H78.6ZM85.4,-34.7H87.8V-32.5H85.4ZM80.3,-36.8H91.7V-34.6H80.3ZM46.0,-38.8H48.4V-36.6H46.0ZM75.2,-38.8H77.6V-36.6H75.2ZM79.7,-38.8H86.6V-36.6H79.7ZM88.7,-38.8H93.3V-36.6H88.7ZM-101.3,-40.9H-99.0V-38.7H-101.3ZM61.2,-40.9H63.6V-38.7H61.2ZM83.5,-40.9H85.9V-38.7H83.5ZM-103.9,-44.9H-97.2V-42.8H-103.9ZM47.0,-44.9H49.4V-42.8H47.0ZM66.7,-44.9H69.0V-42.8H66.7ZM-66.0,-46.9H-63.7V-44.8H-66.0ZM-67.4,-49.0H-65.1V-46.8H-67.4ZM-56.7,-49.0H-52.3V-46.8H-56.7ZM-1.1,-49.0H1.2V-46.8H-1.1ZM48.2,-49.0H50.5V-46.8H48.2ZM101.7,-49.0H104.0V-46.8H101.7ZM-64.5,-51.0H-62.3V-48.8H-64.5ZM-60.3,-51.0H-58.0V-48.8H-60.3ZM-56.1,-51.0H-53.8V-48.8H-56.1ZM-49.7,-51.0H-47.5V-48.8H-49.7ZM-3.2,-51.0H-0.9V-48.8H-3.2ZM37.0,-51.0H41.4V-48.8H37.0ZM62.4,-51.0H64.7V-48.8H62.4ZM100.5,-51.0H102.8V-48.8H100.5ZM-72.1,-53.0H-69.9V-50.8H-72.1ZM-63.8,-53.0H-55.3V-50.8H-63.8ZM-51.2,-53.0H-49.0V-50.8H-51.2ZM49.1,-53.0H51.4V-50.8H49.1ZM65.9,-53.0H70.2V-50.8H65.9ZM-46.4,-54.9H-44.2V-52.8H-46.4ZM-9.3,-54.9H-7.1V-52.8H-9.3ZM-5.2,-54.9H-2.9V-52.8H-5.2ZM9.3,-54.9H11.5V-52.8H9.3ZM87.7,-54.9H89.9V-52.8H87.7ZM-102.8,-56.9H-100.6V-54.8H-102.8ZM-76.3,-56.9H-74.1V-54.8H-76.3ZM-70.2,-56.9H-66.0V-54.8H-70.2ZM-51.9,-56.9H-49.7V-54.8H-51.9ZM-47.8,-56.9H-45.7V-54.8H-47.8ZM-7.1,-56.9H-4.9V-54.8H-7.1ZM-103.3,-58.8H-101.1V-56.7H-103.3ZM-99.3,-58.8H-95.1V-56.7H-99.3ZM-75.2,-58.8H-71.0V-56.7H-75.2ZM-69.2,-58.8H-67.0V-56.7H-69.2ZM-63.2,-58.8H-61.0V-56.7H-63.2ZM-59.2,-58.8H-57.0V-56.7H-59.2ZM-53.1,-58.8H-49.0V-56.7H-53.1ZM-1.0,-58.8H1.2V-56.7H-1.0ZM121.3,-58.8H123.5V-56.7H121.3ZM-109.6,-60.7H-107.4V-58.7H-109.6ZM-97.7,-60.7H-95.6V-58.7H-97.7ZM-76.0,-60.7H-73.9V-58.7H-76.0ZM-72.0,-60.7H-66.0V-58.7H-72.0ZM-62.2,-60.7H-58.1V-58.7H-62.2ZM-50.3,-60.7H-48.2V-58.7H-50.3ZM-3.0,-60.7H-0.8V-58.7H-3.0ZM12.8,-60.7H15.0V-58.7H12.8ZM91.8,-60.7H93.9V-58.7H91.8ZM125.3,-60.7H131.4V-58.7H125.3ZM-109.7,-62.6H-107.6V-60.6H-109.7ZM-100.0,-62.6H-97.9V-60.6H-100.0ZM-96.1,-62.6H-92.1V-60.6H-96.1ZM-90.3,-62.6H-88.2V-60.6H-90.3ZM-84.5,-62.6H-78.5V-60.6H-84.5ZM-76.7,-62.6H-74.6V-60.6H-76.7ZM-70.9,-62.6H-68.8V-60.6H-70.9ZM-65.0,-62.6H-62.9V-60.6H-65.0ZM-61.2,-62.6H-59.1V-60.6H-61.2ZM-4.9,-62.6H-2.8V-60.6H-4.9ZM16.5,-62.6H20.5V-60.6H16.5ZM84.5,-62.6H90.4V-60.6H84.5ZM94.2,-62.6H96.2V-60.6H94.2ZM107.7,-62.6H109.8V-60.6H107.7ZM121.3,-62.6H123.4V-60.6H121.3ZM125.2,-62.6H133.1V-60.6H125.2ZM-98.3,-64.5H-96.2V-62.5H-98.3ZM-92.5,-64.5H-90.5V-62.5H-92.5ZM-88.7,-64.5H-84.8V-62.5H-88.7ZM-79.2,-64.5H-75.2V-62.5H-79.2ZM-73.5,-64.5H-71.4V-62.5H-73.5ZM4.8,-64.5H8.7V-62.5H4.8ZM10.5,-64.5H12.6V-62.5H10.5ZM20.0,-64.5H22.1V-62.5H20.0ZM23.8,-64.5H25.9V-62.5H23.8ZM39.1,-64.5H43.1V-62.5H39.1ZM77.3,-64.5H79.3V-62.5H77.3ZM81.1,-64.5H83.1V-62.5H81.1ZM86.8,-64.5H88.9V-62.5H86.8ZM100.2,-64.5H102.2V-62.5H100.2ZM117.3,-64.5H119.4V-62.5H117.3ZM123.1,-64.5H127.0V-62.5H123.1ZM-111.5,-66.4H-109.5V-64.4H-111.5ZM-102.1,-66.4H-100.1V-64.4H-102.1ZM-96.5,-66.4H-90.7V-64.4H-96.5ZM-75.9,-66.4H-72.0V-64.4H-75.9ZM4.7,-66.4H8.6V-64.4H4.7ZM27.2,-66.4H29.2V-64.4H27.2ZM42.2,-66.4H44.2V-64.4H42.2ZM59.0,-66.4H61.0V-64.4H59.0ZM66.5,-66.4H70.4V-64.4H66.5ZM74.0,-66.4H77.9V-64.4H74.0ZM83.4,-66.4H85.4V-64.4H83.4ZM100.2,-66.4H102.3V-64.4H100.2ZM105.9,-66.4H109.8V-64.4H105.9ZM111.5,-66.4H113.5V-64.4H111.5ZM115.2,-66.4H117.2V-64.4H115.2ZM124.6,-66.4H128.5V-64.4H124.6ZM-124.1,-68.2H-120.3V-66.2H-124.1ZM-118.6,-68.2H-116.6V-66.2H-118.6ZM-111.2,-68.2H-109.2V-66.2H-111.2ZM-105.7,-68.2H-103.7V-66.2H-105.7ZM-96.5,-68.2H-94.5V-66.2H-96.5ZM-92.8,-68.2H-89.0V-66.2H-92.8ZM-81.8,-68.2H-78.0V-66.2H-81.8ZM4.6,-68.2H6.6V-66.2H4.6ZM26.7,-68.2H34.2V-66.2H26.7ZM37.7,-68.2H41.5V-66.2H37.7ZM45.0,-68.2H47.0V-66.2H45.0ZM48.7,-68.2H50.7V-66.2H48.7ZM61.6,-68.2H67.3V-66.2H61.6ZM68.9,-68.2H70.9V-66.2H68.9ZM72.6,-68.2H76.4V-66.2H72.6ZM83.6,-68.2H85.6V-66.2H83.6ZM91.0,-68.2H93.0V-66.2H91.0ZM94.7,-68.2H96.7V-66.2H94.7ZM100.2,-68.2H102.2V-66.2H100.2ZM105.7,-68.2H107.7V-66.2H105.7ZM111.2,-68.2H113.2V-66.2H111.2ZM122.3,-68.2H124.2V-66.2H122.3ZM-127.1,-70.0H-125.1V-68.0H-127.1ZM-119.9,-70.0H-117.9V-68.0H-119.9ZM-109.1,-70.0H-107.1V-68.0H-109.1ZM-105.4,-70.0H-103.5V-68.0H-105.4ZM-100.0,-70.0H-98.1V-68.0H-100.0ZM-94.6,-70.0H-92.7V-68.0H-94.6ZM-91.0,-70.0H-89.1V-68.0H-91.0ZM-87.4,-70.0H-80.1V-68.0H-87.4ZM-18.9,-70.0H-17.0V-68.0H-18.9ZM9.9,-70.0H11.9V-68.0H9.9ZM15.3,-70.0H17.3V-68.0H15.3ZM22.5,-70.0H24.5V-68.0H22.5ZM27.9,-70.0H29.9V-68.0H27.9ZM31.5,-70.0H37.1V-68.0H31.5ZM40.6,-70.0H46.1V-68.0H40.6ZM60.4,-70.0H64.1V-68.0H60.4ZM73.0,-70.0H82.2V-68.0H73.0ZM85.6,-70.0H87.6V-68.0H85.6ZM89.2,-70.0H91.2V-68.0H89.2ZM100.0,-70.0H102.0V-68.0H100.0ZM107.3,-70.0H111.0V-68.0H107.3ZM119.9,-70.0H121.8V-68.0H119.9ZM-127.2,-71.7H-126.1V-69.8H-127.2ZM-117.4,-71.7H-115.5V-69.8H-117.4ZM-112.1,-71.7H-110.2V-69.8H-112.1ZM-106.8,-71.7H-103.2V-69.8H-106.8ZM-92.7,-71.7H-90.8V-69.8H-92.7ZM-85.7,-71.7H-83.7V-69.8H-85.7ZM30.9,-71.7H34.6V-69.8H30.9ZM60.9,-71.7H62.8V-69.8H60.9ZM66.2,-71.7H68.1V-69.8H66.2ZM71.5,-71.7H75.2V-69.8H71.5ZM78.6,-71.7H82.3V-69.8H78.6ZM83.9,-71.7H87.6V-69.8H83.9ZM96.2,-71.7H98.2V-69.8H96.2ZM101.5,-71.7H103.5V-69.8H101.5ZM105.1,-71.7H107.0V-69.8H105.1ZM119.2,-71.7H126.4V-69.8H119.2ZM-124.5,-73.5H-123.4V-71.6H-124.5ZM-120.1,-73.5H-116.5V-71.6H-120.1ZM-115.0,-73.5H-111.3V-71.6H-115.0ZM-104.6,-73.5H-101.0V-71.6H-104.6ZM7.8,-73.5H11.4V-71.6H7.8ZM16.4,-73.5H21.8V-71.6H16.4ZM52.7,-73.5H54.6V-71.6H52.7ZM56.2,-73.5H58.1V-71.6H56.2ZM61.4,-73.5H63.2V-71.6H61.4ZM68.3,-73.5H70.2V-71.6H68.3ZM80.4,-73.5H82.3V-71.6H80.4ZM85.6,-73.5H87.4V-71.6H85.6ZM95.9,-73.5H97.8V-71.6H95.9ZM101.1,-73.5H104.7V-71.6H101.1ZM106.3,-73.5H108.2V-71.6H106.3ZM118.4,-73.5H120.3V-71.6H118.4ZM123.6,-73.5H124.6V-71.6H123.6ZM66.8,-75.1H68.6V-73.3H66.8ZM78.6,-75.1H80.4V-73.3H78.6ZM85.4,-75.1H87.2V-73.3H85.4ZM88.7,-75.1H90.6V-73.3H88.7ZM92.1,-75.1H94.0V-73.3H92.1ZM95.5,-75.1H99.0V-73.3H95.5ZM100.6,-75.1H102.4V-73.3H100.6ZM107.3,-75.1H109.2V-73.3H107.3ZM110.7,-75.1H112.5V-73.3H110.7ZM56.9,-76.8H58.7V-75.0H56.9ZM60.2,-76.8H62.0V-75.0H60.2ZM73.4,-76.8H80.2V-75.0H73.4ZM88.3,-76.8H91.7V-75.0H88.3ZM94.9,-76.8H101.6V-75.0H94.9ZM63.5,-78.4H65.2V-76.6H63.5ZM66.7,-78.4H68.5V-76.6H66.7ZM73.1,-78.4H76.5V-76.6H73.1ZM82.8,-78.4H84.5V-76.6H82.8ZM94.0,-78.4H95.8V-76.6H94.0ZM71.0,-79.9H72.8V-78.2H71.0Z"/><path fill="#b4dcf0" d="M-65.0,53.0H-62.8V55.1H-65.0ZM-60.9,53.0H-56.6V55.1H-60.9ZM-65.9,51.0H-57.4V53.1H-65.9ZM-60.3,49.0H-53.8V51.1H-60.3ZM-61.7,44.9H-57.2V47.1H-61.7ZM-62.3,42.9H-57.8V45.1H-62.3ZM120.3,40.9H122.7V43.1H120.3ZM105.8,38.8H108.2V41.0H105.8ZM116.9,38.8H123.8V41.0H116.9ZM106.6,36.8H115.8V39.0H106.6ZM117.9,36.8H120.3V39.0H117.9ZM122.4,36.8H124.7V39.0H122.4ZM107.4,34.7H109.8V36.9H107.4ZM112.0,34.7H123.4V36.9H112.0ZM17.1,32.7H19.5V34.9H17.1ZM110.4,32.7H117.4V34.9H110.4ZM121.8,32.7H124.3V34.9H121.8ZM17.2,30.7H21.9V32.8H17.2ZM111.1,30.7H122.7V32.8H111.1ZM102.5,28.6H105.0V30.8H102.5ZM114.0,28.6H123.4V30.8H114.0ZM125.5,28.6H128.0V30.8H125.5ZM15.0,26.6H22.1V28.8H15.0ZM103.0,26.6H117.0V28.8H103.0ZM119.2,26.6H126.3V28.8H119.2ZM-61.6,24.5H-59.1V26.7H-61.6ZM15.1,24.5H24.6V26.7H15.1ZM103.4,24.5H124.5V26.7H103.4ZM-64.1,22.5H-61.7V24.7H-64.1ZM12.8,22.5H15.3V24.7H12.8ZM22.2,22.5H24.6V24.7H22.2ZM103.8,22.5H110.9V24.7H103.8ZM113.1,22.5H124.9V24.7H113.1ZM-62.0,20.4H-59.5V22.6H-62.0ZM12.9,20.4H15.4V22.6H12.9ZM22.2,20.4H24.7V22.6H22.2ZM104.1,20.4H120.7V22.6H104.1ZM122.8,20.4H125.3V22.6H122.8ZM141.6,20.4H144.1V22.6H141.6ZM-62.2,18.4H-59.7V20.6H-62.2ZM12.9,18.4H17.8V20.6H12.9ZM106.8,18.4H114.0V20.6H106.8ZM116.2,18.4H121.0V20.6H116.2ZM123.2,18.4H125.7V20.6H123.2ZM127.9,18.4H132.8V20.6H127.9ZM135.0,18.4H137.5V20.6H135.0ZM139.7,18.4H142.2V20.6H139.7ZM-62.4,16.3H-59.9V18.5H-62.4ZM15.3,16.3H20.2V18.5H15.3ZM111.8,16.3H123.8V18.5H111.8ZM135.4,16.3H137.9V18.5H135.4ZM-41.3,14.3H-38.8V16.5H-41.3ZM-36.6,14.3H-34.1V16.5H-36.6ZM17.7,14.3H20.2V16.5H17.7ZM121.6,14.3H126.4V16.5H121.6ZM133.4,14.3H135.9V16.5H133.4ZM138.1,14.3H140.6V16.5H138.1ZM-41.4,12.3H-38.9V14.5H-41.4ZM22.5,12.3H27.4V14.5H22.5ZM110.0,12.3H114.9V14.5H110.0ZM138.4,12.3H140.9V14.5H138.4ZM15.4,10.2H17.9V12.4H15.4ZM138.7,10.2H141.2V12.4H138.7ZM-41.5,8.2H-39.0V10.4H-41.5ZM-65.4,6.1H-62.8V8.3H-65.4ZM-39.2,6.1H-36.7V8.3H-39.2ZM-34.5,6.1H-31.9V8.3H-34.5ZM29.7,6.1H32.2V8.3H29.7ZM-72.6,4.1H-70.0V6.3H-72.6ZM-67.8,4.1H-62.9V6.3H-67.8ZM-39.3,4.1H-36.7V6.3H-39.3ZM-75.0,2.0H-72.5V4.2H-75.0ZM-70.2,2.0H-60.6V4.2H-70.2ZM39.3,0.0H41.8V2.2H39.3ZM-72.6,-2.0H-70.1V0.1H-72.6ZM-67.9,-2.0H-63.0V0.1H-67.9ZM36.9,-2.0H41.8V0.1H36.9ZM34.5,-4.1H37.0V-1.9H34.5ZM39.3,-4.1H46.6V-1.9H39.3ZM-63.0,-6.1H-60.5V-3.9H-63.0ZM39.3,-6.1H46.5V-3.9H39.3ZM34.5,-8.2H46.5V-6.0H34.5ZM39.2,-10.2H48.8V-8.0H39.2ZM12.9,-18.4H15.5V-16.2H12.9ZM34.1,-18.4H36.6V-16.2H34.1ZM38.8,-18.4H41.4V-16.2H38.8ZM43.4,-20.4H45.9V-18.2H43.4ZM3.5,-22.5H6.0V-20.3H3.5ZM8.2,-22.5H10.7V-20.3H8.2ZM12.9,-22.5H15.4V-20.3H12.9ZM33.9,-22.5H36.4V-20.3H33.9ZM38.6,-22.5H41.1V-20.3H38.6ZM43.3,-22.5H48.1V-20.3H43.3ZM-1.2,-24.5H6.0V-22.3H-1.2ZM22.2,-24.5H24.6V-22.3H22.2ZM40.8,-24.5H45.6V-22.3H40.8ZM50.1,-24.5H52.6V-22.3H50.1ZM54.8,-24.5H57.3V-22.3H54.8ZM24.4,-26.6H26.9V-24.4H24.4ZM38.3,-26.6H45.5V-24.4H38.3ZM54.6,-26.6H57.1V-24.4H54.6ZM-1.2,-28.6H1.3V-26.4H-1.2ZM3.5,-28.6H10.6V-26.4H3.5ZM19.7,-28.6H22.1V-26.4H19.7ZM40.5,-28.6H45.3V-26.4H40.5ZM54.4,-28.6H56.9V-26.4H54.4ZM-93.3,-30.7H-90.8V-28.5H-93.3ZM-5.8,-30.7H-3.3V-28.5H-5.8ZM-1.2,-30.7H8.2V-28.5H-1.2ZM35.7,-30.7H40.5V-28.5H35.7ZM47.2,-30.7H49.7V-28.5H47.2ZM-99.7,-32.7H-97.2V-30.5H-99.7ZM-12.6,-32.7H-10.2V-30.5H-12.6ZM1.1,-32.7H3.6V-30.5H1.1ZM12.6,-32.7H15.0V-30.5H12.6ZM24.1,-32.7H26.5V-30.5H24.1ZM33.2,-32.7H38.0V-30.5H33.2ZM40.1,-32.7H54.0V-30.5H40.1ZM56.1,-32.7H60.9V-30.5H56.1ZM-96.8,-34.7H-94.4V-32.5H-96.8ZM5.7,-34.7H8.1V-32.5H5.7ZM30.7,-34.7H33.2V-32.5H30.7ZM35.3,-34.7H40.0V-32.5H35.3ZM44.4,-34.7H49.1V-32.5H44.4ZM51.2,-34.7H58.2V-32.5H51.2ZM60.3,-34.7H65.0V-32.5H60.3ZM67.2,-34.7H69.6V-32.5H67.2ZM74.0,-34.7H76.4V-32.5H74.0ZM83.1,-34.7H85.5V-32.5H83.1ZM87.7,-34.7H94.7V-32.5H87.7ZM-98.4,-36.8H-96.0V-34.6H-98.4ZM21.5,-36.8H23.9V-34.6H21.5ZM30.5,-36.8H35.2V-34.6H30.5ZM37.3,-36.8H39.7V-34.6H37.3ZM41.8,-36.8H48.8V-34.6H41.8ZM75.8,-36.8H80.4V-34.6H75.8ZM91.6,-36.8H94.0V-34.6H91.6ZM-102.1,-38.8H-99.8V-36.6H-102.1ZM-97.7,-38.8H-93.0V-36.6H-97.7ZM32.6,-38.8H34.9V-36.6H32.6ZM39.3,-38.8H43.9V-36.6H39.3ZM57.2,-38.8H64.1V-36.6H57.2ZM66.2,-38.8H68.6V-36.6H66.2ZM70.7,-38.8H73.1V-36.6H70.7ZM77.5,-38.8H79.8V-36.6H77.5ZM86.4,-38.8H88.8V-36.6H86.4ZM93.2,-38.8H95.6V-36.6H93.2ZM-99.1,-40.9H-96.7V-38.7H-99.1ZM39.0,-40.9H41.4V-38.7H39.0ZM45.7,-40.9H48.0V-38.7H45.7ZM52.3,-40.9H54.7V-38.7H52.3ZM56.8,-40.9H59.2V-38.7H56.8ZM81.3,-40.9H83.7V-38.7H81.3ZM85.7,-40.9H90.3V-38.7H85.7ZM94.7,-40.9H97.0V-38.7H94.7ZM99.1,-40.9H101.5V-38.7H99.1ZM112.5,-40.9H114.8V-38.7H112.5ZM-104.9,-42.9H-100.3V-40.7H-104.9ZM-98.2,-42.9H-95.9V-40.7H-98.2ZM38.6,-42.9H41.0V-40.7H38.6ZM43.1,-42.9H49.8V-40.7H43.1ZM51.9,-42.9H56.4V-40.7H51.9ZM67.3,-42.9H74.1V-40.7H67.3ZM76.2,-42.9H82.9V-40.7H76.2ZM85.0,-42.9H87.4V-40.7H85.0ZM89.4,-42.9H91.8V-40.7H89.4ZM96.0,-42.9H100.6V-40.7H96.0ZM38.3,-44.9H42.8V-42.8H38.3ZM55.8,-44.9H64.7V-42.8H55.8ZM68.9,-44.9H71.2V-42.8H68.9ZM79.8,-44.9H84.3V-42.8H79.8ZM90.8,-44.9H104.0V-42.8H90.8ZM-102.8,-46.9H-98.3V-44.8H-102.8ZM-61.7,-46.9H-59.4V-44.8H-61.7ZM1.1,-46.9H7.7V-44.8H1.1ZM37.9,-46.9H40.2V-44.8H37.9ZM44.4,-46.9H48.8V-44.8H44.4ZM57.4,-46.9H66.2V-44.8H57.4ZM68.2,-46.9H70.5V-44.8H68.2ZM72.5,-46.9H74.8V-44.8H72.5ZM76.8,-46.9H81.3V-44.8H76.8ZM85.5,-46.9H87.8V-44.8H85.5ZM92.0,-46.9H103.0V-44.8H92.0ZM-97.4,-49.0H-95.1V-46.8H-97.4ZM-58.9,-49.0H-56.6V-46.8H-58.9ZM7.5,-49.0H9.8V-46.8H7.5ZM35.3,-49.0H39.8V-46.8H35.3ZM41.7,-49.0H48.3V-46.8H41.7ZM54.6,-49.0H56.9V-46.8H54.6ZM63.2,-49.0H69.7V-46.8H63.2ZM76.0,-49.0H78.3V-46.8H76.0ZM91.0,-49.0H93.3V-46.8H91.0ZM95.3,-49.0H97.6V-46.8H95.3ZM-106.9,-51.0H-104.6V-48.8H-106.9ZM-75.1,-51.0H-68.6V-48.8H-75.1ZM-66.7,-51.0H-64.4V-48.8H-66.7ZM-58.2,-51.0H-55.9V-48.8H-58.2ZM-51.9,-51.0H-49.6V-48.8H-51.9ZM-47.6,-51.0H-43.2V-48.8H-47.6ZM-5.3,-51.0H-3.0V-48.8H-5.3ZM7.4,-51.0H9.7V-48.8H7.4ZM32.8,-51.0H35.1V-48.8H32.8ZM41.3,-51.0H43.5V-48.8H41.3ZM51.9,-51.0H56.2V-48.8H51.9ZM60.3,-51.0H62.6V-48.8H60.3ZM68.8,-51.0H71.0V-48.8H68.8ZM75.1,-51.0H79.5V-48.8H75.1ZM81.5,-51.0H83.7V-48.8H81.5ZM85.7,-51.0H88.0V-48.8H85.7ZM89.9,-51.0H100.7V-48.8H89.9ZM-109.8,-53.0H-107.5V-50.8H-109.8ZM-103.5,-53.0H-101.3V-50.8H-103.5ZM-74.2,-53.0H-72.0V-50.8H-74.2ZM-70.0,-53.0H-67.8V-50.8H-70.0ZM-65.9,-53.0H-63.6V-50.8H-65.9ZM-53.3,-53.0H-51.1V-50.8H-53.3ZM-47.0,-53.0H-42.7V-50.8H-47.0ZM-7.3,-53.0H-3.0V-50.8H-7.3ZM9.4,-53.0H11.7V-50.8H9.4ZM34.5,-53.0H43.0V-50.8H34.5ZM45.0,-53.0H47.2V-50.8H45.0ZM53.3,-53.0H55.6V-50.8H53.3ZM61.7,-53.0H63.9V-50.8H61.7ZM70.0,-53.0H76.5V-50.8H70.0ZM78.4,-53.0H80.7V-50.8H78.4ZM88.9,-53.0H95.3V-50.8H88.9ZM97.2,-53.0H103.7V-50.8H97.2ZM-108.4,-54.9H-106.2V-52.8H-108.4ZM-102.2,-54.9H-100.0V-52.8H-102.2ZM-75.3,-54.9H-71.1V-52.8H-75.3ZM-69.2,-54.9H-66.9V-52.8H-69.2ZM-63.0,-54.9H-54.6V-52.8H-63.0ZM-52.6,-54.9H-48.4V-52.8H-52.6ZM-44.4,-54.9H-42.2V-52.8H-44.4ZM-11.4,-54.9H-9.1V-52.8H-11.4ZM38.2,-54.9H40.4V-52.8H38.2ZM50.6,-54.9H54.9V-52.8H50.6ZM56.8,-54.9H59.0V-52.8H56.8ZM65.0,-54.9H69.3V-52.8H65.0ZM71.2,-54.9H75.5V-52.8H71.2ZM85.7,-54.9H87.9V-52.8H85.7ZM91.9,-54.9H100.3V-52.8H91.9ZM-108.9,-56.9H-106.7V-54.8H-108.9ZM-74.3,-56.9H-70.1V-54.8H-74.3ZM-66.2,-56.9H-64.0V-54.8H-66.2ZM-60.1,-56.9H-55.8V-54.8H-60.1ZM-49.9,-56.9H-47.7V-54.8H-49.9ZM-45.8,-56.9H-43.6V-54.8H-45.8ZM72.3,-56.9H74.4V-54.8H72.3ZM78.4,-56.9H80.6V-54.8H78.4ZM82.4,-56.9H84.6V-54.8H82.4ZM86.5,-56.9H90.7V-54.8H86.5ZM92.6,-56.9H94.8V-54.8H92.6ZM96.7,-56.9H98.9V-54.8H96.7ZM125.2,-56.9H131.4V-54.8H125.2ZM-109.3,-58.8H-107.1V-56.7H-109.3ZM-71.2,-58.8H-69.0V-56.7H-71.2ZM-67.2,-58.8H-63.0V-56.7H-67.2ZM-61.2,-58.8H-59.0V-56.7H-61.2ZM-47.1,-58.8H-43.0V-56.7H-47.1ZM-11.0,-58.8H-8.9V-56.7H-11.0ZM1.0,-58.8H3.2V-56.7H1.0ZM13.0,-58.8H15.2V-56.7H13.0ZM89.2,-58.8H95.4V-56.7H89.2ZM99.3,-58.8H101.4V-56.7H99.3ZM103.3,-58.8H109.4V-56.7H103.3ZM123.3,-58.8H131.5V-56.7H123.3ZM-101.7,-60.7H-97.6V-58.7H-101.7ZM-95.7,-60.7H-85.7V-58.7H-95.7ZM-83.9,-60.7H-79.8V-58.7H-83.9ZM-66.1,-60.7H-62.0V-58.7H-66.1ZM-58.2,-60.7H-50.2V-58.7H-58.2ZM-48.4,-60.7H-44.3V-58.7H-48.4ZM-10.9,-60.7H-8.7V-58.7H-10.9ZM-1.0,-60.7H1.1V-58.7H-1.0ZM3.0,-60.7H5.1V-58.7H3.0ZM85.9,-60.7H88.0V-58.7H85.9ZM89.8,-60.7H91.9V-58.7H89.8ZM93.8,-60.7H97.9V-58.7H93.8ZM99.7,-60.7H105.8V-58.7H99.7ZM107.6,-60.7H109.7V-58.7H107.6ZM111.5,-60.7H115.6V-58.7H111.5ZM121.4,-60.7H125.5V-58.7H121.4ZM-98.0,-62.6H-95.9V-60.6H-98.0ZM-78.6,-62.6H-76.5V-60.6H-78.6ZM-74.7,-62.6H-72.7V-60.6H-74.7ZM-67.0,-62.6H-64.9V-60.6H-67.0ZM-63.1,-62.6H-61.0V-60.6H-63.1ZM-59.2,-62.6H-57.1V-60.6H-59.2ZM-55.3,-62.6H-53.2V-60.6H-55.3ZM-51.4,-62.6H-49.4V-60.6H-51.4ZM-1.0,-62.6H1.1V-60.6H-1.0ZM78.6,-62.6H84.6V-60.6H78.6ZM92.2,-62.6H94.3V-60.6H92.2ZM96.1,-62.6H107.9V-60.6H96.1ZM111.6,-62.6H115.7V-60.6H111.6ZM119.4,-62.6H121.5V-60.6H119.4ZM133.0,-62.6H135.1V-60.6H133.0ZM-111.6,-64.5H-109.6V-62.5H-111.6ZM-107.8,-64.5H-101.9V-62.5H-107.8ZM-96.3,-64.5H-94.3V-62.5H-96.3ZM-90.6,-64.5H-88.6V-62.5H-90.6ZM-84.9,-64.5H-82.8V-62.5H-84.9ZM-75.4,-64.5H-73.3V-62.5H-75.4ZM-71.5,-64.5H-69.5V-62.5H-71.5ZM-6.7,-64.5H-2.7V-62.5H-6.7ZM2.9,-64.5H4.9V-62.5H2.9ZM25.8,-64.5H27.8V-62.5H25.8ZM37.2,-64.5H39.3V-62.5H37.2ZM67.7,-64.5H77.4V-62.5H67.7ZM79.2,-64.5H81.2V-62.5H79.2ZM83.0,-64.5H85.1V-62.5H83.0ZM90.6,-64.5H92.7V-62.5H90.6ZM96.3,-64.5H100.3V-62.5H96.3ZM102.1,-64.5H107.9V-62.5H102.1ZM113.5,-64.5H117.5V-62.5H113.5ZM126.9,-64.5H128.9V-62.5H126.9ZM130.7,-64.5H134.7V-62.5H130.7ZM-126.5,-66.4H-120.7V-64.4H-126.5ZM-119.0,-66.4H-116.9V-64.4H-119.0ZM-105.9,-66.4H-102.0V-64.4H-105.9ZM-98.4,-66.4H-96.3V-64.4H-98.4ZM-90.9,-66.4H-87.0V-64.4H-90.9ZM-85.2,-66.4H-81.3V-64.4H-85.2ZM-72.1,-66.4H-70.1V-64.4H-72.1ZM2.8,-66.4H4.8V-64.4H2.8ZM29.0,-66.4H38.6V-64.4H29.0ZM44.0,-66.4H46.1V-64.4H44.0ZM47.8,-66.4H59.2V-64.4H47.8ZM60.9,-66.4H62.9V-64.4H60.9ZM64.6,-66.4H66.7V-64.4H64.6ZM72.1,-66.4H74.2V-64.4H72.1ZM77.8,-66.4H83.5V-64.4H77.8ZM85.2,-66.4H89.1V-64.4H85.2ZM98.4,-66.4H100.4V-64.4H98.4ZM102.1,-66.4H106.0V-64.4H102.1ZM109.6,-66.4H111.6V-64.4H109.6ZM117.1,-66.4H124.7V-64.4H117.1ZM128.3,-66.4H130.4V-64.4H128.3ZM-127.8,-68.2H-123.9V-66.2H-127.8ZM-120.4,-68.2H-118.4V-66.2H-120.4ZM-116.7,-68.2H-114.7V-66.2H-116.7ZM-113.1,-68.2H-111.1V-66.2H-113.1ZM-109.4,-68.2H-107.4V-66.2H-109.4ZM-103.9,-68.2H-100.0V-66.2H-103.9ZM-98.4,-68.2H-96.4V-66.2H-98.4ZM-94.7,-68.2H-92.7V-66.2H-94.7ZM-89.2,-68.2H-87.2V-66.2H-89.2ZM-78.1,-68.2H-72.5V-66.2H-78.1ZM-19.3,-68.2H-8.1V-66.2H-19.3ZM46.9,-68.2H48.9V-66.2H46.9ZM52.4,-68.2H56.2V-66.2H52.4ZM67.1,-68.2H69.1V-66.2H67.1ZM70.8,-68.2H72.8V-66.2H70.8ZM76.3,-68.2H83.8V-66.2H76.3ZM85.5,-68.2H91.1V-66.2H85.5ZM92.8,-68.2H94.8V-66.2H92.8ZM96.5,-68.2H98.5V-66.2H96.5ZM103.9,-68.2H105.9V-66.2H103.9ZM109.4,-68.2H111.4V-66.2H109.4ZM118.6,-68.2H120.6V-66.2H118.6ZM125.9,-68.2H131.6V-66.2H125.9ZM-125.3,-70.0H-119.7V-68.0H-125.3ZM-118.1,-70.0H-116.1V-68.0H-118.1ZM-112.7,-70.0H-110.7V-68.0H-112.7ZM-107.3,-70.0H-105.3V-68.0H-107.3ZM-103.6,-70.0H-99.9V-68.0H-103.6ZM-80.2,-70.0H-76.5V-68.0H-80.2ZM-20.7,-70.0H-18.8V-68.0H-20.7ZM4.5,-70.0H6.5V-68.0H4.5ZM38.8,-70.0H40.7V-68.0H38.8ZM51.4,-70.0H53.3V-68.0H51.4ZM56.8,-70.0H60.5V-68.0H56.8ZM65.8,-70.0H73.2V-68.0H65.8ZM82.0,-70.0H84.0V-68.0H82.0ZM87.4,-70.0H89.4V-68.0H87.4ZM91.0,-70.0H96.6V-68.0H91.0ZM101.8,-70.0H103.8V-68.0H101.8ZM110.9,-70.0H114.6V-68.0H110.9ZM123.5,-70.0H129.9V-68.0H123.5ZM-126.3,-71.7H-122.6V-69.8H-126.3ZM-119.2,-71.7H-117.3V-69.8H-119.2ZM-115.7,-71.7H-112.0V-69.8H-115.7ZM-110.4,-71.7H-108.5V-69.8H-110.4ZM-99.8,-71.7H-92.6V-69.8H-99.8ZM-91.0,-71.7H-85.5V-69.8H-91.0ZM-18.5,-71.7H-7.8V-69.8H-18.5ZM6.2,-71.7H8.1V-69.8H6.2ZM39.7,-71.7H46.9V-69.8H39.7ZM55.6,-71.7H61.1V-69.8H55.6ZM62.7,-71.7H66.4V-69.8H62.7ZM68.0,-71.7H71.7V-69.8H68.0ZM75.1,-71.7H78.7V-69.8H75.1ZM82.1,-71.7H84.0V-69.8H82.1ZM87.4,-71.7H91.1V-69.8H87.4ZM92.7,-71.7H96.4V-69.8H92.7ZM99.8,-71.7H101.7V-69.8H99.8ZM103.3,-71.7H105.2V-69.8H103.3ZM106.8,-71.7H108.8V-69.8H106.8ZM110.4,-71.7H114.1V-69.8H110.4ZM115.7,-71.7H117.6V-69.8H115.7ZM126.3,-71.7H127.3V-69.8H126.3ZM-123.6,-73.5H-120.0V-71.6H-123.6ZM-108.0,-73.5H-106.2V-71.6H-108.0ZM25.1,-73.5H26.9V-71.6H25.1ZM28.5,-73.5H30.4V-71.6H28.5ZM40.6,-73.5H44.2V-71.6H40.6ZM45.8,-73.5H47.7V-71.6H45.8ZM51.0,-73.5H52.9V-71.6H51.0ZM54.5,-73.5H56.3V-71.6H54.5ZM57.9,-73.5H61.5V-71.6H57.9ZM64.8,-73.5H66.7V-71.6H64.8ZM71.7,-73.5H77.1V-71.6H71.7ZM89.0,-73.5H90.9V-71.6H89.0ZM92.5,-73.5H96.1V-71.6H92.5ZM97.7,-73.5H99.5V-71.6H97.7ZM108.0,-73.5H113.4V-71.6H108.0ZM115.0,-73.5H118.6V-71.6H115.0ZM120.1,-73.5H123.7V-71.6H120.1ZM-112.4,-75.1H-110.6V-73.3H-112.4ZM9.3,-75.1H16.2V-73.3H9.3ZM21.1,-75.1H23.0V-73.3H21.1ZM34.6,-75.1H36.5V-73.3H34.6ZM38.0,-75.1H41.6V-73.3H38.0ZM43.1,-75.1H44.9V-73.3H43.1ZM48.2,-75.1H50.0V-73.3H48.2ZM51.5,-75.1H53.4V-73.3H51.5ZM54.9,-75.1H61.8V-73.3H54.9ZM65.1,-75.1H66.9V-73.3H65.1ZM68.4,-75.1H70.3V-73.3H68.4ZM73.5,-75.1H75.4V-73.3H73.5ZM76.9,-75.1H78.7V-73.3H76.9ZM80.3,-75.1H82.1V-73.3H80.3ZM83.7,-75.1H85.5V-73.3H83.7ZM87.0,-75.1H88.9V-73.3H87.0ZM93.8,-75.1H95.6V-73.3H93.8ZM109.0,-75.1H110.9V-73.3H109.0ZM114.1,-75.1H115.9V-73.3H114.1ZM119.2,-75.1H121.8V-73.3H119.2ZM55.3,-76.8H57.1V-75.0H55.3ZM58.6,-76.8H60.4V-75.0H58.6ZM63.5,-76.8H65.3V-75.0H63.5ZM66.8,-76.8H70.3V-75.0H66.8ZM80.0,-76.8H81.8V-75.0H80.0ZM85.0,-76.8H86.8V-75.0H85.0ZM91.6,-76.8H95.0V-75.0H91.6ZM104.8,-76.8H106.6V-75.0H104.8ZM116.3,-76.8H118.1V-75.0H116.3ZM57.1,-78.4H62.0V-76.6H57.1ZM68.3,-78.4H71.7V-76.6H68.3ZM78.0,-78.4H79.7V-76.6H78.0ZM81.2,-78.4H82.9V-76.6H81.2ZM86.0,-78.4H89.4V-76.6H86.0ZM90.8,-78.4H94.2V-76.6H90.8ZM57.0,-79.9H61.8V-78.2H57.0ZM63.2,-79.9H71.2V-78.2H63.2ZM86.7,-79.9H88.4V-78.2H86.7ZM89.8,-79.9H91.5V-78.2H89.8Z"/><path fill="#fff8a0" d="M-91.8,86.7H92.0V87.1H-91.8ZM-93.6,86.0H93.8V86.8H-93.6ZM-96.3,85.0H96.4V86.1H-96.3ZM-99.2,84.0H99.4V85.2H-99.2ZM-102.3,82.8H102.5V84.1H-102.3ZM-99.0,81.4H103.6V82.9H-99.0ZM-100.7,79.9H105.4V81.6H-100.7ZM-103.8,78.4H108.7V80.1H-103.8ZM-105.3,76.8H111.9V78.5H-105.3ZM-101.5,75.1H-37.0V76.9H-101.5ZM-27.2,75.1H116.5V76.9H-27.2ZM-92.1,73.5H-37.9V75.3H-92.1ZM-21.1,73.5H119.3V75.3H-21.1ZM-73.5,71.7H-37.0V73.6H-73.5ZM-16.4,71.7H122.0V73.6H-16.4ZM-55.6,70.0H-37.8V71.9H-55.6ZM-9.7,70.0H121.1V71.9H-9.7ZM-53.2,68.2H-38.6V70.1H-53.2ZM17.1,68.2H116.4V70.1H17.1ZM-52.4,66.4H-39.4V68.3H-52.4ZM30.3,66.4H48.9V68.3H30.3ZM57.9,66.4H111.4V68.3H57.9ZM-51.5,64.5H-40.1V66.5H-51.5ZM-48.7,62.6H-40.9V64.7H-48.7ZM-57.3,60.7H-49.4V62.8H-57.3ZM-60.2,58.8H-48.2V60.9H-60.2ZM-32.6,58.8H-26.5V60.9H-32.6ZM-63.2,56.9H-43.0V59.0H-63.2ZM-33.1,56.9H-26.9V59.0H-33.1ZM-64.1,54.9H-43.6V57.0H-64.1ZM-33.6,54.9H-27.3V57.0H-33.6ZM-63.0,53.0H-60.7V55.1H-63.0ZM-56.8,53.0H-44.2V55.1H-56.8ZM-57.5,51.0H-53.2V53.1H-57.5ZM137.0,51.0H139.2V53.1H137.0ZM143.2,51.0H145.5V53.1H143.2ZM-66.7,49.0H-64.4V51.1H-66.7ZM-62.4,49.0H-60.2V51.1H-62.4ZM-54.0,49.0H-51.7V51.1H-54.0ZM147.1,49.0H149.4V51.1H147.1ZM-58.9,46.9H-52.3V49.1H-58.9ZM121.0,46.9H125.4V49.1H121.0ZM127.4,46.9H129.7V49.1H127.4ZM-57.4,44.9H-50.7V47.1H-57.4ZM128.8,44.9H131.1V47.1H128.8ZM154.8,44.9H156.0V47.1H154.8ZM-58.0,42.9H-55.6V45.1H-58.0ZM-51.4,42.9H-46.9V45.1H-51.4ZM121.4,42.9H125.9V45.1H121.4ZM156.4,42.9H157.6V45.1H156.4ZM-62.9,40.9H-58.4V43.1H-62.9ZM-49.7,40.9H-47.3V43.1H-49.7ZM122.5,40.9H124.9V43.1H122.5ZM-67.9,38.8H-63.3V41.0H-67.9ZM-47.9,38.8H-45.5V41.0H-47.9ZM14.5,38.8H21.3V41.0H14.5ZM99.1,38.8H101.5V41.0H99.1ZM103.6,38.8H105.9V41.0H103.6ZM150.3,38.8H152.7V41.0H150.3ZM-68.5,36.8H-61.6V39.0H-68.5ZM-46.0,36.8H-43.6V39.0H-46.0ZM12.3,36.8H28.2V39.0H12.3ZM120.1,36.8H122.5V39.0H120.1ZM151.5,36.8H156.2V39.0H151.5ZM-69.0,34.7H-62.0V36.9H-69.0ZM-46.4,34.7H-41.7V36.9H-46.4ZM12.4,34.7H28.4V36.9H12.4ZM123.3,34.7H125.7V36.9H123.3ZM152.7,34.7H161.9V36.9H152.7ZM-69.5,32.7H-64.7V34.9H-69.5ZM-44.4,32.7H-42.0V34.9H-44.4ZM12.5,32.7H17.2V34.9H12.5ZM19.4,32.7H24.1V34.9H19.4ZM30.7,32.7H33.2V34.9H30.7ZM108.2,32.7H110.6V34.9H108.2ZM126.4,32.7H133.4V34.9H126.4ZM-67.6,30.7H-65.1V32.8H-67.6ZM10.3,30.7H17.3V32.8H10.3ZM21.8,30.7H24.2V32.8H21.8ZM108.8,30.7H111.3V32.8H108.8ZM124.9,30.7H136.5V32.8H124.9ZM-68.0,28.6H-65.5V30.8H-68.0ZM-63.4,28.6H-56.3V30.8H-63.4ZM10.4,28.6H26.6V30.8H10.4ZM38.0,28.6H47.4V30.8H38.0ZM104.8,28.6H114.2V30.8H104.8ZM127.9,28.6H137.2V30.8H127.9ZM-68.3,26.6H-65.8V28.8H-68.3ZM-63.7,26.6H-58.9V28.8H-63.7ZM-56.7,26.6H-54.2V28.8H-56.7ZM-40.5,26.6H-35.7V28.8H-40.5ZM10.4,26.6H15.2V28.8H10.4ZM22.0,26.6H26.8V28.8H22.0ZM38.2,26.6H40.7V28.8H38.2ZM116.9,26.6H119.4V28.8H116.9ZM126.1,26.6H137.9V28.8H126.1ZM142.3,26.6H144.8V28.8H142.3ZM-68.6,24.5H-63.8V26.7H-68.6ZM-38.3,24.5H-33.5V26.7H-38.3ZM10.5,24.5H15.3V26.7H10.5ZM24.4,24.5H26.9V26.7H24.4ZM124.3,24.5H129.1V26.7H124.3ZM136.0,24.5H138.4V26.7H136.0ZM142.9,24.5H145.4V26.7H142.9ZM149.9,24.5H157.0V26.7H149.9ZM-68.8,22.5H-66.3V24.7H-68.8ZM-61.8,22.5H-54.7V24.7H-61.8ZM-36.2,22.5H-33.7V24.7H-36.2ZM8.2,22.5H13.0V24.7H8.2ZM15.2,22.5H22.3V24.7H15.2ZM124.8,22.5H138.9V24.7H124.8ZM141.1,22.5H145.9V24.7H141.1ZM150.4,22.5H157.6V24.7H150.4ZM-69.0,20.4H-61.9V22.6H-69.0ZM-59.7,20.4H-54.8V22.6H-59.7ZM-36.3,20.4H-33.8V22.6H-36.3ZM8.2,20.4H13.0V22.6H8.2ZM15.2,20.4H22.4V22.6H15.2ZM120.5,20.4H123.0V22.6H120.5ZM125.2,20.4H137.0V22.6H125.2ZM139.2,20.4H141.7V22.6H139.2ZM150.9,20.4H158.1V22.6H150.9ZM162.6,20.4H168.6V22.6H162.6ZM-73.9,18.4H-62.1V20.6H-73.9ZM-59.9,18.4H-55.0V20.6H-59.9ZM-36.4,18.4H-33.9V20.6H-36.4ZM8.2,18.4H13.1V20.6H8.2ZM17.6,18.4H24.8V20.6H17.6ZM120.9,18.4H123.4V20.6H120.9ZM125.6,18.4H128.1V20.6H125.6ZM132.6,18.4H135.1V20.6H132.6ZM137.3,18.4H139.8V20.6H137.3ZM163.1,18.4H169.2V20.6H163.1ZM-74.2,16.3H-62.2V18.5H-74.2ZM-60.0,16.3H-57.5V18.5H-60.0ZM-38.8,16.3H-34.0V18.5H-38.8ZM8.2,16.3H15.5V18.5H8.2ZM20.0,16.3H22.5V18.5H20.0ZM123.6,16.3H135.5V18.5H123.6ZM163.6,16.3H169.7V18.5H163.6ZM-76.7,14.3H-64.8V16.5H-76.7ZM-38.9,14.3H-36.4V16.5H-38.9ZM-34.2,14.3H-31.7V16.5H-34.2ZM8.3,14.3H17.9V16.5H8.3ZM20.1,14.3H22.6V16.5H20.1ZM24.8,14.3H27.3V16.5H24.8ZM114.5,14.3H121.7V16.5H114.5ZM131.0,14.3H133.5V16.5H131.0ZM135.7,14.3H138.2V16.5H135.7ZM-76.9,12.3H-69.6V14.5H-76.9ZM-67.4,12.3H-64.9V14.5H-67.4ZM-62.7,12.3H-60.2V14.5H-62.7ZM-39.0,12.3H-29.4V14.5H-39.0ZM8.3,12.3H22.6V14.5H8.3ZM114.7,12.3H138.5V14.5H114.7ZM140.8,12.3H145.6V14.5H140.8ZM-79.4,10.2H-65.0V12.4H-79.4ZM-62.8,10.2H-60.3V12.4H-62.8ZM-41.5,10.2H-39.0V12.4H-41.5ZM-36.7,10.2H-29.5V12.4H-36.7ZM8.3,10.2H13.2V12.4H8.3ZM17.8,10.2H20.3V12.4H17.8ZM22.5,10.2H27.4V12.4H22.5ZM34.4,10.2H41.6V12.4H34.4ZM48.6,10.2H51.1V12.4H48.6ZM115.0,10.2H117.5V12.4H115.0ZM124.4,10.2H134.1V12.4H124.4ZM136.3,10.2H138.8V12.4H136.3ZM141.0,10.2H155.4V12.4H141.0ZM-79.5,8.2H-72.2V10.4H-79.5ZM-70.0,8.2H-58.0V10.4H-70.0ZM-53.4,8.2H-46.1V10.4H-53.4ZM-39.2,8.2H-29.5V10.4H-39.2ZM17.8,8.2H20.3V10.4H17.8ZM36.8,8.2H41.7V10.4H36.8ZM127.0,8.2H155.6V10.4H127.0ZM-79.6,6.1H-74.7V8.3H-79.6ZM-72.5,6.1H-65.2V8.3H-72.5ZM-63.0,6.1H-58.1V8.3H-63.0ZM-51.1,6.1H-48.6V8.3H-51.1ZM-41.6,6.1H-39.1V8.3H-41.6ZM-36.8,6.1H-34.3V8.3H-36.8ZM-32.1,6.1H-29.6V8.3H-32.1ZM8.3,6.1H10.8V8.3H8.3ZM17.8,6.1H20.4V8.3H17.8ZM27.3,6.1H29.9V8.3H27.3ZM124.8,6.1H155.8V8.3H124.8ZM-79.7,4.1H-74.8V6.3H-79.7ZM-70.2,4.1H-67.6V6.3H-70.2ZM-63.0,4.1H-53.4V6.3H-63.0ZM-51.1,4.1H-48.6V6.3H-51.1ZM-41.6,4.1H-39.1V6.3H-41.6ZM-36.9,4.1H-29.6V6.3H-36.9ZM5.9,4.1H8.5V6.3H5.9ZM117.8,4.1H122.7V6.3H117.8ZM127.3,4.1H136.9V6.3H127.3ZM139.2,4.1H148.8V6.3H139.2ZM-79.7,2.0H-74.8V4.2H-79.7ZM-72.6,2.0H-70.1V4.2H-72.6ZM-60.7,2.0H-48.7V4.2H-60.7ZM-41.7,2.0H-29.6V4.2H-41.7ZM6.0,2.0H8.5V4.2H6.0ZM20.2,2.0H22.8V4.2H20.2ZM39.3,2.0H44.2V4.2H39.3ZM117.8,2.0H122.7V4.2H117.8ZM127.4,2.0H132.3V4.2H127.4ZM134.5,2.0H148.9V4.2H134.5ZM-79.8,0.0H-58.2V2.2H-79.8ZM-56.0,0.0H-51.1V2.2H-56.0ZM-41.7,0.0H-34.4V2.2H-41.7ZM6.0,0.0H10.9V2.2H6.0ZM15.5,0.0H20.4V2.2H15.5ZM34.5,0.0H39.4V2.2H34.5ZM41.7,0.0H46.6V2.2H41.7ZM117.9,0.0H125.2V2.2H117.9ZM127.4,0.0H129.9V2.2H127.4ZM134.6,0.0H139.5V2.2H134.6ZM-79.8,-2.0H-77.3V0.1H-79.8ZM-75.0,-2.0H-72.5V0.1H-75.0ZM-70.3,-2.0H-67.7V0.1H-70.3ZM-63.1,-2.0H-60.6V0.1H-63.1ZM-58.3,-2.0H-55.8V0.1H-58.3ZM-53.6,-2.0H-46.3V0.1H-53.6ZM-41.7,-2.0H-39.1V0.1H-41.7ZM6.0,-2.0H10.9V0.1H6.0ZM15.5,-2.0H18.0V0.1H15.5ZM22.6,-2.0H25.2V0.1H22.6ZM34.5,-2.0H37.1V0.1H34.5ZM41.7,-2.0H49.0V0.1H41.7ZM117.9,-2.0H129.9V0.1H117.9ZM-79.7,-4.1H-72.5V-1.9H-79.7ZM-65.5,-4.1H-60.6V-1.9H-65.5ZM-58.3,-4.1H-55.8V-1.9H-58.3ZM-53.6,-4.1H-43.9V-1.9H-53.6ZM-13.1,-4.1H-8.2V-1.9H-13.1ZM8.3,-4.1H13.2V-1.9H8.3ZM20.2,-4.1H25.1V-1.9H20.2ZM36.9,-4.1H39.4V-1.9H36.9ZM46.4,-4.1H49.0V-1.9H46.4ZM117.8,-4.1H125.1V-1.9H117.8ZM-65.4,-6.1H-62.9V-3.9H-65.4ZM-60.7,-6.1H-53.4V-3.9H-60.7ZM-51.1,-6.1H-43.9V-3.9H-51.1ZM-15.5,-6.1H-12.9V-3.9H-15.5ZM17.8,-6.1H20.4V-3.9H17.8ZM29.7,-6.1H32.3V-3.9H29.7ZM36.9,-6.1H39.4V-3.9H36.9ZM46.4,-6.1H48.9V-3.9H46.4ZM77.3,-6.1H82.2V-3.9H77.3ZM120.1,-6.1H122.7V-3.9H120.1ZM-82.0,-8.2H-74.7V-6.0H-82.0ZM-67.7,-8.2H-65.2V-6.0H-67.7ZM-63.0,-8.2H-46.2V-6.0H-63.0ZM10.7,-8.2H13.2V-6.0H10.7ZM17.8,-8.2H20.4V-6.0H17.8ZM22.6,-8.2H25.1V-6.0H22.6ZM32.1,-8.2H34.6V-6.0H32.1ZM46.3,-8.2H51.2V-6.0H46.3ZM79.6,-8.2H82.1V-6.0H79.6ZM-84.3,-10.2H-81.7V-8.0H-84.3ZM-77.1,-10.2H-74.6V-8.0H-77.1ZM-62.9,-10.2H-48.5V-8.0H-62.9ZM15.4,-10.2H39.3V-8.0H15.4ZM48.7,-10.2H51.2V-8.0H48.7ZM67.7,-10.2H70.2V-8.0H67.7ZM79.5,-10.2H82.0V-8.0H79.5ZM-86.5,-12.3H-84.0V-10.1H-86.5ZM-74.7,-12.3H-72.1V-10.1H-74.7ZM-62.8,-12.3H-53.2V-10.1H-62.8ZM-20.1,-12.3H-17.6V-10.1H-20.1ZM13.0,-12.3H51.1V-10.1H13.0ZM69.9,-12.3H72.4V-10.1H69.9ZM-91.1,-14.3H-86.2V-12.1H-91.1ZM-72.2,-14.3H-67.3V-12.1H-72.2ZM-65.1,-14.3H-55.4V-12.1H-65.1ZM-20.1,-14.3H-15.2V-12.1H-20.1ZM15.4,-14.3H51.0V-12.1H15.4ZM-98.0,-16.3H-90.7V-14.2H-98.0ZM-72.0,-16.3H-62.4V-14.2H-72.0ZM-20.1,-16.3H-12.8V-14.2H-20.1ZM15.3,-16.3H53.3V-14.2H15.3ZM-100.1,-18.4H-92.8V-16.2H-100.1ZM-74.2,-18.4H-64.6V-16.2H-74.2ZM-20.0,-18.4H-5.7V-16.2H-20.0ZM-3.5,-18.4H13.1V-16.2H-3.5ZM15.3,-18.4H24.9V-16.2H15.3ZM27.1,-18.4H34.3V-16.2H27.1ZM36.5,-18.4H39.0V-16.2H36.5ZM41.2,-18.4H57.8V-16.2H41.2ZM64.7,-18.4H69.6V-16.2H64.7ZM-149.1,-20.4H-141.9V-18.2H-149.1ZM-102.1,-20.4H-94.9V-18.2H-102.1ZM-20.0,-20.4H-5.7V-18.2H-20.0ZM-3.5,-20.4H-1.0V-18.2H-3.5ZM1.2,-20.4H20.1V-18.2H1.2ZM22.3,-20.4H41.2V-18.2H22.3ZM45.8,-20.4H57.7V-18.2H45.8ZM83.3,-20.4H85.8V-18.2H83.3ZM-148.6,-22.5H-141.4V-20.3H-148.6ZM-101.8,-22.5H-97.0V-20.3H-101.8ZM-19.9,-22.5H-5.7V-20.3H-19.9ZM-1.2,-22.5H3.7V-20.3H-1.2ZM5.8,-22.5H8.3V-20.3H5.8ZM15.2,-22.5H34.1V-20.3H15.2ZM36.3,-22.5H38.8V-20.3H36.3ZM40.9,-22.5H43.4V-20.3H40.9ZM48.0,-22.5H59.8V-20.3H48.0ZM69.0,-22.5H76.2V-20.3H69.0ZM83.1,-22.5H85.6V-20.3H83.1ZM-148.1,-24.5H-141.0V-22.3H-148.1ZM-106.1,-24.5H-94.3V-22.3H-106.1ZM-19.8,-24.5H-1.0V-22.3H-19.8ZM5.8,-24.5H8.3V-22.3H5.8ZM10.5,-24.5H22.3V-22.3H10.5ZM24.5,-24.5H41.0V-22.3H24.5ZM45.5,-24.5H50.3V-22.3H45.5ZM52.5,-24.5H55.0V-22.3H52.5ZM57.1,-24.5H62.0V-22.3H57.1ZM64.1,-24.5H66.6V-22.3H64.1ZM-108.1,-26.6H-98.6V-24.4H-108.1ZM-87.2,-26.6H-82.4V-24.4H-87.2ZM-19.8,-26.6H12.9V-24.4H-19.8ZM15.1,-26.6H24.6V-24.4H15.1ZM26.7,-26.6H38.5V-24.4H26.7ZM45.3,-26.6H50.1V-24.4H45.3ZM56.9,-26.6H61.7V-24.4H56.9ZM63.9,-26.6H66.4V-24.4H63.9ZM87.2,-26.6H89.6V-24.4H87.2ZM115.0,-26.6H117.5V-24.4H115.0ZM-109.9,-28.6H-98.2V-26.4H-109.9ZM-17.4,-28.6H-1.0V-26.4H-17.4ZM1.2,-28.6H3.6V-26.4H1.2ZM12.7,-28.6H19.8V-26.4H12.7ZM22.0,-28.6H40.7V-26.4H22.0ZM45.1,-28.6H54.5V-26.4H45.1ZM56.7,-28.6H61.5V-26.4H56.7ZM89.1,-28.6H93.9V-26.4H89.1ZM114.6,-28.6H117.0V-26.4H114.6ZM-109.4,-30.7H-97.8V-28.5H-109.4ZM-95.6,-30.7H-93.1V-28.5H-95.6ZM-88.7,-30.7H-79.3V-28.5H-88.7ZM-17.3,-30.7H-5.6V-28.5H-17.3ZM-3.5,-30.7H-1.0V-28.5H-3.5ZM8.1,-30.7H19.7V-28.5H8.1ZM21.9,-30.7H26.6V-28.5H21.9ZM31.1,-30.7H35.9V-28.5H31.1ZM40.3,-30.7H47.4V-28.5H40.3ZM49.5,-30.7H65.8V-28.5H49.5ZM114.0,-30.7H116.5V-28.5H114.0ZM-111.1,-32.7H-99.5V-30.5H-111.1ZM-97.4,-32.7H-92.6V-30.5H-97.4ZM-90.5,-32.7H-88.1V-30.5H-90.5ZM-14.9,-32.7H-12.5V-30.5H-14.9ZM-10.3,-32.7H1.3V-30.5H-10.3ZM3.4,-32.7H12.8V-30.5H3.4ZM14.9,-32.7H24.2V-30.5H14.9ZM26.3,-32.7H33.4V-30.5H26.3ZM37.8,-32.7H40.2V-30.5H37.8ZM53.8,-32.7H56.3V-30.5H53.8ZM60.7,-32.7H65.4V-30.5H60.7ZM115.7,-32.7H122.7V-30.5H115.7ZM-110.4,-34.7H-96.6V-32.5H-110.4ZM-12.5,-34.7H1.3V-32.5H-12.5ZM3.4,-34.7H5.8V-32.5H3.4ZM8.0,-34.7H30.9V-32.5H8.0ZM33.0,-34.7H35.4V-32.5H33.0ZM39.9,-34.7H44.6V-32.5H39.9ZM49.0,-34.7H51.4V-32.5H49.0ZM58.1,-34.7H60.5V-32.5H58.1ZM110.4,-34.7H126.5V-32.5H110.4ZM-112.0,-36.8H-98.2V-34.6H-112.0ZM-96.1,-36.8H-91.4V-34.6H-96.1ZM-69.0,-36.8H-66.6V-34.6H-69.0ZM-12.4,-36.8H-10.0V-34.6H-12.4ZM-7.9,-36.8H10.3V-34.6H-7.9ZM12.4,-36.8H14.9V-34.6H12.4ZM17.0,-36.8H21.6V-34.6H17.0ZM23.7,-36.8H30.7V-34.6H23.7ZM35.1,-36.8H37.5V-34.6H35.1ZM39.6,-36.8H42.0V-34.6H39.6ZM48.6,-36.8H73.7V-34.6H48.6ZM107.4,-36.8H130.2V-34.6H107.4ZM-113.4,-38.8H-102.0V-36.6H-113.4ZM-99.9,-38.8H-97.5V-36.6H-99.9ZM-93.2,-38.8H-90.8V-36.6H-93.2ZM-68.5,-38.8H-63.8V-36.6H-68.5ZM-10.1,-38.8H-7.7V-36.6H-10.1ZM-5.6,-38.8H5.8V-36.6H-5.6ZM10.1,-38.8H12.5V-36.6H10.1ZM14.6,-38.8H32.7V-36.6H14.6ZM34.8,-38.8H39.4V-36.6H34.8ZM43.8,-38.8H46.2V-36.6H43.8ZM48.3,-38.8H57.4V-36.6H48.3ZM64.0,-38.8H66.4V-36.6H64.0ZM68.5,-38.8H70.9V-36.6H68.5ZM73.0,-38.8H75.4V-36.6H73.0ZM95.4,-38.8H102.3V-36.6H95.4ZM104.4,-38.8H118.0V-36.6H104.4ZM124.6,-38.8H129.2V-36.6H124.6ZM-112.5,-40.9H-101.2V-38.7H-112.5ZM-94.7,-40.9H-90.0V-38.7H-94.7ZM-65.7,-40.9H-63.3V-38.7H-65.7ZM-12.2,-40.9H-5.4V-38.7H-12.2ZM-3.3,-40.9H34.7V-38.7H-3.3ZM36.7,-40.9H39.1V-38.7H36.7ZM41.2,-40.9H45.8V-38.7H41.2ZM47.9,-40.9H52.5V-38.7H47.9ZM59.0,-40.9H61.4V-38.7H59.0ZM63.5,-40.9H65.8V-38.7H63.5ZM70.2,-40.9H72.5V-38.7H70.2ZM74.6,-40.9H81.4V-38.7H74.6ZM90.2,-40.9H94.8V-38.7H90.2ZM96.9,-40.9H99.3V-38.7H96.9ZM101.3,-40.9H103.7V-38.7H101.3ZM108.0,-40.9H110.4V-38.7H108.0ZM114.7,-40.9H119.3V-38.7H114.7ZM121.4,-40.9H123.8V-38.7H121.4ZM125.8,-40.9H130.4V-38.7H125.8ZM-113.7,-42.9H-104.7V-40.7H-113.7ZM-100.5,-42.9H-98.1V-40.7H-100.5ZM-96.0,-42.9H-93.7V-40.7H-96.0ZM-65.1,-42.9H-60.6V-40.7H-65.1ZM-12.1,-42.9H12.3V-40.7H-12.1ZM25.4,-42.9H38.8V-40.7H25.4ZM40.8,-42.9H43.2V-40.7H40.8ZM49.7,-42.9H52.0V-40.7H49.7ZM56.3,-42.9H65.3V-40.7H56.3ZM82.8,-42.9H85.1V-40.7H82.8ZM87.2,-42.9H89.6V-40.7H87.2ZM91.6,-42.9H96.2V-40.7H91.6ZM100.5,-42.9H105.0V-40.7H100.5ZM109.3,-42.9H118.3V-40.7H109.3ZM122.5,-42.9H129.3V-40.7H122.5ZM-112.6,-44.9H-105.9V-42.8H-112.6ZM-64.5,-44.9H-57.8V-42.8H-64.5ZM-12.0,-44.9H-7.5V-42.8H-12.0ZM-1.1,-44.9H12.2V-42.8H-1.1ZM25.1,-44.9H38.4V-42.8H25.1ZM42.6,-44.9H47.2V-42.8H42.6ZM49.2,-44.9H51.5V-42.8H49.2ZM64.5,-44.9H66.8V-42.8H64.5ZM73.3,-44.9H75.6V-42.8H73.3ZM77.6,-44.9H80.0V-42.8H77.6ZM84.2,-44.9H90.9V-42.8H84.2ZM106.1,-44.9H110.6V-42.8H106.1ZM112.6,-44.9H121.5V-42.8H112.6ZM123.6,-44.9H130.3V-42.8H123.6ZM-111.5,-46.9H-102.7V-44.8H-111.5ZM-98.5,-46.9H-89.7V-44.8H-98.5ZM-68.2,-46.9H-65.9V-44.8H-68.2ZM-59.5,-46.9H-50.7V-44.8H-59.5ZM-9.7,-46.9H-7.4V-44.8H-9.7ZM7.6,-46.9H12.1V-44.8H7.6ZM24.9,-46.9H38.0V-44.8H24.9ZM40.0,-46.9H42.4V-44.8H40.0ZM48.7,-46.9H57.5V-44.8H48.7ZM66.0,-46.9H68.3V-44.8H66.0ZM70.3,-46.9H72.7V-44.8H70.3ZM74.7,-46.9H77.0V-44.8H74.7ZM81.2,-46.9H85.6V-44.8H81.2ZM87.7,-46.9H92.1V-44.8H87.7ZM102.8,-46.9H105.1V-44.8H102.8ZM111.5,-46.9H113.8V-44.8H111.5ZM115.8,-46.9H128.9V-44.8H115.8ZM-110.2,-49.0H-105.8V-46.8H-110.2ZM-101.7,-49.0H-97.3V-46.8H-101.7ZM-95.3,-49.0H-93.0V-46.8H-95.3ZM-88.8,-49.0H-86.5V-46.8H-88.8ZM-76.0,-49.0H-73.7V-46.8H-76.0ZM-71.7,-49.0H-69.4V-46.8H-71.7ZM-52.4,-49.0H-41.6V-46.8H-52.4ZM-9.6,-49.0H-7.3V-46.8H-9.6ZM-5.4,-49.0H-0.9V-46.8H-5.4ZM9.6,-49.0H11.9V-46.8H9.6ZM24.6,-49.0H33.3V-46.8H24.6ZM39.6,-49.0H41.9V-46.8H39.6ZM50.3,-49.0H54.7V-46.8H50.3ZM56.7,-49.0H63.3V-46.8H56.7ZM69.6,-49.0H71.9V-46.8H69.6ZM73.9,-49.0H76.1V-46.8H73.9ZM78.1,-49.0H84.7V-46.8H78.1ZM86.7,-49.0H91.1V-46.8H86.7ZM93.1,-49.0H95.4V-46.8H93.1ZM97.4,-49.0H101.8V-46.8H97.4ZM103.8,-49.0H106.1V-46.8H103.8ZM116.7,-49.0H127.5V-46.8H116.7ZM-109.0,-51.0H-106.7V-48.8H-109.0ZM-104.8,-51.0H-96.1V-48.8H-104.8ZM-68.8,-51.0H-66.5V-48.8H-68.8ZM-43.4,-51.0H-41.1V-48.8H-43.4ZM-7.4,-51.0H-5.1V-48.8H-7.4ZM9.5,-51.0H13.9V-48.8H9.5ZM28.6,-51.0H33.0V-48.8H28.6ZM34.9,-51.0H37.2V-48.8H34.9ZM43.4,-51.0H52.0V-48.8H43.4ZM56.1,-51.0H60.5V-48.8H56.1ZM64.5,-51.0H68.9V-48.8H64.5ZM70.9,-51.0H73.2V-48.8H70.9ZM79.4,-51.0H81.6V-48.8H79.4ZM83.6,-51.0H85.9V-48.8H83.6ZM87.8,-51.0H90.1V-48.8H87.8ZM117.5,-51.0H126.1V-48.8H117.5ZM-101.4,-53.0H-95.0V-50.8H-101.4ZM-68.0,-53.0H-65.7V-50.8H-68.0ZM-42.9,-53.0H-40.6V-50.8H-42.9ZM11.5,-53.0H13.7V-50.8H11.5ZM28.2,-53.0H30.5V-50.8H28.2ZM32.4,-53.0H34.7V-50.8H32.4ZM42.9,-53.0H45.1V-50.8H42.9ZM47.0,-53.0H49.3V-50.8H47.0ZM51.2,-53.0H53.5V-50.8H51.2ZM57.5,-53.0H61.8V-50.8H57.5ZM63.8,-53.0H66.0V-50.8H63.8ZM76.3,-53.0H78.6V-50.8H76.3ZM80.5,-53.0H89.0V-50.8H80.5ZM95.1,-53.0H97.4V-50.8H95.1ZM116.1,-53.0H124.6V-50.8H116.1ZM-112.5,-54.9H-108.2V-52.8H-112.5ZM-100.1,-54.9H-93.8V-52.8H-100.1ZM-71.2,-54.9H-69.0V-52.8H-71.2ZM-67.1,-54.9H-62.8V-52.8H-67.1ZM-42.3,-54.9H-40.1V-52.8H-42.3ZM11.4,-54.9H13.6V-52.8H11.4ZM34.1,-54.9H38.3V-52.8H34.1ZM40.3,-54.9H44.5V-52.8H40.3ZM48.5,-54.9H50.7V-52.8H48.5ZM54.7,-54.9H56.9V-52.8H54.7ZM58.8,-54.9H63.1V-52.8H58.8ZM69.2,-54.9H71.4V-52.8H69.2ZM75.3,-54.9H85.8V-52.8H75.3ZM89.8,-54.9H92.0V-52.8H89.8ZM100.1,-54.9H104.4V-52.8H100.1ZM116.6,-54.9H123.0V-52.8H116.6ZM126.9,-54.9H133.3V-52.8H126.9ZM-139.4,-56.9H-131.1V-54.8H-139.4ZM-110.9,-56.9H-108.8V-54.8H-110.9ZM-100.8,-56.9H-94.5V-54.8H-100.8ZM-64.1,-56.9H-59.9V-54.8H-64.1ZM-56.0,-56.9H-51.8V-54.8H-56.0ZM-43.8,-56.9H-41.6V-54.8H-43.8ZM-11.2,-56.9H-9.0V-54.8H-11.2ZM37.7,-56.9H39.8V-54.8H37.7ZM47.8,-56.9H62.2V-54.8H47.8ZM66.2,-56.9H68.3V-54.8H66.2ZM76.3,-56.9H78.5V-54.8H76.3ZM80.4,-56.9H82.6V-54.8H80.4ZM84.5,-56.9H86.7V-54.8H84.5ZM90.6,-56.9H92.8V-54.8H90.6ZM94.7,-56.9H96.8V-54.8H94.7ZM98.7,-56.9H100.9V-54.8H98.7ZM115.0,-56.9H121.3V-54.8H115.0ZM123.2,-56.9H125.3V-54.8H123.2ZM131.3,-56.9H133.5V-54.8H131.3ZM-137.4,-58.8H-123.2V-56.7H-137.4ZM-101.3,-58.8H-99.1V-56.7H-101.3ZM-95.3,-58.8H-93.1V-56.7H-95.3ZM-81.2,-58.8H-75.1V-56.7H-81.2ZM-57.2,-58.8H-53.0V-56.7H-57.2ZM-49.1,-58.8H-47.0V-56.7H-49.1ZM-43.1,-58.8H-41.0V-56.7H-43.1ZM15.0,-58.8H17.2V-56.7H15.0ZM51.1,-58.8H53.3V-56.7H51.1ZM77.2,-58.8H89.4V-56.7H77.2ZM95.3,-58.8H99.4V-56.7H95.3ZM101.3,-58.8H103.4V-56.7H101.3ZM109.3,-58.8H117.5V-56.7H109.3ZM131.4,-58.8H133.5V-56.7H131.4ZM-135.2,-60.7H-117.3V-58.7H-135.2ZM-85.9,-60.7H-83.7V-58.7H-85.9ZM-79.9,-60.7H-77.8V-58.7H-79.9ZM-74.0,-60.7H-71.9V-58.7H-74.0ZM-44.4,-60.7H-42.3V-58.7H-44.4ZM1.0,-60.7H3.1V-58.7H1.0ZM46.4,-60.7H48.5V-58.7H46.4ZM78.0,-60.7H86.0V-58.7H78.0ZM87.8,-60.7H90.0V-58.7H87.8ZM97.7,-60.7H99.8V-58.7H97.7ZM105.6,-60.7H107.7V-58.7H105.6ZM109.6,-60.7H111.7V-58.7H109.6ZM119.4,-60.7H121.5V-58.7H119.4ZM-129.1,-62.6H-109.5V-60.6H-129.1ZM-101.9,-62.6H-99.8V-60.6H-101.9ZM-72.8,-62.6H-70.7V-60.6H-72.8ZM-57.3,-62.6H-55.2V-60.6H-57.3ZM-53.4,-62.6H-51.3V-60.6H-53.4ZM-49.5,-62.6H-43.5V-60.6H-49.5ZM-37.9,-62.6H-29.9V-60.6H-37.9ZM1.0,-62.6H5.0V-60.6H1.0ZM20.4,-62.6H22.5V-60.6H20.4ZM72.8,-62.6H74.9V-60.6H72.8ZM76.7,-62.6H78.8V-60.6H76.7ZM115.5,-62.6H119.5V-60.6H115.5ZM-128.8,-64.5H-111.5V-62.5H-128.8ZM-109.7,-64.5H-107.6V-62.5H-109.7ZM-69.6,-64.5H-67.6V-62.5H-69.6ZM-62.0,-64.5H-44.7V-62.5H-62.0ZM-41.0,-64.5H-29.4V-62.5H-41.0ZM-2.9,-64.5H3.0V-62.5H-2.9ZM27.7,-64.5H29.7V-62.5H27.7ZM42.9,-64.5H56.4V-62.5H42.9ZM60.1,-64.5H64.1V-62.5H60.1ZM65.8,-64.5H67.9V-62.5H65.8ZM88.7,-64.5H90.8V-62.5H88.7ZM92.5,-64.5H96.5V-62.5H92.5ZM107.8,-64.5H113.7V-62.5H107.8ZM119.2,-64.5H121.3V-62.5H119.2ZM134.5,-64.5H136.6V-62.5H134.5ZM-120.8,-66.4H-118.8V-64.4H-120.8ZM-117.1,-66.4H-111.3V-64.4H-117.1ZM-107.7,-66.4H-105.7V-64.4H-107.7ZM-70.3,-66.4H-45.8V-64.4H-70.3ZM-40.3,-66.4H-27.0V-64.4H-40.3ZM-19.7,-66.4H-8.3V-64.4H-19.7ZM0.9,-66.4H3.0V-64.4H0.9ZM38.4,-66.4H40.4V-64.4H38.4ZM45.9,-66.4H47.9V-64.4H45.9ZM62.8,-66.4H64.8V-64.4H62.8ZM89.0,-66.4H91.0V-64.4H89.0ZM92.7,-66.4H94.8V-64.4H92.7ZM96.5,-66.4H98.5V-64.4H96.5ZM113.3,-66.4H115.4V-64.4H113.3ZM130.2,-66.4H135.0V-64.4H130.2ZM-132.4,-68.2H-127.6V-66.2H-132.4ZM-100.2,-68.2H-98.2V-66.2H-100.2ZM-87.3,-68.2H-81.7V-66.2H-87.3ZM-72.6,-68.2H-43.1V-66.2H-72.6ZM-41.4,-68.2H-24.7V-66.2H-41.4ZM-21.1,-68.2H-19.2V-66.2H-21.1ZM0.9,-68.2H4.7V-66.2H0.9ZM50.6,-68.2H52.5V-66.2H50.6ZM56.1,-68.2H59.9V-66.2H56.1ZM102.0,-68.2H104.0V-66.2H102.0ZM107.5,-68.2H109.5V-66.2H107.5ZM113.1,-68.2H115.0V-66.2H113.1ZM116.7,-68.2H118.7V-66.2H116.7ZM120.4,-68.2H122.4V-66.2H120.4ZM124.1,-68.2H126.1V-66.2H124.1ZM131.4,-68.2H132.5V-66.2H131.4ZM-129.8,-70.0H-126.9V-68.0H-129.8ZM-116.3,-70.0H-112.5V-68.0H-116.3ZM-110.9,-70.0H-108.9V-68.0H-110.9ZM-98.2,-70.0H-94.5V-68.0H-98.2ZM-76.6,-70.0H-42.2V-68.0H-76.6ZM-40.6,-70.0H-20.6V-68.0H-40.6ZM2.7,-70.0H4.7V-68.0H2.7ZM46.0,-70.0H49.7V-68.0H46.0ZM53.2,-70.0H55.1V-68.0H53.2ZM64.0,-70.0H65.9V-68.0H64.0ZM83.8,-70.0H85.8V-68.0H83.8ZM96.4,-70.0H98.4V-68.0H96.4ZM103.6,-70.0H105.6V-68.0H103.6ZM114.5,-70.0H120.0V-68.0H114.5ZM121.7,-70.0H123.6V-68.0H121.7ZM-122.7,-71.7H-119.1V-69.8H-122.7ZM-103.3,-71.7H-99.6V-69.8H-103.3ZM-83.9,-71.7H-41.4V-69.8H-83.9ZM-39.7,-71.7H-18.4V-69.8H-39.7ZM38.0,-71.7H39.9V-69.8H38.0ZM48.6,-71.7H52.2V-69.8H48.6ZM91.0,-71.7H92.9V-69.8H91.0ZM98.0,-71.7H99.9V-69.8H98.0ZM113.9,-71.7H115.8V-69.8H113.9ZM117.4,-71.7H119.4V-69.8H117.4ZM-111.5,-73.5H-109.6V-71.6H-111.5ZM-106.3,-73.5H-104.4V-71.6H-106.3ZM-101.1,-73.5H-12.8V-71.6H-101.1ZM26.8,-73.5H28.7V-71.6H26.8ZM30.3,-73.5H39.0V-71.6H30.3ZM49.3,-73.5H51.1V-71.6H49.3ZM63.1,-73.5H65.0V-71.6H63.1ZM66.6,-73.5H68.4V-71.6H66.6ZM70.0,-73.5H71.9V-71.6H70.0ZM78.7,-73.5H80.5V-71.6H78.7ZM82.1,-73.5H85.7V-71.6H82.1ZM87.3,-73.5H89.2V-71.6H87.3ZM90.8,-73.5H92.6V-71.6H90.8ZM99.4,-73.5H101.3V-71.6H99.4ZM-121.7,-75.1H-117.3V-73.3H-121.7ZM-114.1,-75.1H-112.2V-73.3H-114.1ZM-110.7,-75.1H-41.3V-73.3H-110.7ZM-39.7,-75.1H-12.5V-73.3H-39.7ZM16.1,-75.1H21.3V-73.3H16.1ZM22.8,-75.1H28.0V-73.3H22.8ZM33.0,-75.1H34.8V-73.3H33.0ZM36.3,-75.1H38.2V-73.3H36.3ZM41.4,-75.1H43.2V-73.3H41.4ZM44.8,-75.1H48.3V-73.3H44.8ZM49.9,-75.1H51.7V-73.3H49.9ZM53.2,-75.1H55.1V-73.3H53.2ZM61.7,-75.1H65.2V-73.3H61.7ZM70.1,-75.1H73.7V-73.3H70.1ZM75.2,-75.1H77.0V-73.3H75.2ZM112.4,-75.1H114.2V-73.3H112.4ZM117.5,-75.1H119.3V-73.3H117.5ZM-108.1,-76.8H-94.7V-75.0H-108.1ZM-85.0,-76.8H-43.6V-75.0H-85.0ZM-40.4,-76.8H-10.6V-75.0H-40.4ZM12.4,-76.8H22.4V-75.0H12.4ZM32.2,-76.8H55.4V-75.0H32.2ZM65.2,-76.8H67.0V-75.0H65.2ZM70.1,-76.8H73.6V-75.0H70.1ZM81.7,-76.8H85.1V-75.0H81.7ZM86.6,-76.8H88.4V-75.0H86.6ZM106.4,-76.8H108.2V-75.0H106.4ZM118.0,-76.8H118.9V-75.0H118.0ZM-82.8,-78.4H-10.3V-76.6H-82.8ZM7.2,-78.4H13.8V-76.6H7.2ZM31.3,-78.4H57.2V-76.6H31.3ZM61.9,-78.4H63.6V-76.6H61.9ZM65.1,-78.4H66.8V-76.6H65.1ZM71.5,-78.4H73.3V-76.6H71.5ZM79.6,-78.4H81.3V-76.6H79.6ZM89.2,-78.4H91.0V-76.6H89.2ZM-80.4,-79.9H-8.4V-78.2H-80.4ZM5.5,-79.9H16.5V-78.2H5.5ZM32.0,-79.9H44.7V-78.2H32.0ZM52.3,-79.9H57.1V-78.2H52.3ZM61.7,-79.9H63.4V-78.2H61.7ZM83.5,-79.9H86.8V-78.2H83.5ZM88.2,-79.9H89.9V-78.2H88.2ZM91.3,-79.9H93.1V-78.2H91.3ZM-78.0,-81.4H-8.2V-79.8H-78.0ZM5.3,-81.4H17.6V-79.8H5.3ZM34.1,-81.4H43.3V-79.8H34.1ZM53.8,-81.4H70.6V-79.8H53.8ZM-66.7,-82.8H-7.9V-81.3H-66.7ZM5.1,-82.8H17.0V-81.3H5.1ZM52.1,-82.8H62.5V-81.3H52.1ZM-57.6,-84.0H-7.7V-82.6H-57.6ZM6.4,-84.0H16.5V-82.6H6.4ZM50.5,-84.0H59.1V-82.6H50.5ZM-54.4,-85.0H-8.8V-83.8H-54.4Z"/><path fill="#ffdc28" d="M139.1,51.0H143.4V53.1H139.1ZM138.6,49.0H140.9V51.1H138.6ZM145.0,49.0H147.2V51.1H145.0ZM-67.4,46.9H-65.1V49.1H-67.4ZM-63.2,46.9H-58.7V49.1H-63.2ZM125.2,46.9H127.5V49.1H125.2ZM-63.8,44.9H-61.5V47.1H-63.8ZM122.3,44.9H124.6V47.1H122.3ZM152.6,44.9H154.9V47.1H152.6ZM-64.5,42.9H-62.2V45.1H-64.5ZM-55.8,42.9H-51.2V45.1H-55.8ZM130.1,42.9H132.5V45.1H130.1ZM154.2,42.9H156.5V45.1H154.2ZM-67.3,40.9H-62.8V43.1H-67.3ZM-54.1,40.9H-49.5V43.1H-54.1ZM124.7,40.9H127.1V43.1H124.7ZM149.0,40.9H151.4V43.1H149.0ZM157.9,40.9H159.1V43.1H157.9ZM-63.5,38.8H-61.1V41.0H-63.5ZM101.3,38.8H103.7V41.0H101.3ZM123.6,38.8H126.0V41.0H123.6ZM152.6,38.8H154.9V41.0H152.6ZM159.2,38.8H160.5V41.0H159.2ZM-61.7,36.8H-59.3V39.0H-61.7ZM-48.3,36.8H-45.9V39.0H-48.3ZM99.9,36.8H102.3V39.0H99.9ZM156.0,36.8H160.7V39.0H156.0ZM-62.2,34.7H-59.8V36.9H-62.2ZM28.3,34.7H30.7V36.9H28.3ZM125.5,34.7H132.5V36.9H125.5ZM-64.9,32.7H-60.2V34.9H-64.9ZM23.9,32.7H28.6V34.9H23.9ZM124.1,32.7H126.5V34.9H124.1ZM-65.3,30.7H-56.0V32.8H-65.3ZM24.1,30.7H26.5V32.8H24.1ZM30.9,30.7H33.4V32.8H30.9ZM-65.7,28.6H-63.2V30.8H-65.7ZM-56.4,28.6H-54.0V30.8H-56.4ZM-42.6,28.6H-40.2V30.8H-42.6ZM141.7,28.6H144.1V30.8H141.7ZM-66.0,26.6H-63.5V28.8H-66.0ZM-59.0,26.6H-56.6V28.8H-59.0ZM31.2,26.6H36.0V28.8H31.2ZM40.5,26.6H47.6V28.8H40.5ZM-63.9,24.5H-61.4V26.7H-63.9ZM-59.3,24.5H-54.5V26.7H-59.3ZM-40.7,24.5H-38.2V26.7H-40.7ZM33.7,24.5H36.2V26.7H33.7ZM38.3,24.5H40.8V26.7H38.3ZM129.0,24.5H136.1V26.7H129.0ZM140.6,24.5H143.1V26.7H140.6ZM-66.5,22.5H-64.0V24.7H-66.5ZM-38.5,22.5H-36.0V24.7H-38.5ZM24.5,22.5H27.0V24.7H24.5ZM31.5,22.5H36.3V24.7H31.5ZM38.5,22.5H41.0V24.7H38.5ZM138.8,22.5H141.3V24.7H138.8ZM-38.6,20.4H-36.1V22.6H-38.6ZM24.6,20.4H27.1V22.6H24.6ZM36.3,20.4H38.8V22.6H36.3ZM48.0,20.4H50.5V22.6H48.0ZM136.9,20.4H139.4V22.6H136.9ZM-38.7,18.4H-36.2V20.6H-38.7ZM24.6,18.4H27.1V20.6H24.6ZM36.4,18.4H38.9V20.6H36.4ZM48.1,18.4H50.6V20.6H48.1ZM-41.2,16.3H-38.7V18.5H-41.2ZM22.4,16.3H24.9V18.5H22.4ZM34.1,16.3H36.6V18.5H34.1ZM38.8,16.3H41.4V18.5H38.8ZM48.3,16.3H50.8V18.5H48.3ZM-60.2,14.3H-57.7V16.5H-60.2ZM27.1,14.3H29.7V16.5H27.1ZM36.6,14.3H41.5V16.5H36.6ZM48.4,14.3H50.9V16.5H48.4ZM126.3,14.3H131.2V16.5H126.3ZM-69.8,12.3H-67.3V14.5H-69.8ZM-43.8,12.3H-41.3V14.5H-43.8ZM29.6,12.3H41.6V14.5H29.6ZM48.5,12.3H51.0V14.5H48.5ZM-58.1,10.2H-55.5V12.4H-58.1ZM-48.6,10.2H-46.1V12.4H-48.6ZM-43.8,10.2H-41.3V12.4H-43.8ZM13.0,10.2H15.6V12.4H13.0ZM20.1,10.2H22.7V12.4H20.1ZM27.3,10.2H34.5V12.4H27.3ZM43.8,10.2H48.7V12.4H43.8ZM100.7,10.2H115.1V12.4H100.7ZM117.3,10.2H119.8V12.4H117.3ZM122.1,10.2H124.6V12.4H122.1ZM133.9,10.2H136.4V12.4H133.9ZM-72.4,8.2H-69.9V10.4H-72.4ZM-58.2,8.2H-53.3V10.4H-58.2ZM-43.9,8.2H-41.4V10.4H-43.9ZM8.3,8.2H10.8V10.4H8.3ZM15.4,8.2H18.0V10.4H15.4ZM20.2,8.2H22.7V10.4H20.2ZM24.9,8.2H27.4V10.4H24.9ZM29.7,8.2H36.9V10.4H29.7ZM96.1,8.2H98.7V10.4H96.1ZM-74.9,6.1H-72.3V8.3H-74.9ZM-58.2,6.1H-50.9V8.3H-58.2ZM-48.7,6.1H-46.2V8.3H-48.7ZM-44.0,6.1H-41.4V8.3H-44.0ZM15.4,6.1H18.0V8.3H15.4ZM20.2,6.1H22.7V8.3H20.2ZM25.0,6.1H27.5V8.3H25.0ZM32.1,6.1H41.7V8.3H32.1ZM103.4,6.1H122.5V8.3H103.4ZM-74.9,4.1H-72.4V6.3H-74.9ZM-53.5,4.1H-51.0V6.3H-53.5ZM-48.8,4.1H-46.2V6.3H-48.8ZM-44.0,4.1H-41.5V6.3H-44.0ZM15.5,4.1H22.7V6.3H15.5ZM25.0,4.1H27.5V6.3H25.0ZM29.7,4.1H32.3V6.3H29.7ZM34.5,4.1H37.0V6.3H34.5ZM39.3,4.1H41.8V6.3H39.3ZM105.9,4.1H113.1V6.3H105.9ZM115.4,4.1H117.9V6.3H115.4ZM122.5,4.1H127.4V6.3H122.5ZM136.8,4.1H139.3V6.3H136.8ZM-44.0,2.0H-41.5V4.2H-44.0ZM8.3,2.0H10.9V4.2H8.3ZM15.5,2.0H20.4V4.2H15.5ZM32.1,2.0H39.4V4.2H32.1ZM122.6,2.0H127.5V4.2H122.6ZM132.1,2.0H134.7V4.2H132.1ZM-58.3,0.0H-55.8V2.2H-58.3ZM-51.2,0.0H-48.7V2.2H-51.2ZM-44.1,0.0H-41.5V2.2H-44.1ZM10.7,0.0H13.2V2.2H10.7ZM20.2,0.0H25.2V2.2H20.2ZM125.0,0.0H127.6V2.2H125.0ZM129.8,0.0H134.7V2.2H129.8ZM-77.4,-2.0H-74.9V0.1H-77.4ZM-60.7,-2.0H-58.2V0.1H-60.7ZM-56.0,-2.0H-53.4V0.1H-56.0ZM-46.4,-2.0H-41.5V0.1H-46.4ZM10.7,-2.0H13.2V0.1H10.7ZM17.9,-2.0H22.8V0.1H17.9ZM27.4,-2.0H29.9V0.1H27.4ZM115.5,-2.0H118.0V0.1H115.5ZM-72.6,-4.1H-70.1V-1.9H-72.6ZM-67.8,-4.1H-65.3V-1.9H-67.8ZM-60.7,-4.1H-58.2V-1.9H-60.7ZM-55.9,-4.1H-53.4V-1.9H-55.9ZM-8.3,-4.1H8.5V-1.9H-8.3ZM13.1,-4.1H20.4V-1.9H13.1ZM29.8,-4.1H34.7V-1.9H29.8ZM86.9,-4.1H89.4V-1.9H86.9ZM115.5,-4.1H118.0V-1.9H115.5ZM-77.3,-6.1H-74.8V-3.9H-77.3ZM-53.5,-6.1H-51.0V-3.9H-53.5ZM-13.1,-6.1H-10.6V-3.9H-13.1ZM13.1,-6.1H18.0V-3.9H13.1ZM20.2,-6.1H22.7V-3.9H20.2ZM25.0,-6.1H27.5V-3.9H25.0ZM72.6,-6.1H77.5V-3.9H72.6ZM86.8,-6.1H89.4V-3.9H86.8ZM117.8,-6.1H120.3V-3.9H117.8ZM-74.9,-8.2H-72.3V-6.0H-74.9ZM-65.4,-8.2H-62.8V-6.0H-65.4ZM-15.4,-8.2H-12.9V-6.0H-15.4ZM13.1,-8.2H18.0V-6.0H13.1ZM20.2,-8.2H22.7V-6.0H20.2ZM25.0,-8.2H32.2V-6.0H25.0ZM70.1,-8.2H72.6V-6.0H70.1ZM86.7,-8.2H89.3V-6.0H86.7ZM-81.9,-10.2H-77.0V-8.0H-81.9ZM-74.8,-10.2H-72.2V-8.0H-74.8ZM-65.3,-10.2H-62.8V-8.0H-65.3ZM-17.8,-10.2H-15.3V-8.0H-17.8ZM13.1,-10.2H15.6V-8.0H13.1ZM70.0,-10.2H72.5V-8.0H70.0ZM77.1,-10.2H79.7V-8.0H77.1ZM103.3,-10.2H105.8V-8.0H103.3ZM-84.1,-12.3H-81.6V-10.1H-84.1ZM-77.0,-12.3H-74.5V-10.1H-77.0ZM-72.3,-12.3H-67.4V-10.1H-72.3ZM-65.2,-12.3H-62.7V-10.1H-65.2ZM-17.8,-12.3H-15.3V-10.1H-17.8ZM67.5,-12.3H70.1V-10.1H67.5ZM72.3,-12.3H79.5V-10.1H72.3ZM105.5,-12.3H110.4V-10.1H105.5ZM-74.5,-14.3H-72.0V-12.1H-74.5ZM-67.4,-14.3H-64.9V-12.1H-67.4ZM-15.4,-14.3H-12.9V-12.1H-15.4ZM13.0,-14.3H15.5V-12.1H13.0ZM67.4,-14.3H79.4V-12.1H67.4ZM105.3,-14.3H110.2V-12.1H105.3ZM-90.9,-16.3H-86.0V-14.2H-90.9ZM-13.0,-16.3H1.3V-14.2H-13.0ZM3.5,-16.3H6.1V-14.2H3.5ZM13.0,-16.3H15.5V-14.2H13.0ZM67.3,-16.3H79.2V-14.2H67.3ZM86.2,-16.3H88.7V-14.2H86.2ZM105.0,-16.3H107.6V-14.2H105.0ZM-64.7,-18.4H-62.2V-16.2H-64.7ZM-5.9,-18.4H-3.4V-16.2H-5.9ZM24.7,-18.4H27.2V-16.2H24.7ZM69.5,-18.4H74.3V-16.2H69.5ZM76.5,-18.4H79.0V-16.2H76.5ZM85.9,-18.4H88.4V-16.2H85.9ZM104.8,-18.4H107.3V-16.2H104.8ZM-95.1,-20.4H-92.6V-18.2H-95.1ZM-76.3,-20.4H-64.4V-18.2H-76.3ZM-5.9,-20.4H-3.4V-18.2H-5.9ZM-1.2,-20.4H1.3V-18.2H-1.2ZM20.0,-20.4H22.5V-18.2H20.0ZM41.1,-20.4H43.6V-18.2H41.1ZM64.6,-20.4H78.8V-18.2H64.6ZM81.0,-20.4H83.5V-18.2H81.0ZM85.7,-20.4H88.2V-18.2H85.7ZM109.2,-20.4H111.7V-18.2H109.2ZM-97.1,-22.5H-94.6V-20.3H-97.1ZM-5.8,-22.5H-1.0V-20.3H-5.8ZM10.5,-22.5H13.0V-20.3H10.5ZM62.0,-22.5H69.2V-20.3H62.0ZM78.4,-22.5H80.9V-20.3H78.4ZM85.4,-22.5H87.9V-20.3H85.4ZM106.5,-22.5H111.3V-20.3H106.5ZM-87.5,-24.5H-82.6V-22.3H-87.5ZM8.2,-24.5H10.6V-22.3H8.2ZM61.8,-24.5H64.3V-22.3H61.8ZM66.5,-24.5H75.9V-22.3H66.5ZM82.8,-24.5H87.6V-22.3H82.8ZM108.5,-24.5H110.9V-22.3H108.5ZM113.1,-24.5H117.9V-22.3H113.1ZM-98.8,-26.6H-96.3V-24.4H-98.8ZM-82.5,-26.6H-80.0V-24.4H-82.5ZM12.8,-26.6H15.3V-24.4H12.8ZM61.6,-26.6H64.1V-24.4H61.6ZM70.9,-26.6H73.4V-24.4H70.9ZM84.8,-26.6H87.3V-24.4H84.8ZM89.5,-26.6H96.6V-24.4H89.5ZM112.7,-26.6H115.2V-24.4H112.7ZM-98.4,-28.6H-91.3V-26.4H-98.4ZM-89.1,-28.6H-86.6V-26.4H-89.1ZM10.4,-28.6H12.9V-26.4H10.4ZM61.3,-28.6H68.4V-26.4H61.3ZM70.6,-28.6H75.4V-26.4H70.6ZM84.5,-28.6H89.3V-26.4H84.5ZM93.7,-28.6H96.2V-26.4H93.7ZM112.3,-28.6H114.7V-26.4H112.3ZM-97.9,-30.7H-95.5V-28.5H-97.9ZM-91.0,-30.7H-88.5V-28.5H-91.0ZM-79.5,-30.7H-77.0V-28.5H-79.5ZM19.6,-30.7H22.0V-28.5H19.6ZM26.5,-30.7H31.2V-28.5H26.5ZM79.5,-30.7H81.9V-28.5H79.5ZM93.3,-30.7H95.8V-28.5H93.3ZM111.7,-30.7H114.2V-28.5H111.7ZM-92.8,-32.7H-90.4V-30.5H-92.8ZM-88.2,-32.7H-78.9V-30.5H-88.2ZM76.8,-32.7H79.2V-30.5H76.8ZM92.8,-32.7H95.2V-30.5H92.8ZM113.4,-32.7H115.9V-30.5H113.4ZM-94.5,-34.7H-89.8V-32.5H-94.5ZM-87.7,-34.7H-85.2V-32.5H-87.7ZM-69.5,-34.7H-67.0V-32.5H-69.5ZM1.1,-34.7H3.6V-32.5H1.1ZM64.9,-34.7H67.3V-32.5H64.9ZM69.5,-34.7H74.2V-32.5H69.5ZM76.3,-34.7H78.7V-32.5H76.3ZM108.2,-34.7H110.6V-32.5H108.2ZM-71.2,-36.8H-68.8V-34.6H-71.2ZM-10.2,-36.8H-7.8V-34.6H-10.2ZM10.2,-36.8H12.6V-34.6H10.2ZM14.7,-36.8H17.1V-34.6H14.7ZM73.5,-36.8H75.9V-34.6H73.5ZM105.2,-36.8H107.6V-34.6H105.2ZM-90.9,-38.8H-88.5V-36.6H-90.9ZM-70.7,-38.8H-68.3V-36.6H-70.7ZM-7.9,-38.8H-5.5V-36.6H-7.9ZM5.6,-38.8H10.3V-36.6H5.6ZM12.3,-38.8H14.7V-36.6H12.3ZM102.1,-38.8H104.5V-36.6H102.1ZM117.9,-38.8H124.7V-36.6H117.9ZM-96.9,-40.9H-94.5V-38.7H-96.9ZM-90.2,-40.9H-87.8V-38.7H-90.2ZM-67.9,-40.9H-65.5V-38.7H-67.9ZM-5.6,-40.9H-3.2V-38.7H-5.6ZM34.5,-40.9H36.9V-38.7H34.5ZM54.6,-40.9H56.9V-38.7H54.6ZM65.7,-40.9H70.3V-38.7H65.7ZM72.4,-40.9H74.8V-38.7H72.4ZM103.6,-40.9H108.2V-38.7H103.6ZM110.2,-40.9H112.6V-38.7H110.2ZM119.1,-40.9H121.5V-38.7H119.1ZM123.6,-40.9H126.0V-38.7H123.6ZM-93.8,-42.9H-89.3V-40.7H-93.8ZM-87.2,-42.9H-84.8V-40.7H-87.2ZM18.8,-42.9H25.5V-40.7H18.8ZM65.1,-42.9H67.5V-40.7H65.1ZM74.0,-42.9H76.3V-40.7H74.0ZM104.9,-42.9H107.2V-40.7H104.9ZM118.1,-42.9H122.7V-40.7H118.1ZM-106.1,-44.9H-103.7V-42.8H-106.1ZM-97.3,-44.9H-92.8V-42.8H-97.3ZM-88.6,-44.9H-84.0V-42.8H-88.6ZM-7.7,-44.9H-0.9V-42.8H-7.7ZM18.6,-44.9H20.9V-42.8H18.6ZM51.4,-44.9H55.9V-42.8H51.4ZM71.1,-44.9H73.4V-42.8H71.1ZM75.4,-44.9H77.8V-42.8H75.4ZM103.9,-44.9H106.2V-42.8H103.9ZM110.4,-44.9H112.8V-42.8H110.4ZM121.4,-44.9H123.7V-42.8H121.4ZM-89.8,-46.9H-85.3V-44.8H-89.8ZM-1.1,-46.9H1.2V-44.8H-1.1ZM14.1,-46.9H16.4V-44.8H14.1ZM18.4,-46.9H20.7V-44.8H18.4ZM42.2,-46.9H44.5V-44.8H42.2ZM105.0,-46.9H107.3V-44.8H105.0ZM113.6,-46.9H115.9V-44.8H113.6ZM-106.0,-49.0H-101.5V-46.8H-106.0ZM-93.1,-49.0H-90.8V-46.8H-93.1ZM-73.9,-49.0H-71.6V-46.8H-73.9ZM-69.6,-49.0H-67.3V-46.8H-69.6ZM-7.5,-49.0H-5.2V-46.8H-7.5ZM11.8,-49.0H14.1V-46.8H11.8ZM33.2,-49.0H35.5V-46.8H33.2ZM71.7,-49.0H74.0V-46.8H71.7ZM84.6,-49.0H86.8V-46.8H84.6ZM114.5,-49.0H116.8V-46.8H114.5ZM-96.3,-51.0H-89.8V-48.8H-96.3ZM-54.0,-51.0H-51.7V-48.8H-54.0ZM24.3,-51.0H28.7V-48.8H24.3ZM73.0,-51.0H75.3V-48.8H73.0ZM102.6,-51.0H104.9V-48.8H102.6ZM115.3,-51.0H117.6V-48.8H115.3ZM-95.1,-53.0H-90.8V-50.8H-95.1ZM-76.3,-53.0H-74.1V-50.8H-76.3ZM30.3,-53.0H32.6V-50.8H30.3ZM55.4,-53.0H57.7V-50.8H55.4ZM103.5,-53.0H105.7V-50.8H103.5ZM114.0,-53.0H116.2V-50.8H114.0ZM-77.4,-54.9H-75.2V-52.8H-77.4ZM32.0,-54.9H34.2V-52.8H32.0ZM44.4,-54.9H48.7V-52.8H44.4ZM63.0,-54.9H65.2V-52.8H63.0ZM114.6,-54.9H116.8V-52.8H114.6ZM-94.7,-56.9H-92.5V-54.8H-94.7ZM-78.4,-56.9H-76.2V-54.8H-78.4ZM39.7,-56.9H48.0V-54.8H39.7ZM62.1,-56.9H66.3V-54.8H62.1ZM68.2,-56.9H72.4V-54.8H68.2ZM74.3,-56.9H76.5V-54.8H74.3ZM-83.2,-58.8H-81.1V-56.7H-83.2ZM-78.0,-60.7H-75.8V-58.7H-78.0ZM18.8,-60.7H20.9V-58.7H18.8ZM22.3,-62.6H24.4V-60.6H22.3ZM26.2,-62.6H28.3V-60.6H26.2ZM47.6,-62.6H51.6V-60.6H47.6ZM61.2,-62.6H63.2V-60.6H61.2ZM70.9,-62.6H73.0V-60.6H70.9ZM74.7,-62.6H76.8V-60.6H74.7ZM90.3,-62.6H92.4V-60.6H90.3ZM-94.4,-64.5H-92.4V-62.5H-94.4ZM29.6,-64.5H31.6V-62.5H29.6ZM35.3,-64.5H37.4V-62.5H35.3ZM56.3,-64.5H60.2V-62.5H56.3ZM63.9,-64.5H66.0V-62.5H63.9ZM-109.6,-66.4H-107.6V-64.4H-109.6ZM-87.1,-66.4H-85.1V-64.4H-87.1ZM70.3,-66.4H72.3V-64.4H70.3ZM90.9,-66.4H92.9V-64.4H90.9ZM-114.9,-68.2H-112.9V-66.2H-114.9ZM49.6,-70.0H51.5V-68.0H49.6ZM55.0,-70.0H56.9V-68.0H55.0ZM98.2,-70.0H100.2V-68.0H98.2ZM46.8,-71.7H48.7V-69.8H46.8ZM52.1,-71.7H55.8V-69.8H52.1ZM-109.8,-73.5H-107.9V-71.6H-109.8ZM44.1,-73.5H46.0V-71.6H44.1ZM47.5,-73.5H49.4V-71.6H47.5ZM76.9,-73.5H78.8V-71.6H76.9ZM61.9,-76.8H63.7V-75.0H61.9Z"/><path fill="#ffb400" d="M-64.5,49.0H-62.3V51.1H-64.5ZM148.8,46.9H151.1V49.1H148.8ZM124.5,44.9H128.9V47.1H124.5ZM127.9,42.9H130.3V45.1H127.9ZM145.4,42.9H147.8V45.1H145.4ZM-58.5,40.9H-56.1V43.1H-58.5ZM-61.2,38.8H-58.9V41.0H-61.2ZM-50.1,38.8H-47.7V41.0H-50.1ZM-59.5,36.8H-57.1V39.0H-59.5ZM126.8,36.8H129.2V39.0H126.8ZM-59.9,34.7H-57.5V36.9H-59.9ZM-48.6,34.7H-46.2V36.9H-48.6ZM100.6,34.7H103.1V36.9H100.6ZM-46.7,32.7H-44.3V34.9H-46.7ZM28.5,32.7H30.9V34.9H28.5ZM133.2,32.7H137.9V34.9H133.2ZM-56.1,30.7H-53.7V32.8H-56.1ZM-44.7,30.7H-42.2V32.8H-44.7ZM28.6,30.7H31.1V32.8H28.6ZM136.3,30.7H138.8V32.8H136.3ZM137.1,28.6H139.5V30.8H137.1ZM-54.4,26.6H-51.9V28.8H-54.4ZM-42.8,26.6H-40.4V28.8H-42.8ZM26.6,26.6H29.1V28.8H26.6ZM137.7,26.6H140.2V28.8H137.7ZM-54.6,24.5H-52.1V26.7H-54.6ZM26.7,24.5H29.2V26.7H26.7ZM-54.8,22.5H-52.3V24.7H-54.8ZM29.2,22.5H31.6V24.7H29.2ZM-55.0,20.4H-52.5V22.6H-55.0ZM31.6,20.4H36.4V22.6H31.6ZM38.6,20.4H41.1V22.6H38.6ZM-55.2,18.4H-52.7V20.6H-55.2ZM31.7,18.4H34.2V20.6H31.7ZM38.7,18.4H41.2V20.6H38.7ZM-57.7,16.3H-55.2V18.5H-57.7ZM24.7,16.3H27.2V18.5H24.7ZM29.4,16.3H31.9V18.5H29.4ZM36.5,16.3H39.0V18.5H36.5ZM-64.9,14.3H-60.0V16.5H-64.9ZM-43.7,14.3H-41.2V16.5H-43.7ZM22.4,14.3H24.9V16.5H22.4ZM29.5,14.3H32.0V16.5H29.5ZM-65.1,12.3H-62.5V14.5H-65.1ZM-60.3,12.3H-55.4V14.5H-60.3ZM27.2,12.3H29.7V14.5H27.2ZM-60.4,10.2H-57.9V12.4H-60.4ZM-55.7,10.2H-48.4V12.4H-55.7ZM119.7,10.2H122.2V12.4H119.7ZM-46.3,8.2H-43.8V10.4H-46.3ZM10.7,8.2H13.2V10.4H10.7ZM22.6,8.2H25.1V10.4H22.6ZM27.3,8.2H29.8V10.4H27.3ZM98.5,8.2H101.0V10.4H98.5ZM22.6,6.1H25.1V8.3H22.6ZM93.9,6.1H96.4V8.3H93.9ZM8.3,4.1H10.9V6.3H8.3ZM22.6,4.1H25.1V6.3H22.6ZM32.1,4.1H34.6V6.3H32.1ZM36.9,4.1H39.4V6.3H36.9ZM103.5,4.1H106.0V6.3H103.5ZM-48.8,2.0H-46.3V4.2H-48.8ZM10.7,2.0H13.2V4.2H10.7ZM22.6,2.0H27.5V4.2H22.6ZM29.8,2.0H32.3V4.2H29.8ZM91.7,2.0H94.2V4.2H91.7ZM-48.8,0.0H-46.3V2.2H-48.8ZM13.1,0.0H15.6V2.2H13.1ZM25.0,0.0H27.5V2.2H25.0ZM101.2,0.0H103.8V2.2H101.2ZM113.1,0.0H118.0V2.2H113.1ZM13.1,-2.0H15.6V0.1H13.1ZM25.0,-2.0H27.5V0.1H25.0ZM32.2,-2.0H34.7V0.1H32.2ZM89.3,-2.0H91.8V0.1H89.3ZM101.2,-2.0H103.8V0.1H101.2ZM113.1,-2.0H115.7V0.1H113.1ZM-70.2,-4.1H-67.7V-1.9H-70.2ZM25.0,-4.1H29.9V-1.9H25.0ZM101.2,-4.1H103.7V-1.9H101.2ZM113.1,-4.1H115.6V-1.9H113.1ZM-74.9,-6.1H-72.4V-3.9H-74.9ZM-10.7,-6.1H-8.2V-3.9H-10.7ZM10.7,-6.1H13.2V-3.9H10.7ZM22.6,-6.1H25.1V-3.9H22.6ZM34.5,-6.1H37.0V-3.9H34.5ZM101.1,-6.1H103.6V-3.9H101.1ZM115.4,-6.1H117.9V-3.9H115.4ZM77.2,-8.2H79.8V-6.0H77.2ZM120.0,-8.2H122.5V-6.0H120.0ZM100.9,-10.2H103.4V-8.0H100.9ZM108.0,-10.2H110.5V-8.0H108.0ZM1.2,-12.3H8.4V-10.1H1.2ZM-86.4,-14.3H-83.8V-12.1H-86.4ZM1.2,-14.3H10.8V-12.1H1.2ZM1.2,-16.3H3.7V-14.2H1.2ZM5.9,-16.3H13.1V-14.2H5.9ZM79.1,-16.3H81.6V-14.2H79.1ZM-93.0,-18.4H-90.5V-16.2H-93.0ZM-76.5,-18.4H-74.0V-16.2H-76.5ZM74.2,-18.4H76.7V-16.2H74.2ZM78.9,-18.4H81.4V-16.2H78.9ZM109.5,-18.4H112.0V-16.2H109.5ZM-78.6,-20.4H-76.1V-18.2H-78.6ZM78.6,-20.4H81.1V-18.2H78.6ZM-94.8,-22.5H-92.3V-20.3H-94.8ZM76.0,-22.5H78.5V-20.3H76.0ZM80.7,-22.5H83.2V-20.3H80.7ZM-82.8,-24.5H-80.3V-22.3H-82.8ZM75.8,-24.5H78.3V-22.3H75.8ZM80.5,-24.5H82.9V-22.3H80.5ZM101.5,-24.5H103.9V-22.3H101.5ZM110.8,-24.5H113.3V-22.3H110.8ZM-94.1,-26.6H-87.0V-24.4H-94.1ZM-68.6,-26.6H-66.1V-24.4H-68.6ZM66.2,-26.6H71.0V-24.4H66.2ZM73.2,-26.6H78.0V-24.4H73.2ZM82.5,-26.6H85.0V-24.4H82.5ZM96.4,-26.6H98.9V-24.4H96.4ZM-91.4,-28.6H-89.0V-26.4H-91.4ZM-79.9,-28.6H-77.4V-26.4H-79.9ZM68.3,-28.6H70.7V-26.4H68.3ZM75.2,-28.6H77.7V-26.4H75.2ZM82.2,-28.6H84.6V-26.4H82.2ZM77.2,-30.7H79.6V-28.5H77.2ZM88.7,-30.7H93.4V-28.5H88.7ZM-79.0,-32.7H-76.6V-30.5H-79.0ZM65.3,-32.7H72.3V-30.5H65.3ZM74.5,-32.7H76.9V-30.5H74.5ZM81.3,-32.7H83.8V-30.5H81.3ZM90.5,-32.7H92.9V-30.5H90.5ZM-89.9,-34.7H-87.5V-32.5H-89.9ZM-73.5,-36.8H-71.1V-34.6H-73.5ZM-88.0,-40.9H-85.6V-38.7H-88.0ZM-89.4,-42.9H-87.1V-40.7H-89.4ZM-67.3,-42.9H-65.0V-40.7H-67.3ZM14.4,-42.9H18.9V-40.7H14.4ZM107.1,-42.9H109.4V-40.7H107.1ZM-92.9,-44.9H-88.4V-42.8H-92.9ZM12.0,-44.9H14.4V-42.8H12.0ZM23.0,-44.9H25.3V-42.8H23.0ZM-7.6,-46.9H-0.9V-44.8H-7.6ZM16.2,-46.9H18.5V-44.8H16.2ZM107.1,-46.9H111.6V-44.8H107.1ZM-91.0,-49.0H-88.7V-46.8H-91.0ZM-86.7,-49.0H-84.4V-46.8H-86.7ZM16.1,-49.0H22.6V-46.8H16.1ZM108.1,-49.0H114.7V-46.8H108.1ZM-89.9,-51.0H-87.7V-48.8H-89.9ZM13.8,-51.0H16.0V-48.8H13.8ZM109.0,-51.0H111.3V-48.8H109.0ZM-88.9,-53.0H-86.6V-50.8H-88.9ZM26.1,-53.0H28.4V-50.8H26.1ZM-93.9,-54.9H-91.7V-52.8H-93.9ZM27.9,-54.9H30.1V-52.8H27.9ZM35.6,-56.9H37.8V-54.8H35.6ZM100.8,-56.9H102.9V-54.8H100.8ZM113.0,-56.9H115.2V-54.8H113.0ZM35.1,-58.8H37.2V-56.7H35.1ZM53.1,-58.8H63.3V-56.7H53.1ZM69.2,-58.8H71.3V-56.7H69.2ZM16.8,-60.7H18.9V-58.7H16.8ZM38.5,-60.7H40.6V-58.7H38.5ZM48.4,-60.7H50.5V-58.7H48.4ZM52.3,-60.7H54.4V-58.7H52.3ZM62.2,-60.7H64.3V-58.7H62.2ZM76.0,-60.7H78.1V-58.7H76.0ZM39.8,-62.6H41.9V-60.6H39.8ZM43.7,-62.6H45.8V-60.6H43.7ZM57.3,-62.6H61.3V-60.6H57.3ZM63.1,-62.6H65.2V-60.6H63.1ZM114.9,-68.2H116.9V-66.2H114.9Z"/><path fill="#ff8214" d="M140.7,49.0H145.1V51.1H140.7ZM-65.3,46.9H-63.0V49.1H-65.3ZM-66.7,42.9H-64.4V45.1H-66.7ZM125.7,42.9H128.1V45.1H125.7ZM151.2,40.9H153.6V43.1H151.2ZM-59.0,38.8H-54.4V41.0H-59.0ZM157.0,38.8H159.4V41.0H157.0ZM-57.2,36.8H-54.9V39.0H-57.2ZM102.1,36.8H106.8V39.0H102.1ZM124.6,36.8H127.0V39.0H124.6ZM129.1,36.8H133.7V39.0H129.1ZM132.3,34.7H134.7V36.9H132.3ZM-60.3,32.7H-55.6V34.9H-60.3ZM-49.0,32.7H-46.5V34.9H-49.0ZM26.3,30.7H28.8V32.8H26.3ZM102.0,30.7H104.4V32.8H102.0ZM138.6,30.7H143.3V32.8H138.6ZM26.5,28.6H33.6V30.8H26.5ZM139.4,28.6H141.8V30.8H139.4ZM28.9,26.6H31.4V28.8H28.9ZM140.0,26.6H142.5V28.8H140.0ZM40.7,24.5H43.1V26.7H40.7ZM138.3,24.5H140.8V26.7H138.3ZM26.8,22.5H29.3V24.7H26.8ZM-52.8,18.4H-50.3V20.6H-52.8ZM27.0,18.4H31.8V20.6H27.0ZM34.0,18.4H36.5V20.6H34.0ZM27.1,16.3H29.6V18.5H27.1ZM-57.8,14.3H-55.3V16.5H-57.8ZM34.2,14.3H36.7V16.5H34.2ZM-46.1,12.3H-43.6V14.5H-46.1ZM-65.2,10.2H-62.7V12.4H-65.2ZM-46.2,10.2H-43.7V12.4H-46.2ZM13.1,8.2H15.6V10.4H13.1ZM103.3,8.2H105.8V10.4H103.3ZM110.4,8.2H117.6V10.4H110.4ZM-46.3,6.1H-43.8V8.3H-46.3ZM10.7,4.1H15.6V6.3H10.7ZM113.0,4.1H115.5V6.3H113.0ZM-46.4,2.0H-43.9V4.2H-46.4ZM13.1,2.0H15.6V4.2H13.1ZM27.4,2.0H29.9V4.2H27.4ZM115.5,2.0H118.0V4.2H115.5ZM27.4,0.0H29.9V2.2H27.4ZM32.2,0.0H34.7V2.2H32.2ZM29.8,-2.0H32.3V0.1H29.8ZM106.0,-2.0H110.9V0.1H106.0ZM108.3,-4.1H110.8V-1.9H108.3ZM-67.8,-6.1H-65.3V-3.9H-67.8ZM27.4,-6.1H29.9V-3.9H27.4ZM10.7,-10.2H13.2V-8.0H10.7ZM72.4,-10.2H74.9V-8.0H72.4ZM-67.5,-12.3H-65.0V-10.1H-67.5ZM8.3,-12.3H13.2V-10.1H8.3ZM103.1,-12.3H105.6V-10.1H103.1ZM-13.0,-14.3H-10.5V-12.1H-13.0ZM-1.2,-14.3H1.3V-12.1H-1.2ZM10.6,-14.3H13.2V-12.1H10.6ZM98.2,-14.3H103.1V-12.1H98.2ZM90.9,-16.3H95.8V-14.2H90.9ZM98.0,-16.3H105.2V-14.2H98.0ZM88.3,-18.4H90.8V-16.2H88.3ZM-64.6,-20.4H-62.1V-18.2H-64.6ZM90.4,-20.4H92.9V-18.2H90.4ZM102.1,-20.4H107.0V-18.2H102.1ZM-80.7,-22.5H-78.2V-20.3H-80.7ZM-94.5,-24.5H-92.0V-22.3H-94.5ZM78.1,-24.5H80.6V-22.3H78.1ZM87.5,-24.5H99.3V-22.3H87.5ZM-96.4,-26.6H-94.0V-24.4H-96.4ZM77.9,-26.6H80.3V-24.4H77.9ZM77.5,-28.6H80.0V-26.4H77.5ZM96.1,-28.6H98.5V-26.4H96.1ZM65.7,-30.7H77.3V-28.5H65.7ZM86.4,-30.7H88.8V-28.5H86.4ZM72.2,-32.7H74.6V-30.5H72.2ZM79.0,-32.7H81.5V-30.5H79.0ZM83.6,-32.7H90.7V-30.5H83.6ZM95.1,-32.7H97.5V-30.5H95.1ZM111.1,-32.7H113.6V-30.5H111.1ZM94.5,-34.7H96.9V-32.5H94.5ZM-91.6,-36.8H-86.9V-34.6H-91.6ZM93.9,-36.8H96.3V-34.6H93.9ZM12.1,-42.9H14.5V-40.7H12.1ZM-66.7,-44.9H-64.4V-42.8H-66.7ZM14.2,-44.9H18.7V-42.8H14.2ZM20.8,-44.9H23.1V-42.8H20.8ZM11.9,-46.9H14.2V-44.8H11.9ZM20.6,-46.9H25.0V-44.8H20.6ZM13.9,-49.0H16.2V-46.8H13.9ZM22.5,-49.0H24.8V-46.8H22.5ZM106.0,-49.0H108.3V-46.8H106.0ZM22.2,-51.0H24.5V-48.8H22.2ZM111.1,-51.0H113.4V-48.8H111.1ZM-91.0,-53.0H-88.7V-50.8H-91.0ZM109.8,-53.0H112.0V-50.8H109.8ZM-79.5,-54.9H-77.3V-52.8H-79.5ZM25.8,-54.9H28.0V-52.8H25.8ZM112.5,-54.9H114.7V-52.8H112.5ZM-80.4,-56.9H-78.2V-54.8H-80.4ZM15.3,-56.9H19.5V-54.8H15.3ZM27.5,-56.9H29.7V-54.8H27.5ZM33.6,-56.9H35.8V-54.8H33.6ZM102.8,-56.9H107.0V-54.8H102.8ZM110.9,-56.9H113.1V-54.8H110.9ZM-93.3,-58.8H-89.1V-56.7H-93.3ZM25.1,-58.8H27.2V-56.7H25.1ZM33.1,-58.8H35.2V-56.7H33.1ZM41.1,-58.8H47.3V-56.7H41.1ZM49.1,-58.8H51.3V-56.7H49.1ZM63.2,-58.8H69.3V-56.7H63.2ZM75.2,-58.8H77.4V-56.7H75.2ZM24.7,-60.7H30.7V-58.7H24.7ZM36.5,-60.7H38.6V-58.7H36.5ZM42.4,-60.7H44.6V-58.7H42.4ZM50.3,-60.7H52.5V-58.7H50.3ZM56.3,-60.7H60.4V-58.7H56.3ZM64.2,-60.7H68.3V-58.7H64.2ZM74.0,-60.7H76.1V-58.7H74.0ZM24.3,-62.6H26.4V-60.6H24.3ZM28.2,-62.6H30.2V-60.6H28.2ZM41.7,-62.6H43.8V-60.6H41.7ZM45.6,-62.6H47.7V-60.6H45.6ZM51.4,-62.6H57.4V-60.6H51.4ZM65.0,-62.6H71.0V-60.6H65.0ZM33.4,-64.5H35.4V-62.5H33.4Z"/><path fill="#ff3200" d="M142.4,46.9H148.9V49.1H142.4ZM-66.0,44.9H-63.7V47.1H-66.0ZM146.1,44.9H152.7V47.1H146.1ZM147.6,42.9H149.9V45.1H147.6ZM-56.3,40.9H-53.9V43.1H-56.3ZM126.9,40.9H135.9V43.1H126.9ZM153.4,40.9H158.0V43.1H153.4ZM-52.3,38.8H-50.0V41.0H-52.3ZM125.8,38.8H128.2V41.0H125.8ZM130.3,38.8H132.7V41.0H130.3ZM134.7,38.8H137.1V41.0H134.7ZM154.8,38.8H157.2V41.0H154.8ZM-55.0,36.8H-52.6V39.0H-55.0ZM-50.5,36.8H-48.1V39.0H-50.5ZM-57.7,34.7H-55.3V36.9H-57.7ZM105.2,34.7H107.6V36.9H105.2ZM134.6,34.7H137.0V36.9H134.6ZM-55.8,32.7H-53.4V34.9H-55.8ZM105.9,32.7H108.3V34.9H105.9ZM140.0,32.7H142.5V34.9H140.0ZM104.2,30.7H109.0V32.8H104.2ZM-54.1,28.6H-51.7V30.8H-54.1ZM-43.0,24.5H-40.5V26.7H-43.0ZM29.1,24.5H33.8V26.7H29.1ZM43.0,24.5H45.5V26.7H43.0ZM-52.5,22.5H-50.0V24.7H-52.5ZM-40.8,22.5H-38.3V24.7H-40.8ZM40.8,22.5H43.3V24.7H40.8ZM26.9,20.4H29.4V22.6H26.9ZM-41.1,18.4H-38.6V20.6H-41.1ZM45.8,18.4H48.3V20.6H45.8ZM-55.3,16.3H-52.8V18.5H-55.3ZM31.8,16.3H34.3V18.5H31.8ZM41.2,16.3H43.7V18.5H41.2ZM31.9,14.3H34.4V16.5H31.9ZM41.3,14.3H43.8V16.5H41.3ZM-55.6,12.3H-53.1V14.5H-55.6ZM-50.9,12.3H-46.0V14.5H-50.9ZM41.4,12.3H43.9V14.5H41.4ZM46.1,12.3H48.6V14.5H46.1ZM100.9,8.2H103.4V10.4H100.9ZM105.6,8.2H110.5V10.4H105.6ZM117.5,8.2H122.4V10.4H117.5ZM10.7,6.1H15.6V8.3H10.7ZM101.0,6.1H103.5V8.3H101.0ZM105.9,2.0H110.8V4.2H105.9ZM-46.4,0.0H-43.9V2.2H-46.4ZM29.8,0.0H32.3V2.2H29.8ZM108.4,0.0H110.9V2.2H108.4ZM103.6,-2.0H106.1V0.1H103.6ZM89.3,-4.1H91.8V-1.9H89.3ZM105.9,-4.1H108.5V-1.9H105.9ZM-8.3,-6.1H-3.4V-3.9H-8.3ZM3.6,-6.1H10.9V-3.9H3.6ZM103.5,-6.1H106.0V-3.9H103.5ZM113.0,-6.1H115.5V-3.9H113.0ZM-72.5,-8.2H-70.0V-6.0H-72.5ZM-13.1,-8.2H-10.5V-6.0H-13.1ZM72.5,-8.2H77.4V-6.0H72.5ZM117.6,-8.2H120.2V-6.0H117.6ZM-72.4,-10.2H-65.1V-8.0H-72.4ZM-15.4,-10.2H-12.9V-8.0H-15.4ZM-5.9,-10.2H-3.4V-8.0H-5.9ZM3.6,-10.2H6.1V-8.0H3.6ZM74.8,-10.2H77.3V-8.0H74.8ZM-81.8,-12.3H-76.9V-10.1H-81.8ZM-15.4,-12.3H-12.9V-10.1H-15.4ZM-1.2,-12.3H1.3V-10.1H-1.2ZM98.4,-12.3H103.3V-10.1H98.4ZM-84.0,-14.3H-81.5V-12.1H-84.0ZM-76.9,-14.3H-74.4V-12.1H-76.9ZM-10.6,-14.3H-8.1V-12.1H-10.6ZM-3.5,-14.3H-1.0V-12.1H-3.5ZM88.7,-14.3H91.2V-12.1H88.7ZM93.4,-14.3H96.0V-12.1H93.4ZM102.9,-14.3H105.4V-12.1H102.9ZM-86.2,-16.3H-83.7V-14.2H-86.2ZM88.5,-16.3H91.0V-14.2H88.5ZM95.6,-16.3H98.1V-14.2H95.6ZM-90.6,-18.4H-88.1V-16.2H-90.6ZM-78.9,-18.4H-76.4V-16.2H-78.9ZM93.0,-18.4H95.5V-16.2H93.0ZM97.7,-18.4H100.2V-16.2H97.7ZM102.4,-18.4H104.9V-16.2H102.4ZM-81.0,-20.4H-78.5V-18.2H-81.0ZM95.1,-20.4H97.6V-18.2H95.1ZM-83.1,-22.5H-80.6V-20.3H-83.1ZM-78.4,-22.5H-71.2V-20.3H-78.4ZM-69.0,-22.5H-66.5V-20.3H-69.0ZM87.7,-22.5H90.2V-20.3H87.7ZM97.1,-22.5H106.6V-20.3H97.1ZM111.1,-22.5H113.6V-20.3H111.1ZM-89.8,-24.5H-87.3V-22.3H-89.8ZM-80.5,-24.5H-78.0V-22.3H-80.5ZM99.1,-24.5H101.6V-22.3H99.1ZM106.1,-24.5H108.6V-22.3H106.1ZM-80.2,-26.6H-77.7V-24.4H-80.2ZM80.2,-26.6H82.7V-24.4H80.2ZM98.8,-26.6H101.2V-24.4H98.8ZM110.4,-26.6H112.9V-24.4H110.4ZM79.9,-28.6H82.3V-26.4H79.9ZM100.7,-28.6H103.1V-26.4H100.7ZM107.6,-28.6H112.4V-26.4H107.6ZM81.8,-30.7H86.5V-28.5H81.8ZM107.1,-30.7H111.9V-28.5H107.1ZM106.5,-32.7H111.3V-30.5H106.5ZM-80.8,-34.7H-76.1V-32.5H-80.8ZM-74.0,-34.7H-69.3V-32.5H-74.0ZM105.9,-34.7H108.3V-32.5H105.9ZM96.1,-36.8H98.5V-34.6H96.1ZM100.6,-36.8H105.3V-34.6H100.6ZM-73.0,-38.8H-70.6V-36.6H-73.0ZM-70.2,-40.9H-67.8V-38.7H-70.2ZM-68.9,-44.9H-66.5V-42.8H-68.9ZM-85.5,-46.9H-83.2V-44.8H-85.5ZM-76.8,-46.9H-74.5V-44.8H-76.8ZM-70.3,-46.9H-68.0V-44.8H-70.3ZM-84.6,-49.0H-82.3V-46.8H-84.6ZM-87.8,-51.0H-81.3V-48.8H-87.8ZM-77.2,-51.0H-75.0V-48.8H-77.2ZM15.9,-51.0H18.1V-48.8H15.9ZM104.8,-51.0H107.0V-48.8H104.8ZM113.2,-51.0H115.5V-48.8H113.2ZM-82.6,-53.0H-80.4V-50.8H-82.6ZM13.6,-53.0H15.8V-50.8H13.6ZM17.8,-53.0H20.0V-50.8H17.8ZM105.6,-53.0H107.8V-50.8H105.6ZM111.9,-53.0H114.1V-50.8H111.9ZM-91.9,-54.9H-89.6V-52.8H-91.9ZM-83.6,-54.9H-81.4V-52.8H-83.6ZM13.4,-54.9H15.6V-52.8H13.4ZM29.9,-54.9H32.1V-52.8H29.9ZM104.2,-54.9H106.5V-52.8H104.2ZM108.4,-54.9H112.7V-52.8H108.4ZM-92.6,-56.9H-90.4V-54.8H-92.6ZM13.2,-56.9H15.4V-54.8H13.2ZM21.4,-56.9H25.6V-54.8H21.4ZM31.6,-56.9H33.7V-54.8H31.6ZM-89.2,-58.8H-87.1V-56.7H-89.2ZM-85.2,-58.8H-83.1V-56.7H-85.2ZM17.0,-58.8H23.2V-56.7H17.0ZM27.1,-58.8H33.2V-56.7H27.1ZM37.1,-58.8H39.3V-56.7H37.1ZM47.1,-58.8H49.3V-56.7H47.1ZM71.2,-58.8H75.4V-56.7H71.2ZM20.7,-60.7H24.8V-58.7H20.7ZM54.3,-60.7H56.4V-58.7H54.3ZM68.1,-60.7H72.2V-58.7H68.1ZM30.1,-62.6H32.2V-60.6H30.1ZM34.0,-62.6H36.1V-60.6H34.0ZM37.9,-62.6H39.9V-60.6H37.9Z"/><path fill="#e60000" d="M140.2,46.9H142.5V49.1H140.2ZM141.8,44.9H146.2V47.1H141.8ZM149.8,42.9H154.3V45.1H149.8ZM-54.6,38.8H-52.2V41.0H-54.6ZM128.1,38.8H130.4V41.0H128.1ZM132.5,38.8H134.9V41.0H132.5ZM-52.8,36.8H-50.4V39.0H-52.8ZM133.6,36.8H140.5V39.0H133.6ZM-55.4,34.7H-48.5V36.9H-55.4ZM102.9,34.7H105.3V36.9H102.9ZM136.8,34.7H141.5V36.9H136.8ZM101.3,32.7H106.0V34.9H101.3ZM137.8,32.7H140.2V34.9H137.8ZM-53.8,30.7H-51.4V32.8H-53.8ZM-47.0,30.7H-44.5V32.8H-47.0ZM-44.9,28.6H-42.5V30.8H-44.9ZM-52.1,26.6H-49.6V28.8H-52.1ZM-52.3,24.5H-49.8V26.7H-52.3ZM45.3,24.5H47.8V26.7H45.3ZM-47.8,22.5H-45.3V24.7H-47.8ZM43.1,22.5H48.0V24.7H43.1ZM-52.6,20.4H-50.2V22.6H-52.6ZM-40.9,20.4H-38.5V22.6H-40.9ZM29.2,20.4H31.7V22.6H29.2ZM40.9,20.4H43.4V22.6H40.9ZM45.6,20.4H48.1V22.6H45.6ZM-50.5,18.4H-48.0V20.6H-50.5ZM-45.8,18.4H-43.3V20.6H-45.8ZM41.1,18.4H43.6V20.6H41.1ZM-53.0,16.3H-45.8V18.5H-53.0ZM-43.6,16.3H-41.1V18.5H-43.6ZM43.6,16.3H48.4V18.5H43.6ZM-55.5,14.3H-53.0V16.5H-55.5ZM-50.8,14.3H-48.2V16.5H-50.8ZM-46.0,14.3H-43.5V16.5H-46.0ZM46.0,14.3H48.5V16.5H46.0ZM43.8,12.3H46.3V14.5H43.8ZM96.3,6.1H101.2V8.3H96.3ZM-46.4,4.1H-43.9V6.3H-46.4ZM94.0,4.1H96.5V6.3H94.0ZM101.1,4.1H103.6V6.3H101.1ZM94.0,2.0H96.6V4.2H94.0ZM101.2,2.0H106.1V4.2H101.2ZM110.7,2.0H115.6V4.2H110.7ZM91.7,0.0H94.2V2.2H91.7ZM103.6,0.0H108.5V2.2H103.6ZM110.7,0.0H113.3V2.2H110.7ZM98.8,-2.0H101.4V0.1H98.8ZM110.7,-2.0H113.3V0.1H110.7ZM91.7,-4.1H94.2V-1.9H91.7ZM98.8,-4.1H101.3V-1.9H98.8ZM110.7,-4.1H113.2V-1.9H110.7ZM-72.6,-6.1H-67.6V-3.9H-72.6ZM-3.6,-6.1H-1.0V-3.9H-3.6ZM89.2,-6.1H91.7V-3.9H89.2ZM98.7,-6.1H101.3V-3.9H98.7ZM105.9,-6.1H108.4V-3.9H105.9ZM110.6,-6.1H113.1V-3.9H110.6ZM-70.1,-8.2H-67.6V-6.0H-70.1ZM-10.7,-8.2H-1.0V-6.0H-10.7ZM8.3,-8.2H10.8V-6.0H8.3ZM89.1,-8.2H94.0V-6.0H89.1ZM105.8,-8.2H113.0V-6.0H105.8ZM115.3,-8.2H117.8V-6.0H115.3ZM-3.6,-10.2H-1.0V-8.0H-3.6ZM5.9,-10.2H10.8V-8.0H5.9ZM110.4,-10.2H112.9V-8.0H110.4ZM117.5,-10.2H122.4V-8.0H117.5ZM-8.3,-12.3H-1.0V-10.1H-8.3ZM88.9,-12.3H91.4V-10.1H88.9ZM93.6,-12.3H98.5V-10.1H93.6ZM110.2,-12.3H112.7V-10.1H110.2ZM-8.3,-14.3H-5.8V-12.1H-8.3ZM91.1,-14.3H93.6V-12.1H91.1ZM95.8,-14.3H98.3V-12.1H95.8ZM110.0,-14.3H112.5V-12.1H110.0ZM119.5,-14.3H122.0V-12.1H119.5ZM-79.1,-16.3H-74.2V-14.2H-79.1ZM109.8,-16.3H112.3V-14.2H109.8ZM-88.3,-18.4H-83.4V-16.2H-88.3ZM95.4,-18.4H97.9V-16.2H95.4ZM111.8,-18.4H114.3V-16.2H111.8ZM-92.7,-20.4H-90.2V-18.2H-92.7ZM-88.0,-20.4H-85.5V-18.2H-88.0ZM88.0,-20.4H90.5V-18.2H88.0ZM92.7,-20.4H95.2V-18.2H92.7ZM97.4,-20.4H102.3V-18.2H97.4ZM111.5,-20.4H114.0V-18.2H111.5ZM-92.4,-22.5H-89.9V-20.3H-92.4ZM-87.7,-22.5H-82.9V-20.3H-87.7ZM-71.4,-22.5H-68.9V-20.3H-71.4ZM-66.7,-22.5H-61.9V-20.3H-66.7ZM90.1,-22.5H97.3V-20.3H90.1ZM113.5,-22.5H116.0V-20.3H113.5ZM-92.1,-24.5H-89.6V-22.3H-92.1ZM-71.1,-24.5H-68.7V-22.3H-71.1ZM-66.5,-24.5H-61.7V-22.3H-66.5ZM103.8,-24.5H106.3V-22.3H103.8ZM-77.9,-26.6H-68.4V-24.4H-77.9ZM101.1,-26.6H103.6V-24.4H101.1ZM105.7,-26.6H110.5V-24.4H105.7ZM-77.5,-28.6H-75.1V-26.4H-77.5ZM-72.9,-28.6H-70.4V-26.4H-72.9ZM98.4,-28.6H100.8V-26.4H98.4ZM103.0,-28.6H105.5V-26.4H103.0ZM-77.2,-30.7H-74.7V-28.5H-77.2ZM95.6,-30.7H100.4V-28.5H95.6ZM104.8,-30.7H107.3V-28.5H104.8ZM-76.8,-32.7H-69.7V-30.5H-76.8ZM97.4,-32.7H99.8V-30.5H97.4ZM102.0,-32.7H104.4V-30.5H102.0ZM-85.4,-34.7H-83.0V-32.5H-85.4ZM96.8,-34.7H103.8V-32.5H96.8ZM-80.3,-36.8H-73.4V-34.6H-80.3ZM-88.7,-38.8H-84.0V-36.6H-88.7ZM-85.7,-40.9H-83.4V-38.7H-85.7ZM-79.1,-40.9H-76.7V-38.7H-79.1ZM-69.5,-42.9H-67.2V-40.7H-69.5ZM-84.2,-44.9H-81.9V-42.8H-84.2ZM-75.4,-44.9H-73.1V-42.8H-75.4ZM-71.1,-44.9H-68.7V-42.8H-71.1ZM-83.3,-46.9H-81.0V-44.8H-83.3ZM-79.0,-46.9H-76.7V-44.8H-79.0ZM-72.5,-46.9H-70.2V-44.8H-72.5ZM-80.3,-49.0H-75.8V-46.8H-80.3ZM18.0,-51.0H22.4V-48.8H18.0ZM106.9,-51.0H109.1V-48.8H106.9ZM-86.8,-53.0H-84.5V-50.8H-86.8ZM-80.5,-53.0H-76.2V-50.8H-80.5ZM15.7,-53.0H17.9V-50.8H15.7ZM19.9,-53.0H24.2V-50.8H19.9ZM107.7,-53.0H109.9V-50.8H107.7ZM-87.7,-54.9H-85.5V-52.8H-87.7ZM15.5,-54.9H21.8V-52.8H15.5ZM23.7,-54.9H26.0V-52.8H23.7ZM-90.6,-56.9H-88.4V-54.8H-90.6ZM-84.5,-56.9H-80.3V-54.8H-84.5ZM19.3,-56.9H21.5V-54.8H19.3ZM25.4,-56.9H27.6V-54.8H25.4ZM106.9,-56.9H111.1V-54.8H106.9ZM-87.2,-58.8H-85.1V-56.7H-87.2ZM23.1,-58.8H25.2V-56.7H23.1ZM39.1,-58.8H41.3V-56.7H39.1ZM40.5,-60.7H42.6V-58.7H40.5ZM44.4,-60.7H46.5V-58.7H44.4ZM60.2,-60.7H62.3V-58.7H60.2ZM72.0,-60.7H74.2V-58.7H72.0ZM35.9,-62.6H38.0V-60.6H35.9ZM31.5,-64.5H33.5V-62.5H31.5Z"/><path fill="#d23232" d="M-53.5,32.7H-48.8V34.9H-53.5ZM-51.6,30.7H-46.8V32.8H-51.6ZM-51.8,28.6H-44.8V30.8H-51.8ZM-49.8,26.6H-42.7V28.8H-49.8ZM-50.0,24.5H-42.8V26.7H-50.0ZM-50.1,22.5H-47.7V24.7H-50.1ZM-45.5,22.5H-40.7V24.7H-45.5ZM-50.3,20.4H-40.8V22.6H-50.3ZM43.3,20.4H45.8V22.6H43.3ZM-48.1,18.4H-45.6V20.6H-48.1ZM-43.4,18.4H-40.9V20.6H-43.4ZM43.4,18.4H45.9V20.6H43.4ZM-45.9,16.3H-43.4V18.5H-45.9ZM-53.1,14.3H-50.6V16.5H-53.1ZM-48.4,14.3H-45.9V16.5H-48.4ZM43.7,14.3H46.2V16.5H43.7ZM-53.2,12.3H-50.7V14.5H-53.2ZM96.3,4.1H101.3V6.3H96.3ZM96.4,2.0H101.3V4.2H96.4ZM94.1,0.0H101.4V2.2H94.1ZM91.7,-2.0H99.0V0.1H91.7ZM94.0,-4.1H98.9V-1.9H94.0ZM103.6,-4.1H106.1V-1.9H103.6ZM-1.2,-6.1H3.7V-3.9H-1.2ZM91.6,-6.1H98.9V-3.9H91.6ZM108.2,-6.1H110.8V-3.9H108.2ZM-1.2,-8.2H8.5V-6.0H-1.2ZM93.9,-8.2H101.2V-6.0H93.9ZM112.9,-8.2H115.4V-6.0H112.9ZM-13.1,-10.2H-5.8V-8.0H-13.1ZM-1.2,-10.2H3.7V-8.0H-1.2ZM91.4,-10.2H101.0V-8.0H91.4ZM112.8,-10.2H117.6V-8.0H112.8ZM-13.0,-12.3H-8.1V-10.1H-13.0ZM91.2,-12.3H93.8V-10.1H91.2ZM112.6,-12.3H122.2V-10.1H112.6ZM-81.6,-14.3H-76.7V-12.1H-81.6ZM-5.9,-14.3H-3.4V-12.1H-5.9ZM112.4,-14.3H119.6V-12.1H112.4ZM-83.8,-16.3H-78.9V-14.2H-83.8ZM112.1,-16.3H121.7V-14.2H112.1ZM-83.6,-18.4H-78.7V-16.2H-83.6ZM90.6,-18.4H93.1V-16.2H90.6ZM100.1,-18.4H102.6V-16.2H100.1ZM114.2,-18.4H119.0V-16.2H114.2ZM-90.4,-20.4H-87.9V-18.2H-90.4ZM-85.7,-20.4H-80.8V-18.2H-85.7ZM113.8,-20.4H118.7V-18.2H113.8ZM-90.1,-22.5H-87.6V-20.3H-90.1ZM115.8,-22.5H118.3V-20.3H115.8ZM-78.1,-24.5H-71.0V-22.3H-78.1ZM-68.8,-24.5H-66.3V-22.3H-68.8ZM103.4,-26.6H105.9V-24.4H103.4ZM-75.2,-28.6H-72.8V-26.4H-75.2ZM105.3,-28.6H107.8V-26.4H105.3ZM-74.9,-30.7H-70.1V-28.5H-74.9ZM100.2,-30.7H105.0V-28.5H100.2ZM99.7,-32.7H102.1V-30.5H99.7ZM104.2,-32.7H106.7V-30.5H104.2ZM-83.1,-34.7H-80.7V-32.5H-83.1ZM-76.3,-34.7H-73.9V-32.5H-76.3ZM103.6,-34.7H106.0V-32.5H103.6ZM-87.1,-36.8H-80.1V-34.6H-87.1ZM98.4,-36.8H100.8V-34.6H98.4ZM-84.2,-38.8H-72.8V-36.6H-84.2ZM-83.5,-40.9H-78.9V-38.7H-83.5ZM-76.8,-40.9H-70.0V-38.7H-76.8ZM-85.0,-42.9H-69.4V-40.7H-85.0ZM-82.0,-44.9H-75.3V-42.8H-82.0ZM-73.3,-44.9H-70.9V-42.8H-73.3ZM-81.2,-46.9H-78.8V-44.8H-81.2ZM-74.7,-46.9H-72.4V-44.8H-74.7ZM-82.4,-49.0H-80.1V-46.8H-82.4ZM-81.5,-51.0H-77.1V-48.8H-81.5ZM-84.7,-53.0H-82.4V-50.8H-84.7ZM24.0,-53.0H26.3V-50.8H24.0ZM-89.8,-54.9H-87.6V-52.8H-89.8ZM-85.7,-54.9H-83.5V-52.8H-85.7ZM-81.5,-54.9H-79.3V-52.8H-81.5ZM21.7,-54.9H23.9V-52.8H21.7ZM106.3,-54.9H108.5V-52.8H106.3ZM-88.5,-56.9H-84.3V-54.8H-88.5ZM29.5,-56.9H31.7V-54.8H29.5ZM30.6,-60.7H36.7V-58.7H30.6ZM32.0,-62.6H34.1V-60.6H32.0Z"/></g><use href="#cst"/><use href="#frm"/></g><g transform="translate(524.8,497.25)"><g clip-path="url(#lc)" shape-rendering="crispEdges"><path fill="#ff0000" d="M-63.0,53.0H-60.7V55.1H-63.0ZM-66.7,49.0H-64.4V51.1H-66.7ZM-62.4,49.0H-60.2V51.1H-62.4ZM142.9,49.0H147.2V51.1H142.9ZM140.2,46.9H148.9V49.1H140.2ZM-66.0,44.9H-63.7V47.1H-66.0ZM-55.2,44.9H-52.9V47.1H-55.2ZM143.9,44.9H152.7V47.1H143.9ZM125.7,42.9H128.1V45.1H125.7ZM130.1,42.9H132.5V45.1H130.1ZM147.6,42.9H154.3V45.1H147.6ZM-65.1,40.9H-62.8V43.1H-65.1ZM126.9,40.9H131.5V43.1H126.9ZM133.6,40.9H135.9V43.1H133.6ZM153.4,40.9H155.8V43.1H153.4ZM-59.0,38.8H-47.7V41.0H-59.0ZM123.6,38.8H126.0V41.0H123.6ZM128.1,38.8H137.1V41.0H128.1ZM152.6,38.8H160.5V41.0H152.6ZM-57.2,36.8H-48.1V39.0H-57.2ZM102.1,36.8H106.8V39.0H102.1ZM124.6,36.8H129.2V39.0H124.6ZM131.3,36.8H136.0V39.0H131.3ZM138.1,36.8H140.5V39.0H138.1ZM-55.4,34.7H-48.5V36.9H-55.4ZM102.9,34.7H107.6V36.9H102.9ZM132.3,34.7H141.5V36.9H132.3ZM-64.9,32.7H-60.2V34.9H-64.9ZM-58.1,32.7H-48.8V34.9H-58.1ZM23.9,32.7H28.6V34.9H23.9ZM103.6,32.7H108.3V34.9H103.6ZM137.8,32.7H142.5V34.9H137.8ZM-56.1,30.7H-44.5V32.8H-56.1ZM26.3,30.7H28.8V32.8H26.3ZM102.0,30.7H109.0V32.8H102.0ZM138.6,30.7H141.1V32.8H138.6ZM-56.4,28.6H-54.0V30.8H-56.4ZM-51.8,28.6H-44.8V30.8H-51.8ZM24.2,28.6H31.2V30.8H24.2ZM137.1,28.6H144.1V30.8H137.1ZM-54.4,26.6H-42.7V28.8H-54.4ZM19.7,26.6H22.1V28.8H19.7ZM26.6,26.6H33.7V28.8H26.6ZM137.7,26.6H140.2V28.8H137.7ZM-54.6,24.5H-40.5V26.7H-54.6ZM29.1,24.5H33.8V26.7H29.1ZM43.0,24.5H47.8V26.7H43.0ZM138.3,24.5H145.4V26.7H138.3ZM-54.8,22.5H-40.7V24.7H-54.8ZM-38.5,22.5H-36.0V24.7H-38.5ZM29.2,22.5H36.3V24.7H29.2ZM40.8,22.5H48.0V24.7H40.8ZM141.1,22.5H145.9V24.7H141.1ZM-52.6,20.4H-38.5V22.6H-52.6ZM24.6,20.4H31.7V22.6H24.6ZM33.9,20.4H36.4V22.6H33.9ZM40.9,20.4H50.5V22.6H40.9ZM136.9,20.4H139.4V22.6H136.9ZM-64.6,18.4H-62.1V20.6H-64.6ZM-52.8,18.4H-38.6V20.6H-52.8ZM29.3,18.4H31.8V20.6H29.3ZM34.0,18.4H36.5V20.6H34.0ZM38.7,18.4H48.3V20.6H38.7ZM135.0,18.4H142.2V20.6H135.0ZM-67.1,16.3H-64.6V18.5H-67.1ZM-55.3,16.3H-34.0V18.5H-55.3ZM15.3,16.3H22.5V18.5H15.3ZM24.7,16.3H31.9V18.5H24.7ZM38.8,16.3H43.7V18.5H38.8ZM45.9,16.3H48.4V18.5H45.9ZM137.7,16.3H140.2V18.5H137.7ZM-69.6,14.3H-64.8V16.5H-69.6ZM-62.6,14.3H-60.0V16.5H-62.6ZM-55.5,14.3H-43.5V16.5H-55.5ZM17.7,14.3H20.2V16.5H17.7ZM22.4,14.3H36.7V16.5H22.4ZM41.3,14.3H48.5V16.5H41.3ZM133.4,14.3H140.6V16.5H133.4ZM-60.3,12.3H-41.3V14.5H-60.3ZM-39.0,12.3H-36.5V14.5H-39.0ZM13.0,12.3H15.5V14.5H13.0ZM27.2,12.3H29.7V14.5H27.2ZM31.9,12.3H34.5V14.5H31.9ZM36.7,12.3H48.6V14.5H36.7ZM138.4,12.3H140.9V14.5H138.4ZM-72.3,10.2H-69.8V12.4H-72.3ZM-58.1,10.2H-46.1V12.4H-58.1ZM-41.5,10.2H-36.6V12.4H-41.5ZM10.7,10.2H15.6V12.4H10.7ZM17.8,10.2H25.0V12.4H17.8ZM27.3,10.2H29.8V12.4H27.3ZM36.7,10.2H39.3V12.4H36.7ZM46.2,10.2H48.7V12.4H46.2ZM105.5,10.2H108.0V12.4H105.5ZM119.7,10.2H122.2V12.4H119.7ZM131.5,10.2H134.1V12.4H131.5ZM-62.9,8.2H-58.0V10.4H-62.9ZM-53.4,8.2H-41.4V10.4H-53.4ZM-39.2,8.2H-36.6V10.4H-39.2ZM8.3,8.2H10.8V10.4H8.3ZM15.4,8.2H18.0V10.4H15.4ZM27.3,8.2H36.9V10.4H27.3ZM100.9,8.2H103.4V10.4H100.9ZM105.6,8.2H122.4V10.4H105.6ZM-70.1,6.1H-67.6V8.3H-70.1ZM-65.4,6.1H-62.8V8.3H-65.4ZM-60.6,6.1H-58.1V8.3H-60.6ZM-44.0,6.1H-39.1V8.3H-44.0ZM8.3,6.1H13.2V8.3H8.3ZM15.4,6.1H18.0V8.3H15.4ZM20.2,6.1H32.2V8.3H20.2ZM39.2,6.1H41.7V8.3H39.2ZM96.3,6.1H105.9V8.3H96.3ZM112.9,6.1H115.4V8.3H112.9ZM117.6,6.1H120.2V8.3H117.6ZM-72.6,4.1H-67.6V6.3H-72.6ZM-65.4,4.1H-62.9V6.3H-65.4ZM-48.8,4.1H-41.5V6.3H-48.8ZM15.5,4.1H25.1V6.3H15.5ZM27.4,4.1H29.9V6.3H27.4ZM34.5,4.1H39.4V6.3H34.5ZM94.0,4.1H103.6V6.3H94.0ZM113.0,4.1H115.5V6.3H113.0ZM117.8,4.1H120.3V6.3H117.8ZM127.3,4.1H129.8V6.3H127.3ZM134.4,4.1H141.7V6.3H134.4ZM-70.2,2.0H-67.7V4.2H-70.2ZM-63.1,2.0H-58.2V4.2H-63.1ZM-48.8,2.0H-41.5V4.2H-48.8ZM13.1,2.0H20.4V4.2H13.1ZM22.6,2.0H25.1V4.2H22.6ZM27.4,2.0H41.8V4.2H27.4ZM91.7,2.0H94.2V4.2H91.7ZM96.4,2.0H115.6V4.2H96.4ZM127.4,2.0H129.9V4.2H127.4ZM141.6,2.0H146.6V4.2H141.6ZM-65.5,0.0H-63.0V2.2H-65.5ZM-48.8,0.0H-46.3V2.2H-48.8ZM-39.3,0.0H-36.8V2.2H-39.3ZM8.3,0.0H10.9V2.2H8.3ZM17.9,0.0H20.4V2.2H17.9ZM22.6,0.0H29.9V2.2H22.6ZM39.3,0.0H41.8V2.2H39.3ZM91.7,0.0H115.7V2.2H91.7ZM-67.9,-2.0H-60.6V0.1H-67.9ZM-58.3,-2.0H-55.8V0.1H-58.3ZM10.7,-2.0H13.2V0.1H10.7ZM20.2,-2.0H22.8V0.1H20.2ZM25.0,-2.0H27.5V0.1H25.0ZM32.2,-2.0H34.7V0.1H32.2ZM94.1,-2.0H101.4V0.1H94.1ZM106.0,-2.0H113.3V0.1H106.0ZM115.5,-2.0H118.0V0.1H115.5ZM-72.6,-4.1H-62.9V-1.9H-72.6ZM-58.3,-4.1H-55.8V-1.9H-58.3ZM-53.6,-4.1H-51.0V-1.9H-53.6ZM-1.2,-4.1H1.3V-1.9H-1.2ZM8.3,-4.1H10.9V-1.9H8.3ZM15.5,-4.1H22.8V-1.9H15.5ZM25.0,-4.1H29.9V-1.9H25.0ZM32.1,-4.1H34.7V-1.9H32.1ZM36.9,-4.1H39.4V-1.9H36.9ZM89.3,-4.1H101.3V-1.9H89.3ZM103.6,-4.1H108.5V-1.9H103.6ZM110.7,-4.1H115.6V-1.9H110.7ZM-77.3,-6.1H-62.9V-3.9H-77.3ZM-55.9,-6.1H-53.4V-3.9H-55.9ZM-3.6,-6.1H3.7V-3.9H-3.6ZM8.3,-6.1H15.6V-3.9H8.3ZM17.8,-6.1H27.5V-3.9H17.8ZM29.7,-6.1H39.4V-3.9H29.7ZM89.2,-6.1H101.3V-3.9H89.2ZM103.5,-6.1H115.5V-3.9H103.5ZM-72.5,-8.2H-65.2V-6.0H-72.5ZM-10.7,-8.2H15.6V-6.0H-10.7ZM25.0,-8.2H27.5V-6.0H25.0ZM29.7,-8.2H37.0V-6.0H29.7ZM72.5,-8.2H82.1V-6.0H72.5ZM89.1,-8.2H101.2V-6.0H89.1ZM105.8,-8.2H117.8V-6.0H105.8ZM-72.4,-10.2H-69.9V-8.0H-72.4ZM-67.7,-10.2H-65.1V-8.0H-67.7ZM-13.1,-10.2H15.6V-8.0H-13.1ZM17.8,-10.2H20.3V-8.0H17.8ZM22.6,-10.2H29.8V-8.0H22.6ZM32.0,-10.2H39.3V-8.0H32.0ZM74.8,-10.2H79.7V-8.0H74.8ZM91.4,-10.2H103.4V-8.0H91.4ZM112.8,-10.2H122.4V-8.0H112.8ZM-81.8,-12.3H-76.9V-10.1H-81.8ZM-72.3,-12.3H-65.0V-10.1H-72.3ZM-15.4,-12.3H-5.8V-10.1H-15.4ZM-3.6,-12.3H1.3V-10.1H-3.6ZM3.6,-12.3H15.6V-10.1H3.6ZM29.6,-12.3H32.1V-10.1H29.6ZM36.7,-12.3H39.3V-10.1H36.7ZM67.5,-12.3H79.5V-10.1H67.5ZM88.9,-12.3H100.9V-10.1H88.9ZM103.1,-12.3H105.6V-10.1H103.1ZM110.2,-12.3H122.2V-10.1H110.2ZM-81.6,-14.3H-79.1V-12.1H-81.6ZM-76.9,-14.3H-74.4V-12.1H-76.9ZM-15.4,-14.3H-12.9V-12.1H-15.4ZM-8.3,-14.3H1.3V-12.1H-8.3ZM3.5,-14.3H17.9V-12.1H3.5ZM20.1,-14.3H22.6V-12.1H20.1ZM27.2,-14.3H34.5V-12.1H27.2ZM36.7,-14.3H39.2V-12.1H36.7ZM67.4,-14.3H74.7V-12.1H67.4ZM88.7,-14.3H105.4V-12.1H88.7ZM110.0,-14.3H122.0V-12.1H110.0ZM-86.2,-16.3H-76.6V-14.2H-86.2ZM-15.3,-16.3H-8.1V-14.2H-15.3ZM-3.5,-16.3H13.1V-14.2H-3.5ZM15.3,-16.3H17.9V-14.2H15.3ZM20.1,-16.3H22.6V-14.2H20.1ZM29.5,-16.3H36.7V-14.2H29.5ZM67.3,-16.3H74.5V-14.2H67.3ZM76.7,-16.3H81.6V-14.2H76.7ZM86.2,-16.3H107.6V-14.2H86.2ZM109.8,-16.3H121.7V-14.2H109.8ZM-90.6,-18.4H-76.4V-16.2H-90.6ZM29.4,-18.4H34.3V-16.2H29.4ZM64.7,-18.4H81.4V-16.2H64.7ZM85.9,-18.4H104.9V-16.2H85.9ZM114.2,-18.4H119.0V-16.2H114.2ZM-90.4,-20.4H-83.2V-18.2H-90.4ZM-81.0,-20.4H-78.5V-18.2H-81.0ZM-64.6,-20.4H-62.1V-18.2H-64.6ZM-15.3,-20.4H-12.8V-18.2H-15.3ZM5.9,-20.4H8.4V-18.2H5.9ZM15.3,-20.4H17.8V-18.2H15.3ZM22.3,-20.4H24.8V-18.2H22.3ZM43.4,-20.4H45.9V-18.2H43.4ZM64.6,-20.4H67.1V-18.2H64.6ZM69.2,-20.4H107.0V-18.2H69.2ZM111.5,-20.4H118.7V-18.2H111.5ZM-92.4,-22.5H-89.9V-20.3H-92.4ZM-87.7,-22.5H-80.6V-20.3H-87.7ZM-78.4,-22.5H-75.9V-20.3H-78.4ZM-73.7,-22.5H-61.9V-20.3H-73.7ZM-1.2,-22.5H1.3V-20.3H-1.2ZM43.3,-22.5H45.8V-20.3H43.3ZM55.0,-22.5H57.5V-20.3H55.0ZM62.0,-22.5H83.2V-20.3H62.0ZM85.4,-22.5H118.3V-20.3H85.4ZM-99.1,-24.5H-96.6V-22.3H-99.1ZM-92.1,-24.5H-89.6V-22.3H-92.1ZM-80.5,-24.5H-61.7V-22.3H-80.5ZM33.8,-24.5H36.3V-22.3H33.8ZM61.8,-24.5H82.9V-22.3H61.8ZM85.1,-24.5H92.3V-22.3H85.1ZM94.5,-24.5H96.9V-22.3H94.5ZM99.1,-24.5H115.6V-22.3H99.1ZM-98.8,-26.6H-94.0V-24.4H-98.8ZM-89.5,-26.6H-87.0V-24.4H-89.5ZM-80.2,-26.6H-70.7V-24.4H-80.2ZM10.5,-26.6H12.9V-24.4H10.5ZM26.7,-26.6H33.8V-24.4H26.7ZM43.0,-26.6H45.5V-24.4H43.0ZM50.0,-26.6H52.4V-24.4H50.0ZM61.6,-26.6H66.4V-24.4H61.6ZM70.9,-26.6H89.6V-24.4H70.9ZM91.8,-26.6H103.6V-24.4H91.8ZM105.7,-26.6H110.5V-24.4H105.7ZM112.7,-26.6H115.2V-24.4H112.7ZM-93.7,-28.6H-91.3V-26.4H-93.7ZM-79.9,-28.6H-70.4V-26.4H-79.9ZM-1.2,-28.6H1.3V-26.4H-1.2ZM12.7,-28.6H15.2V-26.4H12.7ZM26.6,-28.6H31.4V-26.4H26.6ZM45.1,-28.6H47.6V-26.4H45.1ZM61.3,-28.6H114.7V-26.4H61.3ZM-100.2,-30.7H-95.5V-28.5H-100.2ZM-77.2,-30.7H-70.1V-28.5H-77.2ZM-8.1,-30.7H-5.6V-28.5H-8.1ZM-3.5,-30.7H-1.0V-28.5H-3.5ZM10.4,-30.7H12.8V-28.5H10.4ZM19.6,-30.7H22.0V-28.5H19.6ZM31.1,-30.7H33.6V-28.5H31.1ZM61.0,-30.7H84.2V-28.5H61.0ZM86.4,-30.7H114.2V-28.5H86.4ZM-104.2,-32.7H-101.8V-30.5H-104.2ZM-99.7,-32.7H-97.2V-30.5H-99.7ZM-83.6,-32.7H-81.2V-30.5H-83.6ZM-76.8,-32.7H-69.7V-30.5H-76.8ZM-1.1,-32.7H1.3V-30.5H-1.1ZM37.8,-32.7H40.2V-30.5H37.8ZM58.4,-32.7H60.9V-30.5H58.4ZM65.3,-32.7H67.7V-30.5H65.3ZM69.9,-32.7H76.9V-30.5H69.9ZM79.0,-32.7H83.8V-30.5H79.0ZM88.2,-32.7H99.8V-30.5H88.2ZM102.0,-32.7H113.6V-30.5H102.0ZM-105.9,-34.7H-98.9V-32.5H-105.9ZM-94.5,-34.7H-71.6V-32.5H-94.5ZM28.5,-34.7H30.9V-32.5H28.5ZM35.3,-34.7H37.7V-32.5H35.3ZM46.7,-34.7H49.1V-32.5H46.7ZM51.2,-34.7H58.2V-32.5H51.2ZM62.6,-34.7H65.0V-32.5H62.6ZM74.0,-34.7H76.4V-32.5H74.0ZM83.1,-34.7H85.5V-32.5H83.1ZM87.7,-34.7H115.1V-32.5H87.7ZM-87.1,-36.8H-71.1V-34.6H-87.1ZM1.1,-36.8H3.5V-34.6H1.1ZM7.9,-36.8H10.3V-34.6H7.9ZM59.9,-36.8H64.6V-34.6H59.9ZM66.7,-36.8H71.4V-34.6H66.7ZM73.5,-36.8H75.9V-34.6H73.5ZM87.1,-36.8H112.1V-34.6H87.1ZM118.7,-36.8H121.2V-34.6H118.7ZM-102.1,-38.8H-99.8V-36.6H-102.1ZM-97.7,-38.8H-90.8V-36.6H-97.7ZM-88.7,-38.8H-68.3V-36.6H-88.7ZM39.3,-38.8H41.7V-36.6H39.3ZM64.0,-38.8H70.9V-36.6H64.0ZM75.2,-38.8H79.8V-36.6H75.2ZM88.7,-38.8H102.3V-36.6H88.7ZM104.4,-38.8H113.5V-36.6H104.4ZM120.1,-38.8H122.5V-36.6H120.1ZM-96.9,-40.9H-94.5V-38.7H-96.9ZM-88.0,-40.9H-72.2V-38.7H-88.0ZM-70.2,-40.9H-65.5V-38.7H-70.2ZM25.6,-40.9H34.7V-38.7H25.6ZM61.2,-40.9H63.6V-38.7H61.2ZM79.1,-40.9H81.4V-38.7H79.1ZM85.7,-40.9H108.2V-38.7H85.7ZM114.7,-40.9H126.0V-38.7H114.7ZM-104.9,-42.9H-100.3V-40.7H-104.9ZM-89.4,-42.9H-62.8V-40.7H-89.4ZM-5.5,-42.9H-3.2V-40.7H-5.5ZM21.0,-42.9H32.2V-40.7H21.0ZM65.1,-42.9H67.5V-40.7H65.1ZM78.4,-42.9H80.7V-40.7H78.4ZM85.0,-42.9H102.8V-40.7H85.0ZM104.9,-42.9H118.3V-40.7H104.9ZM120.3,-42.9H122.7V-40.7H120.3ZM-103.9,-44.9H-99.4V-42.8H-103.9ZM-97.3,-44.9H-95.0V-42.8H-97.3ZM-90.8,-44.9H-88.4V-42.8H-90.8ZM-86.4,-44.9H-57.8V-42.8H-86.4ZM-7.7,-44.9H-5.3V-42.8H-7.7ZM-3.3,-44.9H1.2V-42.8H-3.3ZM16.4,-44.9H29.7V-42.8H16.4ZM31.7,-44.9H34.0V-42.8H31.7ZM42.6,-44.9H45.0V-42.8H42.6ZM64.5,-44.9H66.8V-42.8H64.5ZM88.6,-44.9H115.0V-42.8H88.6ZM117.0,-44.9H119.3V-42.8H117.0ZM123.6,-44.9H125.9V-42.8H123.6ZM-107.1,-46.9H-104.8V-44.8H-107.1ZM-102.8,-46.9H-100.5V-44.8H-102.8ZM-92.0,-46.9H-89.7V-44.8H-92.0ZM-87.7,-46.9H-81.0V-44.8H-87.7ZM-79.0,-46.9H-59.4V-44.8H-79.0ZM-55.2,-46.9H-52.9V-44.8H-55.2ZM-7.6,-46.9H14.2V-44.8H-7.6ZM16.2,-46.9H33.7V-44.8H16.2ZM61.7,-46.9H66.2V-44.8H61.7ZM68.2,-46.9H70.5V-44.8H68.2ZM81.2,-46.9H83.5V-44.8H81.2ZM96.3,-46.9H98.6V-44.8H96.3ZM105.0,-46.9H115.9V-44.8H105.0ZM-93.1,-49.0H-75.8V-46.8H-93.1ZM-73.9,-49.0H-67.3V-46.8H-73.9ZM-65.3,-49.0H-45.9V-46.8H-65.3ZM-9.6,-49.0H18.3V-46.8H-9.6ZM20.3,-49.0H24.8V-46.8H20.3ZM26.8,-49.0H35.5V-46.8H26.8ZM63.2,-49.0H65.4V-46.8H63.2ZM93.1,-49.0H97.6V-46.8H93.1ZM101.7,-49.0H112.5V-46.8H101.7ZM114.5,-49.0H116.8V-46.8H114.5ZM-106.9,-51.0H-104.6V-48.8H-106.9ZM-100.5,-51.0H-96.1V-48.8H-100.5ZM-92.1,-51.0H-75.0V-48.8H-92.1ZM-68.8,-51.0H-66.5V-48.8H-68.8ZM-62.4,-51.0H-45.4V-48.8H-62.4ZM-43.4,-51.0H-41.1V-48.8H-43.4ZM-3.2,-51.0H37.2V-48.8H-3.2ZM66.7,-51.0H68.9V-48.8H66.7ZM73.0,-51.0H75.3V-48.8H73.0ZM79.4,-51.0H81.6V-48.8H79.4ZM87.8,-51.0H94.3V-48.8H87.8ZM104.8,-51.0H111.3V-48.8H104.8ZM-103.5,-53.0H-101.3V-50.8H-103.5ZM-99.3,-53.0H-97.1V-50.8H-99.3ZM-95.1,-53.0H-88.7V-50.8H-95.1ZM-86.8,-53.0H-74.1V-50.8H-86.8ZM-65.9,-53.0H-63.6V-50.8H-65.9ZM-57.5,-53.0H-55.3V-50.8H-57.5ZM-51.2,-53.0H-46.9V-50.8H-51.2ZM-1.0,-53.0H36.7V-50.8H-1.0ZM45.0,-53.0H47.2V-50.8H45.0ZM72.1,-53.0H74.4V-50.8H72.1ZM78.4,-53.0H80.7V-50.8H78.4ZM101.4,-53.0H116.2V-50.8H101.4ZM-106.3,-54.9H-104.1V-52.8H-106.3ZM-96.0,-54.9H-77.3V-52.8H-96.0ZM-75.3,-54.9H-71.1V-52.8H-75.3ZM-63.0,-54.9H-60.7V-52.8H-63.0ZM-58.8,-54.9H-56.6V-52.8H-58.8ZM-54.7,-54.9H-48.4V-52.8H-54.7ZM-9.3,-54.9H-0.9V-52.8H-9.3ZM1.0,-54.9H9.4V-52.8H1.0ZM11.4,-54.9H40.4V-52.8H11.4ZM42.3,-54.9H44.5V-52.8H42.3ZM65.0,-54.9H67.2V-52.8H65.0ZM75.3,-54.9H77.6V-52.8H75.3ZM104.2,-54.9H106.5V-52.8H104.2ZM108.4,-54.9H112.7V-52.8H108.4ZM-102.8,-56.9H-100.6V-54.8H-102.8ZM-94.7,-56.9H-78.2V-54.8H-94.7ZM-72.3,-56.9H-70.1V-54.8H-72.3ZM-60.1,-56.9H-57.9V-54.8H-60.1ZM-56.0,-56.9H-51.8V-54.8H-56.0ZM-49.9,-56.9H-45.7V-54.8H-49.9ZM-43.8,-56.9H-41.6V-54.8H-43.8ZM-9.2,-56.9H15.4V-54.8H-9.2ZM17.3,-56.9H46.0V-54.8H17.3ZM56.0,-56.9H58.2V-54.8H56.0ZM62.1,-56.9H66.3V-54.8H62.1ZM68.2,-56.9H70.4V-54.8H68.2ZM74.3,-56.9H84.6V-54.8H74.3ZM86.5,-56.9H88.7V-54.8H86.5ZM102.8,-56.9H113.1V-54.8H102.8ZM123.2,-56.9H127.4V-54.8H123.2ZM-129.3,-58.8H-127.2V-56.7H-129.3ZM-109.3,-58.8H-107.1V-56.7H-109.3ZM-105.3,-58.8H-103.1V-56.7H-105.3ZM-95.3,-58.8H-87.1V-56.7H-95.3ZM-85.2,-58.8H-83.1V-56.7H-85.2ZM-71.2,-58.8H-69.0V-56.7H-71.2ZM-63.2,-58.8H-61.0V-56.7H-63.2ZM-11.0,-58.8H-0.9V-56.7H-11.0ZM1.0,-58.8H23.2V-56.7H1.0ZM25.1,-58.8H33.2V-56.7H25.1ZM37.1,-58.8H45.3V-56.7H37.1ZM49.1,-58.8H57.3V-56.7H49.1ZM61.2,-58.8H65.3V-56.7H61.2ZM67.2,-58.8H77.4V-56.7H67.2ZM79.2,-58.8H87.4V-56.7H79.2ZM97.3,-58.8H99.4V-56.7H97.3ZM103.3,-58.8H105.4V-56.7H103.3ZM111.3,-58.8H113.5V-56.7H111.3ZM125.3,-58.8H127.5V-56.7H125.3ZM-129.3,-60.7H-123.2V-58.7H-129.3ZM-95.7,-60.7H-83.7V-58.7H-95.7ZM-64.2,-60.7H-62.0V-58.7H-64.2ZM-56.3,-60.7H-54.1V-58.7H-56.3ZM-6.9,-60.7H15.0V-58.7H-6.9ZM16.8,-60.7H30.7V-58.7H16.8ZM32.6,-60.7H46.5V-58.7H32.6ZM48.4,-60.7H68.3V-58.7H48.4ZM72.0,-60.7H80.1V-58.7H72.0ZM81.9,-60.7H84.0V-58.7H81.9ZM85.9,-60.7H90.0V-58.7H85.9ZM93.8,-60.7H95.9V-58.7H93.8ZM121.4,-60.7H123.5V-58.7H121.4ZM125.3,-60.7H127.5V-58.7H125.3ZM129.3,-60.7H131.4V-58.7H129.3ZM-129.1,-62.6H-121.2V-60.6H-129.1ZM-119.4,-62.6H-115.4V-60.6H-119.4ZM-101.9,-62.6H-99.8V-60.6H-101.9ZM-92.2,-62.6H-90.1V-60.6H-92.2ZM-88.3,-62.6H-86.2V-60.6H-88.3ZM-84.5,-62.6H-82.4V-60.6H-84.5ZM-70.9,-62.6H-68.8V-60.6H-70.9ZM-55.3,-62.6H-53.2V-60.6H-55.3ZM-49.5,-62.6H-47.4V-60.6H-49.5ZM-6.8,-62.6H12.8V-60.6H-6.8ZM14.6,-62.6H67.1V-60.6H14.6ZM68.9,-62.6H71.0V-60.6H68.9ZM72.8,-62.6H82.7V-60.6H72.8ZM86.4,-62.6H88.5V-60.6H86.4ZM98.0,-62.6H100.1V-60.6H98.0ZM121.3,-62.6H123.4V-60.6H121.3ZM125.2,-62.6H127.3V-60.6H125.2ZM-128.8,-64.5H-122.9V-62.5H-128.8ZM-119.2,-64.5H-113.4V-62.5H-119.2ZM-111.6,-64.5H-109.6V-62.5H-111.6ZM-107.8,-64.5H-105.7V-62.5H-107.8ZM-96.3,-64.5H-94.3V-62.5H-96.3ZM-88.7,-64.5H-86.7V-62.5H-88.7ZM-83.0,-64.5H-80.9V-62.5H-83.0ZM-62.0,-64.5H-59.9V-62.5H-62.0ZM-6.7,-64.5H1.1V-62.5H-6.7ZM2.9,-64.5H43.1V-62.5H2.9ZM44.8,-64.5H46.9V-62.5H44.8ZM48.7,-64.5H50.7V-62.5H48.7ZM52.5,-64.5H54.5V-62.5H52.5ZM56.3,-64.5H64.1V-62.5H56.3ZM65.8,-64.5H71.7V-62.5H65.8ZM73.5,-64.5H79.3V-62.5H73.5ZM83.0,-64.5H87.0V-62.5H83.0ZM94.4,-64.5H96.5V-62.5H94.4ZM98.3,-64.5H100.3V-62.5H98.3ZM109.7,-64.5H111.8V-62.5H109.7ZM128.8,-64.5H130.8V-62.5H128.8ZM132.6,-64.5H134.7V-62.5H132.6ZM-126.5,-66.4H-122.6V-64.4H-126.5ZM-120.8,-66.4H-113.2V-64.4H-120.8ZM-105.9,-66.4H-103.8V-64.4H-105.9ZM-77.8,-66.4H-75.7V-64.4H-77.8ZM0.9,-66.4H23.6V-64.4H0.9ZM25.3,-66.4H42.3V-64.4H25.3ZM60.9,-66.4H68.5V-64.4H60.9ZM70.3,-66.4H72.3V-64.4H70.3ZM89.0,-66.4H91.0V-64.4H89.0ZM94.6,-66.4H96.6V-64.4H94.6ZM109.6,-66.4H111.6V-64.4H109.6ZM120.8,-66.4H126.6V-64.4H120.8ZM-125.9,-68.2H-122.1V-66.2H-125.9ZM-103.9,-68.2H-101.9V-66.2H-103.9ZM-76.3,-68.2H-74.3V-66.2H-76.3ZM4.6,-68.2H10.3V-66.2H4.6ZM11.9,-68.2H26.8V-66.2H11.9ZM28.5,-68.2H39.7V-66.2H28.5ZM52.4,-68.2H54.4V-66.2H52.4ZM59.7,-68.2H65.4V-66.2H59.7ZM67.1,-68.2H69.1V-66.2H67.1ZM70.8,-68.2H72.8V-66.2H70.8ZM83.6,-68.2H85.6V-66.2H83.6ZM89.2,-68.2H91.1V-66.2H89.2ZM92.8,-68.2H94.8V-66.2H92.8ZM109.4,-68.2H113.2V-66.2H109.4ZM120.4,-68.2H122.4V-66.2H120.4ZM129.6,-68.2H131.6V-66.2H129.6ZM-125.3,-70.0H-121.5V-68.0H-125.3ZM-109.1,-70.0H-107.1V-68.0H-109.1ZM-96.4,-70.0H-92.7V-68.0H-96.4ZM-91.0,-70.0H-87.3V-68.0H-91.0ZM-83.8,-70.0H-81.9V-68.0H-83.8ZM-76.6,-70.0H-74.7V-68.0H-76.6ZM-13.5,-70.0H-11.6V-68.0H-13.5ZM-9.9,-70.0H-8.0V-68.0H-9.9ZM8.1,-70.0H19.1V-68.0H8.1ZM20.7,-70.0H40.7V-68.0H20.7ZM42.4,-70.0H44.3V-68.0H42.4ZM46.0,-70.0H47.9V-68.0H46.0ZM55.0,-70.0H58.7V-68.0H55.0ZM110.9,-70.0H112.8V-68.0H110.9ZM125.3,-70.0H127.2V-68.0H125.3ZM-121.0,-71.7H-119.1V-69.8H-121.0ZM-117.4,-71.7H-115.5V-69.8H-117.4ZM-113.9,-71.7H-112.0V-69.8H-113.9ZM-99.8,-71.7H-96.1V-69.8H-99.8ZM7.9,-71.7H13.4V-69.8H7.9ZM15.0,-71.7H24.0V-69.8H15.0ZM25.6,-71.7H32.8V-69.8H25.6ZM45.0,-71.7H46.9V-69.8H45.0ZM64.5,-71.7H66.4V-69.8H64.5ZM94.5,-71.7H96.4V-69.8H94.5ZM98.0,-71.7H99.9V-69.8H98.0ZM101.5,-71.7H103.5V-69.8H101.5ZM-120.1,-73.5H-118.3V-71.6H-120.1ZM-113.2,-73.5H-111.3V-71.6H-113.2ZM-109.8,-73.5H-107.9V-71.6H-109.8ZM-106.3,-73.5H-104.4V-71.6H-106.3ZM-99.4,-73.5H-97.5V-71.6H-99.4ZM-90.8,-73.5H-88.9V-71.6H-90.8ZM9.5,-73.5H11.4V-71.6H9.5ZM13.0,-73.5H28.7V-71.6H13.0ZM42.4,-73.5H46.0V-71.6H42.4ZM59.6,-73.5H61.5V-71.6H59.6ZM66.6,-73.5H70.2V-71.6H66.6ZM73.5,-73.5H75.3V-71.6H73.5ZM76.9,-73.5H78.8V-71.6H76.9ZM94.2,-73.5H96.1V-71.6H94.2ZM115.0,-73.5H116.8V-71.6H115.0ZM-107.3,-75.1H-105.5V-73.3H-107.3ZM-97.2,-75.1H-95.3V-73.3H-97.2ZM-71.8,-75.1H-70.0V-73.3H-71.8ZM-65.1,-75.1H-63.2V-73.3H-65.1ZM14.4,-75.1H21.3V-73.3H14.4ZM22.8,-75.1H24.7V-73.3H22.8ZM43.1,-75.1H44.9V-73.3H43.1ZM53.2,-75.1H55.1V-73.3H53.2ZM98.9,-75.1H100.7V-73.3H98.9ZM107.3,-75.1H112.5V-73.3H107.3ZM-71.8,-76.8H-70.0V-75.0H-71.8ZM55.3,-76.8H57.1V-75.0H55.3ZM66.8,-76.8H68.6V-75.0H66.8ZM81.7,-76.8H83.5V-75.0H81.7ZM91.6,-76.8H93.4V-75.0H91.6ZM101.5,-76.8H103.3V-75.0H101.5ZM-77.3,-79.9H-75.6V-78.2H-77.3ZM-51.9,-84.0H-50.3V-82.6H-51.9Z"/></g><use href="#cst"/><use href="#frm"/></g><rect x="38.10" y="327.2" width="30.39" height="15.4" fill="#3d12f0" stroke="#000" stroke-width="0.6"/><rect x="68.49" y="327.2" width="30.39" height="15.4" fill="#3c5ae0" stroke="#000" stroke-width="0.6"/><rect x="98.88" y="327.2" width="30.39" height="15.4" fill="#1e96fa" stroke="#000" stroke-width="0.6"/><rect x="129.27" y="327.2" width="30.39" height="15.4" fill="#50bef0" stroke="#000" stroke-width="0.6"/><rect x="159.66" y="327.2" width="30.39" height="15.4" fill="#c8e6f5" stroke="#000" stroke-width="0.6"/><rect x="190.04" y="327.2" width="30.39" height="15.4" fill="#ffd732" stroke="#000" stroke-width="0.6"/><rect x="220.43" y="327.2" width="30.39" height="15.4" fill="#ff8c00" stroke="#000" stroke-width="0.6"/><rect x="250.82" y="327.2" width="30.39" height="15.4" fill="#ff0000" stroke="#000" stroke-width="0.6"/><rect x="281.21" y="327.2" width="30.39" height="15.4" fill="#d7282d" stroke="#000" stroke-width="0.6"/><rect x="388.00" y="327.2" width="30.39" height="15.4" fill="#3d12f0" stroke="#000" stroke-width="0.6"/><rect x="418.39" y="327.2" width="30.39" height="15.4" fill="#3c5ae0" stroke="#000" stroke-width="0.6"/><rect x="448.78" y="327.2" width="30.39" height="15.4" fill="#1e96fa" stroke="#000" stroke-width="0.6"/><rect x="479.17" y="327.2" width="30.39" height="15.4" fill="#50bef0" stroke="#000" stroke-width="0.6"/><rect x="509.56" y="327.2" width="30.39" height="15.4" fill="#c8e6f5" stroke="#000" stroke-width="0.6"/><rect x="539.94" y="327.2" width="30.39" height="15.4" fill="#ffd732" stroke="#000" stroke-width="0.6"/><rect x="570.33" y="327.2" width="30.39" height="15.4" fill="#ff8c00" stroke="#000" stroke-width="0.6"/><rect x="600.72" y="327.2" width="30.39" height="15.4" fill="#ff0000" stroke="#000" stroke-width="0.6"/><rect x="631.11" y="327.2" width="30.39" height="15.4" fill="#d7282d" stroke="#000" stroke-width="0.6"/><rect x="34.30" y="604.4" width="20.27" height="15.0" fill="#3c14f0" stroke="#000" stroke-width="0.6"/><rect x="54.57" y="604.4" width="20.27" height="15.0" fill="#1e28f0" stroke="#000" stroke-width="0.6"/><rect x="74.84" y="604.4" width="20.27" height="15.0" fill="#3c64e6" stroke="#000" stroke-width="0.6"/><rect x="95.11" y="604.4" width="20.27" height="15.0" fill="#2090ff" stroke="#000" stroke-width="0.6"/><rect x="115.39" y="604.4" width="20.27" height="15.0" fill="#00b4ff" stroke="#000" stroke-width="0.6"/><rect x="135.66" y="604.4" width="20.27" height="15.0" fill="#5abef0" stroke="#000" stroke-width="0.6"/><rect x="155.93" y="604.4" width="20.27" height="15.0" fill="#b4dcf0" stroke="#000" stroke-width="0.6"/><rect x="176.20" y="604.4" width="20.27" height="15.0" fill="#fff8a0" stroke="#000" stroke-width="0.6"/><rect x="196.47" y="604.4" width="20.27" height="15.0" fill="#ffdc28" stroke="#000" stroke-width="0.6"/><rect x="216.74" y="604.4" width="20.27" height="15.0" fill="#ffb400" stroke="#000" stroke-width="0.6"/><rect x="237.01" y="604.4" width="20.27" height="15.0" fill="#ff8214" stroke="#000" stroke-width="0.6"/><rect x="257.29" y="604.4" width="20.27" height="15.0" fill="#ff3200" stroke="#000" stroke-width="0.6"/><rect x="277.56" y="604.4" width="20.27" height="15.0" fill="#e60000" stroke="#000" stroke-width="0.6"/><rect x="297.83" y="604.4" width="20.27" height="15.0" fill="#d23232" stroke="#000" stroke-width="0.6"/><text x="38.1" y="356.6" font-size="12.25" text-anchor="middle">-.0</text><text x="68.5" y="356.6" font-size="12.25" text-anchor="middle">.0</text><text x="98.9" y="356.6" font-size="12.25" text-anchor="middle">.05</text><text x="129.3" y="356.6" font-size="12.25" text-anchor="middle">.1</text><text x="159.7" y="356.6" font-size="12.25" text-anchor="middle">.15</text><text x="190.0" y="356.6" font-size="12.25" text-anchor="middle">.2</text><text x="220.4" y="356.6" font-size="12.25" text-anchor="middle">.25</text><text x="250.8" y="356.6" font-size="12.25" text-anchor="middle">.3</text><text x="281.2" y="356.6" font-size="12.25" text-anchor="middle">.35</text><text x="311.6" y="356.6" font-size="12.25" text-anchor="middle">.6483</text><text x="388.0" y="356.6" font-size="12.25" text-anchor="middle">-.0</text><text x="418.4" y="356.6" font-size="12.25" text-anchor="middle">.0</text><text x="448.8" y="356.6" font-size="12.25" text-anchor="middle">.05</text><text x="479.2" y="356.6" font-size="12.25" text-anchor="middle">.1</text><text x="509.6" y="356.6" font-size="12.25" text-anchor="middle">.15</text><text x="539.9" y="356.6" font-size="12.25" text-anchor="middle">.2</text><text x="570.3" y="356.6" font-size="12.25" text-anchor="middle">.25</text><text x="600.7" y="356.6" font-size="12.25" text-anchor="middle">.3</text><text x="631.1" y="356.6" font-size="12.25" text-anchor="middle">.35</text><text x="661.5" y="356.6" font-size="12.25" text-anchor="middle">.648</text><text x="34.3" y="633.6" font-size="12.25" text-anchor="middle">-.13724</text><text x="95.1" y="633.6" font-size="12.25" text-anchor="middle">-.04</text><text x="135.7" y="633.6" font-size="12.25" text-anchor="middle">-.02</text><text x="176.2" y="633.6" font-size="12.25" text-anchor="middle">.00</text><text x="216.7" y="633.6" font-size="12.25" text-anchor="middle">.02</text><text x="257.3" y="633.6" font-size="12.25" text-anchor="middle">.04</text><text x="318.1" y="633.6" font-size="12.25" text-anchor="middle">.27659</text><text x="350.4" y="81.9" font-size="19.4" text-anchor="middle">JJA FROOTC (kgC/m^2)</text><text x="175.6" y="110.2" font-size="15.85" text-anchor="middle">Myccost_I2000Clm50BgcCrop_kparams</text><text x="175.4" y="128.0" font-size="15.85" text-anchor="middle">(yrs 1-14)</text><text x="525.1" y="110.2" font-size="15.72" text-anchor="middle">Myccost_I2000Clm50BgcCrop_control</text><text x="526.0" y="128.0" font-size="15.85" text-anchor="middle">(yrs 1-14)</text><text x="175.7" y="387.1" font-size="15.85" text-anchor="middle">Myccost_I2000Clm50BgcCrop_kparams</text><text x="175.7" y="404.7" font-size="15.85" text-anchor="middle">- Myccost_I2000Clm50BgcCrop_control</text><text x="526.2" y="397.1" font-size="15.9" text-anchor="middle">T-Test of two Case means at each grid point</text><text x="524.6" y="624.8" font-size="12.75" text-anchor="middle">Cells are significant at 0.1 level</text></svg></body></html>
